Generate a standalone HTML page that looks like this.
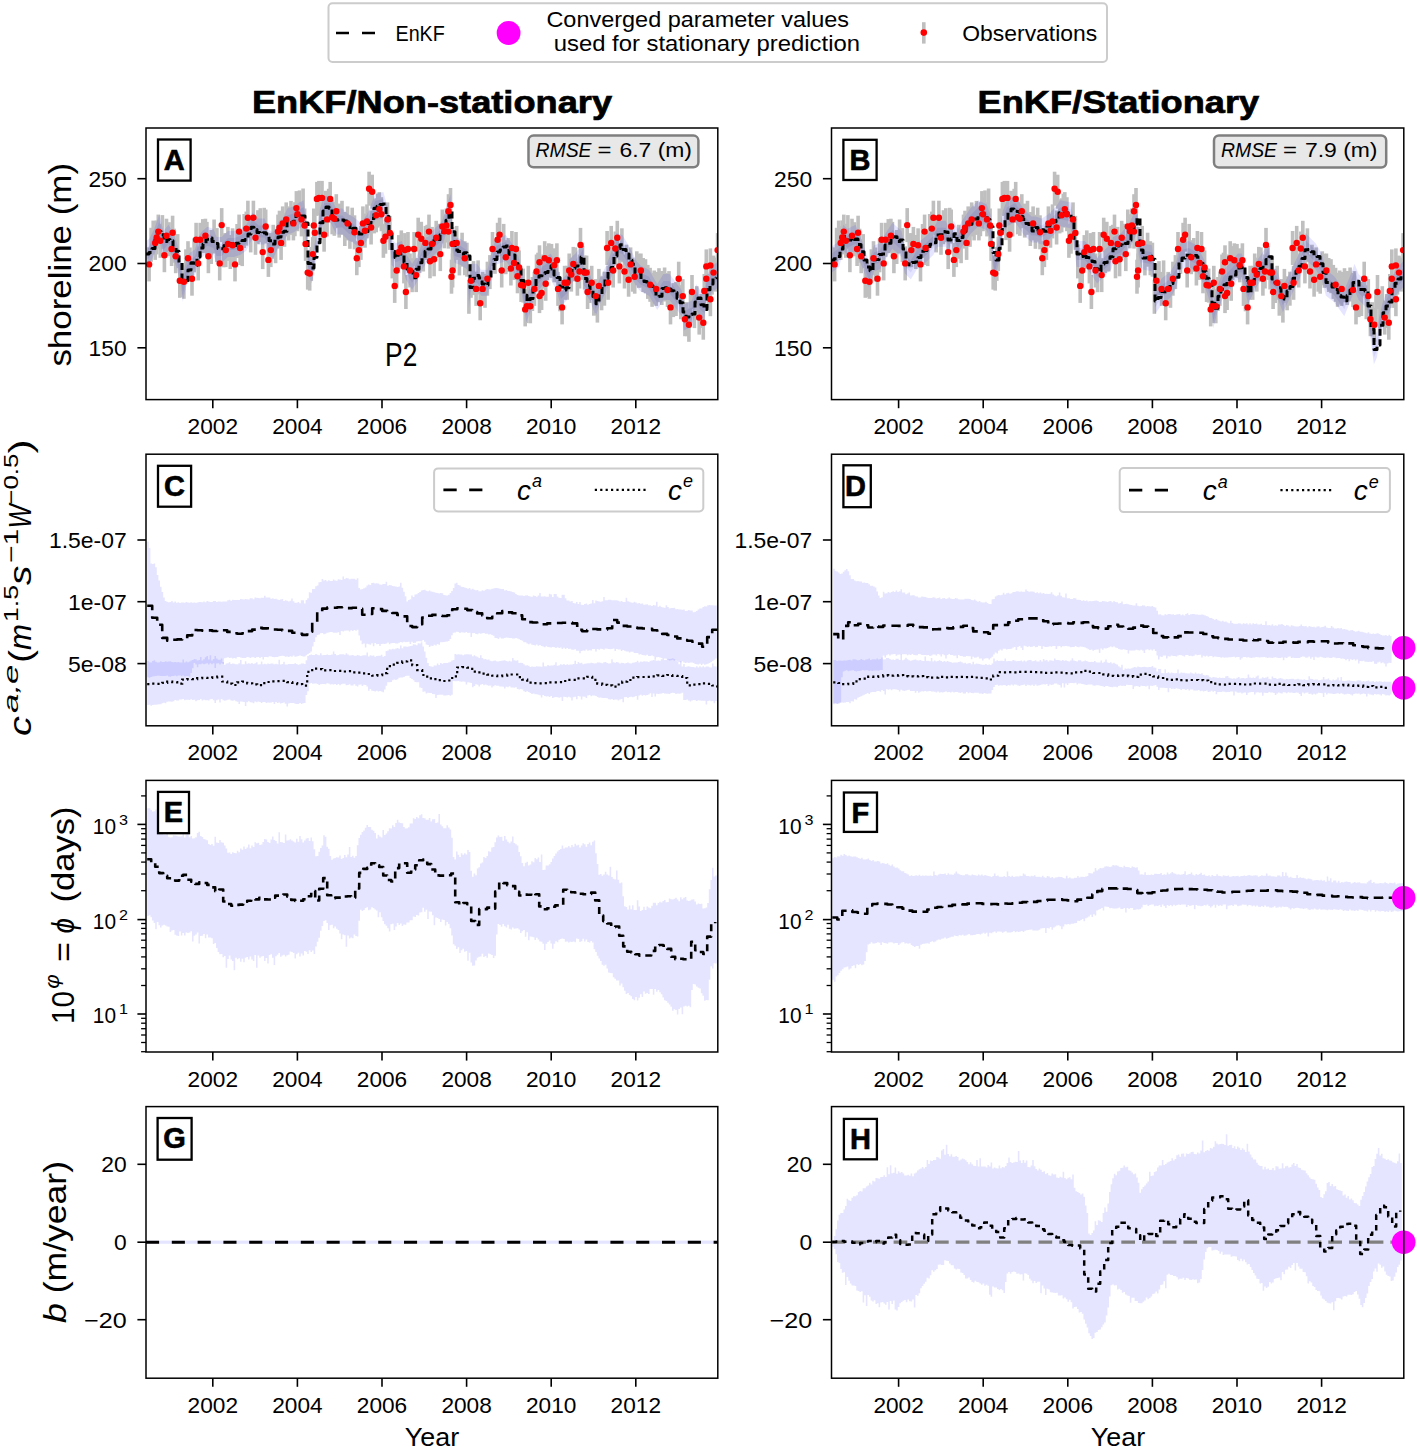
<!DOCTYPE html><html><head><meta charset="utf-8"><style>html,body{margin:0;padding:0;background:#fff;}svg{display:block;}text{font-family:"Liberation Sans", sans-serif;}</style></head><body>
<svg width="1417" height="1447" viewBox="0 0 1417 1447">
<rect x="0" y="0" width="1417" height="1447" fill="#fff"/>
<defs>
<clipPath id="c00"><rect x="146.0" y="128.0" width="571.8" height="271.6"/></clipPath>
<clipPath id="c01"><rect x="146.0" y="454.2" width="571.8" height="271.6"/></clipPath>
<clipPath id="c02"><rect x="146.0" y="780.4" width="571.8" height="271.6"/></clipPath>
<clipPath id="c03"><rect x="146.0" y="1106.6" width="571.8" height="271.6"/></clipPath>
<clipPath id="c10"><rect x="831.5" y="128.0" width="572.3" height="271.6"/></clipPath>
<clipPath id="c11"><rect x="831.5" y="454.2" width="572.3" height="271.6"/></clipPath>
<clipPath id="c12"><rect x="831.5" y="780.4" width="572.3" height="271.6"/></clipPath>
<clipPath id="c13"><rect x="831.5" y="1106.6" width="572.3" height="271.6"/></clipPath>
</defs>
<rect x="328.5" y="3.3" width="778.5" height="58.7" rx="4" ry="4" fill="#fff" stroke="#cccccc" stroke-width="2"/>
<line x1="336" y1="33" x2="376" y2="33" stroke="#000" stroke-width="2.6" stroke-dasharray="13,13"/>
<text x="395.5" y="40.8" font-size="21.3" text-anchor="start" font-weight="normal" font-style="normal" fill="#000" textLength="49.3" lengthAdjust="spacingAndGlyphs" >EnKF</text>
<circle cx="508.6" cy="33" r="11.9" fill="#ff00ff"/>
<text x="546.4" y="26.9" font-size="21.3" text-anchor="start" font-weight="normal" font-style="normal" fill="#000" textLength="302.6" lengthAdjust="spacingAndGlyphs" >Converged parameter values</text>
<text x="553.7" y="50.6" font-size="21.3" text-anchor="start" font-weight="normal" font-style="normal" fill="#000" textLength="306.3" lengthAdjust="spacingAndGlyphs" >used for stationary prediction</text>
<rect x="922" y="22.2" width="3.6" height="21.4" fill="#bfbfbf"/>
<circle cx="923.8" cy="32.6" r="3.3" fill="#ff0000"/>
<text x="962.3" y="40.8" font-size="21.3" text-anchor="start" font-weight="normal" font-style="normal" fill="#000" textLength="134.9" lengthAdjust="spacingAndGlyphs" >Observations</text>
<text x="432.0" y="112.5" font-size="31.8" text-anchor="middle" font-weight="bold" font-style="normal" fill="#000" textLength="360.1" lengthAdjust="spacingAndGlyphs" stroke="#000" stroke-width="0.7">EnKF/Non-stationary</text>
<text x="1118.4" y="112.5" font-size="31.8" text-anchor="middle" font-weight="bold" font-style="normal" fill="#000" textLength="281.6" lengthAdjust="spacingAndGlyphs" stroke="#000" stroke-width="0.7">EnKF/Stationary</text>
<g clip-path="url(#c00)">
<rect x="147.3" y="247.4" width="3.6" height="34" fill="#bfbfbf"/>
<rect x="153.4" y="225.9" width="3.6" height="34" fill="#bfbfbf"/>
<rect x="156.5" y="214.6" width="3.6" height="34" fill="#bfbfbf"/>
<rect x="158.5" y="223.8" width="3.6" height="34" fill="#bfbfbf"/>
<rect x="162.6" y="238.2" width="3.6" height="34" fill="#bfbfbf"/>
<rect x="164.7" y="218.7" width="3.6" height="34" fill="#bfbfbf"/>
<rect x="170.8" y="215.7" width="3.6" height="34" fill="#bfbfbf"/>
<rect x="169.8" y="232.0" width="3.6" height="34" fill="#bfbfbf"/>
<rect x="173.9" y="239.2" width="3.6" height="34" fill="#bfbfbf"/>
<rect x="178.0" y="263.8" width="3.6" height="34" fill="#bfbfbf"/>
<rect x="182.1" y="264.8" width="3.6" height="34" fill="#bfbfbf"/>
<rect x="186.2" y="241.2" width="3.6" height="34" fill="#bfbfbf"/>
<rect x="190.2" y="261.7" width="3.6" height="34" fill="#bfbfbf"/>
<rect x="194.3" y="222.8" width="3.6" height="34" fill="#bfbfbf"/>
<rect x="196.4" y="246.4" width="3.6" height="34" fill="#bfbfbf"/>
<rect x="198.4" y="222.8" width="3.6" height="34" fill="#bfbfbf"/>
<rect x="203.6" y="218.7" width="3.6" height="34" fill="#bfbfbf"/>
<rect x="206.6" y="239.2" width="3.6" height="34" fill="#bfbfbf"/>
<rect x="217.9" y="246.4" width="3.6" height="34" fill="#bfbfbf"/>
<rect x="219.9" y="208.1" width="3.6" height="34" fill="#bfbfbf"/>
<rect x="224.0" y="233.1" width="3.6" height="34" fill="#bfbfbf"/>
<rect x="226.1" y="226.9" width="3.6" height="34" fill="#bfbfbf"/>
<rect x="233.2" y="247.4" width="3.6" height="34" fill="#bfbfbf"/>
<rect x="237.3" y="214.6" width="3.6" height="34" fill="#bfbfbf"/>
<rect x="238.3" y="231.0" width="3.6" height="34" fill="#bfbfbf"/>
<rect x="244.5" y="211.6" width="3.6" height="34" fill="#bfbfbf"/>
<rect x="246.1" y="200.7" width="3.6" height="34" fill="#bfbfbf"/>
<rect x="251.6" y="200.7" width="3.6" height="34" fill="#bfbfbf"/>
<rect x="253.7" y="220.8" width="3.6" height="34" fill="#bfbfbf"/>
<rect x="260.9" y="235.1" width="3.6" height="34" fill="#bfbfbf"/>
<rect x="263.9" y="209.5" width="3.6" height="34" fill="#bfbfbf"/>
<rect x="266.6" y="242.9" width="3.6" height="34" fill="#bfbfbf"/>
<rect x="269.0" y="233.1" width="3.6" height="34" fill="#bfbfbf"/>
<rect x="276.2" y="214.6" width="3.6" height="34" fill="#bfbfbf"/>
<rect x="279.3" y="225.9" width="3.6" height="34" fill="#bfbfbf"/>
<rect x="280.9" y="206.4" width="3.6" height="34" fill="#bfbfbf"/>
<rect x="284.4" y="202.4" width="3.6" height="34" fill="#bfbfbf"/>
<rect x="291.6" y="206.4" width="3.6" height="34" fill="#bfbfbf"/>
<rect x="294.6" y="191.1" width="3.6" height="34" fill="#bfbfbf"/>
<rect x="295.7" y="197.2" width="3.6" height="34" fill="#bfbfbf"/>
<rect x="299.7" y="202.4" width="3.6" height="34" fill="#bfbfbf"/>
<rect x="302.8" y="208.5" width="3.6" height="34" fill="#bfbfbf"/>
<rect x="303.8" y="226.9" width="3.6" height="34" fill="#bfbfbf"/>
<rect x="305.9" y="255.6" width="3.6" height="34" fill="#bfbfbf"/>
<rect x="307.9" y="256.6" width="3.6" height="34" fill="#bfbfbf"/>
<rect x="311.0" y="237.1" width="3.6" height="34" fill="#bfbfbf"/>
<rect x="312.0" y="208.5" width="3.6" height="34" fill="#bfbfbf"/>
<rect x="313.0" y="215.7" width="3.6" height="34" fill="#bfbfbf"/>
<rect x="315.1" y="181.9" width="3.6" height="34" fill="#bfbfbf"/>
<rect x="317.1" y="180.9" width="3.6" height="34" fill="#bfbfbf"/>
<rect x="320.2" y="180.9" width="3.6" height="34" fill="#bfbfbf"/>
<rect x="322.3" y="217.7" width="3.6" height="34" fill="#bfbfbf"/>
<rect x="325.3" y="202.4" width="3.6" height="34" fill="#bfbfbf"/>
<rect x="328.4" y="181.9" width="3.6" height="34" fill="#bfbfbf"/>
<rect x="330.4" y="200.3" width="3.6" height="34" fill="#bfbfbf"/>
<rect x="334.5" y="194.2" width="3.6" height="34" fill="#bfbfbf"/>
<rect x="345.8" y="206.4" width="3.6" height="34" fill="#bfbfbf"/>
<rect x="355.0" y="241.2" width="3.6" height="34" fill="#bfbfbf"/>
<rect x="357.1" y="233.1" width="3.6" height="34" fill="#bfbfbf"/>
<rect x="359.1" y="225.9" width="3.6" height="34" fill="#bfbfbf"/>
<rect x="361.1" y="206.4" width="3.6" height="34" fill="#bfbfbf"/>
<rect x="365.2" y="204.4" width="3.6" height="34" fill="#bfbfbf"/>
<rect x="367.3" y="171.7" width="3.6" height="34" fill="#bfbfbf"/>
<rect x="370.4" y="174.7" width="3.6" height="34" fill="#bfbfbf"/>
<rect x="369.3" y="210.5" width="3.6" height="34" fill="#bfbfbf"/>
<rect x="374.4" y="198.3" width="3.6" height="34" fill="#bfbfbf"/>
<rect x="377.5" y="192.1" width="3.6" height="34" fill="#bfbfbf"/>
<rect x="379.6" y="197.2" width="3.6" height="34" fill="#bfbfbf"/>
<rect x="381.6" y="223.8" width="3.6" height="34" fill="#bfbfbf"/>
<rect x="383.7" y="219.7" width="3.6" height="34" fill="#bfbfbf"/>
<rect x="385.7" y="202.4" width="3.6" height="34" fill="#bfbfbf"/>
<rect x="392.9" y="268.9" width="3.6" height="34" fill="#bfbfbf"/>
<rect x="394.9" y="253.5" width="3.6" height="34" fill="#bfbfbf"/>
<rect x="397.0" y="235.1" width="3.6" height="34" fill="#bfbfbf"/>
<rect x="402.1" y="249.4" width="3.6" height="34" fill="#bfbfbf"/>
<rect x="403.1" y="233.1" width="3.6" height="34" fill="#bfbfbf"/>
<rect x="404.1" y="275.0" width="3.6" height="34" fill="#bfbfbf"/>
<rect x="406.2" y="232.0" width="3.6" height="34" fill="#bfbfbf"/>
<rect x="408.2" y="253.5" width="3.6" height="34" fill="#bfbfbf"/>
<rect x="412.3" y="232.0" width="3.6" height="34" fill="#bfbfbf"/>
<rect x="416.4" y="217.7" width="3.6" height="34" fill="#bfbfbf"/>
<rect x="419.5" y="221.8" width="3.6" height="34" fill="#bfbfbf"/>
<rect x="423.6" y="225.9" width="3.6" height="34" fill="#bfbfbf"/>
<rect x="427.2" y="214.6" width="3.6" height="34" fill="#bfbfbf"/>
<rect x="428.2" y="244.3" width="3.6" height="34" fill="#bfbfbf"/>
<rect x="430.3" y="226.9" width="3.6" height="34" fill="#bfbfbf"/>
<rect x="432.3" y="242.3" width="3.6" height="34" fill="#bfbfbf"/>
<rect x="434.4" y="220.8" width="3.6" height="34" fill="#bfbfbf"/>
<rect x="438.5" y="237.1" width="3.6" height="34" fill="#bfbfbf"/>
<rect x="440.5" y="209.5" width="3.6" height="34" fill="#bfbfbf"/>
<rect x="444.6" y="208.5" width="3.6" height="34" fill="#bfbfbf"/>
<rect x="446.7" y="214.6" width="3.6" height="34" fill="#bfbfbf"/>
<rect x="446.7" y="194.2" width="3.6" height="34" fill="#bfbfbf"/>
<rect x="448.7" y="188.0" width="3.6" height="34" fill="#bfbfbf"/>
<rect x="450.8" y="253.5" width="3.6" height="34" fill="#bfbfbf"/>
<rect x="449.7" y="259.7" width="3.6" height="34" fill="#bfbfbf"/>
<rect x="450.8" y="226.9" width="3.6" height="34" fill="#bfbfbf"/>
<rect x="454.9" y="225.9" width="3.6" height="34" fill="#bfbfbf"/>
<rect x="463.0" y="241.2" width="3.6" height="34" fill="#bfbfbf"/>
<rect x="469.2" y="263.8" width="3.6" height="34" fill="#bfbfbf"/>
<rect x="474.3" y="271.9" width="3.6" height="34" fill="#bfbfbf"/>
<rect x="478.4" y="286.3" width="3.6" height="34" fill="#bfbfbf"/>
<rect x="485.6" y="261.7" width="3.6" height="34" fill="#bfbfbf"/>
<rect x="490.7" y="232.0" width="3.6" height="34" fill="#bfbfbf"/>
<rect x="495.8" y="222.8" width="3.6" height="34" fill="#bfbfbf"/>
<rect x="497.8" y="217.7" width="3.6" height="34" fill="#bfbfbf"/>
<rect x="499.9" y="253.5" width="3.6" height="34" fill="#bfbfbf"/>
<rect x="504.0" y="240.2" width="3.6" height="34" fill="#bfbfbf"/>
<rect x="509.1" y="251.5" width="3.6" height="34" fill="#bfbfbf"/>
<rect x="510.1" y="231.0" width="3.6" height="34" fill="#bfbfbf"/>
<rect x="514.2" y="232.0" width="3.6" height="34" fill="#bfbfbf"/>
<rect x="517.3" y="250.4" width="3.6" height="34" fill="#bfbfbf"/>
<rect x="523.4" y="292.4" width="3.6" height="34" fill="#bfbfbf"/>
<rect x="526.5" y="265.8" width="3.6" height="34" fill="#bfbfbf"/>
<rect x="528.5" y="289.3" width="3.6" height="34" fill="#bfbfbf"/>
<rect x="532.6" y="271.9" width="3.6" height="34" fill="#bfbfbf"/>
<rect x="534.7" y="254.5" width="3.6" height="34" fill="#bfbfbf"/>
<rect x="537.7" y="245.3" width="3.6" height="34" fill="#bfbfbf"/>
<rect x="537.7" y="279.1" width="3.6" height="34" fill="#bfbfbf"/>
<rect x="539.8" y="276.0" width="3.6" height="34" fill="#bfbfbf"/>
<rect x="542.9" y="241.2" width="3.6" height="34" fill="#bfbfbf"/>
<rect x="543.9" y="266.8" width="3.6" height="34" fill="#bfbfbf"/>
<rect x="547.0" y="243.3" width="3.6" height="34" fill="#bfbfbf"/>
<rect x="555.1" y="243.3" width="3.6" height="34" fill="#bfbfbf"/>
<rect x="556.2" y="271.9" width="3.6" height="34" fill="#bfbfbf"/>
<rect x="560.3" y="290.4" width="3.6" height="34" fill="#bfbfbf"/>
<rect x="565.4" y="265.8" width="3.6" height="34" fill="#bfbfbf"/>
<rect x="567.4" y="253.5" width="3.6" height="34" fill="#bfbfbf"/>
<rect x="569.5" y="257.6" width="3.6" height="34" fill="#bfbfbf"/>
<rect x="575.6" y="261.7" width="3.6" height="34" fill="#bfbfbf"/>
<rect x="578.7" y="227.9" width="3.6" height="34" fill="#bfbfbf"/>
<rect x="577.7" y="254.5" width="3.6" height="34" fill="#bfbfbf"/>
<rect x="584.8" y="255.6" width="3.6" height="34" fill="#bfbfbf"/>
<rect x="585.8" y="275.0" width="3.6" height="34" fill="#bfbfbf"/>
<rect x="589.9" y="265.8" width="3.6" height="34" fill="#bfbfbf"/>
<rect x="594.0" y="279.1" width="3.6" height="34" fill="#bfbfbf"/>
<rect x="597.1" y="268.9" width="3.6" height="34" fill="#bfbfbf"/>
<rect x="605.3" y="231.0" width="3.6" height="34" fill="#bfbfbf"/>
<rect x="606.3" y="265.8" width="3.6" height="34" fill="#bfbfbf"/>
<rect x="609.4" y="225.9" width="3.6" height="34" fill="#bfbfbf"/>
<rect x="611.4" y="253.5" width="3.6" height="34" fill="#bfbfbf"/>
<rect x="615.5" y="220.8" width="3.6" height="34" fill="#bfbfbf"/>
<rect x="617.6" y="249.4" width="3.6" height="34" fill="#bfbfbf"/>
<rect x="622.7" y="254.5" width="3.6" height="34" fill="#bfbfbf"/>
<rect x="626.8" y="262.7" width="3.6" height="34" fill="#bfbfbf"/>
<rect x="628.8" y="247.4" width="3.6" height="34" fill="#bfbfbf"/>
<rect x="632.9" y="259.7" width="3.6" height="34" fill="#bfbfbf"/>
<rect x="639.1" y="253.5" width="3.6" height="34" fill="#bfbfbf"/>
<rect x="648.3" y="267.8" width="3.6" height="34" fill="#bfbfbf"/>
<rect x="654.4" y="271.9" width="3.6" height="34" fill="#bfbfbf"/>
<rect x="665.7" y="273.0" width="3.6" height="34" fill="#bfbfbf"/>
<rect x="668.7" y="290.4" width="3.6" height="34" fill="#bfbfbf"/>
<rect x="676.9" y="261.7" width="3.6" height="34" fill="#bfbfbf"/>
<rect x="681.0" y="279.1" width="3.6" height="34" fill="#bfbfbf"/>
<rect x="687.1" y="307.8" width="3.6" height="34" fill="#bfbfbf"/>
<rect x="690.2" y="275.0" width="3.6" height="34" fill="#bfbfbf"/>
<rect x="697.4" y="300.6" width="3.6" height="34" fill="#bfbfbf"/>
<rect x="701.5" y="305.7" width="3.6" height="34" fill="#bfbfbf"/>
<rect x="702.5" y="274.0" width="3.6" height="34" fill="#bfbfbf"/>
<rect x="704.5" y="261.7" width="3.6" height="34" fill="#bfbfbf"/>
<rect x="704.5" y="249.4" width="3.6" height="34" fill="#bfbfbf"/>
<rect x="708.6" y="248.4" width="3.6" height="34" fill="#bfbfbf"/>
<rect x="708.6" y="282.2" width="3.6" height="34" fill="#bfbfbf"/>
<rect x="711.7" y="255.6" width="3.6" height="34" fill="#bfbfbf"/>
<rect x="715.8" y="233.1" width="3.6" height="34" fill="#bfbfbf"/>
<rect x="149.3" y="227.8" width="3.6" height="34" fill="#bfbfbf"/>
<rect x="151.4" y="220.6" width="3.6" height="34" fill="#bfbfbf"/>
<rect x="154.9" y="220.4" width="3.6" height="34" fill="#bfbfbf"/>
<rect x="160.6" y="215.1" width="3.6" height="34" fill="#bfbfbf"/>
<rect x="167.2" y="222.2" width="3.6" height="34" fill="#bfbfbf"/>
<rect x="172.3" y="228.7" width="3.6" height="34" fill="#bfbfbf"/>
<rect x="175.9" y="234.1" width="3.6" height="34" fill="#bfbfbf"/>
<rect x="180.0" y="262.9" width="3.6" height="34" fill="#bfbfbf"/>
<rect x="184.1" y="249.3" width="3.6" height="34" fill="#bfbfbf"/>
<rect x="188.2" y="247.5" width="3.6" height="34" fill="#bfbfbf"/>
<rect x="192.3" y="238.3" width="3.6" height="34" fill="#bfbfbf"/>
<rect x="201.0" y="219.1" width="3.6" height="34" fill="#bfbfbf"/>
<rect x="205.1" y="221.9" width="3.6" height="34" fill="#bfbfbf"/>
<rect x="209.4" y="230.0" width="3.6" height="34" fill="#bfbfbf"/>
<rect x="212.3" y="219.5" width="3.6" height="34" fill="#bfbfbf"/>
<rect x="215.1" y="228.1" width="3.6" height="34" fill="#bfbfbf"/>
<rect x="222.0" y="233.3" width="3.6" height="34" fill="#bfbfbf"/>
<rect x="228.5" y="235.0" width="3.6" height="34" fill="#bfbfbf"/>
<rect x="230.8" y="228.3" width="3.6" height="34" fill="#bfbfbf"/>
<rect x="235.3" y="224.0" width="3.6" height="34" fill="#bfbfbf"/>
<rect x="240.4" y="232.1" width="3.6" height="34" fill="#bfbfbf"/>
<rect x="242.4" y="214.0" width="3.6" height="34" fill="#bfbfbf"/>
<rect x="248.9" y="218.4" width="3.6" height="34" fill="#bfbfbf"/>
<rect x="256.1" y="210.2" width="3.6" height="34" fill="#bfbfbf"/>
<rect x="258.5" y="208.2" width="3.6" height="34" fill="#bfbfbf"/>
<rect x="262.4" y="207.8" width="3.6" height="34" fill="#bfbfbf"/>
<rect x="271.4" y="224.8" width="3.6" height="34" fill="#bfbfbf"/>
<rect x="273.8" y="229.2" width="3.6" height="34" fill="#bfbfbf"/>
<rect x="277.7" y="210.7" width="3.6" height="34" fill="#bfbfbf"/>
<rect x="282.7" y="212.8" width="3.6" height="34" fill="#bfbfbf"/>
<rect x="286.8" y="206.4" width="3.6" height="34" fill="#bfbfbf"/>
<rect x="289.2" y="200.9" width="3.6" height="34" fill="#bfbfbf"/>
<rect x="293.1" y="202.2" width="3.6" height="34" fill="#bfbfbf"/>
<rect x="297.7" y="190.4" width="3.6" height="34" fill="#bfbfbf"/>
<rect x="301.3" y="188.5" width="3.6" height="34" fill="#bfbfbf"/>
<rect x="309.5" y="246.9" width="3.6" height="34" fill="#bfbfbf"/>
<rect x="318.7" y="206.1" width="3.6" height="34" fill="#bfbfbf"/>
<rect x="323.8" y="190.8" width="3.6" height="34" fill="#bfbfbf"/>
<rect x="326.9" y="188.8" width="3.6" height="34" fill="#bfbfbf"/>
<rect x="332.5" y="201.8" width="3.6" height="34" fill="#bfbfbf"/>
<rect x="337.4" y="203.6" width="3.6" height="34" fill="#bfbfbf"/>
<rect x="340.2" y="200.8" width="3.6" height="34" fill="#bfbfbf"/>
<rect x="343.0" y="212.0" width="3.6" height="34" fill="#bfbfbf"/>
<rect x="348.1" y="214.8" width="3.6" height="34" fill="#bfbfbf"/>
<rect x="350.4" y="207.7" width="3.6" height="34" fill="#bfbfbf"/>
<rect x="352.7" y="215.3" width="3.6" height="34" fill="#bfbfbf"/>
<rect x="363.2" y="213.7" width="3.6" height="34" fill="#bfbfbf"/>
<rect x="372.4" y="199.4" width="3.6" height="34" fill="#bfbfbf"/>
<rect x="376.0" y="193.6" width="3.6" height="34" fill="#bfbfbf"/>
<rect x="388.1" y="215.9" width="3.6" height="34" fill="#bfbfbf"/>
<rect x="390.5" y="244.4" width="3.6" height="34" fill="#bfbfbf"/>
<rect x="399.5" y="230.4" width="3.6" height="34" fill="#bfbfbf"/>
<rect x="410.3" y="258.2" width="3.6" height="34" fill="#bfbfbf"/>
<rect x="414.4" y="258.1" width="3.6" height="34" fill="#bfbfbf"/>
<rect x="417.9" y="238.9" width="3.6" height="34" fill="#bfbfbf"/>
<rect x="421.5" y="237.5" width="3.6" height="34" fill="#bfbfbf"/>
<rect x="425.4" y="224.8" width="3.6" height="34" fill="#bfbfbf"/>
<rect x="436.4" y="223.8" width="3.6" height="34" fill="#bfbfbf"/>
<rect x="442.6" y="214.3" width="3.6" height="34" fill="#bfbfbf"/>
<rect x="452.8" y="234.4" width="3.6" height="34" fill="#bfbfbf"/>
<rect x="457.6" y="241.4" width="3.6" height="34" fill="#bfbfbf"/>
<rect x="460.3" y="232.7" width="3.6" height="34" fill="#bfbfbf"/>
<rect x="465.1" y="242.7" width="3.6" height="34" fill="#bfbfbf"/>
<rect x="467.1" y="279.8" width="3.6" height="34" fill="#bfbfbf"/>
<rect x="471.7" y="261.1" width="3.6" height="34" fill="#bfbfbf"/>
<rect x="476.3" y="260.4" width="3.6" height="34" fill="#bfbfbf"/>
<rect x="480.8" y="271.9" width="3.6" height="34" fill="#bfbfbf"/>
<rect x="483.2" y="273.8" width="3.6" height="34" fill="#bfbfbf"/>
<rect x="488.1" y="255.1" width="3.6" height="34" fill="#bfbfbf"/>
<rect x="493.2" y="239.8" width="3.6" height="34" fill="#bfbfbf"/>
<rect x="501.9" y="223.9" width="3.6" height="34" fill="#bfbfbf"/>
<rect x="506.5" y="238.0" width="3.6" height="34" fill="#bfbfbf"/>
<rect x="512.2" y="245.9" width="3.6" height="34" fill="#bfbfbf"/>
<rect x="515.7" y="259.3" width="3.6" height="34" fill="#bfbfbf"/>
<rect x="519.3" y="268.0" width="3.6" height="34" fill="#bfbfbf"/>
<rect x="521.4" y="268.6" width="3.6" height="34" fill="#bfbfbf"/>
<rect x="525.0" y="289.1" width="3.6" height="34" fill="#bfbfbf"/>
<rect x="530.6" y="277.0" width="3.6" height="34" fill="#bfbfbf"/>
<rect x="536.2" y="252.7" width="3.6" height="34" fill="#bfbfbf"/>
<rect x="541.3" y="254.5" width="3.6" height="34" fill="#bfbfbf"/>
<rect x="545.4" y="246.1" width="3.6" height="34" fill="#bfbfbf"/>
<rect x="549.7" y="243.9" width="3.6" height="34" fill="#bfbfbf"/>
<rect x="552.4" y="248.3" width="3.6" height="34" fill="#bfbfbf"/>
<rect x="558.2" y="277.3" width="3.6" height="34" fill="#bfbfbf"/>
<rect x="562.8" y="265.8" width="3.6" height="34" fill="#bfbfbf"/>
<rect x="571.5" y="246.9" width="3.6" height="34" fill="#bfbfbf"/>
<rect x="573.6" y="247.5" width="3.6" height="34" fill="#bfbfbf"/>
<rect x="580.7" y="245.9" width="3.6" height="34" fill="#bfbfbf"/>
<rect x="582.8" y="255.5" width="3.6" height="34" fill="#bfbfbf"/>
<rect x="587.9" y="269.0" width="3.6" height="34" fill="#bfbfbf"/>
<rect x="592.0" y="281.7" width="3.6" height="34" fill="#bfbfbf"/>
<rect x="595.6" y="288.6" width="3.6" height="34" fill="#bfbfbf"/>
<rect x="599.8" y="276.3" width="3.6" height="34" fill="#bfbfbf"/>
<rect x="602.6" y="271.7" width="3.6" height="34" fill="#bfbfbf"/>
<rect x="607.8" y="248.2" width="3.6" height="34" fill="#bfbfbf"/>
<rect x="613.5" y="231.5" width="3.6" height="34" fill="#bfbfbf"/>
<rect x="620.1" y="228.3" width="3.6" height="34" fill="#bfbfbf"/>
<rect x="624.7" y="244.7" width="3.6" height="34" fill="#bfbfbf"/>
<rect x="630.9" y="257.7" width="3.6" height="34" fill="#bfbfbf"/>
<rect x="635.0" y="251.3" width="3.6" height="34" fill="#bfbfbf"/>
<rect x="637.0" y="253.8" width="3.6" height="34" fill="#bfbfbf"/>
<rect x="641.4" y="258.0" width="3.6" height="34" fill="#bfbfbf"/>
<rect x="643.7" y="259.2" width="3.6" height="34" fill="#bfbfbf"/>
<rect x="646.0" y="264.9" width="3.6" height="34" fill="#bfbfbf"/>
<rect x="650.3" y="272.8" width="3.6" height="34" fill="#bfbfbf"/>
<rect x="652.4" y="270.5" width="3.6" height="34" fill="#bfbfbf"/>
<rect x="657.2" y="268.2" width="3.6" height="34" fill="#bfbfbf"/>
<rect x="660.0" y="271.0" width="3.6" height="34" fill="#bfbfbf"/>
<rect x="662.8" y="267.5" width="3.6" height="34" fill="#bfbfbf"/>
<rect x="667.2" y="271.1" width="3.6" height="34" fill="#bfbfbf"/>
<rect x="671.5" y="283.1" width="3.6" height="34" fill="#bfbfbf"/>
<rect x="674.2" y="282.0" width="3.6" height="34" fill="#bfbfbf"/>
<rect x="679.0" y="285.2" width="3.6" height="34" fill="#bfbfbf"/>
<rect x="683.1" y="302.2" width="3.6" height="34" fill="#bfbfbf"/>
<rect x="685.1" y="302.2" width="3.6" height="34" fill="#bfbfbf"/>
<rect x="688.7" y="289.2" width="3.6" height="34" fill="#bfbfbf"/>
<rect x="692.6" y="294.1" width="3.6" height="34" fill="#bfbfbf"/>
<rect x="695.0" y="286.2" width="3.6" height="34" fill="#bfbfbf"/>
<rect x="699.4" y="294.0" width="3.6" height="34" fill="#bfbfbf"/>
<rect x="706.6" y="273.9" width="3.6" height="34" fill="#bfbfbf"/>
<rect x="710.2" y="260.6" width="3.6" height="34" fill="#bfbfbf"/>
<rect x="713.8" y="257.6" width="3.6" height="34" fill="#bfbfbf"/>
<path d="M146.0,241.1 L149.1,239.1 L154.2,228.9 L159.3,214.5 L163.4,230.9 L168.5,224.8 L172.6,230.9 L176.7,242.2 L180.8,257.5 L182.8,275.9 L185.9,261.6 L189.0,253.4 L195.1,249.3 L198.2,237.1 L202.3,230.9 L207.4,226.8 L213.5,228.9 L216.6,237.1 L221.7,237.1 L227.9,230.9 L234.0,230.9 L240.1,228.9 L246.3,224.8 L252.4,212.5 L258.6,218.6 L264.7,218.6 L268.8,228.9 L272.9,233.0 L279.0,220.7 L283.1,218.6 L287.2,208.4 L293.4,206.4 L299.5,202.3 L303.6,200.2 L307.7,228.9 L307.7,247.3 L311.8,257.5 L315.9,237.1 L320.0,208.4 L324.1,196.1 L330.2,196.1 L336.3,208.4 L342.5,208.4 L348.6,214.5 L352.7,216.6 L360.9,222.7 L367.0,214.5 L371.1,204.3 L375.2,194.1 L383.4,192.0 L387.5,206.4 L389.6,220.7 L391.6,239.1 L395.7,243.2 L401.8,241.1 L405.9,253.4 L412.1,263.7 L416.2,257.5 L422.3,243.2 L426.4,237.1 L428.0,237.1 L434.1,228.9 L442.3,220.7 L446.4,206.4 L450.5,194.1 L452.6,224.8 L454.6,237.1 L460.7,239.1 L466.9,243.2 L467.9,257.5 L468.9,282.1 L471.0,263.7 L477.1,263.7 L481.2,269.8 L487.4,269.8 L491.4,253.4 L495.5,239.1 L505.8,235.0 L511.9,243.2 L518.1,255.5 L522.1,269.8 L526.2,296.4 L530.3,286.2 L534.4,269.8 L542.6,259.6 L550.8,253.4 L556.9,265.7 L561.0,280.0 L567.2,273.9 L569.2,259.6 L575.4,253.4 L581.5,245.2 L583.5,241.1 L583.5,265.7 L589.7,273.9 L595.8,290.3 L599.9,278.0 L606.1,265.7 L612.2,249.3 L616.3,233.0 L622.4,235.0 L628.6,245.2 L632.7,253.4 L636.8,261.6 L640.9,265.7 L649.0,269.8 L657.2,284.1 L663.4,273.9 L669.5,273.9 L675.6,282.1 L681.8,290.3 L683.8,304.6 L692.0,300.5 L696.1,284.1 L700.2,290.3 L704.3,294.4 L706.3,275.9 L712.5,265.7 L718.0,261.6 L718.0,287.6 L712.5,291.7 L706.3,301.9 L704.3,320.4 L700.2,316.3 L696.1,310.1 L692.0,326.5 L683.8,330.6 L681.8,316.3 L675.6,308.1 L669.5,299.9 L663.4,299.9 L657.2,310.1 L649.0,295.8 L640.9,291.7 L636.8,287.6 L632.7,279.4 L628.6,271.2 L622.4,261.0 L616.3,259.0 L612.2,275.3 L606.1,291.7 L599.9,304.0 L595.8,316.3 L589.7,299.9 L583.5,291.7 L583.5,267.1 L581.5,271.2 L575.4,279.4 L569.2,285.6 L567.2,299.9 L561.0,306.0 L556.9,291.7 L550.8,279.4 L542.6,285.6 L534.4,295.8 L530.3,312.2 L526.2,322.4 L522.1,295.8 L518.1,281.5 L511.9,269.2 L505.8,261.0 L495.5,265.1 L491.4,279.4 L487.4,295.8 L481.2,295.8 L477.1,289.7 L471.0,289.7 L468.9,308.1 L467.9,283.5 L466.9,269.2 L460.7,265.1 L454.6,263.1 L452.6,250.8 L450.5,220.1 L446.4,232.4 L442.3,246.7 L434.1,254.9 L428.0,263.1 L426.4,263.1 L422.3,269.2 L416.2,283.5 L412.1,289.7 L405.9,279.4 L401.8,267.1 L395.7,269.2 L391.6,265.1 L389.6,246.7 L387.5,232.4 L383.4,218.0 L375.2,220.1 L371.1,230.3 L367.0,240.5 L360.9,248.7 L352.7,242.6 L348.6,240.5 L342.5,234.4 L336.3,234.4 L330.2,222.1 L324.1,222.1 L320.0,234.4 L315.9,263.1 L311.8,283.5 L307.7,273.3 L307.7,254.9 L303.6,226.2 L299.5,228.3 L293.4,232.4 L287.2,234.4 L283.1,244.6 L279.0,246.7 L272.9,259.0 L268.8,254.9 L264.7,244.6 L258.6,244.6 L252.4,238.5 L246.3,250.8 L240.1,254.9 L234.0,256.9 L227.9,256.9 L221.7,263.1 L216.6,263.1 L213.5,254.9 L207.4,252.8 L202.3,256.9 L198.2,263.1 L195.1,275.3 L189.0,279.4 L185.9,287.6 L182.8,301.9 L180.8,283.5 L176.7,268.2 L172.6,256.9 L168.5,250.8 L163.4,256.9 L159.3,240.5 L154.2,254.9 L149.1,265.1 L146.0,267.1 Z" fill="rgba(0,0,255,0.10)" stroke="none"/>
<path d="M146.0,248.1 L149.1,246.1 L154.2,235.9 L159.3,221.5 L163.4,237.9 L168.5,231.8 L172.6,237.9 L176.7,249.2 L180.8,264.5 L182.8,282.9 L185.9,268.6 L189.0,260.4 L195.1,256.3 L198.2,244.1 L202.3,237.9 L207.4,233.8 L213.5,235.9 L216.6,244.1 L221.7,244.1 L227.9,237.9 L234.0,237.9 L240.1,235.9 L246.3,231.8 L252.4,219.5 L258.6,225.6 L264.7,225.6 L268.8,235.9 L272.9,240.0 L279.0,227.7 L283.1,225.6 L287.2,215.4 L293.4,213.4 L299.5,209.3 L303.6,207.2 L307.7,235.9 L307.7,254.3 L311.8,264.5 L315.9,244.1 L320.0,215.4 L324.1,203.1 L330.2,203.1 L336.3,215.4 L342.5,215.4 L348.6,221.5 L352.7,223.6 L360.9,229.7 L367.0,221.5 L371.1,211.3 L375.2,201.1 L383.4,199.0 L387.5,213.4 L389.6,227.7 L391.6,246.1 L395.7,250.2 L401.8,248.1 L405.9,260.4 L412.1,270.7 L416.2,264.5 L422.3,250.2 L426.4,244.1 L428.0,244.1 L434.1,235.9 L442.3,227.7 L446.4,213.4 L450.5,201.1 L452.6,231.8 L454.6,244.1 L460.7,246.1 L466.9,250.2 L467.9,264.5 L468.9,289.1 L471.0,270.7 L477.1,270.7 L481.2,276.8 L487.4,276.8 L491.4,260.4 L495.5,246.1 L505.8,242.0 L511.9,250.2 L518.1,262.5 L522.1,276.8 L526.2,303.4 L530.3,293.2 L534.4,276.8 L542.6,266.6 L550.8,260.4 L556.9,272.7 L561.0,287.0 L567.2,280.9 L569.2,266.6 L575.4,260.4 L581.5,252.2 L583.5,248.1 L583.5,272.7 L589.7,280.9 L595.8,297.3 L599.9,285.0 L606.1,272.7 L612.2,256.3 L616.3,240.0 L622.4,242.0 L628.6,252.2 L632.7,260.4 L636.8,268.6 L640.9,272.7 L649.0,276.8 L657.2,291.1 L663.4,280.9 L669.5,280.9 L675.6,289.1 L681.8,297.3 L683.8,311.6 L692.0,307.5 L696.1,291.1 L700.2,297.3 L704.3,301.4 L706.3,282.9 L712.5,272.7 L718.0,268.6 L718.0,280.6 L712.5,284.7 L706.3,294.9 L704.3,313.4 L700.2,309.3 L696.1,303.1 L692.0,319.5 L683.8,323.6 L681.8,309.3 L675.6,301.1 L669.5,292.9 L663.4,292.9 L657.2,303.1 L649.0,288.8 L640.9,284.7 L636.8,280.6 L632.7,272.4 L628.6,264.2 L622.4,254.0 L616.3,252.0 L612.2,268.3 L606.1,284.7 L599.9,297.0 L595.8,309.3 L589.7,292.9 L583.5,284.7 L583.5,260.1 L581.5,264.2 L575.4,272.4 L569.2,278.6 L567.2,292.9 L561.0,299.0 L556.9,284.7 L550.8,272.4 L542.6,278.6 L534.4,288.8 L530.3,305.2 L526.2,315.4 L522.1,288.8 L518.1,274.5 L511.9,262.2 L505.8,254.0 L495.5,258.1 L491.4,272.4 L487.4,288.8 L481.2,288.8 L477.1,282.7 L471.0,282.7 L468.9,301.1 L467.9,276.5 L466.9,262.2 L460.7,258.1 L454.6,256.1 L452.6,243.8 L450.5,213.1 L446.4,225.4 L442.3,239.7 L434.1,247.9 L428.0,256.1 L426.4,256.1 L422.3,262.2 L416.2,276.5 L412.1,282.7 L405.9,272.4 L401.8,260.1 L395.7,262.2 L391.6,258.1 L389.6,239.7 L387.5,225.4 L383.4,211.0 L375.2,213.1 L371.1,223.3 L367.0,233.5 L360.9,241.7 L352.7,235.6 L348.6,233.5 L342.5,227.4 L336.3,227.4 L330.2,215.1 L324.1,215.1 L320.0,227.4 L315.9,256.1 L311.8,276.5 L307.7,266.3 L307.7,247.9 L303.6,219.2 L299.5,221.3 L293.4,225.4 L287.2,227.4 L283.1,237.6 L279.0,239.7 L272.9,252.0 L268.8,247.9 L264.7,237.6 L258.6,237.6 L252.4,231.5 L246.3,243.8 L240.1,247.9 L234.0,249.9 L227.9,249.9 L221.7,256.1 L216.6,256.1 L213.5,247.9 L207.4,245.8 L202.3,249.9 L198.2,256.1 L195.1,268.3 L189.0,272.4 L185.9,280.6 L182.8,294.9 L180.8,276.5 L176.7,261.2 L172.6,249.9 L168.5,243.8 L163.4,249.9 L159.3,233.5 L154.2,247.9 L149.1,258.1 L146.0,260.1 Z" fill="rgba(0,0,160,0.08)" stroke="none"/>
<path d="M146.0,253.9 L149.0,253.9 L149.0,252.4 L152.0,252.4 L152.0,248.4 L155.0,248.4 L155.0,239.4 L158.0,239.4 L158.0,231.2 L161.0,231.2 L161.0,234.8 L164.0,234.8 L164.0,241.6 L167.0,241.6 L167.0,239.6 L170.0,239.6 L170.0,240.7 L173.0,240.7 L173.0,246.5 L176.0,246.5 L176.0,251.2 L179.0,251.2 L179.0,262.8 L182.0,262.8 L182.0,279.3 L185.0,279.3 L185.0,280.4 L188.0,280.4 L188.0,270.0 L191.0,270.0 L191.0,262.8 L194.0,262.8 L194.0,265.5 L197.0,265.5 L197.0,257.1 L200.0,257.1 L200.0,248.1 L203.0,248.1 L203.0,243.9 L206.0,243.9 L206.0,239.2 L209.0,239.2 L209.0,237.9 L212.0,237.9 L212.0,241.5 L215.0,241.5 L215.0,243.6 L218.0,243.6 L218.0,248.5 L221.0,248.5 L221.0,248.8 L224.0,248.8 L224.0,245.4 L227.0,245.4 L227.0,244.6 L230.0,244.6 L230.0,243.6 L233.0,243.6 L233.0,245.6 L236.0,245.6 L236.0,243.3 L239.0,243.3 L239.0,243.0 L242.0,243.0 L242.0,240.6 L245.0,240.6 L245.0,239.4 L248.0,239.4 L248.0,234.1 L251.0,234.1 L251.0,227.2 L254.0,227.2 L254.0,229.6 L257.0,229.6 L257.0,232.5 L260.0,232.5 L260.0,233.3 L263.0,233.3 L263.0,232.7 L266.0,232.7 L266.0,233.9 L269.0,233.9 L269.0,240.7 L272.0,240.7 L272.0,244.0 L275.0,244.0 L275.0,239.6 L278.0,239.6 L278.0,237.1 L281.0,237.1 L281.0,232.2 L284.0,232.2 L284.0,231.2 L287.0,231.2 L287.0,221.4 L290.0,221.4 L290.0,222.8 L293.0,222.8 L293.0,221.2 L296.0,221.2 L296.0,215.1 L299.0,215.1 L299.0,214.1 L302.0,214.1 L302.0,216.1 L305.0,216.1 L305.0,222.9 L308.0,222.9 L308.0,263.5 L311.0,263.5 L311.0,268.1 L314.0,268.1 L314.0,257.3 L317.0,257.3 L317.0,242.8 L320.0,242.8 L320.0,222.7 L323.0,222.7 L323.0,211.1 L326.0,211.1 L326.0,207.1 L329.0,207.1 L329.0,208.3 L332.0,208.3 L332.0,215.0 L335.0,215.0 L335.0,220.0 L338.0,220.0 L338.0,219.5 L341.0,219.5 L341.0,220.1 L344.0,220.1 L344.0,220.9 L347.0,220.9 L347.0,223.7 L350.0,223.7 L350.0,229.7 L353.0,229.7 L353.0,228.2 L356.0,228.2 L356.0,232.3 L359.0,232.3 L359.0,234.0 L362.0,234.0 L362.0,232.7 L365.0,232.7 L365.0,231.4 L368.0,231.4 L368.0,223.3 L371.0,223.3 L371.0,218.4 L374.0,218.4 L374.0,208.2 L377.0,208.2 L377.0,206.2 L380.0,206.2 L380.0,204.4 L383.0,204.4 L383.0,204.0 L386.0,204.0 L386.0,216.4 L389.0,216.4 L389.0,231.3 L392.0,231.3 L392.0,251.5 L395.0,251.5 L395.0,257.4 L398.0,257.4 L398.0,254.0 L401.0,254.0 L401.0,253.9 L404.0,253.9 L404.0,262.4 L407.0,262.4 L407.0,268.9 L410.0,268.9 L410.0,271.2 L413.0,271.2 L413.0,277.7 L416.0,277.7 L416.0,269.3 L419.0,269.3 L419.0,262.7 L422.0,262.7 L422.0,258.3 L425.0,258.3 L425.0,251.3 L428.0,251.3 L428.0,249.0 L431.0,249.0 L431.0,243.9 L434.0,243.9 L434.0,240.0 L437.0,240.0 L437.0,239.4 L440.0,239.4 L440.0,234.7 L443.0,234.7 L443.0,231.8 L446.0,231.8 L446.0,220.2 L449.0,220.2 L449.0,211.4 L452.0,211.4 L452.0,231.7 L455.0,231.7 L455.0,250.1 L458.0,250.1 L458.0,251.6 L461.0,251.6 L461.0,254.1 L464.0,254.1 L464.0,252.7 L467.0,252.7 L467.0,256.1 L470.0,256.1 L470.0,287.5 L473.0,287.5 L473.0,278.2 L476.0,278.2 L476.0,275.4 L479.0,275.4 L479.0,277.9 L482.0,277.9 L482.0,284.0 L485.0,284.0 L485.0,285.0 L488.0,285.0 L488.0,278.7 L491.0,278.7 L491.0,270.5 L494.0,270.5 L494.0,259.4 L497.0,259.4 L497.0,252.0 L500.0,252.0 L500.0,249.9 L503.0,249.9 L503.0,247.1 L506.0,247.1 L506.0,246.0 L509.0,246.0 L509.0,254.6 L512.0,254.6 L512.0,255.1 L515.0,255.1 L515.0,263.4 L518.0,263.4 L518.0,267.2 L521.0,267.2 L521.0,280.4 L524.0,280.4 L524.0,295.3 L527.0,295.3 L527.0,306.5 L530.0,306.5 L530.0,298.4 L533.0,298.4 L533.0,289.6 L536.0,289.6 L536.0,278.7 L539.0,278.7 L539.0,275.7 L542.0,275.7 L542.0,273.6 L545.0,273.6 L545.0,272.5 L548.0,272.5 L548.0,269.1 L551.0,269.1 L551.0,265.7 L554.0,265.7 L554.0,274.9 L557.0,274.9 L557.0,277.4 L560.0,277.4 L560.0,287.0 L563.0,287.0 L563.0,289.9 L566.0,289.9 L566.0,287.8 L569.0,287.8 L569.0,271.9 L572.0,271.9 L572.0,268.2 L575.0,268.2 L575.0,266.1 L578.0,266.1 L578.0,263.3 L581.0,263.3 L581.0,257.1 L584.0,257.1 L584.0,278.6 L587.0,278.6 L587.0,285.3 L590.0,285.3 L590.0,290.1 L593.0,290.1 L593.0,296.5 L596.0,296.5 L596.0,303.7 L599.0,303.7 L599.0,294.2 L602.0,294.2 L602.0,285.0 L605.0,285.0 L605.0,278.5 L608.0,278.5 L608.0,271.1 L611.0,271.1 L611.0,267.6 L614.0,267.6 L614.0,256.1 L617.0,256.1 L617.0,248.5 L620.0,248.5 L620.0,244.8 L623.0,244.8 L623.0,249.6 L626.0,249.6 L626.0,253.9 L629.0,253.9 L629.0,260.2 L632.0,260.2 L632.0,264.2 L635.0,264.2 L635.0,273.6 L638.0,273.6 L638.0,273.7 L641.0,273.7 L641.0,279.0 L644.0,279.0 L644.0,281.5 L647.0,281.5 L647.0,283.8 L650.0,283.8 L650.0,285.7 L653.0,285.7 L653.0,290.7 L656.0,290.7 L656.0,296.4 L659.0,296.4 L659.0,296.2 L662.0,296.2 L662.0,288.4 L665.0,288.4 L665.0,287.8 L668.0,287.8 L668.0,288.9 L671.0,288.9 L671.0,290.7 L674.0,290.7 L674.0,292.5 L677.0,292.5 L677.0,298.3 L680.0,298.3 L680.0,302.7 L683.0,302.7 L683.0,312.1 L686.0,312.1 L686.0,317.1 L689.0,317.1 L689.0,314.4 L692.0,314.4 L692.0,313.9 L695.0,313.9 L695.0,302.1 L698.0,302.1 L698.0,297.9 L701.0,297.9 L701.0,304.8 L704.0,304.8 L704.0,309.5 L707.0,309.5 L707.0,289.7 L710.0,289.7 L710.0,284.0 L713.0,284.0 L713.0,277.8 L716.0,277.8 L716.0,277.3" fill="none" stroke="#000" stroke-width="3.0" stroke-dasharray="7,3.5" stroke-linejoin="round" />
<circle cx="149.1" cy="264.4" r="3.2" fill="#ff0000"/>
<circle cx="155.2" cy="242.9" r="3.2" fill="#ff0000"/>
<circle cx="158.3" cy="231.6" r="3.2" fill="#ff0000"/>
<circle cx="160.3" cy="240.8" r="3.2" fill="#ff0000"/>
<circle cx="164.4" cy="255.2" r="3.2" fill="#ff0000"/>
<circle cx="166.5" cy="235.7" r="3.2" fill="#ff0000"/>
<circle cx="172.6" cy="232.7" r="3.2" fill="#ff0000"/>
<circle cx="171.6" cy="249.0" r="3.2" fill="#ff0000"/>
<circle cx="175.7" cy="256.2" r="3.2" fill="#ff0000"/>
<circle cx="179.8" cy="280.8" r="3.2" fill="#ff0000"/>
<circle cx="183.9" cy="281.8" r="3.2" fill="#ff0000"/>
<circle cx="188.0" cy="258.2" r="3.2" fill="#ff0000"/>
<circle cx="192.0" cy="278.7" r="3.2" fill="#ff0000"/>
<circle cx="196.1" cy="239.8" r="3.2" fill="#ff0000"/>
<circle cx="198.2" cy="263.4" r="3.2" fill="#ff0000"/>
<circle cx="200.2" cy="239.8" r="3.2" fill="#ff0000"/>
<circle cx="205.4" cy="235.7" r="3.2" fill="#ff0000"/>
<circle cx="208.4" cy="256.2" r="3.2" fill="#ff0000"/>
<circle cx="219.7" cy="263.4" r="3.2" fill="#ff0000"/>
<circle cx="221.7" cy="225.1" r="3.2" fill="#ff0000"/>
<circle cx="225.8" cy="250.1" r="3.2" fill="#ff0000"/>
<circle cx="227.9" cy="243.9" r="3.2" fill="#ff0000"/>
<circle cx="235.0" cy="264.4" r="3.2" fill="#ff0000"/>
<circle cx="239.1" cy="231.6" r="3.2" fill="#ff0000"/>
<circle cx="240.1" cy="248.0" r="3.2" fill="#ff0000"/>
<circle cx="246.3" cy="228.6" r="3.2" fill="#ff0000"/>
<circle cx="247.9" cy="217.7" r="3.2" fill="#ff0000"/>
<circle cx="253.4" cy="217.7" r="3.2" fill="#ff0000"/>
<circle cx="255.5" cy="237.8" r="3.2" fill="#ff0000"/>
<circle cx="262.7" cy="252.1" r="3.2" fill="#ff0000"/>
<circle cx="265.7" cy="226.5" r="3.2" fill="#ff0000"/>
<circle cx="268.4" cy="259.9" r="3.2" fill="#ff0000"/>
<circle cx="270.8" cy="250.1" r="3.2" fill="#ff0000"/>
<circle cx="278.0" cy="231.6" r="3.2" fill="#ff0000"/>
<circle cx="281.1" cy="242.9" r="3.2" fill="#ff0000"/>
<circle cx="282.7" cy="223.4" r="3.2" fill="#ff0000"/>
<circle cx="286.2" cy="219.4" r="3.2" fill="#ff0000"/>
<circle cx="293.4" cy="223.4" r="3.2" fill="#ff0000"/>
<circle cx="296.4" cy="208.1" r="3.2" fill="#ff0000"/>
<circle cx="297.5" cy="214.2" r="3.2" fill="#ff0000"/>
<circle cx="301.5" cy="219.4" r="3.2" fill="#ff0000"/>
<circle cx="304.6" cy="225.5" r="3.2" fill="#ff0000"/>
<circle cx="305.6" cy="243.9" r="3.2" fill="#ff0000"/>
<circle cx="307.7" cy="272.6" r="3.2" fill="#ff0000"/>
<circle cx="309.7" cy="273.6" r="3.2" fill="#ff0000"/>
<circle cx="312.8" cy="254.1" r="3.2" fill="#ff0000"/>
<circle cx="313.8" cy="225.5" r="3.2" fill="#ff0000"/>
<circle cx="314.8" cy="232.7" r="3.2" fill="#ff0000"/>
<circle cx="316.9" cy="198.9" r="3.2" fill="#ff0000"/>
<circle cx="318.9" cy="197.9" r="3.2" fill="#ff0000"/>
<circle cx="322.0" cy="197.9" r="3.2" fill="#ff0000"/>
<circle cx="324.1" cy="234.7" r="3.2" fill="#ff0000"/>
<circle cx="327.1" cy="219.4" r="3.2" fill="#ff0000"/>
<circle cx="330.2" cy="198.9" r="3.2" fill="#ff0000"/>
<circle cx="332.2" cy="217.3" r="3.2" fill="#ff0000"/>
<circle cx="336.3" cy="211.2" r="3.2" fill="#ff0000"/>
<circle cx="347.6" cy="223.4" r="3.2" fill="#ff0000"/>
<circle cx="356.8" cy="258.2" r="3.2" fill="#ff0000"/>
<circle cx="358.9" cy="250.1" r="3.2" fill="#ff0000"/>
<circle cx="360.9" cy="242.9" r="3.2" fill="#ff0000"/>
<circle cx="362.9" cy="223.4" r="3.2" fill="#ff0000"/>
<circle cx="367.0" cy="221.4" r="3.2" fill="#ff0000"/>
<circle cx="369.1" cy="188.7" r="3.2" fill="#ff0000"/>
<circle cx="372.2" cy="191.7" r="3.2" fill="#ff0000"/>
<circle cx="371.1" cy="227.5" r="3.2" fill="#ff0000"/>
<circle cx="376.2" cy="215.3" r="3.2" fill="#ff0000"/>
<circle cx="379.3" cy="209.1" r="3.2" fill="#ff0000"/>
<circle cx="381.4" cy="214.2" r="3.2" fill="#ff0000"/>
<circle cx="383.4" cy="240.8" r="3.2" fill="#ff0000"/>
<circle cx="385.5" cy="236.7" r="3.2" fill="#ff0000"/>
<circle cx="387.5" cy="219.4" r="3.2" fill="#ff0000"/>
<circle cx="394.7" cy="285.9" r="3.2" fill="#ff0000"/>
<circle cx="396.7" cy="270.5" r="3.2" fill="#ff0000"/>
<circle cx="398.8" cy="252.1" r="3.2" fill="#ff0000"/>
<circle cx="403.9" cy="266.4" r="3.2" fill="#ff0000"/>
<circle cx="404.9" cy="250.1" r="3.2" fill="#ff0000"/>
<circle cx="405.9" cy="292.0" r="3.2" fill="#ff0000"/>
<circle cx="408.0" cy="249.0" r="3.2" fill="#ff0000"/>
<circle cx="410.0" cy="270.5" r="3.2" fill="#ff0000"/>
<circle cx="414.1" cy="249.0" r="3.2" fill="#ff0000"/>
<circle cx="418.2" cy="234.7" r="3.2" fill="#ff0000"/>
<circle cx="421.3" cy="238.8" r="3.2" fill="#ff0000"/>
<circle cx="425.4" cy="242.9" r="3.2" fill="#ff0000"/>
<circle cx="429.0" cy="231.6" r="3.2" fill="#ff0000"/>
<circle cx="430.0" cy="261.3" r="3.2" fill="#ff0000"/>
<circle cx="432.1" cy="243.9" r="3.2" fill="#ff0000"/>
<circle cx="434.1" cy="259.3" r="3.2" fill="#ff0000"/>
<circle cx="436.2" cy="237.8" r="3.2" fill="#ff0000"/>
<circle cx="440.3" cy="254.1" r="3.2" fill="#ff0000"/>
<circle cx="442.3" cy="226.5" r="3.2" fill="#ff0000"/>
<circle cx="446.4" cy="225.5" r="3.2" fill="#ff0000"/>
<circle cx="448.5" cy="231.6" r="3.2" fill="#ff0000"/>
<circle cx="448.5" cy="211.2" r="3.2" fill="#ff0000"/>
<circle cx="450.5" cy="205.0" r="3.2" fill="#ff0000"/>
<circle cx="452.6" cy="270.5" r="3.2" fill="#ff0000"/>
<circle cx="451.5" cy="276.7" r="3.2" fill="#ff0000"/>
<circle cx="452.6" cy="243.9" r="3.2" fill="#ff0000"/>
<circle cx="456.7" cy="242.9" r="3.2" fill="#ff0000"/>
<circle cx="464.8" cy="258.2" r="3.2" fill="#ff0000"/>
<circle cx="471.0" cy="280.8" r="3.2" fill="#ff0000"/>
<circle cx="476.1" cy="288.9" r="3.2" fill="#ff0000"/>
<circle cx="480.2" cy="303.3" r="3.2" fill="#ff0000"/>
<circle cx="487.4" cy="278.7" r="3.2" fill="#ff0000"/>
<circle cx="492.5" cy="249.0" r="3.2" fill="#ff0000"/>
<circle cx="497.6" cy="239.8" r="3.2" fill="#ff0000"/>
<circle cx="499.6" cy="234.7" r="3.2" fill="#ff0000"/>
<circle cx="501.7" cy="270.5" r="3.2" fill="#ff0000"/>
<circle cx="505.8" cy="257.2" r="3.2" fill="#ff0000"/>
<circle cx="510.9" cy="268.5" r="3.2" fill="#ff0000"/>
<circle cx="511.9" cy="248.0" r="3.2" fill="#ff0000"/>
<circle cx="516.0" cy="249.0" r="3.2" fill="#ff0000"/>
<circle cx="519.1" cy="267.4" r="3.2" fill="#ff0000"/>
<circle cx="525.2" cy="309.4" r="3.2" fill="#ff0000"/>
<circle cx="528.3" cy="282.8" r="3.2" fill="#ff0000"/>
<circle cx="530.3" cy="306.3" r="3.2" fill="#ff0000"/>
<circle cx="534.4" cy="288.9" r="3.2" fill="#ff0000"/>
<circle cx="536.5" cy="271.5" r="3.2" fill="#ff0000"/>
<circle cx="539.5" cy="262.3" r="3.2" fill="#ff0000"/>
<circle cx="539.5" cy="296.1" r="3.2" fill="#ff0000"/>
<circle cx="541.6" cy="293.0" r="3.2" fill="#ff0000"/>
<circle cx="544.7" cy="258.2" r="3.2" fill="#ff0000"/>
<circle cx="545.7" cy="283.8" r="3.2" fill="#ff0000"/>
<circle cx="548.8" cy="260.3" r="3.2" fill="#ff0000"/>
<circle cx="556.9" cy="260.3" r="3.2" fill="#ff0000"/>
<circle cx="558.0" cy="288.9" r="3.2" fill="#ff0000"/>
<circle cx="562.1" cy="307.4" r="3.2" fill="#ff0000"/>
<circle cx="567.2" cy="282.8" r="3.2" fill="#ff0000"/>
<circle cx="569.2" cy="270.5" r="3.2" fill="#ff0000"/>
<circle cx="571.3" cy="274.6" r="3.2" fill="#ff0000"/>
<circle cx="577.4" cy="278.7" r="3.2" fill="#ff0000"/>
<circle cx="580.5" cy="244.9" r="3.2" fill="#ff0000"/>
<circle cx="579.5" cy="271.5" r="3.2" fill="#ff0000"/>
<circle cx="586.6" cy="272.6" r="3.2" fill="#ff0000"/>
<circle cx="587.6" cy="292.0" r="3.2" fill="#ff0000"/>
<circle cx="591.7" cy="282.8" r="3.2" fill="#ff0000"/>
<circle cx="595.8" cy="296.1" r="3.2" fill="#ff0000"/>
<circle cx="598.9" cy="285.9" r="3.2" fill="#ff0000"/>
<circle cx="607.1" cy="248.0" r="3.2" fill="#ff0000"/>
<circle cx="608.1" cy="282.8" r="3.2" fill="#ff0000"/>
<circle cx="611.2" cy="242.9" r="3.2" fill="#ff0000"/>
<circle cx="613.2" cy="270.5" r="3.2" fill="#ff0000"/>
<circle cx="617.3" cy="237.8" r="3.2" fill="#ff0000"/>
<circle cx="619.4" cy="266.4" r="3.2" fill="#ff0000"/>
<circle cx="624.5" cy="271.5" r="3.2" fill="#ff0000"/>
<circle cx="628.6" cy="279.7" r="3.2" fill="#ff0000"/>
<circle cx="630.6" cy="264.4" r="3.2" fill="#ff0000"/>
<circle cx="634.7" cy="276.7" r="3.2" fill="#ff0000"/>
<circle cx="640.9" cy="270.5" r="3.2" fill="#ff0000"/>
<circle cx="650.1" cy="284.8" r="3.2" fill="#ff0000"/>
<circle cx="656.2" cy="288.9" r="3.2" fill="#ff0000"/>
<circle cx="667.5" cy="290.0" r="3.2" fill="#ff0000"/>
<circle cx="670.5" cy="307.4" r="3.2" fill="#ff0000"/>
<circle cx="678.7" cy="278.7" r="3.2" fill="#ff0000"/>
<circle cx="682.8" cy="296.1" r="3.2" fill="#ff0000"/>
<circle cx="688.9" cy="324.8" r="3.2" fill="#ff0000"/>
<circle cx="692.0" cy="292.0" r="3.2" fill="#ff0000"/>
<circle cx="699.2" cy="317.6" r="3.2" fill="#ff0000"/>
<circle cx="703.3" cy="322.7" r="3.2" fill="#ff0000"/>
<circle cx="704.3" cy="291.0" r="3.2" fill="#ff0000"/>
<circle cx="706.3" cy="278.7" r="3.2" fill="#ff0000"/>
<circle cx="706.3" cy="266.4" r="3.2" fill="#ff0000"/>
<circle cx="710.4" cy="265.4" r="3.2" fill="#ff0000"/>
<circle cx="710.4" cy="299.2" r="3.2" fill="#ff0000"/>
<circle cx="713.5" cy="272.6" r="3.2" fill="#ff0000"/>
<circle cx="717.6" cy="250.1" r="3.2" fill="#ff0000"/>
<circle cx="156.7" cy="237.4" r="3.2" fill="#ff0000"/>
<circle cx="232.6" cy="245.3" r="3.2" fill="#ff0000"/>
<circle cx="279.5" cy="227.7" r="3.2" fill="#ff0000"/>
<circle cx="334.3" cy="218.8" r="3.2" fill="#ff0000"/>
<circle cx="354.5" cy="232.3" r="3.2" fill="#ff0000"/>
<circle cx="365.0" cy="230.7" r="3.2" fill="#ff0000"/>
<circle cx="389.9" cy="232.9" r="3.2" fill="#ff0000"/>
<circle cx="401.3" cy="247.4" r="3.2" fill="#ff0000"/>
<circle cx="416.2" cy="275.1" r="3.2" fill="#ff0000"/>
<circle cx="444.4" cy="231.3" r="3.2" fill="#ff0000"/>
<circle cx="482.6" cy="288.9" r="3.2" fill="#ff0000"/>
<circle cx="514.0" cy="262.9" r="3.2" fill="#ff0000"/>
<circle cx="517.5" cy="276.3" r="3.2" fill="#ff0000"/>
<circle cx="521.1" cy="285.0" r="3.2" fill="#ff0000"/>
<circle cx="523.2" cy="285.6" r="3.2" fill="#ff0000"/>
<circle cx="526.8" cy="306.1" r="3.2" fill="#ff0000"/>
<circle cx="554.2" cy="265.3" r="3.2" fill="#ff0000"/>
<circle cx="564.6" cy="282.8" r="3.2" fill="#ff0000"/>
<circle cx="573.3" cy="263.9" r="3.2" fill="#ff0000"/>
<circle cx="584.6" cy="272.5" r="3.2" fill="#ff0000"/>
<circle cx="615.3" cy="248.5" r="3.2" fill="#ff0000"/>
<circle cx="684.9" cy="319.2" r="3.2" fill="#ff0000"/>
</g>
<g clip-path="url(#c10)">
<rect x="832.8" y="247.4" width="3.6" height="34" fill="#bfbfbf"/>
<rect x="838.9" y="225.9" width="3.6" height="34" fill="#bfbfbf"/>
<rect x="842.0" y="214.6" width="3.6" height="34" fill="#bfbfbf"/>
<rect x="844.0" y="223.8" width="3.6" height="34" fill="#bfbfbf"/>
<rect x="848.1" y="238.2" width="3.6" height="34" fill="#bfbfbf"/>
<rect x="850.2" y="218.7" width="3.6" height="34" fill="#bfbfbf"/>
<rect x="856.3" y="215.7" width="3.6" height="34" fill="#bfbfbf"/>
<rect x="855.3" y="232.0" width="3.6" height="34" fill="#bfbfbf"/>
<rect x="859.4" y="239.2" width="3.6" height="34" fill="#bfbfbf"/>
<rect x="863.5" y="263.8" width="3.6" height="34" fill="#bfbfbf"/>
<rect x="867.6" y="264.8" width="3.6" height="34" fill="#bfbfbf"/>
<rect x="871.7" y="241.2" width="3.6" height="34" fill="#bfbfbf"/>
<rect x="875.7" y="261.7" width="3.6" height="34" fill="#bfbfbf"/>
<rect x="879.8" y="222.8" width="3.6" height="34" fill="#bfbfbf"/>
<rect x="881.9" y="246.4" width="3.6" height="34" fill="#bfbfbf"/>
<rect x="883.9" y="222.8" width="3.6" height="34" fill="#bfbfbf"/>
<rect x="889.1" y="218.7" width="3.6" height="34" fill="#bfbfbf"/>
<rect x="892.1" y="239.2" width="3.6" height="34" fill="#bfbfbf"/>
<rect x="903.4" y="246.4" width="3.6" height="34" fill="#bfbfbf"/>
<rect x="905.4" y="208.1" width="3.6" height="34" fill="#bfbfbf"/>
<rect x="909.5" y="233.1" width="3.6" height="34" fill="#bfbfbf"/>
<rect x="911.6" y="226.9" width="3.6" height="34" fill="#bfbfbf"/>
<rect x="918.7" y="247.4" width="3.6" height="34" fill="#bfbfbf"/>
<rect x="922.8" y="214.6" width="3.6" height="34" fill="#bfbfbf"/>
<rect x="923.8" y="231.0" width="3.6" height="34" fill="#bfbfbf"/>
<rect x="930.0" y="211.6" width="3.6" height="34" fill="#bfbfbf"/>
<rect x="931.6" y="200.7" width="3.6" height="34" fill="#bfbfbf"/>
<rect x="937.1" y="200.7" width="3.6" height="34" fill="#bfbfbf"/>
<rect x="939.2" y="220.8" width="3.6" height="34" fill="#bfbfbf"/>
<rect x="946.4" y="235.1" width="3.6" height="34" fill="#bfbfbf"/>
<rect x="949.4" y="209.5" width="3.6" height="34" fill="#bfbfbf"/>
<rect x="952.1" y="242.9" width="3.6" height="34" fill="#bfbfbf"/>
<rect x="954.5" y="233.1" width="3.6" height="34" fill="#bfbfbf"/>
<rect x="961.7" y="214.6" width="3.6" height="34" fill="#bfbfbf"/>
<rect x="964.8" y="225.9" width="3.6" height="34" fill="#bfbfbf"/>
<rect x="966.4" y="206.4" width="3.6" height="34" fill="#bfbfbf"/>
<rect x="969.9" y="202.4" width="3.6" height="34" fill="#bfbfbf"/>
<rect x="977.1" y="206.4" width="3.6" height="34" fill="#bfbfbf"/>
<rect x="980.1" y="191.1" width="3.6" height="34" fill="#bfbfbf"/>
<rect x="981.2" y="197.2" width="3.6" height="34" fill="#bfbfbf"/>
<rect x="985.2" y="202.4" width="3.6" height="34" fill="#bfbfbf"/>
<rect x="988.3" y="208.5" width="3.6" height="34" fill="#bfbfbf"/>
<rect x="989.3" y="226.9" width="3.6" height="34" fill="#bfbfbf"/>
<rect x="991.4" y="255.6" width="3.6" height="34" fill="#bfbfbf"/>
<rect x="993.4" y="256.6" width="3.6" height="34" fill="#bfbfbf"/>
<rect x="996.5" y="237.1" width="3.6" height="34" fill="#bfbfbf"/>
<rect x="997.5" y="208.5" width="3.6" height="34" fill="#bfbfbf"/>
<rect x="998.5" y="215.7" width="3.6" height="34" fill="#bfbfbf"/>
<rect x="1000.6" y="181.9" width="3.6" height="34" fill="#bfbfbf"/>
<rect x="1002.6" y="180.9" width="3.6" height="34" fill="#bfbfbf"/>
<rect x="1005.7" y="180.9" width="3.6" height="34" fill="#bfbfbf"/>
<rect x="1007.8" y="217.7" width="3.6" height="34" fill="#bfbfbf"/>
<rect x="1010.8" y="202.4" width="3.6" height="34" fill="#bfbfbf"/>
<rect x="1013.9" y="181.9" width="3.6" height="34" fill="#bfbfbf"/>
<rect x="1015.9" y="200.3" width="3.6" height="34" fill="#bfbfbf"/>
<rect x="1020.0" y="194.2" width="3.6" height="34" fill="#bfbfbf"/>
<rect x="1031.3" y="206.4" width="3.6" height="34" fill="#bfbfbf"/>
<rect x="1040.5" y="241.2" width="3.6" height="34" fill="#bfbfbf"/>
<rect x="1042.6" y="233.1" width="3.6" height="34" fill="#bfbfbf"/>
<rect x="1044.6" y="225.9" width="3.6" height="34" fill="#bfbfbf"/>
<rect x="1046.6" y="206.4" width="3.6" height="34" fill="#bfbfbf"/>
<rect x="1050.7" y="204.4" width="3.6" height="34" fill="#bfbfbf"/>
<rect x="1052.8" y="171.7" width="3.6" height="34" fill="#bfbfbf"/>
<rect x="1055.9" y="174.7" width="3.6" height="34" fill="#bfbfbf"/>
<rect x="1054.8" y="210.5" width="3.6" height="34" fill="#bfbfbf"/>
<rect x="1059.9" y="198.3" width="3.6" height="34" fill="#bfbfbf"/>
<rect x="1063.0" y="192.1" width="3.6" height="34" fill="#bfbfbf"/>
<rect x="1065.1" y="197.2" width="3.6" height="34" fill="#bfbfbf"/>
<rect x="1067.1" y="223.8" width="3.6" height="34" fill="#bfbfbf"/>
<rect x="1069.2" y="219.7" width="3.6" height="34" fill="#bfbfbf"/>
<rect x="1071.2" y="202.4" width="3.6" height="34" fill="#bfbfbf"/>
<rect x="1078.4" y="268.9" width="3.6" height="34" fill="#bfbfbf"/>
<rect x="1080.4" y="253.5" width="3.6" height="34" fill="#bfbfbf"/>
<rect x="1082.5" y="235.1" width="3.6" height="34" fill="#bfbfbf"/>
<rect x="1087.6" y="249.4" width="3.6" height="34" fill="#bfbfbf"/>
<rect x="1088.6" y="233.1" width="3.6" height="34" fill="#bfbfbf"/>
<rect x="1089.6" y="275.0" width="3.6" height="34" fill="#bfbfbf"/>
<rect x="1091.7" y="232.0" width="3.6" height="34" fill="#bfbfbf"/>
<rect x="1093.7" y="253.5" width="3.6" height="34" fill="#bfbfbf"/>
<rect x="1097.8" y="232.0" width="3.6" height="34" fill="#bfbfbf"/>
<rect x="1101.9" y="217.7" width="3.6" height="34" fill="#bfbfbf"/>
<rect x="1105.0" y="221.8" width="3.6" height="34" fill="#bfbfbf"/>
<rect x="1109.1" y="225.9" width="3.6" height="34" fill="#bfbfbf"/>
<rect x="1112.7" y="214.6" width="3.6" height="34" fill="#bfbfbf"/>
<rect x="1113.7" y="244.3" width="3.6" height="34" fill="#bfbfbf"/>
<rect x="1115.8" y="226.9" width="3.6" height="34" fill="#bfbfbf"/>
<rect x="1117.8" y="242.3" width="3.6" height="34" fill="#bfbfbf"/>
<rect x="1119.9" y="220.8" width="3.6" height="34" fill="#bfbfbf"/>
<rect x="1124.0" y="237.1" width="3.6" height="34" fill="#bfbfbf"/>
<rect x="1126.0" y="209.5" width="3.6" height="34" fill="#bfbfbf"/>
<rect x="1130.1" y="208.5" width="3.6" height="34" fill="#bfbfbf"/>
<rect x="1132.2" y="214.6" width="3.6" height="34" fill="#bfbfbf"/>
<rect x="1132.2" y="194.2" width="3.6" height="34" fill="#bfbfbf"/>
<rect x="1134.2" y="188.0" width="3.6" height="34" fill="#bfbfbf"/>
<rect x="1136.3" y="253.5" width="3.6" height="34" fill="#bfbfbf"/>
<rect x="1135.2" y="259.7" width="3.6" height="34" fill="#bfbfbf"/>
<rect x="1136.3" y="226.9" width="3.6" height="34" fill="#bfbfbf"/>
<rect x="1140.4" y="225.9" width="3.6" height="34" fill="#bfbfbf"/>
<rect x="1148.5" y="241.2" width="3.6" height="34" fill="#bfbfbf"/>
<rect x="1154.7" y="263.8" width="3.6" height="34" fill="#bfbfbf"/>
<rect x="1159.8" y="271.9" width="3.6" height="34" fill="#bfbfbf"/>
<rect x="1163.9" y="286.3" width="3.6" height="34" fill="#bfbfbf"/>
<rect x="1171.1" y="261.7" width="3.6" height="34" fill="#bfbfbf"/>
<rect x="1176.2" y="232.0" width="3.6" height="34" fill="#bfbfbf"/>
<rect x="1181.3" y="222.8" width="3.6" height="34" fill="#bfbfbf"/>
<rect x="1183.3" y="217.7" width="3.6" height="34" fill="#bfbfbf"/>
<rect x="1185.4" y="253.5" width="3.6" height="34" fill="#bfbfbf"/>
<rect x="1189.5" y="240.2" width="3.6" height="34" fill="#bfbfbf"/>
<rect x="1194.6" y="251.5" width="3.6" height="34" fill="#bfbfbf"/>
<rect x="1195.6" y="231.0" width="3.6" height="34" fill="#bfbfbf"/>
<rect x="1199.7" y="232.0" width="3.6" height="34" fill="#bfbfbf"/>
<rect x="1202.8" y="250.4" width="3.6" height="34" fill="#bfbfbf"/>
<rect x="1208.9" y="292.4" width="3.6" height="34" fill="#bfbfbf"/>
<rect x="1212.0" y="265.8" width="3.6" height="34" fill="#bfbfbf"/>
<rect x="1214.0" y="289.3" width="3.6" height="34" fill="#bfbfbf"/>
<rect x="1218.1" y="271.9" width="3.6" height="34" fill="#bfbfbf"/>
<rect x="1220.2" y="254.5" width="3.6" height="34" fill="#bfbfbf"/>
<rect x="1223.2" y="245.3" width="3.6" height="34" fill="#bfbfbf"/>
<rect x="1223.2" y="279.1" width="3.6" height="34" fill="#bfbfbf"/>
<rect x="1225.3" y="276.0" width="3.6" height="34" fill="#bfbfbf"/>
<rect x="1228.4" y="241.2" width="3.6" height="34" fill="#bfbfbf"/>
<rect x="1229.4" y="266.8" width="3.6" height="34" fill="#bfbfbf"/>
<rect x="1232.5" y="243.3" width="3.6" height="34" fill="#bfbfbf"/>
<rect x="1240.6" y="243.3" width="3.6" height="34" fill="#bfbfbf"/>
<rect x="1241.7" y="271.9" width="3.6" height="34" fill="#bfbfbf"/>
<rect x="1245.8" y="290.4" width="3.6" height="34" fill="#bfbfbf"/>
<rect x="1250.9" y="265.8" width="3.6" height="34" fill="#bfbfbf"/>
<rect x="1252.9" y="253.5" width="3.6" height="34" fill="#bfbfbf"/>
<rect x="1255.0" y="257.6" width="3.6" height="34" fill="#bfbfbf"/>
<rect x="1261.1" y="261.7" width="3.6" height="34" fill="#bfbfbf"/>
<rect x="1264.2" y="227.9" width="3.6" height="34" fill="#bfbfbf"/>
<rect x="1263.2" y="254.5" width="3.6" height="34" fill="#bfbfbf"/>
<rect x="1270.3" y="255.6" width="3.6" height="34" fill="#bfbfbf"/>
<rect x="1271.3" y="275.0" width="3.6" height="34" fill="#bfbfbf"/>
<rect x="1275.4" y="265.8" width="3.6" height="34" fill="#bfbfbf"/>
<rect x="1279.5" y="279.1" width="3.6" height="34" fill="#bfbfbf"/>
<rect x="1282.6" y="268.9" width="3.6" height="34" fill="#bfbfbf"/>
<rect x="1290.8" y="231.0" width="3.6" height="34" fill="#bfbfbf"/>
<rect x="1291.8" y="265.8" width="3.6" height="34" fill="#bfbfbf"/>
<rect x="1294.9" y="225.9" width="3.6" height="34" fill="#bfbfbf"/>
<rect x="1296.9" y="253.5" width="3.6" height="34" fill="#bfbfbf"/>
<rect x="1301.0" y="220.8" width="3.6" height="34" fill="#bfbfbf"/>
<rect x="1303.1" y="249.4" width="3.6" height="34" fill="#bfbfbf"/>
<rect x="1308.2" y="254.5" width="3.6" height="34" fill="#bfbfbf"/>
<rect x="1312.3" y="262.7" width="3.6" height="34" fill="#bfbfbf"/>
<rect x="1314.3" y="247.4" width="3.6" height="34" fill="#bfbfbf"/>
<rect x="1318.4" y="259.7" width="3.6" height="34" fill="#bfbfbf"/>
<rect x="1324.6" y="253.5" width="3.6" height="34" fill="#bfbfbf"/>
<rect x="1333.8" y="267.8" width="3.6" height="34" fill="#bfbfbf"/>
<rect x="1339.9" y="271.9" width="3.6" height="34" fill="#bfbfbf"/>
<rect x="1351.2" y="273.0" width="3.6" height="34" fill="#bfbfbf"/>
<rect x="1354.2" y="290.4" width="3.6" height="34" fill="#bfbfbf"/>
<rect x="1362.4" y="261.7" width="3.6" height="34" fill="#bfbfbf"/>
<rect x="1366.5" y="279.1" width="3.6" height="34" fill="#bfbfbf"/>
<rect x="1372.6" y="307.8" width="3.6" height="34" fill="#bfbfbf"/>
<rect x="1375.7" y="275.0" width="3.6" height="34" fill="#bfbfbf"/>
<rect x="1382.9" y="300.6" width="3.6" height="34" fill="#bfbfbf"/>
<rect x="1387.0" y="305.7" width="3.6" height="34" fill="#bfbfbf"/>
<rect x="1388.0" y="274.0" width="3.6" height="34" fill="#bfbfbf"/>
<rect x="1390.0" y="261.7" width="3.6" height="34" fill="#bfbfbf"/>
<rect x="1390.0" y="249.4" width="3.6" height="34" fill="#bfbfbf"/>
<rect x="1394.1" y="248.4" width="3.6" height="34" fill="#bfbfbf"/>
<rect x="1394.1" y="282.2" width="3.6" height="34" fill="#bfbfbf"/>
<rect x="1397.2" y="255.6" width="3.6" height="34" fill="#bfbfbf"/>
<rect x="1401.3" y="233.1" width="3.6" height="34" fill="#bfbfbf"/>
<rect x="834.8" y="227.8" width="3.6" height="34" fill="#bfbfbf"/>
<rect x="836.9" y="220.6" width="3.6" height="34" fill="#bfbfbf"/>
<rect x="840.4" y="220.4" width="3.6" height="34" fill="#bfbfbf"/>
<rect x="846.1" y="215.1" width="3.6" height="34" fill="#bfbfbf"/>
<rect x="852.7" y="222.2" width="3.6" height="34" fill="#bfbfbf"/>
<rect x="857.8" y="228.7" width="3.6" height="34" fill="#bfbfbf"/>
<rect x="861.4" y="234.1" width="3.6" height="34" fill="#bfbfbf"/>
<rect x="865.5" y="262.9" width="3.6" height="34" fill="#bfbfbf"/>
<rect x="869.6" y="249.3" width="3.6" height="34" fill="#bfbfbf"/>
<rect x="873.7" y="247.5" width="3.6" height="34" fill="#bfbfbf"/>
<rect x="877.8" y="238.3" width="3.6" height="34" fill="#bfbfbf"/>
<rect x="886.5" y="219.1" width="3.6" height="34" fill="#bfbfbf"/>
<rect x="890.6" y="221.9" width="3.6" height="34" fill="#bfbfbf"/>
<rect x="894.9" y="230.0" width="3.6" height="34" fill="#bfbfbf"/>
<rect x="897.8" y="219.5" width="3.6" height="34" fill="#bfbfbf"/>
<rect x="900.6" y="228.1" width="3.6" height="34" fill="#bfbfbf"/>
<rect x="907.5" y="233.3" width="3.6" height="34" fill="#bfbfbf"/>
<rect x="914.0" y="235.0" width="3.6" height="34" fill="#bfbfbf"/>
<rect x="916.3" y="228.3" width="3.6" height="34" fill="#bfbfbf"/>
<rect x="920.8" y="224.0" width="3.6" height="34" fill="#bfbfbf"/>
<rect x="925.9" y="232.1" width="3.6" height="34" fill="#bfbfbf"/>
<rect x="927.9" y="214.0" width="3.6" height="34" fill="#bfbfbf"/>
<rect x="934.4" y="218.4" width="3.6" height="34" fill="#bfbfbf"/>
<rect x="941.6" y="210.2" width="3.6" height="34" fill="#bfbfbf"/>
<rect x="944.0" y="208.2" width="3.6" height="34" fill="#bfbfbf"/>
<rect x="947.9" y="207.8" width="3.6" height="34" fill="#bfbfbf"/>
<rect x="956.9" y="224.8" width="3.6" height="34" fill="#bfbfbf"/>
<rect x="959.3" y="229.2" width="3.6" height="34" fill="#bfbfbf"/>
<rect x="963.2" y="210.7" width="3.6" height="34" fill="#bfbfbf"/>
<rect x="968.2" y="212.8" width="3.6" height="34" fill="#bfbfbf"/>
<rect x="972.3" y="206.4" width="3.6" height="34" fill="#bfbfbf"/>
<rect x="974.7" y="200.9" width="3.6" height="34" fill="#bfbfbf"/>
<rect x="978.6" y="202.2" width="3.6" height="34" fill="#bfbfbf"/>
<rect x="983.2" y="190.4" width="3.6" height="34" fill="#bfbfbf"/>
<rect x="986.8" y="188.5" width="3.6" height="34" fill="#bfbfbf"/>
<rect x="995.0" y="246.9" width="3.6" height="34" fill="#bfbfbf"/>
<rect x="1004.2" y="206.1" width="3.6" height="34" fill="#bfbfbf"/>
<rect x="1009.3" y="190.8" width="3.6" height="34" fill="#bfbfbf"/>
<rect x="1012.4" y="188.8" width="3.6" height="34" fill="#bfbfbf"/>
<rect x="1018.0" y="201.8" width="3.6" height="34" fill="#bfbfbf"/>
<rect x="1022.9" y="203.6" width="3.6" height="34" fill="#bfbfbf"/>
<rect x="1025.7" y="200.8" width="3.6" height="34" fill="#bfbfbf"/>
<rect x="1028.5" y="212.0" width="3.6" height="34" fill="#bfbfbf"/>
<rect x="1033.6" y="214.8" width="3.6" height="34" fill="#bfbfbf"/>
<rect x="1035.9" y="207.7" width="3.6" height="34" fill="#bfbfbf"/>
<rect x="1038.2" y="215.3" width="3.6" height="34" fill="#bfbfbf"/>
<rect x="1048.7" y="213.7" width="3.6" height="34" fill="#bfbfbf"/>
<rect x="1057.9" y="199.4" width="3.6" height="34" fill="#bfbfbf"/>
<rect x="1061.5" y="193.6" width="3.6" height="34" fill="#bfbfbf"/>
<rect x="1073.6" y="215.9" width="3.6" height="34" fill="#bfbfbf"/>
<rect x="1076.0" y="244.4" width="3.6" height="34" fill="#bfbfbf"/>
<rect x="1085.0" y="230.4" width="3.6" height="34" fill="#bfbfbf"/>
<rect x="1095.8" y="258.2" width="3.6" height="34" fill="#bfbfbf"/>
<rect x="1099.9" y="258.1" width="3.6" height="34" fill="#bfbfbf"/>
<rect x="1103.4" y="238.9" width="3.6" height="34" fill="#bfbfbf"/>
<rect x="1107.0" y="237.5" width="3.6" height="34" fill="#bfbfbf"/>
<rect x="1110.9" y="224.8" width="3.6" height="34" fill="#bfbfbf"/>
<rect x="1121.9" y="223.8" width="3.6" height="34" fill="#bfbfbf"/>
<rect x="1128.1" y="214.3" width="3.6" height="34" fill="#bfbfbf"/>
<rect x="1138.3" y="234.4" width="3.6" height="34" fill="#bfbfbf"/>
<rect x="1143.1" y="241.4" width="3.6" height="34" fill="#bfbfbf"/>
<rect x="1145.8" y="232.7" width="3.6" height="34" fill="#bfbfbf"/>
<rect x="1150.6" y="242.7" width="3.6" height="34" fill="#bfbfbf"/>
<rect x="1152.6" y="279.8" width="3.6" height="34" fill="#bfbfbf"/>
<rect x="1157.2" y="261.1" width="3.6" height="34" fill="#bfbfbf"/>
<rect x="1161.8" y="260.4" width="3.6" height="34" fill="#bfbfbf"/>
<rect x="1166.3" y="271.9" width="3.6" height="34" fill="#bfbfbf"/>
<rect x="1168.7" y="273.8" width="3.6" height="34" fill="#bfbfbf"/>
<rect x="1173.6" y="255.1" width="3.6" height="34" fill="#bfbfbf"/>
<rect x="1178.7" y="239.8" width="3.6" height="34" fill="#bfbfbf"/>
<rect x="1187.4" y="223.9" width="3.6" height="34" fill="#bfbfbf"/>
<rect x="1192.0" y="238.0" width="3.6" height="34" fill="#bfbfbf"/>
<rect x="1197.7" y="245.9" width="3.6" height="34" fill="#bfbfbf"/>
<rect x="1201.2" y="259.3" width="3.6" height="34" fill="#bfbfbf"/>
<rect x="1204.8" y="268.0" width="3.6" height="34" fill="#bfbfbf"/>
<rect x="1206.9" y="268.6" width="3.6" height="34" fill="#bfbfbf"/>
<rect x="1210.5" y="289.1" width="3.6" height="34" fill="#bfbfbf"/>
<rect x="1216.1" y="277.0" width="3.6" height="34" fill="#bfbfbf"/>
<rect x="1221.7" y="252.7" width="3.6" height="34" fill="#bfbfbf"/>
<rect x="1226.8" y="254.5" width="3.6" height="34" fill="#bfbfbf"/>
<rect x="1230.9" y="246.1" width="3.6" height="34" fill="#bfbfbf"/>
<rect x="1235.2" y="243.9" width="3.6" height="34" fill="#bfbfbf"/>
<rect x="1237.9" y="248.3" width="3.6" height="34" fill="#bfbfbf"/>
<rect x="1243.7" y="277.3" width="3.6" height="34" fill="#bfbfbf"/>
<rect x="1248.3" y="265.8" width="3.6" height="34" fill="#bfbfbf"/>
<rect x="1257.0" y="246.9" width="3.6" height="34" fill="#bfbfbf"/>
<rect x="1259.1" y="247.5" width="3.6" height="34" fill="#bfbfbf"/>
<rect x="1266.2" y="245.9" width="3.6" height="34" fill="#bfbfbf"/>
<rect x="1268.3" y="255.5" width="3.6" height="34" fill="#bfbfbf"/>
<rect x="1273.4" y="269.0" width="3.6" height="34" fill="#bfbfbf"/>
<rect x="1277.5" y="281.7" width="3.6" height="34" fill="#bfbfbf"/>
<rect x="1281.1" y="288.6" width="3.6" height="34" fill="#bfbfbf"/>
<rect x="1285.3" y="276.3" width="3.6" height="34" fill="#bfbfbf"/>
<rect x="1288.1" y="271.7" width="3.6" height="34" fill="#bfbfbf"/>
<rect x="1293.3" y="248.2" width="3.6" height="34" fill="#bfbfbf"/>
<rect x="1299.0" y="231.5" width="3.6" height="34" fill="#bfbfbf"/>
<rect x="1305.6" y="228.3" width="3.6" height="34" fill="#bfbfbf"/>
<rect x="1310.2" y="244.7" width="3.6" height="34" fill="#bfbfbf"/>
<rect x="1316.4" y="257.7" width="3.6" height="34" fill="#bfbfbf"/>
<rect x="1320.5" y="251.3" width="3.6" height="34" fill="#bfbfbf"/>
<rect x="1322.5" y="253.8" width="3.6" height="34" fill="#bfbfbf"/>
<rect x="1326.9" y="258.0" width="3.6" height="34" fill="#bfbfbf"/>
<rect x="1329.2" y="259.2" width="3.6" height="34" fill="#bfbfbf"/>
<rect x="1331.5" y="264.9" width="3.6" height="34" fill="#bfbfbf"/>
<rect x="1335.8" y="272.8" width="3.6" height="34" fill="#bfbfbf"/>
<rect x="1337.9" y="270.5" width="3.6" height="34" fill="#bfbfbf"/>
<rect x="1342.7" y="268.2" width="3.6" height="34" fill="#bfbfbf"/>
<rect x="1345.5" y="271.0" width="3.6" height="34" fill="#bfbfbf"/>
<rect x="1348.3" y="267.5" width="3.6" height="34" fill="#bfbfbf"/>
<rect x="1352.7" y="271.1" width="3.6" height="34" fill="#bfbfbf"/>
<rect x="1357.0" y="283.1" width="3.6" height="34" fill="#bfbfbf"/>
<rect x="1359.7" y="282.0" width="3.6" height="34" fill="#bfbfbf"/>
<rect x="1364.5" y="285.2" width="3.6" height="34" fill="#bfbfbf"/>
<rect x="1368.6" y="302.2" width="3.6" height="34" fill="#bfbfbf"/>
<rect x="1370.6" y="302.2" width="3.6" height="34" fill="#bfbfbf"/>
<rect x="1374.2" y="289.2" width="3.6" height="34" fill="#bfbfbf"/>
<rect x="1378.1" y="294.1" width="3.6" height="34" fill="#bfbfbf"/>
<rect x="1380.5" y="286.2" width="3.6" height="34" fill="#bfbfbf"/>
<rect x="1384.9" y="294.0" width="3.6" height="34" fill="#bfbfbf"/>
<rect x="1392.1" y="273.9" width="3.6" height="34" fill="#bfbfbf"/>
<rect x="1395.7" y="260.6" width="3.6" height="34" fill="#bfbfbf"/>
<rect x="1399.3" y="257.6" width="3.6" height="34" fill="#bfbfbf"/>
<path d="M831.0,247.3 L839.2,241.1 L843.3,224.8 L847.4,228.9 L851.5,226.8 L855.6,224.8 L859.7,235.0 L863.7,245.2 L868.9,261.6 L874.0,245.2 L880.1,243.2 L883.2,237.1 L888.3,228.9 L892.4,222.7 L901.6,230.9 L904.7,247.3 L910.8,253.4 L917.0,243.2 L925.1,237.1 L933.3,228.9 L937.4,220.7 L945.6,220.7 L949.7,228.9 L953.8,220.7 L957.9,228.9 L962.0,220.7 L970.2,208.4 L978.4,200.2 L986.5,204.3 L990.6,214.5 L992.7,239.1 L994.7,253.4 L998.8,237.1 L1002.9,210.4 L1007.0,200.2 L1015.2,196.1 L1023.4,208.4 L1031.6,216.6 L1035.7,216.6 L1041.8,218.6 L1047.9,214.5 L1056.1,206.4 L1060.2,200.2 L1070.5,202.3 L1072.5,212.5 L1074.6,226.8 L1076.6,241.1 L1084.8,241.1 L1088.9,245.2 L1097.1,257.5 L1105.3,249.3 L1111.4,243.2 L1113.0,237.1 L1121.2,233.0 L1129.4,222.7 L1135.5,210.4 L1137.6,204.3 L1138.6,228.9 L1141.7,243.2 L1151.9,245.2 L1153.9,261.6 L1155.0,288.2 L1162.1,278.0 L1170.3,271.8 L1176.4,261.6 L1180.5,243.2 L1188.7,241.1 L1196.9,245.2 L1205.1,261.6 L1211.2,280.0 L1213.3,302.5 L1217.4,286.2 L1223.5,269.8 L1231.7,261.6 L1237.8,253.4 L1241.9,253.4 L1246.0,267.8 L1248.1,278.0 L1256.3,261.6 L1264.5,249.3 L1268.5,241.1 L1270.6,263.7 L1276.7,269.8 L1282.9,286.2 L1289.0,273.9 L1293.1,265.7 L1301.3,249.3 L1305.4,233.0 L1315.6,243.2 L1321.8,253.4 L1325.9,269.8 L1334.0,275.9 L1344.3,290.3 L1352.5,269.8 L1354.5,263.7 L1358.6,273.9 L1366.8,282.1 L1368.8,300.5 L1373.9,338.4 L1377.0,331.2 L1379.1,316.9 L1383.2,300.5 L1389.3,286.2 L1395.4,269.8 L1403.0,261.6 L1403.0,287.6 L1395.4,295.8 L1389.3,312.2 L1383.2,326.5 L1379.1,342.9 L1377.0,357.2 L1373.9,364.4 L1368.8,326.5 L1366.8,308.1 L1358.6,299.9 L1354.5,289.7 L1352.5,295.8 L1344.3,316.3 L1334.0,301.9 L1325.9,295.8 L1321.8,279.4 L1315.6,269.2 L1305.4,259.0 L1301.3,275.3 L1293.1,291.7 L1289.0,299.9 L1282.9,312.2 L1276.7,295.8 L1270.6,289.7 L1268.5,267.1 L1264.5,275.3 L1256.3,287.6 L1248.1,304.0 L1246.0,293.8 L1241.9,279.4 L1237.8,279.4 L1231.7,287.6 L1223.5,295.8 L1217.4,312.2 L1213.3,328.5 L1211.2,306.0 L1205.1,287.6 L1196.9,271.2 L1188.7,267.1 L1180.5,269.2 L1176.4,287.6 L1170.3,297.8 L1162.1,304.0 L1155.0,314.2 L1153.9,287.6 L1151.9,271.2 L1141.7,269.2 L1138.6,254.9 L1137.6,230.3 L1135.5,236.4 L1129.4,248.7 L1121.2,259.0 L1113.0,263.1 L1111.4,269.2 L1105.3,275.3 L1097.1,283.5 L1088.9,271.2 L1084.8,267.1 L1076.6,267.1 L1074.6,252.8 L1072.5,238.5 L1070.5,228.3 L1060.2,226.2 L1056.1,232.4 L1047.9,240.5 L1041.8,244.6 L1035.7,242.6 L1031.6,242.6 L1023.4,234.4 L1015.2,222.1 L1007.0,226.2 L1002.9,236.4 L998.8,263.1 L994.7,279.4 L992.7,265.1 L990.6,240.5 L986.5,230.3 L978.4,226.2 L970.2,234.4 L962.0,246.7 L957.9,254.9 L953.8,246.7 L949.7,254.9 L945.6,246.7 L937.4,246.7 L933.3,254.9 L925.1,263.1 L917.0,269.2 L910.8,279.4 L904.7,273.3 L901.6,256.9 L892.4,248.7 L888.3,254.9 L883.2,263.1 L880.1,269.2 L874.0,271.2 L868.9,287.6 L863.7,271.2 L859.7,261.0 L855.6,250.8 L851.5,252.8 L847.4,254.9 L843.3,250.8 L839.2,267.1 L831.0,273.3 Z" fill="rgba(0,0,255,0.10)" stroke="none"/>
<path d="M831.0,254.3 L839.2,248.1 L843.3,231.8 L847.4,235.9 L851.5,233.8 L855.6,231.8 L859.7,242.0 L863.7,252.2 L868.9,268.6 L874.0,252.2 L880.1,250.2 L883.2,244.1 L888.3,235.9 L892.4,229.7 L901.6,237.9 L904.7,254.3 L910.8,260.4 L917.0,250.2 L925.1,244.1 L933.3,235.9 L937.4,227.7 L945.6,227.7 L949.7,235.9 L953.8,227.7 L957.9,235.9 L962.0,227.7 L970.2,215.4 L978.4,207.2 L986.5,211.3 L990.6,221.5 L992.7,246.1 L994.7,260.4 L998.8,244.1 L1002.9,217.4 L1007.0,207.2 L1015.2,203.1 L1023.4,215.4 L1031.6,223.6 L1035.7,223.6 L1041.8,225.6 L1047.9,221.5 L1056.1,213.4 L1060.2,207.2 L1070.5,209.3 L1072.5,219.5 L1074.6,233.8 L1076.6,248.1 L1084.8,248.1 L1088.9,252.2 L1097.1,264.5 L1105.3,256.3 L1111.4,250.2 L1113.0,244.1 L1121.2,240.0 L1129.4,229.7 L1135.5,217.4 L1137.6,211.3 L1138.6,235.9 L1141.7,250.2 L1151.9,252.2 L1153.9,268.6 L1155.0,295.2 L1162.1,285.0 L1170.3,278.8 L1176.4,268.6 L1180.5,250.2 L1188.7,248.1 L1196.9,252.2 L1205.1,268.6 L1211.2,287.0 L1213.3,309.5 L1217.4,293.2 L1223.5,276.8 L1231.7,268.6 L1237.8,260.4 L1241.9,260.4 L1246.0,274.8 L1248.1,285.0 L1256.3,268.6 L1264.5,256.3 L1268.5,248.1 L1270.6,270.7 L1276.7,276.8 L1282.9,293.2 L1289.0,280.9 L1293.1,272.7 L1301.3,256.3 L1305.4,240.0 L1315.6,250.2 L1321.8,260.4 L1325.9,276.8 L1334.0,282.9 L1344.3,297.3 L1352.5,276.8 L1354.5,270.7 L1358.6,280.9 L1366.8,289.1 L1368.8,307.5 L1373.9,345.4 L1377.0,338.2 L1379.1,323.9 L1383.2,307.5 L1389.3,293.2 L1395.4,276.8 L1403.0,268.6 L1403.0,280.6 L1395.4,288.8 L1389.3,305.2 L1383.2,319.5 L1379.1,335.9 L1377.0,350.2 L1373.9,357.4 L1368.8,319.5 L1366.8,301.1 L1358.6,292.9 L1354.5,282.7 L1352.5,288.8 L1344.3,309.3 L1334.0,294.9 L1325.9,288.8 L1321.8,272.4 L1315.6,262.2 L1305.4,252.0 L1301.3,268.3 L1293.1,284.7 L1289.0,292.9 L1282.9,305.2 L1276.7,288.8 L1270.6,282.7 L1268.5,260.1 L1264.5,268.3 L1256.3,280.6 L1248.1,297.0 L1246.0,286.8 L1241.9,272.4 L1237.8,272.4 L1231.7,280.6 L1223.5,288.8 L1217.4,305.2 L1213.3,321.5 L1211.2,299.0 L1205.1,280.6 L1196.9,264.2 L1188.7,260.1 L1180.5,262.2 L1176.4,280.6 L1170.3,290.8 L1162.1,297.0 L1155.0,307.2 L1153.9,280.6 L1151.9,264.2 L1141.7,262.2 L1138.6,247.9 L1137.6,223.3 L1135.5,229.4 L1129.4,241.7 L1121.2,252.0 L1113.0,256.1 L1111.4,262.2 L1105.3,268.3 L1097.1,276.5 L1088.9,264.2 L1084.8,260.1 L1076.6,260.1 L1074.6,245.8 L1072.5,231.5 L1070.5,221.3 L1060.2,219.2 L1056.1,225.4 L1047.9,233.5 L1041.8,237.6 L1035.7,235.6 L1031.6,235.6 L1023.4,227.4 L1015.2,215.1 L1007.0,219.2 L1002.9,229.4 L998.8,256.1 L994.7,272.4 L992.7,258.1 L990.6,233.5 L986.5,223.3 L978.4,219.2 L970.2,227.4 L962.0,239.7 L957.9,247.9 L953.8,239.7 L949.7,247.9 L945.6,239.7 L937.4,239.7 L933.3,247.9 L925.1,256.1 L917.0,262.2 L910.8,272.4 L904.7,266.3 L901.6,249.9 L892.4,241.7 L888.3,247.9 L883.2,256.1 L880.1,262.2 L874.0,264.2 L868.9,280.6 L863.7,264.2 L859.7,254.0 L855.6,243.8 L851.5,245.8 L847.4,247.9 L843.3,243.8 L839.2,260.1 L831.0,266.3 Z" fill="rgba(0,0,160,0.08)" stroke="none"/>
<path d="M831.0,260.2 L834.0,260.2 L834.0,258.8 L837.0,258.8 L837.0,256.6 L840.0,256.6 L840.0,249.1 L843.0,249.1 L843.0,236.4 L846.0,236.4 L846.0,239.9 L849.0,239.9 L849.0,239.9 L852.0,239.9 L852.0,241.1 L855.0,241.1 L855.0,239.0 L858.0,239.0 L858.0,244.4 L861.0,244.4 L861.0,251.7 L864.0,251.7 L864.0,259.9 L867.0,259.9 L867.0,266.9 L870.0,266.9 L870.0,270.7 L873.0,270.7 L873.0,259.7 L876.0,259.7 L876.0,259.6 L879.0,259.6 L879.0,254.4 L882.0,254.4 L882.0,254.0 L885.0,254.0 L885.0,245.0 L888.0,245.0 L888.0,243.3 L891.0,243.3 L891.0,237.0 L894.0,237.0 L894.0,236.7 L897.0,236.7 L897.0,241.5 L900.0,241.5 L900.0,240.1 L903.0,240.1 L903.0,249.1 L906.0,249.1 L906.0,263.7 L909.0,263.7 L909.0,264.7 L912.0,264.7 L912.0,262.4 L915.0,262.4 L915.0,261.9 L918.0,261.9 L918.0,257.6 L921.0,257.6 L921.0,251.2 L924.0,251.2 L924.0,250.5 L927.0,250.5 L927.0,246.4 L930.0,246.4 L930.0,244.3 L933.0,244.3 L933.0,242.8 L936.0,242.8 L936.0,234.9 L939.0,234.9 L939.0,234.7 L942.0,234.7 L942.0,231.4 L945.0,231.4 L945.0,232.0 L948.0,232.0 L948.0,240.0 L951.0,240.0 L951.0,238.8 L954.0,238.8 L954.0,233.7 L957.0,233.7 L957.0,240.6 L960.0,240.6 L960.0,237.5 L963.0,237.5 L963.0,231.6 L966.0,231.6 L966.0,225.3 L969.0,225.3 L969.0,224.3 L972.0,224.3 L972.0,221.9 L975.0,221.9 L975.0,219.0 L978.0,219.0 L978.0,214.4 L981.0,214.4 L981.0,213.8 L984.0,213.8 L984.0,215.3 L987.0,215.3 L987.0,219.4 L990.0,219.4 L990.0,226.8 L993.0,226.8 L993.0,252.4 L996.0,252.4 L996.0,260.0 L999.0,260.0 L999.0,248.2 L1002.0,248.2 L1002.0,229.5 L1005.0,229.5 L1005.0,219.8 L1008.0,219.8 L1008.0,212.7 L1011.0,212.7 L1011.0,208.9 L1014.0,208.9 L1014.0,211.3 L1017.0,211.3 L1017.0,211.5 L1020.0,211.5 L1020.0,216.4 L1023.0,216.4 L1023.0,219.4 L1026.0,219.4 L1026.0,223.6 L1029.0,223.6 L1029.0,226.5 L1032.0,226.5 L1032.0,230.9 L1035.0,230.9 L1035.0,227.6 L1038.0,227.6 L1038.0,230.6 L1041.0,230.6 L1041.0,229.8 L1044.0,229.8 L1044.0,231.2 L1047.0,231.2 L1047.0,225.9 L1050.0,225.9 L1050.0,224.4 L1053.0,224.4 L1053.0,221.7 L1056.0,221.7 L1056.0,220.2 L1059.0,220.2 L1059.0,212.8 L1062.0,212.8 L1062.0,213.4 L1065.0,213.4 L1065.0,212.7 L1068.0,212.7 L1068.0,213.7 L1071.0,213.7 L1071.0,217.8 L1074.0,217.8 L1074.0,238.2 L1077.0,238.2 L1077.0,254.1 L1080.0,254.1 L1080.0,256.4 L1083.0,256.4 L1083.0,252.5 L1086.0,252.5 L1086.0,257.5 L1089.0,257.5 L1089.0,257.7 L1092.0,257.7 L1092.0,261.4 L1095.0,261.4 L1095.0,268.7 L1098.0,268.7 L1098.0,271.6 L1101.0,271.6 L1101.0,264.1 L1104.0,264.1 L1104.0,262.4 L1107.0,262.4 L1107.0,261.9 L1110.0,261.9 L1110.0,256.8 L1113.0,256.8 L1113.0,248.8 L1116.0,248.8 L1116.0,246.1 L1119.0,246.1 L1119.0,244.8 L1122.0,244.8 L1122.0,245.5 L1125.0,245.5 L1125.0,243.6 L1128.0,243.6 L1128.0,239.9 L1131.0,239.9 L1131.0,232.5 L1134.0,232.5 L1134.0,224.1 L1137.0,224.1 L1137.0,218.1 L1140.0,218.1 L1140.0,249.9 L1143.0,249.9 L1143.0,258.1 L1146.0,258.1 L1146.0,257.8 L1149.0,257.8 L1149.0,256.3 L1152.0,256.3 L1152.0,259.3 L1155.0,259.3 L1155.0,301.0 L1158.0,301.0 L1158.0,297.5 L1161.0,297.5 L1161.0,291.4 L1164.0,291.4 L1164.0,291.8 L1167.0,291.8 L1167.0,289.3 L1170.0,289.3 L1170.0,283.4 L1173.0,283.4 L1173.0,279.3 L1176.0,279.3 L1176.0,277.2 L1179.0,277.2 L1179.0,262.0 L1182.0,262.0 L1182.0,258.0 L1185.0,258.0 L1185.0,255.2 L1188.0,255.2 L1188.0,255.3 L1191.0,255.3 L1191.0,256.3 L1194.0,256.3 L1194.0,255.4 L1197.0,255.4 L1197.0,257.3 L1200.0,257.3 L1200.0,263.2 L1203.0,263.2 L1203.0,271.3 L1206.0,271.3 L1206.0,278.3 L1209.0,278.3 L1209.0,284.5 L1212.0,284.5 L1212.0,303.3 L1215.0,303.3 L1215.0,308.3 L1218.0,308.3 L1218.0,296.2 L1221.0,296.2 L1221.0,289.2 L1224.0,289.2 L1224.0,284.7 L1227.0,284.7 L1227.0,279.6 L1230.0,279.6 L1230.0,276.9 L1233.0,276.9 L1233.0,275.0 L1236.0,275.0 L1236.0,271.2 L1239.0,271.2 L1239.0,267.7 L1242.0,267.7 L1242.0,266.2 L1245.0,266.2 L1245.0,277.6 L1248.0,277.6 L1248.0,292.6 L1251.0,292.6 L1251.0,286.6 L1254.0,286.6 L1254.0,279.5 L1257.0,279.5 L1257.0,272.8 L1260.0,272.8 L1260.0,268.4 L1263.0,268.4 L1263.0,265.7 L1266.0,265.7 L1266.0,259.6 L1269.0,259.6 L1269.0,256.7 L1272.0,256.7 L1272.0,279.1 L1275.0,279.1 L1275.0,283.1 L1278.0,283.1 L1278.0,287.7 L1281.0,287.7 L1281.0,296.2 L1284.0,296.2 L1284.0,299.0 L1287.0,299.0 L1287.0,291.1 L1290.0,291.1 L1290.0,286.4 L1293.0,286.4 L1293.0,278.3 L1296.0,278.3 L1296.0,270.9 L1299.0,270.9 L1299.0,266.2 L1302.0,266.2 L1302.0,258.6 L1305.0,258.6 L1305.0,249.7 L1308.0,249.7 L1308.0,249.5 L1311.0,249.5 L1311.0,251.8 L1314.0,251.8 L1314.0,255.2 L1317.0,255.2 L1317.0,256.6 L1320.0,256.6 L1320.0,263.7 L1323.0,263.7 L1323.0,272.4 L1326.0,272.4 L1326.0,282.4 L1329.0,282.4 L1329.0,283.9 L1332.0,283.9 L1332.0,286.9 L1335.0,286.9 L1335.0,289.4 L1338.0,289.4 L1338.0,295.4 L1341.0,295.4 L1341.0,296.9 L1344.0,296.9 L1344.0,300.8 L1347.0,300.8 L1347.0,295.5 L1350.0,295.5 L1350.0,289.9 L1353.0,289.9 L1353.0,282.5 L1356.0,282.5 L1356.0,281.2 L1359.0,281.2 L1359.0,289.5 L1362.0,289.5 L1362.0,289.6 L1365.0,289.6 L1365.0,290.9 L1368.0,290.9 L1368.0,305.9 L1371.0,305.9 L1371.0,329.3 L1374.0,329.3 L1374.0,349.6 L1377.0,349.6 L1377.0,345.1 L1380.0,345.1 L1380.0,325.3 L1383.0,325.3 L1383.0,312.8 L1386.0,312.8 L1386.0,306.0 L1389.0,306.0 L1389.0,302.1 L1392.0,302.1 L1392.0,289.5 L1395.0,289.5 L1395.0,283.3 L1398.0,283.3 L1398.0,278.9 L1401.0,278.9 L1401.0,275.3" fill="none" stroke="#000" stroke-width="3.0" stroke-dasharray="7,3.5" stroke-linejoin="round" />
<circle cx="834.6" cy="264.4" r="3.2" fill="#ff0000"/>
<circle cx="840.7" cy="242.9" r="3.2" fill="#ff0000"/>
<circle cx="843.8" cy="231.6" r="3.2" fill="#ff0000"/>
<circle cx="845.8" cy="240.8" r="3.2" fill="#ff0000"/>
<circle cx="849.9" cy="255.2" r="3.2" fill="#ff0000"/>
<circle cx="852.0" cy="235.7" r="3.2" fill="#ff0000"/>
<circle cx="858.1" cy="232.7" r="3.2" fill="#ff0000"/>
<circle cx="857.1" cy="249.0" r="3.2" fill="#ff0000"/>
<circle cx="861.2" cy="256.2" r="3.2" fill="#ff0000"/>
<circle cx="865.3" cy="280.8" r="3.2" fill="#ff0000"/>
<circle cx="869.4" cy="281.8" r="3.2" fill="#ff0000"/>
<circle cx="873.5" cy="258.2" r="3.2" fill="#ff0000"/>
<circle cx="877.5" cy="278.7" r="3.2" fill="#ff0000"/>
<circle cx="881.6" cy="239.8" r="3.2" fill="#ff0000"/>
<circle cx="883.7" cy="263.4" r="3.2" fill="#ff0000"/>
<circle cx="885.7" cy="239.8" r="3.2" fill="#ff0000"/>
<circle cx="890.9" cy="235.7" r="3.2" fill="#ff0000"/>
<circle cx="893.9" cy="256.2" r="3.2" fill="#ff0000"/>
<circle cx="905.2" cy="263.4" r="3.2" fill="#ff0000"/>
<circle cx="907.2" cy="225.1" r="3.2" fill="#ff0000"/>
<circle cx="911.3" cy="250.1" r="3.2" fill="#ff0000"/>
<circle cx="913.4" cy="243.9" r="3.2" fill="#ff0000"/>
<circle cx="920.5" cy="264.4" r="3.2" fill="#ff0000"/>
<circle cx="924.6" cy="231.6" r="3.2" fill="#ff0000"/>
<circle cx="925.6" cy="248.0" r="3.2" fill="#ff0000"/>
<circle cx="931.8" cy="228.6" r="3.2" fill="#ff0000"/>
<circle cx="933.4" cy="217.7" r="3.2" fill="#ff0000"/>
<circle cx="938.9" cy="217.7" r="3.2" fill="#ff0000"/>
<circle cx="941.0" cy="237.8" r="3.2" fill="#ff0000"/>
<circle cx="948.2" cy="252.1" r="3.2" fill="#ff0000"/>
<circle cx="951.2" cy="226.5" r="3.2" fill="#ff0000"/>
<circle cx="953.9" cy="259.9" r="3.2" fill="#ff0000"/>
<circle cx="956.3" cy="250.1" r="3.2" fill="#ff0000"/>
<circle cx="963.5" cy="231.6" r="3.2" fill="#ff0000"/>
<circle cx="966.6" cy="242.9" r="3.2" fill="#ff0000"/>
<circle cx="968.2" cy="223.4" r="3.2" fill="#ff0000"/>
<circle cx="971.7" cy="219.4" r="3.2" fill="#ff0000"/>
<circle cx="978.9" cy="223.4" r="3.2" fill="#ff0000"/>
<circle cx="981.9" cy="208.1" r="3.2" fill="#ff0000"/>
<circle cx="983.0" cy="214.2" r="3.2" fill="#ff0000"/>
<circle cx="987.0" cy="219.4" r="3.2" fill="#ff0000"/>
<circle cx="990.1" cy="225.5" r="3.2" fill="#ff0000"/>
<circle cx="991.1" cy="243.9" r="3.2" fill="#ff0000"/>
<circle cx="993.2" cy="272.6" r="3.2" fill="#ff0000"/>
<circle cx="995.2" cy="273.6" r="3.2" fill="#ff0000"/>
<circle cx="998.3" cy="254.1" r="3.2" fill="#ff0000"/>
<circle cx="999.3" cy="225.5" r="3.2" fill="#ff0000"/>
<circle cx="1000.3" cy="232.7" r="3.2" fill="#ff0000"/>
<circle cx="1002.4" cy="198.9" r="3.2" fill="#ff0000"/>
<circle cx="1004.4" cy="197.9" r="3.2" fill="#ff0000"/>
<circle cx="1007.5" cy="197.9" r="3.2" fill="#ff0000"/>
<circle cx="1009.6" cy="234.7" r="3.2" fill="#ff0000"/>
<circle cx="1012.6" cy="219.4" r="3.2" fill="#ff0000"/>
<circle cx="1015.7" cy="198.9" r="3.2" fill="#ff0000"/>
<circle cx="1017.7" cy="217.3" r="3.2" fill="#ff0000"/>
<circle cx="1021.8" cy="211.2" r="3.2" fill="#ff0000"/>
<circle cx="1033.1" cy="223.4" r="3.2" fill="#ff0000"/>
<circle cx="1042.3" cy="258.2" r="3.2" fill="#ff0000"/>
<circle cx="1044.4" cy="250.1" r="3.2" fill="#ff0000"/>
<circle cx="1046.4" cy="242.9" r="3.2" fill="#ff0000"/>
<circle cx="1048.4" cy="223.4" r="3.2" fill="#ff0000"/>
<circle cx="1052.5" cy="221.4" r="3.2" fill="#ff0000"/>
<circle cx="1054.6" cy="188.7" r="3.2" fill="#ff0000"/>
<circle cx="1057.7" cy="191.7" r="3.2" fill="#ff0000"/>
<circle cx="1056.6" cy="227.5" r="3.2" fill="#ff0000"/>
<circle cx="1061.7" cy="215.3" r="3.2" fill="#ff0000"/>
<circle cx="1064.8" cy="209.1" r="3.2" fill="#ff0000"/>
<circle cx="1066.9" cy="214.2" r="3.2" fill="#ff0000"/>
<circle cx="1068.9" cy="240.8" r="3.2" fill="#ff0000"/>
<circle cx="1071.0" cy="236.7" r="3.2" fill="#ff0000"/>
<circle cx="1073.0" cy="219.4" r="3.2" fill="#ff0000"/>
<circle cx="1080.2" cy="285.9" r="3.2" fill="#ff0000"/>
<circle cx="1082.2" cy="270.5" r="3.2" fill="#ff0000"/>
<circle cx="1084.3" cy="252.1" r="3.2" fill="#ff0000"/>
<circle cx="1089.4" cy="266.4" r="3.2" fill="#ff0000"/>
<circle cx="1090.4" cy="250.1" r="3.2" fill="#ff0000"/>
<circle cx="1091.4" cy="292.0" r="3.2" fill="#ff0000"/>
<circle cx="1093.5" cy="249.0" r="3.2" fill="#ff0000"/>
<circle cx="1095.5" cy="270.5" r="3.2" fill="#ff0000"/>
<circle cx="1099.6" cy="249.0" r="3.2" fill="#ff0000"/>
<circle cx="1103.7" cy="234.7" r="3.2" fill="#ff0000"/>
<circle cx="1106.8" cy="238.8" r="3.2" fill="#ff0000"/>
<circle cx="1110.9" cy="242.9" r="3.2" fill="#ff0000"/>
<circle cx="1114.5" cy="231.6" r="3.2" fill="#ff0000"/>
<circle cx="1115.5" cy="261.3" r="3.2" fill="#ff0000"/>
<circle cx="1117.6" cy="243.9" r="3.2" fill="#ff0000"/>
<circle cx="1119.6" cy="259.3" r="3.2" fill="#ff0000"/>
<circle cx="1121.7" cy="237.8" r="3.2" fill="#ff0000"/>
<circle cx="1125.8" cy="254.1" r="3.2" fill="#ff0000"/>
<circle cx="1127.8" cy="226.5" r="3.2" fill="#ff0000"/>
<circle cx="1131.9" cy="225.5" r="3.2" fill="#ff0000"/>
<circle cx="1134.0" cy="231.6" r="3.2" fill="#ff0000"/>
<circle cx="1134.0" cy="211.2" r="3.2" fill="#ff0000"/>
<circle cx="1136.0" cy="205.0" r="3.2" fill="#ff0000"/>
<circle cx="1138.1" cy="270.5" r="3.2" fill="#ff0000"/>
<circle cx="1137.0" cy="276.7" r="3.2" fill="#ff0000"/>
<circle cx="1138.1" cy="243.9" r="3.2" fill="#ff0000"/>
<circle cx="1142.2" cy="242.9" r="3.2" fill="#ff0000"/>
<circle cx="1150.3" cy="258.2" r="3.2" fill="#ff0000"/>
<circle cx="1156.5" cy="280.8" r="3.2" fill="#ff0000"/>
<circle cx="1161.6" cy="288.9" r="3.2" fill="#ff0000"/>
<circle cx="1165.7" cy="303.3" r="3.2" fill="#ff0000"/>
<circle cx="1172.9" cy="278.7" r="3.2" fill="#ff0000"/>
<circle cx="1178.0" cy="249.0" r="3.2" fill="#ff0000"/>
<circle cx="1183.1" cy="239.8" r="3.2" fill="#ff0000"/>
<circle cx="1185.1" cy="234.7" r="3.2" fill="#ff0000"/>
<circle cx="1187.2" cy="270.5" r="3.2" fill="#ff0000"/>
<circle cx="1191.3" cy="257.2" r="3.2" fill="#ff0000"/>
<circle cx="1196.4" cy="268.5" r="3.2" fill="#ff0000"/>
<circle cx="1197.4" cy="248.0" r="3.2" fill="#ff0000"/>
<circle cx="1201.5" cy="249.0" r="3.2" fill="#ff0000"/>
<circle cx="1204.6" cy="267.4" r="3.2" fill="#ff0000"/>
<circle cx="1210.7" cy="309.4" r="3.2" fill="#ff0000"/>
<circle cx="1213.8" cy="282.8" r="3.2" fill="#ff0000"/>
<circle cx="1215.8" cy="306.3" r="3.2" fill="#ff0000"/>
<circle cx="1219.9" cy="288.9" r="3.2" fill="#ff0000"/>
<circle cx="1222.0" cy="271.5" r="3.2" fill="#ff0000"/>
<circle cx="1225.0" cy="262.3" r="3.2" fill="#ff0000"/>
<circle cx="1225.0" cy="296.1" r="3.2" fill="#ff0000"/>
<circle cx="1227.1" cy="293.0" r="3.2" fill="#ff0000"/>
<circle cx="1230.2" cy="258.2" r="3.2" fill="#ff0000"/>
<circle cx="1231.2" cy="283.8" r="3.2" fill="#ff0000"/>
<circle cx="1234.3" cy="260.3" r="3.2" fill="#ff0000"/>
<circle cx="1242.4" cy="260.3" r="3.2" fill="#ff0000"/>
<circle cx="1243.5" cy="288.9" r="3.2" fill="#ff0000"/>
<circle cx="1247.6" cy="307.4" r="3.2" fill="#ff0000"/>
<circle cx="1252.7" cy="282.8" r="3.2" fill="#ff0000"/>
<circle cx="1254.7" cy="270.5" r="3.2" fill="#ff0000"/>
<circle cx="1256.8" cy="274.6" r="3.2" fill="#ff0000"/>
<circle cx="1262.9" cy="278.7" r="3.2" fill="#ff0000"/>
<circle cx="1266.0" cy="244.9" r="3.2" fill="#ff0000"/>
<circle cx="1265.0" cy="271.5" r="3.2" fill="#ff0000"/>
<circle cx="1272.1" cy="272.6" r="3.2" fill="#ff0000"/>
<circle cx="1273.1" cy="292.0" r="3.2" fill="#ff0000"/>
<circle cx="1277.2" cy="282.8" r="3.2" fill="#ff0000"/>
<circle cx="1281.3" cy="296.1" r="3.2" fill="#ff0000"/>
<circle cx="1284.4" cy="285.9" r="3.2" fill="#ff0000"/>
<circle cx="1292.6" cy="248.0" r="3.2" fill="#ff0000"/>
<circle cx="1293.6" cy="282.8" r="3.2" fill="#ff0000"/>
<circle cx="1296.7" cy="242.9" r="3.2" fill="#ff0000"/>
<circle cx="1298.7" cy="270.5" r="3.2" fill="#ff0000"/>
<circle cx="1302.8" cy="237.8" r="3.2" fill="#ff0000"/>
<circle cx="1304.9" cy="266.4" r="3.2" fill="#ff0000"/>
<circle cx="1310.0" cy="271.5" r="3.2" fill="#ff0000"/>
<circle cx="1314.1" cy="279.7" r="3.2" fill="#ff0000"/>
<circle cx="1316.1" cy="264.4" r="3.2" fill="#ff0000"/>
<circle cx="1320.2" cy="276.7" r="3.2" fill="#ff0000"/>
<circle cx="1326.4" cy="270.5" r="3.2" fill="#ff0000"/>
<circle cx="1335.6" cy="284.8" r="3.2" fill="#ff0000"/>
<circle cx="1341.7" cy="288.9" r="3.2" fill="#ff0000"/>
<circle cx="1353.0" cy="290.0" r="3.2" fill="#ff0000"/>
<circle cx="1356.0" cy="307.4" r="3.2" fill="#ff0000"/>
<circle cx="1364.2" cy="278.7" r="3.2" fill="#ff0000"/>
<circle cx="1368.3" cy="296.1" r="3.2" fill="#ff0000"/>
<circle cx="1374.4" cy="324.8" r="3.2" fill="#ff0000"/>
<circle cx="1377.5" cy="292.0" r="3.2" fill="#ff0000"/>
<circle cx="1384.7" cy="317.6" r="3.2" fill="#ff0000"/>
<circle cx="1388.8" cy="322.7" r="3.2" fill="#ff0000"/>
<circle cx="1389.8" cy="291.0" r="3.2" fill="#ff0000"/>
<circle cx="1391.8" cy="278.7" r="3.2" fill="#ff0000"/>
<circle cx="1391.8" cy="266.4" r="3.2" fill="#ff0000"/>
<circle cx="1395.9" cy="265.4" r="3.2" fill="#ff0000"/>
<circle cx="1395.9" cy="299.2" r="3.2" fill="#ff0000"/>
<circle cx="1399.0" cy="272.6" r="3.2" fill="#ff0000"/>
<circle cx="1403.1" cy="250.1" r="3.2" fill="#ff0000"/>
<circle cx="842.2" cy="237.4" r="3.2" fill="#ff0000"/>
<circle cx="918.1" cy="245.3" r="3.2" fill="#ff0000"/>
<circle cx="965.0" cy="227.7" r="3.2" fill="#ff0000"/>
<circle cx="1019.8" cy="218.8" r="3.2" fill="#ff0000"/>
<circle cx="1040.0" cy="232.3" r="3.2" fill="#ff0000"/>
<circle cx="1050.5" cy="230.7" r="3.2" fill="#ff0000"/>
<circle cx="1075.4" cy="232.9" r="3.2" fill="#ff0000"/>
<circle cx="1086.8" cy="247.4" r="3.2" fill="#ff0000"/>
<circle cx="1101.7" cy="275.1" r="3.2" fill="#ff0000"/>
<circle cx="1129.9" cy="231.3" r="3.2" fill="#ff0000"/>
<circle cx="1168.1" cy="288.9" r="3.2" fill="#ff0000"/>
<circle cx="1199.5" cy="262.9" r="3.2" fill="#ff0000"/>
<circle cx="1203.0" cy="276.3" r="3.2" fill="#ff0000"/>
<circle cx="1206.6" cy="285.0" r="3.2" fill="#ff0000"/>
<circle cx="1208.7" cy="285.6" r="3.2" fill="#ff0000"/>
<circle cx="1212.3" cy="306.1" r="3.2" fill="#ff0000"/>
<circle cx="1239.7" cy="265.3" r="3.2" fill="#ff0000"/>
<circle cx="1250.1" cy="282.8" r="3.2" fill="#ff0000"/>
<circle cx="1258.8" cy="263.9" r="3.2" fill="#ff0000"/>
<circle cx="1270.1" cy="272.5" r="3.2" fill="#ff0000"/>
<circle cx="1300.8" cy="248.5" r="3.2" fill="#ff0000"/>
<circle cx="1370.4" cy="319.2" r="3.2" fill="#ff0000"/>
</g>
<g clip-path="url(#c01)">
<path d="M147.2,541.5 L148.8,541.5 L148.8,548.1 L150.4,548.1 L150.4,563.4 L152.0,563.4 L152.0,564.1 L153.6,564.1 L153.6,563.6 L155.2,563.6 L155.2,567.2 L156.8,567.2 L156.8,575.1 L158.4,575.1 L158.4,580.5 L160.0,580.5 L160.0,586.7 L161.6,586.7 L161.6,592.0 L163.2,592.0 L163.2,597.5 L164.8,597.5 L164.8,601.0 L166.4,601.0 L166.4,601.7 L168.0,601.7 L168.0,602.2 L169.6,602.2 L169.6,602.0 L171.2,602.0 L171.2,601.1 L172.8,601.1 L172.8,602.4 L174.4,602.4 L174.4,601.6 L176.0,601.6 L176.0,602.8 L177.6,602.8 L177.6,602.2 L179.2,602.2 L179.2,603.0 L180.8,603.0 L180.8,602.6 L182.4,602.6 L182.4,602.6 L184.0,602.6 L184.0,602.8 L185.6,602.8 L185.6,602.0 L187.2,602.0 L187.2,602.4 L188.8,602.4 L188.8,602.8 L190.4,602.8 L190.4,602.2 L192.0,602.2 L192.0,602.7 L193.6,602.7 L193.6,602.4 L195.2,602.4 L195.2,602.7 L196.8,602.7 L196.8,602.4 L198.4,602.4 L198.4,602.1 L200.0,602.1 L200.0,602.1 L201.6,602.1 L201.6,602.2 L203.2,602.2 L203.2,601.4 L204.8,601.4 L204.8,602.2 L206.4,602.2 L206.4,601.1 L208.0,601.1 L208.0,601.4 L209.6,601.4 L209.6,602.0 L211.2,602.0 L211.2,602.1 L212.8,602.1 L212.8,601.0 L214.4,601.0 L214.4,601.1 L216.0,601.1 L216.0,602.0 L217.6,602.0 L217.6,601.4 L219.2,601.4 L219.2,601.4 L220.8,601.4 L220.8,601.7 L222.4,601.7 L222.4,601.4 L224.0,601.4 L224.0,601.6 L225.6,601.6 L225.6,601.6 L227.2,601.6 L227.2,600.2 L228.8,600.2 L228.8,599.8 L230.4,599.8 L230.4,600.8 L232.0,600.8 L232.0,599.8 L233.6,599.8 L233.6,600.1 L235.2,600.1 L235.2,600.1 L236.8,600.1 L236.8,599.9 L238.4,599.9 L238.4,599.9 L240.0,599.9 L240.0,599.1 L241.6,599.1 L241.6,599.3 L243.2,599.3 L243.2,599.5 L244.8,599.5 L244.8,599.0 L246.4,599.0 L246.4,599.3 L248.0,599.3 L248.0,599.6 L249.6,599.6 L249.6,598.3 L251.2,598.3 L251.2,598.2 L252.8,598.2 L252.8,599.2 L254.4,599.2 L254.4,597.5 L256.0,597.5 L256.0,597.7 L257.6,597.7 L257.6,598.1 L259.2,598.1 L259.2,598.2 L260.8,598.2 L260.8,597.8 L262.4,597.8 L262.4,597.8 L264.0,597.8 L264.0,595.8 L265.6,595.8 L265.6,597.5 L267.2,597.5 L267.2,597.4 L268.8,597.4 L268.8,597.5 L270.4,597.5 L270.4,598.8 L272.0,598.8 L272.0,598.2 L273.6,598.2 L273.6,598.9 L275.2,598.9 L275.2,598.7 L276.8,598.7 L276.8,599.5 L278.4,599.5 L278.4,599.9 L280.0,599.9 L280.0,599.4 L281.6,599.4 L281.6,599.1 L283.2,599.1 L283.2,601.0 L284.8,601.0 L284.8,600.2 L286.4,600.2 L286.4,600.8 L288.0,600.8 L288.0,601.5 L289.6,601.5 L289.6,600.7 L291.2,600.7 L291.2,598.5 L292.8,598.5 L292.8,601.2 L294.4,601.2 L294.4,602.8 L296.0,602.8 L296.0,602.7 L297.6,602.7 L297.6,602.0 L299.2,602.0 L299.2,603.2 L300.8,603.2 L300.8,600.3 L302.4,600.3 L302.4,600.2 L304.0,600.2 L304.0,603.6 L305.6,603.6 L305.6,600.1 L307.2,600.1 L307.2,598.2 L308.8,598.2 L308.8,592.3 L310.4,592.3 L310.4,592.8 L312.0,592.8 L312.0,589.1 L313.6,589.1 L313.6,588.9 L315.2,588.9 L315.2,586.2 L316.8,586.2 L316.8,585.6 L318.4,585.6 L318.4,582.3 L320.0,582.3 L320.0,581.9 L321.6,581.9 L321.6,578.9 L323.2,578.9 L323.2,580.4 L324.8,580.4 L324.8,579.9 L326.4,579.9 L326.4,581.2 L328.0,581.2 L328.0,580.2 L329.6,580.2 L329.6,581.1 L331.2,581.1 L331.2,581.1 L332.8,581.1 L332.8,579.6 L334.4,579.6 L334.4,580.6 L336.0,580.6 L336.0,580.8 L337.6,580.8 L337.6,579.3 L339.2,579.3 L339.2,579.5 L340.8,579.5 L340.8,580.1 L342.4,580.1 L342.4,576.5 L344.0,576.5 L344.0,579.1 L345.6,579.1 L345.6,578.0 L347.2,578.0 L347.2,578.3 L348.8,578.3 L348.8,579.3 L350.4,579.3 L350.4,578.8 L352.0,578.8 L352.0,578.8 L353.6,578.8 L353.6,578.8 L355.2,578.8 L355.2,579.8 L356.8,579.8 L356.8,578.2 L358.4,578.2 L358.4,588.0 L360.0,588.0 L360.0,589.4 L361.6,589.4 L361.6,589.0 L363.2,589.0 L363.2,588.2 L364.8,588.2 L364.8,587.4 L366.4,587.4 L366.4,585.5 L368.0,585.5 L368.0,584.5 L369.6,584.5 L369.6,585.0 L371.2,585.0 L371.2,582.9 L372.8,582.9 L372.8,582.8 L374.4,582.8 L374.4,583.6 L376.0,583.6 L376.0,583.3 L377.6,583.3 L377.6,583.6 L379.2,583.6 L379.2,584.5 L380.8,584.5 L380.8,584.7 L382.4,584.7 L382.4,584.1 L384.0,584.1 L384.0,584.1 L385.6,584.1 L385.6,581.8 L387.2,581.8 L387.2,585.7 L388.8,585.7 L388.8,584.9 L390.4,584.9 L390.4,585.3 L392.0,585.3 L392.0,585.9 L393.6,585.9 L393.6,586.3 L395.2,586.3 L395.2,586.5 L396.8,586.5 L396.8,587.0 L398.4,587.0 L398.4,586.4 L400.0,586.4 L400.0,582.8 L401.6,582.8 L401.6,587.8 L403.2,587.8 L403.2,591.7 L404.8,591.7 L404.8,596.3 L406.4,596.3 L406.4,601.4 L408.0,601.4 L408.0,600.0 L409.6,600.0 L409.6,599.3 L411.2,599.3 L411.2,595.5 L412.8,595.5 L412.8,597.1 L414.4,597.1 L414.4,594.6 L416.0,594.6 L416.0,594.3 L417.6,594.3 L417.6,592.9 L419.2,592.9 L419.2,592.0 L420.8,592.0 L420.8,590.4 L422.4,590.4 L422.4,590.0 L424.0,590.0 L424.0,589.8 L425.6,589.8 L425.6,590.8 L427.2,590.8 L427.2,591.2 L428.8,591.2 L428.8,590.4 L430.4,590.4 L430.4,591.6 L432.0,591.6 L432.0,591.7 L433.6,591.7 L433.6,592.2 L435.2,592.2 L435.2,592.7 L436.8,592.7 L436.8,592.9 L438.4,592.9 L438.4,593.5 L440.0,593.5 L440.0,592.9 L441.6,592.9 L441.6,593.3 L443.2,593.3 L443.2,594.9 L444.8,594.9 L444.8,595.3 L446.4,595.3 L446.4,595.4 L448.0,595.4 L448.0,594.8 L449.6,594.8 L449.6,593.0 L451.2,593.0 L451.2,590.9 L452.8,590.9 L452.8,588.0 L454.4,588.0 L454.4,583.5 L456.0,583.5 L456.0,582.8 L457.6,582.8 L457.6,585.0 L459.2,585.0 L459.2,585.6 L460.8,585.6 L460.8,586.8 L462.4,586.8 L462.4,586.9 L464.0,586.9 L464.0,587.4 L465.6,587.4 L465.6,588.0 L467.2,588.0 L467.2,588.7 L468.8,588.7 L468.8,588.0 L470.4,588.0 L470.4,589.5 L472.0,589.5 L472.0,588.8 L473.6,588.8 L473.6,589.7 L475.2,589.7 L475.2,590.2 L476.8,590.2 L476.8,590.1 L478.4,590.1 L478.4,591.3 L480.0,591.3 L480.0,591.3 L481.6,591.3 L481.6,590.3 L483.2,590.3 L483.2,590.7 L484.8,590.7 L484.8,589.7 L486.4,589.7 L486.4,589.0 L488.0,589.0 L488.0,589.3 L489.6,589.3 L489.6,589.4 L491.2,589.4 L491.2,588.8 L492.8,588.8 L492.8,588.6 L494.4,588.6 L494.4,588.1 L496.0,588.1 L496.0,588.1 L497.6,588.1 L497.6,588.3 L499.2,588.3 L499.2,588.7 L500.8,588.7 L500.8,588.9 L502.4,588.9 L502.4,589.1 L504.0,589.1 L504.0,590.6 L505.6,590.6 L505.6,589.9 L507.2,589.9 L507.2,590.9 L508.8,590.9 L508.8,591.1 L510.4,591.1 L510.4,591.5 L512.0,591.5 L512.0,592.0 L513.6,592.0 L513.6,592.6 L515.2,592.6 L515.2,593.9 L516.8,593.9 L516.8,595.0 L518.4,595.0 L518.4,595.4 L520.0,595.4 L520.0,595.4 L521.6,595.4 L521.6,595.5 L523.2,595.5 L523.2,595.9 L524.8,595.9 L524.8,595.6 L526.4,595.6 L526.4,595.3 L528.0,595.3 L528.0,596.1 L529.6,596.1 L529.6,596.6 L531.2,596.6 L531.2,596.7 L532.8,596.7 L532.8,595.6 L534.4,595.6 L534.4,595.9 L536.0,595.9 L536.0,596.7 L537.6,596.7 L537.6,595.6 L539.2,595.6 L539.2,592.9 L540.8,592.9 L540.8,596.4 L542.4,596.4 L542.4,596.6 L544.0,596.6 L544.0,596.3 L545.6,596.3 L545.6,596.8 L547.2,596.8 L547.2,596.8 L548.8,596.8 L548.8,593.7 L550.4,593.7 L550.4,594.5 L552.0,594.5 L552.0,597.0 L553.6,597.0 L553.6,594.0 L555.2,594.0 L555.2,594.0 L556.8,594.0 L556.8,596.5 L558.4,596.5 L558.4,597.7 L560.0,597.7 L560.0,597.9 L561.6,597.9 L561.6,594.8 L563.2,594.8 L563.2,594.8 L564.8,594.8 L564.8,598.3 L566.4,598.3 L566.4,600.5 L568.0,600.5 L568.0,600.5 L569.6,600.5 L569.6,601.5 L571.2,601.5 L571.2,601.1 L572.8,601.1 L572.8,602.9 L574.4,602.9 L574.4,603.6 L576.0,603.6 L576.0,602.0 L577.6,602.0 L577.6,604.1 L579.2,604.1 L579.2,602.0 L580.8,602.0 L580.8,604.7 L582.4,604.7 L582.4,605.0 L584.0,605.0 L584.0,603.9 L585.6,603.9 L585.6,603.5 L587.2,603.5 L587.2,604.7 L588.8,604.7 L588.8,603.9 L590.4,603.9 L590.4,603.4 L592.0,603.4 L592.0,599.9 L593.6,599.9 L593.6,603.3 L595.2,603.3 L595.2,600.5 L596.8,600.5 L596.8,601.1 L598.4,601.1 L598.4,601.6 L600.0,601.6 L600.0,601.7 L601.6,601.7 L601.6,601.2 L603.2,601.2 L603.2,597.1 L604.8,597.1 L604.8,600.2 L606.4,600.2 L606.4,600.2 L608.0,600.2 L608.0,599.7 L609.6,599.7 L609.6,599.7 L611.2,599.7 L611.2,600.3 L612.8,600.3 L612.8,600.3 L614.4,600.3 L614.4,600.3 L616.0,600.3 L616.0,600.3 L617.6,600.3 L617.6,600.8 L619.2,600.8 L619.2,601.5 L620.8,601.5 L620.8,601.1 L622.4,601.1 L622.4,601.9 L624.0,601.9 L624.0,601.9 L625.6,601.9 L625.6,597.8 L627.2,597.8 L627.2,601.3 L628.8,601.3 L628.8,601.7 L630.4,601.7 L630.4,602.4 L632.0,602.4 L632.0,602.8 L633.6,602.8 L633.6,601.7 L635.2,601.7 L635.2,602.6 L636.8,602.6 L636.8,603.4 L638.4,603.4 L638.4,603.1 L640.0,603.1 L640.0,603.8 L641.6,603.8 L641.6,603.5 L643.2,603.5 L643.2,604.8 L644.8,604.8 L644.8,604.4 L646.4,604.4 L646.4,604.2 L648.0,604.2 L648.0,605.3 L649.6,605.3 L649.6,605.3 L651.2,605.3 L651.2,605.9 L652.8,605.9 L652.8,605.1 L654.4,605.1 L654.4,605.6 L656.0,605.6 L656.0,601.8 L657.6,601.8 L657.6,606.8 L659.2,606.8 L659.2,605.8 L660.8,605.8 L660.8,607.0 L662.4,607.0 L662.4,607.5 L664.0,607.5 L664.0,607.7 L665.6,607.7 L665.6,605.3 L667.2,605.3 L667.2,607.0 L668.8,607.0 L668.8,608.4 L670.4,608.4 L670.4,608.0 L672.0,608.0 L672.0,608.0 L673.6,608.0 L673.6,607.8 L675.2,607.8 L675.2,609.3 L676.8,609.3 L676.8,608.9 L678.4,608.9 L678.4,609.4 L680.0,609.4 L680.0,609.4 L681.6,609.4 L681.6,609.8 L683.2,609.8 L683.2,609.6 L684.8,609.6 L684.8,610.9 L686.4,610.9 L686.4,610.8 L688.0,610.8 L688.0,610.1 L689.6,610.1 L689.6,610.4 L691.2,610.4 L691.2,610.6 L692.8,610.6 L692.8,612.2 L694.4,612.2 L694.4,611.8 L696.0,611.8 L696.0,611.1 L697.6,611.1 L697.6,609.6 L699.2,609.6 L699.2,608.5 L700.8,608.5 L700.8,608.4 L702.4,608.4 L702.4,607.1 L704.0,607.1 L704.0,606.2 L705.6,606.2 L705.6,606.4 L707.2,606.4 L707.2,605.3 L708.8,605.3 L708.8,605.1 L710.4,605.1 L710.4,605.3 L712.0,605.3 L712.0,605.3 L713.6,605.3 L713.6,605.5 L715.2,605.5 L715.2,605.4 L716.8,605.4 L716.8,604.9 L716.8,657.6 L716.8,658.5 L715.2,658.5 L715.2,659.7 L713.6,659.7 L713.6,661.1 L712.0,661.1 L712.0,662.1 L710.4,662.1 L710.4,663.0 L708.8,663.0 L708.8,663.8 L707.2,663.8 L707.2,664.2 L705.6,664.2 L705.6,664.7 L704.0,664.7 L704.0,663.7 L702.4,663.7 L702.4,665.0 L700.8,665.0 L700.8,663.8 L699.2,663.8 L699.2,664.4 L697.6,664.4 L697.6,664.3 L696.0,664.3 L696.0,664.0 L694.4,664.0 L694.4,663.0 L692.8,663.0 L692.8,662.6 L691.2,662.6 L691.2,662.5 L689.6,662.5 L689.6,663.0 L688.0,663.0 L688.0,662.5 L686.4,662.5 L686.4,662.9 L684.8,662.9 L684.8,662.5 L683.2,662.5 L683.2,661.2 L681.6,661.2 L681.6,662.3 L680.0,662.3 L680.0,661.9 L678.4,661.9 L678.4,661.3 L676.8,661.3 L676.8,660.8 L675.2,660.8 L675.2,660.8 L673.6,660.8 L673.6,659.8 L672.0,659.8 L672.0,660.2 L670.4,660.2 L670.4,660.6 L668.8,660.6 L668.8,659.8 L667.2,659.8 L667.2,658.7 L665.6,658.7 L665.6,658.6 L664.0,658.6 L664.0,659.2 L662.4,659.2 L662.4,658.1 L660.8,658.1 L660.8,657.6 L659.2,657.6 L659.2,657.0 L657.6,657.0 L657.6,657.2 L656.0,657.2 L656.0,659.7 L654.4,659.7 L654.4,656.3 L652.8,656.3 L652.8,655.5 L651.2,655.5 L651.2,656.0 L649.6,656.0 L649.6,656.0 L648.0,656.0 L648.0,654.8 L646.4,654.8 L646.4,655.5 L644.8,655.5 L644.8,655.2 L643.2,655.2 L643.2,654.9 L641.6,654.9 L641.6,654.3 L640.0,654.3 L640.0,654.4 L638.4,654.4 L638.4,653.0 L636.8,653.0 L636.8,653.0 L635.2,653.0 L635.2,653.1 L633.6,653.1 L633.6,651.7 L632.0,651.7 L632.0,651.8 L630.4,651.8 L630.4,652.6 L628.8,652.6 L628.8,651.5 L627.2,651.5 L627.2,651.5 L625.6,651.5 L625.6,650.7 L624.0,650.7 L624.0,650.0 L622.4,650.0 L622.4,650.9 L620.8,650.9 L620.8,649.4 L619.2,649.4 L619.2,649.5 L617.6,649.5 L617.6,648.9 L616.0,648.9 L616.0,650.9 L614.4,650.9 L614.4,648.6 L612.8,648.6 L612.8,649.0 L611.2,649.0 L611.2,649.2 L609.6,649.2 L609.6,649.1 L608.0,649.1 L608.0,648.8 L606.4,648.8 L606.4,648.4 L604.8,648.4 L604.8,649.8 L603.2,649.8 L603.2,649.1 L601.6,649.1 L601.6,648.7 L600.0,648.7 L600.0,649.8 L598.4,649.8 L598.4,649.1 L596.8,649.1 L596.8,651.6 L595.2,651.6 L595.2,649.0 L593.6,649.0 L593.6,649.1 L592.0,649.1 L592.0,650.5 L590.4,650.5 L590.4,650.2 L588.8,650.2 L588.8,650.8 L587.2,650.8 L587.2,649.5 L585.6,649.5 L585.6,650.8 L584.0,650.8 L584.0,650.6 L582.4,650.6 L582.4,651.1 L580.8,651.1 L580.8,653.3 L579.2,653.3 L579.2,650.8 L577.6,650.8 L577.6,650.7 L576.0,650.7 L576.0,649.3 L574.4,649.3 L574.4,649.7 L572.8,649.7 L572.8,649.7 L571.2,649.7 L571.2,648.7 L569.6,648.7 L569.6,648.9 L568.0,648.9 L568.0,648.1 L566.4,648.1 L566.4,649.1 L564.8,649.1 L564.8,647.8 L563.2,647.8 L563.2,649.0 L561.6,649.0 L561.6,647.5 L560.0,647.5 L560.0,647.9 L558.4,647.9 L558.4,647.3 L556.8,647.3 L556.8,648.1 L555.2,648.1 L555.2,647.3 L553.6,647.3 L553.6,647.0 L552.0,647.0 L552.0,647.4 L550.4,647.4 L550.4,647.2 L548.8,647.2 L548.8,647.1 L547.2,647.1 L547.2,646.2 L545.6,646.2 L545.6,647.2 L544.0,647.2 L544.0,646.6 L542.4,646.6 L542.4,646.1 L540.8,646.1 L540.8,645.0 L539.2,645.0 L539.2,645.8 L537.6,645.8 L537.6,644.6 L536.0,644.6 L536.0,645.5 L534.4,645.5 L534.4,645.1 L532.8,645.1 L532.8,644.8 L531.2,644.8 L531.2,643.6 L529.6,643.6 L529.6,644.3 L528.0,644.3 L528.0,643.5 L526.4,643.5 L526.4,642.3 L524.8,642.3 L524.8,642.2 L523.2,642.2 L523.2,640.8 L521.6,640.8 L521.6,640.0 L520.0,640.0 L520.0,639.3 L518.4,639.3 L518.4,638.6 L516.8,638.6 L516.8,638.1 L515.2,638.1 L515.2,638.4 L513.6,638.4 L513.6,638.4 L512.0,638.4 L512.0,638.0 L510.4,638.0 L510.4,638.1 L508.8,638.1 L508.8,637.7 L507.2,637.7 L507.2,637.6 L505.6,637.6 L505.6,638.0 L504.0,638.0 L504.0,638.6 L502.4,638.6 L502.4,638.6 L500.8,638.6 L500.8,637.6 L499.2,637.6 L499.2,639.1 L497.6,639.1 L497.6,638.0 L496.0,638.0 L496.0,638.0 L494.4,638.0 L494.4,635.7 L492.8,635.7 L492.8,634.9 L491.2,634.9 L491.2,634.3 L489.6,634.3 L489.6,634.5 L488.0,634.5 L488.0,633.7 L486.4,633.7 L486.4,633.8 L484.8,633.8 L484.8,633.1 L483.2,633.1 L483.2,633.2 L481.6,633.2 L481.6,633.8 L480.0,633.8 L480.0,633.2 L478.4,633.2 L478.4,634.2 L476.8,634.2 L476.8,634.0 L475.2,634.0 L475.2,633.0 L473.6,633.0 L473.6,633.2 L472.0,633.2 L472.0,637.1 L470.4,637.1 L470.4,632.8 L468.8,632.8 L468.8,632.9 L467.2,632.9 L467.2,632.1 L465.6,632.1 L465.6,632.7 L464.0,632.7 L464.0,632.4 L462.4,632.4 L462.4,632.2 L460.8,632.2 L460.8,632.9 L459.2,632.9 L459.2,631.9 L457.6,631.9 L457.6,631.8 L456.0,631.8 L456.0,632.6 L454.4,632.6 L454.4,632.8 L452.8,632.8 L452.8,635.3 L451.2,635.3 L451.2,639.1 L449.6,639.1 L449.6,641.0 L448.0,641.0 L448.0,641.6 L446.4,641.6 L446.4,641.7 L444.8,641.7 L444.8,642.1 L443.2,642.1 L443.2,642.3 L441.6,642.3 L441.6,642.3 L440.0,642.3 L440.0,644.7 L438.4,644.7 L438.4,644.1 L436.8,644.1 L436.8,645.5 L435.2,645.5 L435.2,644.7 L433.6,644.7 L433.6,645.9 L432.0,645.9 L432.0,645.7 L430.4,645.7 L430.4,647.0 L428.8,647.0 L428.8,645.0 L427.2,645.0 L427.2,644.5 L425.6,644.5 L425.6,641.7 L424.0,641.7 L424.0,640.1 L422.4,640.1 L422.4,641.4 L420.8,641.4 L420.8,641.3 L419.2,641.3 L419.2,641.3 L417.6,641.3 L417.6,641.6 L416.0,641.6 L416.0,642.7 L414.4,642.7 L414.4,643.0 L412.8,643.0 L412.8,641.8 L411.2,641.8 L411.2,643.9 L409.6,643.9 L409.6,641.7 L408.0,641.7 L408.0,641.9 L406.4,641.9 L406.4,642.3 L404.8,642.3 L404.8,641.8 L403.2,641.8 L403.2,642.4 L401.6,642.4 L401.6,641.9 L400.0,641.9 L400.0,642.7 L398.4,642.7 L398.4,643.6 L396.8,643.6 L396.8,643.5 L395.2,643.5 L395.2,642.9 L393.6,642.9 L393.6,643.0 L392.0,643.0 L392.0,643.3 L390.4,643.3 L390.4,644.2 L388.8,644.2 L388.8,642.4 L387.2,642.4 L387.2,643.6 L385.6,643.6 L385.6,644.0 L384.0,644.0 L384.0,643.7 L382.4,643.7 L382.4,644.0 L380.8,644.0 L380.8,646.1 L379.2,646.1 L379.2,644.1 L377.6,644.1 L377.6,644.3 L376.0,644.3 L376.0,643.1 L374.4,643.1 L374.4,646.2 L372.8,646.2 L372.8,643.3 L371.2,643.3 L371.2,644.7 L369.6,644.7 L369.6,644.3 L368.0,644.3 L368.0,643.8 L366.4,643.8 L366.4,647.4 L364.8,647.4 L364.8,643.6 L363.2,643.6 L363.2,644.3 L361.6,644.3 L361.6,640.6 L360.0,640.6 L360.0,635.5 L358.4,635.5 L358.4,629.8 L356.8,629.8 L356.8,630.7 L355.2,630.7 L355.2,630.1 L353.6,630.1 L353.6,631.1 L352.0,631.1 L352.0,630.3 L350.4,630.3 L350.4,631.5 L348.8,631.5 L348.8,630.5 L347.2,630.5 L347.2,630.5 L345.6,630.5 L345.6,630.7 L344.0,630.7 L344.0,631.4 L342.4,631.4 L342.4,631.1 L340.8,631.1 L340.8,635.1 L339.2,635.1 L339.2,632.2 L337.6,632.2 L337.6,632.7 L336.0,632.7 L336.0,632.7 L334.4,632.7 L334.4,632.8 L332.8,632.8 L332.8,632.1 L331.2,632.1 L331.2,632.1 L329.6,632.1 L329.6,632.6 L328.0,632.6 L328.0,632.7 L326.4,632.7 L326.4,633.7 L324.8,633.7 L324.8,634.2 L323.2,634.2 L323.2,633.1 L321.6,633.1 L321.6,633.3 L320.0,633.3 L320.0,634.6 L318.4,634.6 L318.4,635.1 L316.8,635.1 L316.8,637.2 L315.2,637.2 L315.2,642.1 L313.6,642.1 L313.6,646.4 L312.0,646.4 L312.0,651.5 L310.4,651.5 L310.4,652.9 L308.8,652.9 L308.8,654.0 L307.2,654.0 L307.2,655.3 L305.6,655.3 L305.6,656.4 L304.0,656.4 L304.0,656.5 L302.4,656.5 L302.4,656.0 L300.8,656.0 L300.8,655.4 L299.2,655.4 L299.2,656.0 L297.6,656.0 L297.6,656.6 L296.0,656.6 L296.0,656.7 L294.4,656.7 L294.4,655.6 L292.8,655.6 L292.8,656.8 L291.2,656.8 L291.2,656.2 L289.6,656.2 L289.6,656.9 L288.0,656.9 L288.0,656.5 L286.4,656.5 L286.4,656.7 L284.8,656.7 L284.8,655.9 L283.2,655.9 L283.2,655.8 L281.6,655.8 L281.6,656.0 L280.0,656.0 L280.0,656.2 L278.4,656.2 L278.4,656.9 L276.8,656.9 L276.8,657.0 L275.2,657.0 L275.2,657.2 L273.6,657.2 L273.6,657.1 L272.0,657.1 L272.0,656.4 L270.4,656.4 L270.4,656.2 L268.8,656.2 L268.8,657.3 L267.2,657.3 L267.2,657.1 L265.6,657.1 L265.6,656.9 L264.0,656.9 L264.0,659.4 L262.4,659.4 L262.4,657.1 L260.8,657.1 L260.8,657.9 L259.2,657.9 L259.2,656.9 L257.6,656.9 L257.6,657.2 L256.0,657.2 L256.0,658.1 L254.4,658.1 L254.4,657.3 L252.8,657.3 L252.8,657.3 L251.2,657.3 L251.2,657.9 L249.6,657.9 L249.6,657.3 L248.0,657.3 L248.0,657.0 L246.4,657.0 L246.4,657.9 L244.8,657.9 L244.8,658.0 L243.2,658.0 L243.2,658.0 L241.6,658.0 L241.6,657.5 L240.0,657.5 L240.0,657.1 L238.4,657.1 L238.4,657.0 L236.8,657.0 L236.8,658.5 L235.2,658.5 L235.2,658.0 L233.6,658.0 L233.6,658.4 L232.0,658.4 L232.0,657.8 L230.4,657.8 L230.4,658.0 L228.8,658.0 L228.8,657.3 L227.2,657.3 L227.2,657.8 L225.6,657.8 L225.6,658.3 L224.0,658.3 L224.0,664.0 L222.4,664.0 L222.4,663.2 L220.8,663.2 L220.8,664.5 L219.2,664.5 L219.2,663.3 L217.6,663.3 L217.6,663.5 L216.0,663.5 L216.0,668.1 L214.4,668.1 L214.4,663.2 L212.8,663.2 L212.8,664.2 L211.2,664.2 L211.2,663.2 L209.6,663.2 L209.6,664.5 L208.0,664.5 L208.0,663.3 L206.4,663.3 L206.4,663.8 L204.8,663.8 L204.8,664.3 L203.2,664.3 L203.2,663.4 L201.6,663.4 L201.6,664.3 L200.0,664.3 L200.0,664.3 L198.4,664.3 L198.4,667.2 L196.8,667.2 L196.8,664.6 L195.2,664.6 L195.2,663.1 L193.6,663.1 L193.6,668.3 L192.0,668.3 L192.0,673.0 L190.4,673.0 L190.4,676.8 L188.8,676.8 L188.8,676.1 L187.2,676.1 L187.2,675.9 L185.6,675.9 L185.6,676.5 L184.0,676.5 L184.0,675.5 L182.4,675.5 L182.4,676.3 L180.8,676.3 L180.8,675.4 L179.2,675.4 L179.2,675.4 L177.6,675.4 L177.6,676.2 L176.0,676.2 L176.0,675.4 L174.4,675.4 L174.4,676.0 L172.8,676.0 L172.8,676.0 L171.2,676.0 L171.2,676.8 L169.6,676.8 L169.6,676.4 L168.0,676.4 L168.0,675.5 L166.4,675.5 L166.4,676.0 L164.8,676.0 L164.8,676.0 L163.2,676.0 L163.2,675.9 L161.6,675.9 L161.6,676.0 L160.0,676.0 L160.0,675.7 L158.4,675.7 L158.4,675.8 L156.8,675.8 L156.8,676.1 L155.2,676.1 L155.2,676.3 L153.6,676.3 L153.6,676.4 L152.0,676.4 L152.0,676.9 L150.4,676.9 L150.4,677.8 L148.8,677.8 L148.8,677.3 L147.2,677.3 Z" fill="rgba(0,0,255,0.1)" stroke="none"/>
<path d="M147.2,661.1 L148.8,661.1 L148.8,662.2 L150.4,662.2 L150.4,662.4 L152.0,662.4 L152.0,661.0 L153.6,661.0 L153.6,660.2 L155.2,660.2 L155.2,661.8 L156.8,661.8 L156.8,662.4 L158.4,662.4 L158.4,662.2 L160.0,662.2 L160.0,661.2 L161.6,661.2 L161.6,662.1 L163.2,662.1 L163.2,662.1 L164.8,662.1 L164.8,661.3 L166.4,661.3 L166.4,661.8 L168.0,661.8 L168.0,661.6 L169.6,661.6 L169.6,661.2 L171.2,661.2 L171.2,662.1 L172.8,662.1 L172.8,662.3 L174.4,662.3 L174.4,661.9 L176.0,661.9 L176.0,662.2 L177.6,662.2 L177.6,662.1 L179.2,662.1 L179.2,662.6 L180.8,662.6 L180.8,662.6 L182.4,662.6 L182.4,659.6 L184.0,659.6 L184.0,662.5 L185.6,662.5 L185.6,661.6 L187.2,661.6 L187.2,662.3 L188.8,662.3 L188.8,661.6 L190.4,661.6 L190.4,660.4 L192.0,660.4 L192.0,660.1 L193.6,660.1 L193.6,659.0 L195.2,659.0 L195.2,659.2 L196.8,659.2 L196.8,660.5 L198.4,660.5 L198.4,660.0 L200.0,660.0 L200.0,657.0 L201.6,657.0 L201.6,660.6 L203.2,660.6 L203.2,659.3 L204.8,659.3 L204.8,657.3 L206.4,657.3 L206.4,656.0 L208.0,656.0 L208.0,659.4 L209.6,659.4 L209.6,655.3 L211.2,655.3 L211.2,660.5 L212.8,660.5 L212.8,659.1 L214.4,659.1 L214.4,656.0 L216.0,656.0 L216.0,658.6 L217.6,658.6 L217.6,659.7 L219.2,659.7 L219.2,659.8 L220.8,659.8 L220.8,658.5 L222.4,658.5 L222.4,662.1 L224.0,662.1 L224.0,664.7 L225.6,664.7 L225.6,663.4 L227.2,663.4 L227.2,663.2 L228.8,663.2 L228.8,662.2 L230.4,662.2 L230.4,664.1 L232.0,664.1 L232.0,663.5 L233.6,663.5 L233.6,663.7 L235.2,663.7 L235.2,664.2 L236.8,664.2 L236.8,664.2 L238.4,664.2 L238.4,663.3 L240.0,663.3 L240.0,660.1 L241.6,660.1 L241.6,664.3 L243.2,664.3 L243.2,664.3 L244.8,664.3 L244.8,661.2 L246.4,661.2 L246.4,663.8 L248.0,663.8 L248.0,663.3 L249.6,663.3 L249.6,663.7 L251.2,663.7 L251.2,663.1 L252.8,663.1 L252.8,664.0 L254.4,664.0 L254.4,663.2 L256.0,663.2 L256.0,662.2 L257.6,662.2 L257.6,664.6 L259.2,664.6 L259.2,664.2 L260.8,664.2 L260.8,661.6 L262.4,661.6 L262.4,664.2 L264.0,664.2 L264.0,663.7 L265.6,663.7 L265.6,664.3 L267.2,664.3 L267.2,663.5 L268.8,663.5 L268.8,663.9 L270.4,663.9 L270.4,663.6 L272.0,663.6 L272.0,663.6 L273.6,663.6 L273.6,664.3 L275.2,664.3 L275.2,663.7 L276.8,663.7 L276.8,664.2 L278.4,664.2 L278.4,659.8 L280.0,659.8 L280.0,664.6 L281.6,664.6 L281.6,663.9 L283.2,663.9 L283.2,661.7 L284.8,661.7 L284.8,664.4 L286.4,664.4 L286.4,664.4 L288.0,664.4 L288.0,663.9 L289.6,663.9 L289.6,664.0 L291.2,664.0 L291.2,664.1 L292.8,664.1 L292.8,663.9 L294.4,663.9 L294.4,663.3 L296.0,663.3 L296.0,664.0 L297.6,664.0 L297.6,664.7 L299.2,664.7 L299.2,664.3 L300.8,664.3 L300.8,663.5 L302.4,663.5 L302.4,663.6 L304.0,663.6 L304.0,664.1 L305.6,664.1 L305.6,660.3 L307.2,660.3 L307.2,656.1 L308.8,656.1 L308.8,654.9 L310.4,654.9 L310.4,654.6 L312.0,654.6 L312.0,655.0 L313.6,655.0 L313.6,654.9 L315.2,654.9 L315.2,654.1 L316.8,654.1 L316.8,654.8 L318.4,654.8 L318.4,655.3 L320.0,655.3 L320.0,653.3 L321.6,653.3 L321.6,655.3 L323.2,655.3 L323.2,655.1 L324.8,655.1 L324.8,655.0 L326.4,655.0 L326.4,654.5 L328.0,654.5 L328.0,655.0 L329.6,655.0 L329.6,655.1 L331.2,655.1 L331.2,654.6 L332.8,654.6 L332.8,651.5 L334.4,651.5 L334.4,654.1 L336.0,654.1 L336.0,655.3 L337.6,655.3 L337.6,654.9 L339.2,654.9 L339.2,654.3 L340.8,654.3 L340.8,654.3 L342.4,654.3 L342.4,654.2 L344.0,654.2 L344.0,654.8 L345.6,654.8 L345.6,653.2 L347.2,653.2 L347.2,654.6 L348.8,654.6 L348.8,655.6 L350.4,655.6 L350.4,655.3 L352.0,655.3 L352.0,655.0 L353.6,655.0 L353.6,655.8 L355.2,655.8 L355.2,655.7 L356.8,655.7 L356.8,655.0 L358.4,655.0 L358.4,655.4 L360.0,655.4 L360.0,656.1 L361.6,656.1 L361.6,655.4 L363.2,655.4 L363.2,655.2 L364.8,655.2 L364.8,655.2 L366.4,655.2 L366.4,652.6 L368.0,652.6 L368.0,656.6 L369.6,656.6 L369.6,655.2 L371.2,655.2 L371.2,655.8 L372.8,655.8 L372.8,655.4 L374.4,655.4 L374.4,656.7 L376.0,656.7 L376.0,656.1 L377.6,656.1 L377.6,655.7 L379.2,655.7 L379.2,655.7 L380.8,655.7 L380.8,654.7 L382.4,654.7 L382.4,656.8 L384.0,656.8 L384.0,656.0 L385.6,656.0 L385.6,651.0 L387.2,651.0 L387.2,650.6 L388.8,650.6 L388.8,649.2 L390.4,649.2 L390.4,649.6 L392.0,649.6 L392.0,648.7 L393.6,648.7 L393.6,649.3 L395.2,649.3 L395.2,648.5 L396.8,648.5 L396.8,648.1 L398.4,648.1 L398.4,648.8 L400.0,648.8 L400.0,645.5 L401.6,645.5 L401.6,648.2 L403.2,648.2 L403.2,646.6 L404.8,646.6 L404.8,646.5 L406.4,646.5 L406.4,646.7 L408.0,646.7 L408.0,646.6 L409.6,646.6 L409.6,645.9 L411.2,645.9 L411.2,645.7 L412.8,645.7 L412.8,644.3 L414.4,644.3 L414.4,644.5 L416.0,644.5 L416.0,645.2 L417.6,645.2 L417.6,643.2 L419.2,643.2 L419.2,643.5 L420.8,643.5 L420.8,642.3 L422.4,642.3 L422.4,646.4 L424.0,646.4 L424.0,651.4 L425.6,651.4 L425.6,657.7 L427.2,657.7 L427.2,663.1 L428.8,663.1 L428.8,665.9 L430.4,665.9 L430.4,666.4 L432.0,666.4 L432.0,666.8 L433.6,666.8 L433.6,665.4 L435.2,665.4 L435.2,665.4 L436.8,665.4 L436.8,663.5 L438.4,663.5 L438.4,665.0 L440.0,665.0 L440.0,662.9 L441.6,662.9 L441.6,663.8 L443.2,663.8 L443.2,663.1 L444.8,663.1 L444.8,662.9 L446.4,662.9 L446.4,663.1 L448.0,663.1 L448.0,662.6 L449.6,662.6 L449.6,661.8 L451.2,661.8 L451.2,660.5 L452.8,660.5 L452.8,659.9 L454.4,659.9 L454.4,654.0 L456.0,654.0 L456.0,654.5 L457.6,654.5 L457.6,654.3 L459.2,654.3 L459.2,654.5 L460.8,654.5 L460.8,654.5 L462.4,654.5 L462.4,655.2 L464.0,655.2 L464.0,654.5 L465.6,654.5 L465.6,654.3 L467.2,654.3 L467.2,654.3 L468.8,654.3 L468.8,654.6 L470.4,654.6 L470.4,654.4 L472.0,654.4 L472.0,656.2 L473.6,656.2 L473.6,655.3 L475.2,655.3 L475.2,656.2 L476.8,656.2 L476.8,656.7 L478.4,656.7 L478.4,658.0 L480.0,658.0 L480.0,655.2 L481.6,655.2 L481.6,658.1 L483.2,658.1 L483.2,659.2 L484.8,659.2 L484.8,659.1 L486.4,659.1 L486.4,659.8 L488.0,659.8 L488.0,659.6 L489.6,659.6 L489.6,660.8 L491.2,660.8 L491.2,661.2 L492.8,661.2 L492.8,660.8 L494.4,660.8 L494.4,660.6 L496.0,660.6 L496.0,661.3 L497.6,661.3 L497.6,661.5 L499.2,661.5 L499.2,661.1 L500.8,661.1 L500.8,660.8 L502.4,660.8 L502.4,660.4 L504.0,660.4 L504.0,660.2 L505.6,660.2 L505.6,660.9 L507.2,660.9 L507.2,661.4 L508.8,661.4 L508.8,660.7 L510.4,660.7 L510.4,661.6 L512.0,661.6 L512.0,657.9 L513.6,657.9 L513.6,660.3 L515.2,660.3 L515.2,660.8 L516.8,660.8 L516.8,660.3 L518.4,660.3 L518.4,662.9 L520.0,662.9 L520.0,662.8 L521.6,662.8 L521.6,663.1 L523.2,663.1 L523.2,664.2 L524.8,664.2 L524.8,665.5 L526.4,665.5 L526.4,665.3 L528.0,665.3 L528.0,665.8 L529.6,665.8 L529.6,666.9 L531.2,666.9 L531.2,666.6 L532.8,666.6 L532.8,666.7 L534.4,666.7 L534.4,666.7 L536.0,666.7 L536.0,666.3 L537.6,666.3 L537.6,666.6 L539.2,666.6 L539.2,666.6 L540.8,666.6 L540.8,666.7 L542.4,666.7 L542.4,662.4 L544.0,662.4 L544.0,666.3 L545.6,666.3 L545.6,666.3 L547.2,666.3 L547.2,665.1 L548.8,665.1 L548.8,665.7 L550.4,665.7 L550.4,665.4 L552.0,665.4 L552.0,665.4 L553.6,665.4 L553.6,664.7 L555.2,664.7 L555.2,662.2 L556.8,662.2 L556.8,665.8 L558.4,665.8 L558.4,665.2 L560.0,665.2 L560.0,664.3 L561.6,664.3 L561.6,664.7 L563.2,664.7 L563.2,664.1 L564.8,664.1 L564.8,665.1 L566.4,665.1 L566.4,664.3 L568.0,664.3 L568.0,664.7 L569.6,664.7 L569.6,664.5 L571.2,664.5 L571.2,664.6 L572.8,664.6 L572.8,664.0 L574.4,664.0 L574.4,660.8 L576.0,660.8 L576.0,663.9 L577.6,663.9 L577.6,662.0 L579.2,662.0 L579.2,663.2 L580.8,663.2 L580.8,662.8 L582.4,662.8 L582.4,664.2 L584.0,664.2 L584.0,663.8 L585.6,663.8 L585.6,663.6 L587.2,663.6 L587.2,663.3 L588.8,663.3 L588.8,663.3 L590.4,663.3 L590.4,662.7 L592.0,662.7 L592.0,662.9 L593.6,662.9 L593.6,663.6 L595.2,663.6 L595.2,663.3 L596.8,663.3 L596.8,662.4 L598.4,662.4 L598.4,662.5 L600.0,662.5 L600.0,662.8 L601.6,662.8 L601.6,663.2 L603.2,663.2 L603.2,662.3 L604.8,662.3 L604.8,662.1 L606.4,662.1 L606.4,662.9 L608.0,662.9 L608.0,663.5 L609.6,663.5 L609.6,663.2 L611.2,663.2 L611.2,659.2 L612.8,659.2 L612.8,662.2 L614.4,662.2 L614.4,662.7 L616.0,662.7 L616.0,662.1 L617.6,662.1 L617.6,662.4 L619.2,662.4 L619.2,663.5 L620.8,663.5 L620.8,662.8 L622.4,662.8 L622.4,663.1 L624.0,663.1 L624.0,663.5 L625.6,663.5 L625.6,663.1 L627.2,663.1 L627.2,662.4 L628.8,662.4 L628.8,663.3 L630.4,663.3 L630.4,663.5 L632.0,663.5 L632.0,662.7 L633.6,662.7 L633.6,662.4 L635.2,662.4 L635.2,661.9 L636.8,661.9 L636.8,660.8 L638.4,660.8 L638.4,662.5 L640.0,662.5 L640.0,661.5 L641.6,661.5 L641.6,661.7 L643.2,661.7 L643.2,661.3 L644.8,661.3 L644.8,661.5 L646.4,661.5 L646.4,661.5 L648.0,661.5 L648.0,661.9 L649.6,661.9 L649.6,660.7 L651.2,660.7 L651.2,660.4 L652.8,660.4 L652.8,660.1 L654.4,660.1 L654.4,660.3 L656.0,660.3 L656.0,660.8 L657.6,660.8 L657.6,660.5 L659.2,660.5 L659.2,660.8 L660.8,660.8 L660.8,659.3 L662.4,659.3 L662.4,659.3 L664.0,659.3 L664.0,659.9 L665.6,659.9 L665.6,659.7 L667.2,659.7 L667.2,658.8 L668.8,658.8 L668.8,659.0 L670.4,659.0 L670.4,658.7 L672.0,658.7 L672.0,658.2 L673.6,658.2 L673.6,658.9 L675.2,658.9 L675.2,660.9 L676.8,660.9 L676.8,661.6 L678.4,661.6 L678.4,664.3 L680.0,664.3 L680.0,661.2 L681.6,661.2 L681.6,666.6 L683.2,666.6 L683.2,664.0 L684.8,664.0 L684.8,666.9 L686.4,666.9 L686.4,666.6 L688.0,666.6 L688.0,666.2 L689.6,666.2 L689.6,666.8 L691.2,666.8 L691.2,667.0 L692.8,667.0 L692.8,667.1 L694.4,667.1 L694.4,667.4 L696.0,667.4 L696.0,666.2 L697.6,666.2 L697.6,667.6 L699.2,667.6 L699.2,666.3 L700.8,666.3 L700.8,667.3 L702.4,667.3 L702.4,666.3 L704.0,666.3 L704.0,667.3 L705.6,667.3 L705.6,666.6 L707.2,666.6 L707.2,666.4 L708.8,666.4 L708.8,667.3 L710.4,667.3 L710.4,667.5 L712.0,667.5 L712.0,663.6 L713.6,663.6 L713.6,666.2 L715.2,666.2 L715.2,666.6 L716.8,666.6 L716.8,667.1 L716.8,701.9 L716.8,701.0 L715.2,701.0 L715.2,703.3 L713.6,703.3 L713.6,700.9 L712.0,700.9 L712.0,701.2 L710.4,701.2 L710.4,700.5 L708.8,700.5 L708.8,701.0 L707.2,701.0 L707.2,704.6 L705.6,704.6 L705.6,700.7 L704.0,700.7 L704.0,700.7 L702.4,700.7 L702.4,700.7 L700.8,700.7 L700.8,700.6 L699.2,700.6 L699.2,700.3 L697.6,700.3 L697.6,700.9 L696.0,700.9 L696.0,700.3 L694.4,700.3 L694.4,699.9 L692.8,699.9 L692.8,700.4 L691.2,700.4 L691.2,701.6 L689.6,701.6 L689.6,700.4 L688.0,700.4 L688.0,699.4 L686.4,699.4 L686.4,699.9 L684.8,699.9 L684.8,700.0 L683.2,700.0 L683.2,692.8 L681.6,692.8 L681.6,693.5 L680.0,693.5 L680.0,693.8 L678.4,693.8 L678.4,693.5 L676.8,693.5 L676.8,693.9 L675.2,693.9 L675.2,693.0 L673.6,693.0 L673.6,692.8 L672.0,692.8 L672.0,693.1 L670.4,693.1 L670.4,694.1 L668.8,694.1 L668.8,693.7 L667.2,693.7 L667.2,693.8 L665.6,693.8 L665.6,693.6 L664.0,693.6 L664.0,693.0 L662.4,693.0 L662.4,693.4 L660.8,693.4 L660.8,693.8 L659.2,693.8 L659.2,694.1 L657.6,694.1 L657.6,693.8 L656.0,693.8 L656.0,696.5 L654.4,696.5 L654.4,693.6 L652.8,693.6 L652.8,697.1 L651.2,697.1 L651.2,693.3 L649.6,693.3 L649.6,694.4 L648.0,694.4 L648.0,694.9 L646.4,694.9 L646.4,695.4 L644.8,695.4 L644.8,695.1 L643.2,695.1 L643.2,695.7 L641.6,695.7 L641.6,694.8 L640.0,694.8 L640.0,695.4 L638.4,695.4 L638.4,699.8 L636.8,699.8 L636.8,695.9 L635.2,695.9 L635.2,696.8 L633.6,696.8 L633.6,697.2 L632.0,697.2 L632.0,696.8 L630.4,696.8 L630.4,697.1 L628.8,697.1 L628.8,697.9 L627.2,697.9 L627.2,697.0 L625.6,697.0 L625.6,697.2 L624.0,697.2 L624.0,702.2 L622.4,702.2 L622.4,699.0 L620.8,699.0 L620.8,699.4 L619.2,699.4 L619.2,700.4 L617.6,700.4 L617.6,699.5 L616.0,699.5 L616.0,699.5 L614.4,699.5 L614.4,699.9 L612.8,699.9 L612.8,699.1 L611.2,699.1 L611.2,699.4 L609.6,699.4 L609.6,699.2 L608.0,699.2 L608.0,698.2 L606.4,698.2 L606.4,698.0 L604.8,698.0 L604.8,698.1 L603.2,698.1 L603.2,698.0 L601.6,698.0 L601.6,697.4 L600.0,697.4 L600.0,697.7 L598.4,697.7 L598.4,697.1 L596.8,697.1 L596.8,696.1 L595.2,696.1 L595.2,695.4 L593.6,695.4 L593.6,695.4 L592.0,695.4 L592.0,696.2 L590.4,696.2 L590.4,695.1 L588.8,695.1 L588.8,695.4 L587.2,695.4 L587.2,698.1 L585.6,698.1 L585.6,696.8 L584.0,696.8 L584.0,696.4 L582.4,696.4 L582.4,699.6 L580.8,699.6 L580.8,696.4 L579.2,696.4 L579.2,695.9 L577.6,695.9 L577.6,699.2 L576.0,699.2 L576.0,696.7 L574.4,696.7 L574.4,697.2 L572.8,697.2 L572.8,700.4 L571.2,700.4 L571.2,697.6 L569.6,697.6 L569.6,696.8 L568.0,696.8 L568.0,697.5 L566.4,697.5 L566.4,697.0 L564.8,697.0 L564.8,696.7 L563.2,696.7 L563.2,701.0 L561.6,701.0 L561.6,697.3 L560.0,697.3 L560.0,697.8 L558.4,697.8 L558.4,697.2 L556.8,697.2 L556.8,697.0 L555.2,697.0 L555.2,697.2 L553.6,697.2 L553.6,697.9 L552.0,697.9 L552.0,696.1 L550.4,696.1 L550.4,697.0 L548.8,697.0 L548.8,696.2 L547.2,696.2 L547.2,696.4 L545.6,696.4 L545.6,695.9 L544.0,695.9 L544.0,695.1 L542.4,695.1 L542.4,697.4 L540.8,697.4 L540.8,695.3 L539.2,695.3 L539.2,694.7 L537.6,694.7 L537.6,694.3 L536.0,694.3 L536.0,694.2 L534.4,694.2 L534.4,693.5 L532.8,693.5 L532.8,694.0 L531.2,694.0 L531.2,692.9 L529.6,692.9 L529.6,692.1 L528.0,692.1 L528.0,691.3 L526.4,691.3 L526.4,692.0 L524.8,692.0 L524.8,691.2 L523.2,691.2 L523.2,689.6 L521.6,689.6 L521.6,688.9 L520.0,688.9 L520.0,689.6 L518.4,689.6 L518.4,689.0 L516.8,689.0 L516.8,687.2 L515.2,687.2 L515.2,687.8 L513.6,687.8 L513.6,687.4 L512.0,687.4 L512.0,687.6 L510.4,687.6 L510.4,686.2 L508.8,686.2 L508.8,687.3 L507.2,687.3 L507.2,686.8 L505.6,686.8 L505.6,688.4 L504.0,688.4 L504.0,686.8 L502.4,686.8 L502.4,686.6 L500.8,686.6 L500.8,686.4 L499.2,686.4 L499.2,685.7 L497.6,685.7 L497.6,685.7 L496.0,685.7 L496.0,685.2 L494.4,685.2 L494.4,686.3 L492.8,686.3 L492.8,687.5 L491.2,687.5 L491.2,685.5 L489.6,685.5 L489.6,685.8 L488.0,685.8 L488.0,685.2 L486.4,685.2 L486.4,684.6 L484.8,684.6 L484.8,685.3 L483.2,685.3 L483.2,684.1 L481.6,684.1 L481.6,684.7 L480.0,684.7 L480.0,686.6 L478.4,686.6 L478.4,684.7 L476.8,684.7 L476.8,684.3 L475.2,684.3 L475.2,686.1 L473.6,686.1 L473.6,687.2 L472.0,687.2 L472.0,683.1 L470.4,683.1 L470.4,682.4 L468.8,682.4 L468.8,682.3 L467.2,682.3 L467.2,684.4 L465.6,684.4 L465.6,681.8 L464.0,681.8 L464.0,681.6 L462.4,681.6 L462.4,681.8 L460.8,681.8 L460.8,681.6 L459.2,681.6 L459.2,681.1 L457.6,681.1 L457.6,681.2 L456.0,681.2 L456.0,681.3 L454.4,681.3 L454.4,681.0 L452.8,681.0 L452.8,694.8 L451.2,694.8 L451.2,695.8 L449.6,695.8 L449.6,695.0 L448.0,695.0 L448.0,695.2 L446.4,695.2 L446.4,695.4 L444.8,695.4 L444.8,695.6 L443.2,695.6 L443.2,694.8 L441.6,694.8 L441.6,694.7 L440.0,694.7 L440.0,694.8 L438.4,694.8 L438.4,695.1 L436.8,695.1 L436.8,698.1 L435.2,698.1 L435.2,694.3 L433.6,694.3 L433.6,693.9 L432.0,693.9 L432.0,693.1 L430.4,693.1 L430.4,693.1 L428.8,693.1 L428.8,692.7 L427.2,692.7 L427.2,693.4 L425.6,693.4 L425.6,691.5 L424.0,691.5 L424.0,691.8 L422.4,691.8 L422.4,688.1 L420.8,688.1 L420.8,687.6 L419.2,687.6 L419.2,682.2 L417.6,682.2 L417.6,682.3 L416.0,682.3 L416.0,682.0 L414.4,682.0 L414.4,680.3 L412.8,680.3 L412.8,679.1 L411.2,679.1 L411.2,678.1 L409.6,678.1 L409.6,675.8 L408.0,675.8 L408.0,675.8 L406.4,675.8 L406.4,676.0 L404.8,676.0 L404.8,677.1 L403.2,677.1 L403.2,677.6 L401.6,677.6 L401.6,677.6 L400.0,677.6 L400.0,677.8 L398.4,677.8 L398.4,679.3 L396.8,679.3 L396.8,680.1 L395.2,680.1 L395.2,679.6 L393.6,679.6 L393.6,680.3 L392.0,680.3 L392.0,682.1 L390.4,682.1 L390.4,682.3 L388.8,682.3 L388.8,682.3 L387.2,682.3 L387.2,685.8 L385.6,685.8 L385.6,689.5 L384.0,689.5 L384.0,692.3 L382.4,692.3 L382.4,691.6 L380.8,691.6 L380.8,690.9 L379.2,690.9 L379.2,691.5 L377.6,691.5 L377.6,690.8 L376.0,690.8 L376.0,691.4 L374.4,691.4 L374.4,690.9 L372.8,690.9 L372.8,690.7 L371.2,690.7 L371.2,689.0 L369.6,689.0 L369.6,690.7 L368.0,690.7 L368.0,686.6 L366.4,686.6 L366.4,684.9 L364.8,684.9 L364.8,684.8 L363.2,684.8 L363.2,685.9 L361.6,685.9 L361.6,684.5 L360.0,684.5 L360.0,684.7 L358.4,684.7 L358.4,686.4 L356.8,686.4 L356.8,685.8 L355.2,685.8 L355.2,684.2 L353.6,684.2 L353.6,685.5 L352.0,685.5 L352.0,685.4 L350.4,685.4 L350.4,684.2 L348.8,684.2 L348.8,684.9 L347.2,684.9 L347.2,685.2 L345.6,685.2 L345.6,683.8 L344.0,683.8 L344.0,683.8 L342.4,683.8 L342.4,684.2 L340.8,684.2 L340.8,685.2 L339.2,685.2 L339.2,684.0 L337.6,684.0 L337.6,685.1 L336.0,685.1 L336.0,684.1 L334.4,684.1 L334.4,684.5 L332.8,684.5 L332.8,684.3 L331.2,684.3 L331.2,684.5 L329.6,684.5 L329.6,683.6 L328.0,683.6 L328.0,683.3 L326.4,683.3 L326.4,684.3 L324.8,684.3 L324.8,684.1 L323.2,684.1 L323.2,683.9 L321.6,683.9 L321.6,684.3 L320.0,684.3 L320.0,685.0 L318.4,685.0 L318.4,684.0 L316.8,684.0 L316.8,683.6 L315.2,683.6 L315.2,683.4 L313.6,683.4 L313.6,683.7 L312.0,683.7 L312.0,682.9 L310.4,682.9 L310.4,683.7 L308.8,683.7 L308.8,691.2 L307.2,691.2 L307.2,694.9 L305.6,694.9 L305.6,703.0 L304.0,703.0 L304.0,703.3 L302.4,703.3 L302.4,704.1 L300.8,704.1 L300.8,703.0 L299.2,703.0 L299.2,703.9 L297.6,703.9 L297.6,703.9 L296.0,703.9 L296.0,703.8 L294.4,703.8 L294.4,703.1 L292.8,703.1 L292.8,703.1 L291.2,703.1 L291.2,702.9 L289.6,702.9 L289.6,703.6 L288.0,703.6 L288.0,706.5 L286.4,706.5 L286.4,703.8 L284.8,703.8 L284.8,702.5 L283.2,702.5 L283.2,703.0 L281.6,703.0 L281.6,703.5 L280.0,703.5 L280.0,702.4 L278.4,702.4 L278.4,703.0 L276.8,703.0 L276.8,702.1 L275.2,702.1 L275.2,704.0 L273.6,704.0 L273.6,702.0 L272.0,702.0 L272.0,702.4 L270.4,702.4 L270.4,702.7 L268.8,702.7 L268.8,702.5 L267.2,702.5 L267.2,702.9 L265.6,702.9 L265.6,702.1 L264.0,702.1 L264.0,702.0 L262.4,702.0 L262.4,703.0 L260.8,703.0 L260.8,702.0 L259.2,702.0 L259.2,701.5 L257.6,701.5 L257.6,702.3 L256.0,702.3 L256.0,701.4 L254.4,701.4 L254.4,703.2 L252.8,703.2 L252.8,702.5 L251.2,702.5 L251.2,702.3 L249.6,702.3 L249.6,701.3 L248.0,701.3 L248.0,702.2 L246.4,702.2 L246.4,706.1 L244.8,706.1 L244.8,702.1 L243.2,702.1 L243.2,701.7 L241.6,701.7 L241.6,701.6 L240.0,701.6 L240.0,704.0 L238.4,704.0 L238.4,701.7 L236.8,701.7 L236.8,701.2 L235.2,701.2 L235.2,700.3 L233.6,700.3 L233.6,700.8 L232.0,700.8 L232.0,700.6 L230.4,700.6 L230.4,699.6 L228.8,699.6 L228.8,699.8 L227.2,699.8 L227.2,700.2 L225.6,700.2 L225.6,700.7 L224.0,700.7 L224.0,700.2 L222.4,700.2 L222.4,699.1 L220.8,699.1 L220.8,702.4 L219.2,702.4 L219.2,699.4 L217.6,699.4 L217.6,700.3 L216.0,700.3 L216.0,702.9 L214.4,702.9 L214.4,700.3 L212.8,700.3 L212.8,699.1 L211.2,699.1 L211.2,699.2 L209.6,699.2 L209.6,700.4 L208.0,700.4 L208.0,700.2 L206.4,700.2 L206.4,700.3 L204.8,700.3 L204.8,699.7 L203.2,699.7 L203.2,700.6 L201.6,700.6 L201.6,699.0 L200.0,699.0 L200.0,700.1 L198.4,700.1 L198.4,700.3 L196.8,700.3 L196.8,701.2 L195.2,701.2 L195.2,699.8 L193.6,699.8 L193.6,700.1 L192.0,700.1 L192.0,699.2 L190.4,699.2 L190.4,700.0 L188.8,700.0 L188.8,699.8 L187.2,699.8 L187.2,699.7 L185.6,699.7 L185.6,700.2 L184.0,700.2 L184.0,698.9 L182.4,698.9 L182.4,699.6 L180.8,699.6 L180.8,699.6 L179.2,699.6 L179.2,700.6 L177.6,700.6 L177.6,700.4 L176.0,700.4 L176.0,700.0 L174.4,700.0 L174.4,701.3 L172.8,701.3 L172.8,701.8 L171.2,701.8 L171.2,701.6 L169.6,701.6 L169.6,701.4 L168.0,701.4 L168.0,701.7 L166.4,701.7 L166.4,703.2 L164.8,703.2 L164.8,702.8 L163.2,702.8 L163.2,703.2 L161.6,703.2 L161.6,704.2 L160.0,704.2 L160.0,704.2 L158.4,704.2 L158.4,704.5 L156.8,704.5 L156.8,704.8 L155.2,704.8 L155.2,704.8 L153.6,704.8 L153.6,705.0 L152.0,705.0 L152.0,705.7 L150.4,705.7 L150.4,704.8 L148.8,704.8 L148.8,705.1 L147.2,705.1 Z" fill="rgba(0,0,255,0.1)" stroke="none"/>
<path d="M147.2,605.7 L152.2,605.7 L152.2,617.7 L157.2,617.7 L157.2,624.8 L162.2,624.8 L162.2,637.9 L167.2,637.9 L167.2,640.7 L172.2,640.7 L172.2,639.7 L177.2,639.7 L177.2,639.4 L182.2,639.4 L182.2,638.2 L187.2,638.2 L187.2,635.4 L192.2,635.4 L192.2,630.0 L197.2,630.0 L197.2,630.3 L202.2,630.3 L202.2,630.8 L207.2,630.8 L207.2,630.4 L212.2,630.4 L212.2,631.0 L217.2,631.0 L217.2,630.3 L222.2,630.3 L222.2,630.2 L227.2,630.2 L227.2,631.9 L232.2,631.9 L232.2,633.3 L237.2,633.3 L237.2,633.7 L242.2,633.7 L242.2,633.2 L247.2,633.2 L247.2,631.1 L252.2,631.1 L252.2,629.6 L257.2,629.6 L257.2,627.9 L262.2,627.9 L262.2,628.4 L267.2,628.4 L267.2,628.3 L272.2,628.3 L272.2,629.5 L277.2,629.5 L277.2,629.7 L282.2,629.7 L282.2,630.4 L287.2,630.4 L287.2,630.9 L292.2,630.9 L292.2,632.8 L297.2,632.8 L297.2,633.8 L302.2,633.8 L302.2,634.9 L307.2,634.9 L307.2,631.7 L312.2,631.7 L312.2,621.8 L317.2,621.8 L317.2,612.0 L322.2,612.0 L322.2,608.6 L327.2,608.6 L327.2,607.5 L332.2,607.5 L332.2,607.7 L337.2,607.7 L337.2,607.3 L342.2,607.3 L342.2,607.2 L347.2,607.2 L347.2,608.1 L352.2,608.1 L352.2,607.8 L357.2,607.8 L357.2,608.9 L362.2,608.9 L362.2,614.8 L367.2,614.8 L367.2,614.0 L372.2,614.0 L372.2,608.3 L377.2,608.3 L377.2,609.1 L382.2,609.1 L382.2,610.9 L387.2,610.9 L387.2,612.0 L392.2,612.0 L392.2,613.0 L397.2,613.0 L397.2,614.9 L402.2,614.9 L402.2,616.4 L407.2,616.4 L407.2,626.0 L412.2,626.0 L412.2,627.1 L417.2,627.1 L417.2,624.3 L422.2,624.3 L422.2,617.6 L427.2,617.6 L427.2,615.8 L432.2,615.8 L432.2,614.9 L437.2,614.9 L437.2,615.7 L442.2,615.7 L442.2,616.0 L447.2,616.0 L447.2,615.3 L452.2,615.3 L452.2,609.2 L457.2,609.2 L457.2,608.2 L462.2,608.2 L462.2,608.7 L467.2,608.7 L467.2,610.1 L472.2,610.1 L472.2,612.0 L477.2,612.0 L477.2,613.4 L482.2,613.4 L482.2,615.5 L487.2,615.5 L487.2,618.3 L492.2,618.3 L492.2,616.7 L497.2,616.7 L497.2,613.2 L502.2,613.2 L502.2,611.0 L507.2,611.0 L507.2,612.4 L512.2,612.4 L512.2,613.2 L517.2,613.2 L517.2,615.4 L522.2,615.4 L522.2,619.2 L527.2,619.2 L527.2,622.1 L532.2,622.1 L532.2,622.5 L537.2,622.5 L537.2,623.9 L542.2,623.9 L542.2,624.2 L547.2,624.2 L547.2,623.4 L552.2,623.4 L552.2,623.0 L557.2,623.0 L557.2,623.0 L562.2,623.0 L562.2,622.8 L567.2,622.8 L567.2,622.6 L572.2,622.6 L572.2,623.4 L577.2,623.4 L577.2,629.9 L582.2,629.9 L582.2,631.2 L587.2,631.2 L587.2,630.1 L592.2,630.1 L592.2,629.0 L597.2,629.0 L597.2,629.4 L602.2,629.4 L602.2,629.6 L607.2,629.6 L607.2,628.3 L612.2,628.3 L612.2,620.0 L617.2,620.0 L617.2,622.6 L622.2,622.6 L622.2,625.9 L627.2,625.9 L627.2,626.5 L632.2,626.5 L632.2,627.6 L637.2,627.6 L637.2,628.1 L642.2,628.1 L642.2,628.5 L647.2,628.5 L647.2,628.7 L652.2,628.7 L652.2,630.2 L657.2,630.2 L657.2,632.2 L662.2,632.2 L662.2,633.9 L667.2,633.9 L667.2,635.0 L672.2,635.0 L672.2,636.5 L677.2,636.5 L677.2,638.4 L682.2,638.4 L682.2,640.0 L687.2,640.0 L687.2,640.7 L692.2,640.7 L692.2,641.8 L697.2,641.8 L697.2,643.6 L702.2,643.6 L702.2,646.8 L707.2,646.8 L707.2,637.1 L712.2,637.1 L712.2,629.8 L717.2,629.8 L717.2,628.4" fill="none" stroke="#000" stroke-width="2.6" stroke-dasharray="9.5,6" stroke-linejoin="round" />
<path d="M147.2,684.1 L152.2,684.1 L152.2,683.7 L157.2,683.7 L157.2,683.9 L162.2,683.9 L162.2,682.8 L167.2,682.8 L167.2,681.7 L172.2,681.7 L172.2,682.1 L177.2,682.1 L177.2,683.6 L182.2,683.6 L182.2,679.6 L187.2,679.6 L187.2,679.0 L192.2,679.0 L192.2,679.2 L197.2,679.2 L197.2,678.2 L202.2,678.2 L202.2,677.8 L207.2,677.8 L207.2,678.0 L212.2,678.0 L212.2,677.4 L217.2,677.4 L217.2,676.6 L222.2,676.6 L222.2,681.5 L227.2,681.5 L227.2,683.6 L232.2,683.6 L232.2,685.0 L237.2,685.0 L237.2,682.3 L242.2,682.3 L242.2,681.7 L247.2,681.7 L247.2,683.3 L252.2,683.3 L252.2,684.4 L257.2,684.4 L257.2,685.2 L262.2,685.2 L262.2,683.1 L267.2,683.1 L267.2,682.0 L272.2,682.0 L272.2,681.4 L277.2,681.4 L277.2,681.1 L282.2,681.1 L282.2,680.9 L287.2,680.9 L287.2,682.2 L292.2,682.2 L292.2,683.0 L297.2,683.0 L297.2,684.2 L302.2,684.2 L302.2,685.6 L307.2,685.6 L307.2,671.8 L312.2,671.8 L312.2,668.7 L317.2,668.7 L317.2,669.1 L322.2,669.1 L322.2,670.4 L327.2,670.4 L327.2,670.2 L332.2,670.2 L332.2,671.0 L337.2,671.0 L337.2,670.8 L342.2,670.8 L342.2,671.5 L347.2,671.5 L347.2,671.2 L352.2,671.2 L352.2,672.3 L357.2,672.3 L357.2,672.7 L362.2,672.7 L362.2,673.3 L367.2,673.3 L367.2,674.0 L372.2,674.0 L372.2,675.7 L377.2,675.7 L377.2,675.2 L382.2,675.2 L382.2,673.2 L387.2,673.2 L387.2,666.1 L392.2,666.1 L392.2,664.6 L397.2,664.6 L397.2,662.9 L402.2,662.9 L402.2,661.4 L407.2,661.4 L407.2,660.3 L412.2,660.3 L412.2,665.2 L417.2,665.2 L417.2,670.1 L422.2,670.1 L422.2,675.0 L427.2,675.0 L427.2,678.3 L432.2,678.3 L432.2,679.2 L437.2,679.2 L437.2,680.2 L442.2,680.2 L442.2,681.0 L447.2,681.0 L447.2,680.5 L452.2,680.5 L452.2,676.3 L457.2,676.3 L457.2,667.5 L462.2,667.5 L462.2,667.2 L467.2,667.2 L467.2,667.7 L472.2,667.7 L472.2,671.6 L477.2,671.6 L477.2,672.4 L482.2,672.4 L482.2,673.6 L487.2,673.6 L487.2,674.6 L492.2,674.6 L492.2,675.7 L497.2,675.7 L497.2,676.2 L502.2,676.2 L502.2,675.7 L507.2,675.7 L507.2,674.5 L512.2,674.5 L512.2,674.5 L517.2,674.5 L517.2,677.1 L522.2,677.1 L522.2,679.7 L527.2,679.7 L527.2,682.6 L532.2,682.6 L532.2,683.2 L537.2,683.2 L537.2,683.4 L542.2,683.4 L542.2,683.2 L547.2,683.2 L547.2,682.4 L552.2,682.4 L552.2,682.4 L557.2,682.4 L557.2,682.2 L562.2,682.2 L562.2,681.0 L567.2,681.0 L567.2,679.8 L572.2,679.8 L572.2,679.9 L577.2,679.9 L577.2,678.3 L582.2,678.3 L582.2,678.4 L587.2,678.4 L587.2,676.8 L592.2,676.8 L592.2,679.8 L597.2,679.8 L597.2,683.6 L602.2,683.6 L602.2,684.8 L607.2,684.8 L607.2,685.4 L612.2,685.4 L612.2,686.7 L617.2,686.7 L617.2,684.5 L622.2,684.5 L622.2,681.6 L627.2,681.6 L627.2,680.0 L632.2,680.0 L632.2,677.6 L637.2,677.6 L637.2,677.1 L642.2,677.1 L642.2,677.0 L647.2,677.0 L647.2,676.8 L652.2,676.8 L652.2,676.3 L657.2,676.3 L657.2,675.4 L662.2,675.4 L662.2,675.8 L667.2,675.8 L667.2,675.0 L672.2,675.0 L672.2,675.8 L677.2,675.8 L677.2,676.0 L682.2,676.0 L682.2,678.0 L687.2,678.0 L687.2,685.4 L692.2,685.4 L692.2,684.6 L697.2,684.6 L697.2,684.2 L702.2,684.2 L702.2,683.4 L707.2,683.4 L707.2,683.8 L712.2,683.8 L712.2,685.5 L717.2,685.5 L717.2,687.4" fill="none" stroke="#000" stroke-width="2.2" stroke-dasharray="2.2,3.2"/>
</g>
<g clip-path="url(#c11)">
<path d="M833.2,568.8 L834.8,568.8 L834.8,570.8 L836.4,570.8 L836.4,571.4 L838.0,571.4 L838.0,572.4 L839.6,572.4 L839.6,573.9 L841.2,573.9 L841.2,573.5 L842.8,573.5 L842.8,571.7 L844.4,571.7 L844.4,570.2 L846.0,570.2 L846.0,569.0 L847.6,569.0 L847.6,571.2 L849.2,571.2 L849.2,575.3 L850.8,575.3 L850.8,578.9 L852.4,578.9 L852.4,578.9 L854.0,578.9 L854.0,580.4 L855.6,580.4 L855.6,581.2 L857.2,581.2 L857.2,580.9 L858.8,580.9 L858.8,581.5 L860.4,581.5 L860.4,581.4 L862.0,581.4 L862.0,582.8 L863.6,582.8 L863.6,582.5 L865.2,582.5 L865.2,583.0 L866.8,583.0 L866.8,583.1 L868.4,583.1 L868.4,584.2 L870.0,584.2 L870.0,585.7 L871.6,585.7 L871.6,585.7 L873.2,585.7 L873.2,586.4 L874.8,586.4 L874.8,587.6 L876.4,587.6 L876.4,591.4 L878.0,591.4 L878.0,595.6 L879.6,595.6 L879.6,598.1 L881.2,598.1 L881.2,597.2 L882.8,597.2 L882.8,591.8 L884.4,591.8 L884.4,593.5 L886.0,593.5 L886.0,593.3 L887.6,593.3 L887.6,592.0 L889.2,592.0 L889.2,592.7 L890.8,592.7 L890.8,591.9 L892.4,591.9 L892.4,591.2 L894.0,591.2 L894.0,592.1 L895.6,592.1 L895.6,590.5 L897.2,590.5 L897.2,591.9 L898.8,591.9 L898.8,591.3 L900.4,591.3 L900.4,589.2 L902.0,589.2 L902.0,592.4 L903.6,592.4 L903.6,592.6 L905.2,592.6 L905.2,594.3 L906.8,594.3 L906.8,593.4 L908.4,593.4 L908.4,592.5 L910.0,592.5 L910.0,595.4 L911.6,595.4 L911.6,595.3 L913.2,595.3 L913.2,595.2 L914.8,595.2 L914.8,596.3 L916.4,596.3 L916.4,596.5 L918.0,596.5 L918.0,597.5 L919.6,597.5 L919.6,597.5 L921.2,597.5 L921.2,596.4 L922.8,596.4 L922.8,596.8 L924.4,596.8 L924.4,596.9 L926.0,596.9 L926.0,597.4 L927.6,597.4 L927.6,597.9 L929.2,597.9 L929.2,598.0 L930.8,598.0 L930.8,598.1 L932.4,598.1 L932.4,597.3 L934.0,597.3 L934.0,597.6 L935.6,597.6 L935.6,598.4 L937.2,598.4 L937.2,598.0 L938.8,598.0 L938.8,597.6 L940.4,597.6 L940.4,599.0 L942.0,599.0 L942.0,598.2 L943.6,598.2 L943.6,598.0 L945.2,598.0 L945.2,599.1 L946.8,599.1 L946.8,598.4 L948.4,598.4 L948.4,597.6 L950.0,597.6 L950.0,598.5 L951.6,598.5 L951.6,598.9 L953.2,598.9 L953.2,599.1 L954.8,599.1 L954.8,598.1 L956.4,598.1 L956.4,598.5 L958.0,598.5 L958.0,599.2 L959.6,599.2 L959.6,599.5 L961.2,599.5 L961.2,599.4 L962.8,599.4 L962.8,599.5 L964.4,599.5 L964.4,598.8 L966.0,598.8 L966.0,598.8 L967.6,598.8 L967.6,598.7 L969.2,598.7 L969.2,598.9 L970.8,598.9 L970.8,600.1 L972.4,600.1 L972.4,600.3 L974.0,600.3 L974.0,599.5 L975.6,599.5 L975.6,600.7 L977.2,600.7 L977.2,601.7 L978.8,601.7 L978.8,600.9 L980.4,600.9 L980.4,602.3 L982.0,602.3 L982.0,602.6 L983.6,602.6 L983.6,602.4 L985.2,602.4 L985.2,601.8 L986.8,601.8 L986.8,603.1 L988.4,603.1 L988.4,604.0 L990.0,604.0 L990.0,604.0 L991.6,604.0 L991.6,599.3 L993.2,599.3 L993.2,599.0 L994.8,599.0 L994.8,596.5 L996.4,596.5 L996.4,595.6 L998.0,595.6 L998.0,595.1 L999.6,595.1 L999.6,595.3 L1001.2,595.3 L1001.2,594.8 L1002.8,594.8 L1002.8,592.7 L1004.4,592.7 L1004.4,594.5 L1006.0,594.5 L1006.0,593.2 L1007.6,593.2 L1007.6,592.8 L1009.2,592.8 L1009.2,593.8 L1010.8,593.8 L1010.8,593.2 L1012.4,593.2 L1012.4,592.1 L1014.0,592.1 L1014.0,591.9 L1015.6,591.9 L1015.6,591.3 L1017.2,591.3 L1017.2,591.2 L1018.8,591.2 L1018.8,591.8 L1020.4,591.8 L1020.4,591.5 L1022.0,591.5 L1022.0,591.8 L1023.6,591.8 L1023.6,591.7 L1025.2,591.7 L1025.2,589.5 L1026.8,589.5 L1026.8,591.1 L1028.4,591.1 L1028.4,591.7 L1030.0,591.7 L1030.0,591.4 L1031.6,591.4 L1031.6,591.5 L1033.2,591.5 L1033.2,591.8 L1034.8,591.8 L1034.8,593.1 L1036.4,593.1 L1036.4,592.2 L1038.0,592.2 L1038.0,593.3 L1039.6,593.3 L1039.6,592.6 L1041.2,592.6 L1041.2,593.5 L1042.8,593.5 L1042.8,592.9 L1044.4,592.9 L1044.4,593.9 L1046.0,593.9 L1046.0,593.8 L1047.6,593.8 L1047.6,594.0 L1049.2,594.0 L1049.2,593.7 L1050.8,593.7 L1050.8,592.2 L1052.4,592.2 L1052.4,594.6 L1054.0,594.6 L1054.0,595.5 L1055.6,595.5 L1055.6,596.3 L1057.2,596.3 L1057.2,595.3 L1058.8,595.3 L1058.8,592.4 L1060.4,592.4 L1060.4,595.8 L1062.0,595.8 L1062.0,597.3 L1063.6,597.3 L1063.6,597.5 L1065.2,597.5 L1065.2,593.6 L1066.8,593.6 L1066.8,598.2 L1068.4,598.2 L1068.4,598.2 L1070.0,598.2 L1070.0,598.9 L1071.6,598.9 L1071.6,598.9 L1073.2,598.9 L1073.2,598.0 L1074.8,598.0 L1074.8,598.2 L1076.4,598.2 L1076.4,599.7 L1078.0,599.7 L1078.0,599.7 L1079.6,599.7 L1079.6,600.0 L1081.2,600.0 L1081.2,601.0 L1082.8,601.0 L1082.8,600.3 L1084.4,600.3 L1084.4,600.9 L1086.0,600.9 L1086.0,600.5 L1087.6,600.5 L1087.6,601.4 L1089.2,601.4 L1089.2,600.9 L1090.8,600.9 L1090.8,601.3 L1092.4,601.3 L1092.4,600.9 L1094.0,600.9 L1094.0,600.8 L1095.6,600.8 L1095.6,600.4 L1097.2,600.4 L1097.2,600.9 L1098.8,600.9 L1098.8,602.1 L1100.4,602.1 L1100.4,601.8 L1102.0,601.8 L1102.0,601.0 L1103.6,601.0 L1103.6,601.2 L1105.2,601.2 L1105.2,601.6 L1106.8,601.6 L1106.8,602.1 L1108.4,602.1 L1108.4,601.2 L1110.0,601.2 L1110.0,601.1 L1111.6,601.1 L1111.6,602.2 L1113.2,602.2 L1113.2,601.1 L1114.8,601.1 L1114.8,601.9 L1116.4,601.9 L1116.4,602.3 L1118.0,602.3 L1118.0,603.4 L1119.6,603.4 L1119.6,603.1 L1121.2,603.1 L1121.2,601.5 L1122.8,601.5 L1122.8,604.3 L1124.4,604.3 L1124.4,604.0 L1126.0,604.0 L1126.0,603.7 L1127.6,603.7 L1127.6,604.3 L1129.2,604.3 L1129.2,604.8 L1130.8,604.8 L1130.8,605.1 L1132.4,605.1 L1132.4,605.6 L1134.0,605.6 L1134.0,605.6 L1135.6,605.6 L1135.6,603.3 L1137.2,603.3 L1137.2,605.8 L1138.8,605.8 L1138.8,606.2 L1140.4,606.2 L1140.4,606.0 L1142.0,606.0 L1142.0,605.3 L1143.6,605.3 L1143.6,605.5 L1145.2,605.5 L1145.2,606.6 L1146.8,606.6 L1146.8,605.9 L1148.4,605.9 L1148.4,606.2 L1150.0,606.2 L1150.0,606.6 L1151.6,606.6 L1151.6,606.1 L1153.2,606.1 L1153.2,607.0 L1154.8,607.0 L1154.8,607.4 L1156.4,607.4 L1156.4,610.8 L1158.0,610.8 L1158.0,614.6 L1159.6,614.6 L1159.6,614.3 L1161.2,614.3 L1161.2,615.2 L1162.8,615.2 L1162.8,615.4 L1164.4,615.4 L1164.4,614.3 L1166.0,614.3 L1166.0,614.8 L1167.6,614.8 L1167.6,614.1 L1169.2,614.1 L1169.2,613.9 L1170.8,613.9 L1170.8,614.5 L1172.4,614.5 L1172.4,614.3 L1174.0,614.3 L1174.0,615.0 L1175.6,615.0 L1175.6,614.6 L1177.2,614.6 L1177.2,614.2 L1178.8,614.2 L1178.8,613.9 L1180.4,613.9 L1180.4,615.2 L1182.0,615.2 L1182.0,614.4 L1183.6,614.4 L1183.6,615.4 L1185.2,615.4 L1185.2,614.0 L1186.8,614.0 L1186.8,613.2 L1188.4,613.2 L1188.4,615.0 L1190.0,615.0 L1190.0,614.3 L1191.6,614.3 L1191.6,614.0 L1193.2,614.0 L1193.2,614.0 L1194.8,614.0 L1194.8,614.4 L1196.4,614.4 L1196.4,614.4 L1198.0,614.4 L1198.0,614.8 L1199.6,614.8 L1199.6,614.7 L1201.2,614.7 L1201.2,614.4 L1202.8,614.4 L1202.8,614.8 L1204.4,614.8 L1204.4,615.5 L1206.0,615.5 L1206.0,616.0 L1207.6,616.0 L1207.6,616.7 L1209.2,616.7 L1209.2,618.0 L1210.8,618.0 L1210.8,617.9 L1212.4,617.9 L1212.4,619.1 L1214.0,619.1 L1214.0,619.7 L1215.6,619.7 L1215.6,618.9 L1217.2,618.9 L1217.2,620.2 L1218.8,620.2 L1218.8,620.7 L1220.4,620.7 L1220.4,621.4 L1222.0,621.4 L1222.0,620.8 L1223.6,620.8 L1223.6,621.8 L1225.2,621.8 L1225.2,621.4 L1226.8,621.4 L1226.8,622.6 L1228.4,622.6 L1228.4,623.2 L1230.0,623.2 L1230.0,620.8 L1231.6,620.8 L1231.6,623.1 L1233.2,623.1 L1233.2,623.8 L1234.8,623.8 L1234.8,623.8 L1236.4,623.8 L1236.4,623.8 L1238.0,623.8 L1238.0,623.3 L1239.6,623.3 L1239.6,623.5 L1241.2,623.5 L1241.2,624.2 L1242.8,624.2 L1242.8,623.3 L1244.4,623.3 L1244.4,623.7 L1246.0,623.7 L1246.0,623.2 L1247.6,623.2 L1247.6,624.6 L1249.2,624.6 L1249.2,623.3 L1250.8,623.3 L1250.8,624.4 L1252.4,624.4 L1252.4,623.3 L1254.0,623.3 L1254.0,623.9 L1255.6,623.9 L1255.6,623.6 L1257.2,623.6 L1257.2,624.5 L1258.8,624.5 L1258.8,624.4 L1260.4,624.4 L1260.4,623.8 L1262.0,623.8 L1262.0,625.1 L1263.6,625.1 L1263.6,625.0 L1265.2,625.0 L1265.2,621.2 L1266.8,621.2 L1266.8,625.3 L1268.4,625.3 L1268.4,625.0 L1270.0,625.0 L1270.0,625.4 L1271.6,625.4 L1271.6,624.3 L1273.2,624.3 L1273.2,625.8 L1274.8,625.8 L1274.8,625.3 L1276.4,625.3 L1276.4,625.8 L1278.0,625.8 L1278.0,624.5 L1279.6,624.5 L1279.6,624.6 L1281.2,624.6 L1281.2,623.9 L1282.8,623.9 L1282.8,625.1 L1284.4,625.1 L1284.4,626.0 L1286.0,626.0 L1286.0,625.1 L1287.6,625.1 L1287.6,625.6 L1289.2,625.6 L1289.2,626.5 L1290.8,626.5 L1290.8,625.3 L1292.4,625.3 L1292.4,625.8 L1294.0,625.8 L1294.0,626.2 L1295.6,626.2 L1295.6,626.5 L1297.2,626.5 L1297.2,626.6 L1298.8,626.6 L1298.8,626.1 L1300.4,626.1 L1300.4,624.5 L1302.0,624.5 L1302.0,626.0 L1303.6,626.0 L1303.6,626.3 L1305.2,626.3 L1305.2,626.0 L1306.8,626.0 L1306.8,627.2 L1308.4,627.2 L1308.4,626.1 L1310.0,626.1 L1310.0,626.5 L1311.6,626.5 L1311.6,627.1 L1313.2,627.1 L1313.2,626.8 L1314.8,626.8 L1314.8,627.6 L1316.4,627.6 L1316.4,626.6 L1318.0,626.6 L1318.0,626.3 L1319.6,626.3 L1319.6,627.4 L1321.2,627.4 L1321.2,627.0 L1322.8,627.0 L1322.8,626.8 L1324.4,626.8 L1324.4,625.7 L1326.0,625.7 L1326.0,627.6 L1327.6,627.6 L1327.6,627.9 L1329.2,627.9 L1329.2,628.1 L1330.8,628.1 L1330.8,626.0 L1332.4,626.0 L1332.4,627.5 L1334.0,627.5 L1334.0,628.6 L1335.6,628.6 L1335.6,628.5 L1337.2,628.5 L1337.2,627.9 L1338.8,627.9 L1338.8,628.5 L1340.4,628.5 L1340.4,627.9 L1342.0,627.9 L1342.0,629.3 L1343.6,629.3 L1343.6,629.0 L1345.2,629.0 L1345.2,629.4 L1346.8,629.4 L1346.8,629.8 L1348.4,629.8 L1348.4,630.8 L1350.0,630.8 L1350.0,630.2 L1351.6,630.2 L1351.6,630.1 L1353.2,630.1 L1353.2,631.1 L1354.8,631.1 L1354.8,631.8 L1356.4,631.8 L1356.4,631.3 L1358.0,631.3 L1358.0,630.8 L1359.6,630.8 L1359.6,631.7 L1361.2,631.7 L1361.2,631.7 L1362.8,631.7 L1362.8,632.3 L1364.4,632.3 L1364.4,632.8 L1366.0,632.8 L1366.0,633.2 L1367.6,633.2 L1367.6,632.2 L1369.2,632.2 L1369.2,633.5 L1370.8,633.5 L1370.8,633.9 L1372.4,633.9 L1372.4,633.5 L1374.0,633.5 L1374.0,634.0 L1375.6,634.0 L1375.6,633.5 L1377.2,633.5 L1377.2,633.2 L1378.8,633.2 L1378.8,634.1 L1380.4,634.1 L1380.4,635.1 L1382.0,635.1 L1382.0,635.4 L1383.6,635.4 L1383.6,635.5 L1385.2,635.5 L1385.2,634.9 L1386.8,634.9 L1386.8,636.1 L1388.4,636.1 L1388.4,634.8 L1390.0,634.8 L1390.0,635.9 L1391.6,635.9 L1391.6,635.4 L1391.6,663.5 L1391.6,663.0 L1390.0,663.0 L1390.0,662.7 L1388.4,662.7 L1388.4,663.6 L1386.8,663.6 L1386.8,666.5 L1385.2,666.5 L1385.2,663.4 L1383.6,663.4 L1383.6,662.6 L1382.0,662.6 L1382.0,663.2 L1380.4,663.2 L1380.4,661.7 L1378.8,661.7 L1378.8,662.4 L1377.2,662.4 L1377.2,664.0 L1375.6,664.0 L1375.6,663.7 L1374.0,663.7 L1374.0,661.2 L1372.4,661.2 L1372.4,662.0 L1370.8,662.0 L1370.8,661.7 L1369.2,661.7 L1369.2,662.1 L1367.6,662.1 L1367.6,661.8 L1366.0,661.8 L1366.0,661.7 L1364.4,661.7 L1364.4,660.8 L1362.8,660.8 L1362.8,661.3 L1361.2,661.3 L1361.2,661.0 L1359.6,661.0 L1359.6,663.4 L1358.0,663.4 L1358.0,659.5 L1356.4,659.5 L1356.4,660.5 L1354.8,660.5 L1354.8,659.2 L1353.2,659.2 L1353.2,659.9 L1351.6,659.9 L1351.6,659.3 L1350.0,659.3 L1350.0,661.3 L1348.4,661.3 L1348.4,658.9 L1346.8,658.9 L1346.8,660.3 L1345.2,660.3 L1345.2,659.1 L1343.6,659.1 L1343.6,658.5 L1342.0,658.5 L1342.0,658.7 L1340.4,658.7 L1340.4,657.9 L1338.8,657.9 L1338.8,658.1 L1337.2,658.1 L1337.2,658.3 L1335.6,658.3 L1335.6,657.4 L1334.0,657.4 L1334.0,657.3 L1332.4,657.3 L1332.4,657.9 L1330.8,657.9 L1330.8,658.0 L1329.2,658.0 L1329.2,657.6 L1327.6,657.6 L1327.6,657.5 L1326.0,657.5 L1326.0,658.1 L1324.4,658.1 L1324.4,657.8 L1322.8,657.8 L1322.8,657.3 L1321.2,657.3 L1321.2,656.7 L1319.6,656.7 L1319.6,657.4 L1318.0,657.4 L1318.0,657.4 L1316.4,657.4 L1316.4,656.8 L1314.8,656.8 L1314.8,660.0 L1313.2,660.0 L1313.2,657.2 L1311.6,657.2 L1311.6,658.8 L1310.0,658.8 L1310.0,656.6 L1308.4,656.6 L1308.4,657.5 L1306.8,657.5 L1306.8,657.8 L1305.2,657.8 L1305.2,656.8 L1303.6,656.8 L1303.6,656.6 L1302.0,656.6 L1302.0,657.0 L1300.4,657.0 L1300.4,657.9 L1298.8,657.9 L1298.8,658.0 L1297.2,658.0 L1297.2,657.9 L1295.6,657.9 L1295.6,658.1 L1294.0,658.1 L1294.0,657.7 L1292.4,657.7 L1292.4,658.0 L1290.8,658.0 L1290.8,656.6 L1289.2,656.6 L1289.2,656.7 L1287.6,656.7 L1287.6,657.9 L1286.0,657.9 L1286.0,657.6 L1284.4,657.6 L1284.4,660.3 L1282.8,660.3 L1282.8,657.6 L1281.2,657.6 L1281.2,658.1 L1279.6,658.1 L1279.6,658.0 L1278.0,658.0 L1278.0,657.8 L1276.4,657.8 L1276.4,657.2 L1274.8,657.2 L1274.8,657.6 L1273.2,657.6 L1273.2,657.9 L1271.6,657.9 L1271.6,657.8 L1270.0,657.8 L1270.0,657.6 L1268.4,657.6 L1268.4,658.1 L1266.8,658.1 L1266.8,657.4 L1265.2,657.4 L1265.2,657.1 L1263.6,657.1 L1263.6,657.2 L1262.0,657.2 L1262.0,657.3 L1260.4,657.3 L1260.4,657.4 L1258.8,657.4 L1258.8,657.2 L1257.2,657.2 L1257.2,656.9 L1255.6,656.9 L1255.6,657.6 L1254.0,657.6 L1254.0,657.6 L1252.4,657.6 L1252.4,658.0 L1250.8,658.0 L1250.8,657.7 L1249.2,657.7 L1249.2,657.2 L1247.6,657.2 L1247.6,657.5 L1246.0,657.5 L1246.0,657.1 L1244.4,657.1 L1244.4,657.0 L1242.8,657.0 L1242.8,658.2 L1241.2,658.2 L1241.2,659.7 L1239.6,659.7 L1239.6,656.9 L1238.0,656.9 L1238.0,657.0 L1236.4,657.0 L1236.4,657.4 L1234.8,657.4 L1234.8,656.7 L1233.2,656.7 L1233.2,656.9 L1231.6,656.9 L1231.6,657.3 L1230.0,657.3 L1230.0,657.3 L1228.4,657.3 L1228.4,657.5 L1226.8,657.5 L1226.8,657.6 L1225.2,657.6 L1225.2,657.8 L1223.6,657.8 L1223.6,657.2 L1222.0,657.2 L1222.0,657.8 L1220.4,657.8 L1220.4,657.1 L1218.8,657.1 L1218.8,657.1 L1217.2,657.1 L1217.2,656.8 L1215.6,656.8 L1215.6,656.5 L1214.0,656.5 L1214.0,657.3 L1212.4,657.3 L1212.4,655.9 L1210.8,655.9 L1210.8,656.0 L1209.2,656.0 L1209.2,656.8 L1207.6,656.8 L1207.6,655.8 L1206.0,655.8 L1206.0,656.4 L1204.4,656.4 L1204.4,655.7 L1202.8,655.7 L1202.8,657.6 L1201.2,657.6 L1201.2,654.7 L1199.6,654.7 L1199.6,654.9 L1198.0,654.9 L1198.0,655.2 L1196.4,655.2 L1196.4,654.6 L1194.8,654.6 L1194.8,655.7 L1193.2,655.7 L1193.2,656.3 L1191.6,656.3 L1191.6,655.7 L1190.0,655.7 L1190.0,655.9 L1188.4,655.9 L1188.4,655.1 L1186.8,655.1 L1186.8,655.1 L1185.2,655.1 L1185.2,656.4 L1183.6,656.4 L1183.6,655.7 L1182.0,655.7 L1182.0,655.3 L1180.4,655.3 L1180.4,655.0 L1178.8,655.0 L1178.8,655.4 L1177.2,655.4 L1177.2,656.4 L1175.6,656.4 L1175.6,656.1 L1174.0,656.1 L1174.0,656.1 L1172.4,656.1 L1172.4,655.5 L1170.8,655.5 L1170.8,656.4 L1169.2,656.4 L1169.2,656.2 L1167.6,656.2 L1167.6,658.5 L1166.0,658.5 L1166.0,655.5 L1164.4,655.5 L1164.4,655.4 L1162.8,655.4 L1162.8,656.9 L1161.2,656.9 L1161.2,656.4 L1159.6,656.4 L1159.6,659.5 L1158.0,659.5 L1158.0,655.6 L1156.4,655.6 L1156.4,651.0 L1154.8,651.0 L1154.8,649.3 L1153.2,649.3 L1153.2,650.4 L1151.6,650.4 L1151.6,649.4 L1150.0,649.4 L1150.0,650.3 L1148.4,650.3 L1148.4,649.2 L1146.8,649.2 L1146.8,649.8 L1145.2,649.8 L1145.2,653.0 L1143.6,653.0 L1143.6,650.5 L1142.0,650.5 L1142.0,649.8 L1140.4,649.8 L1140.4,650.6 L1138.8,650.6 L1138.8,650.3 L1137.2,650.3 L1137.2,649.7 L1135.6,649.7 L1135.6,650.5 L1134.0,650.5 L1134.0,650.5 L1132.4,650.5 L1132.4,650.6 L1130.8,650.6 L1130.8,650.6 L1129.2,650.6 L1129.2,653.6 L1127.6,653.6 L1127.6,650.0 L1126.0,650.0 L1126.0,649.8 L1124.4,649.8 L1124.4,649.3 L1122.8,649.3 L1122.8,649.8 L1121.2,649.8 L1121.2,649.6 L1119.6,649.6 L1119.6,649.0 L1118.0,649.0 L1118.0,647.9 L1116.4,647.9 L1116.4,647.6 L1114.8,647.6 L1114.8,646.5 L1113.2,646.5 L1113.2,647.2 L1111.6,647.2 L1111.6,646.5 L1110.0,646.5 L1110.0,647.3 L1108.4,647.3 L1108.4,648.0 L1106.8,648.0 L1106.8,648.4 L1105.2,648.4 L1105.2,648.3 L1103.6,648.3 L1103.6,649.7 L1102.0,649.7 L1102.0,648.6 L1100.4,648.6 L1100.4,653.0 L1098.8,653.0 L1098.8,649.6 L1097.2,649.6 L1097.2,649.6 L1095.6,649.6 L1095.6,650.0 L1094.0,650.0 L1094.0,650.8 L1092.4,650.8 L1092.4,649.6 L1090.8,649.6 L1090.8,650.1 L1089.2,650.1 L1089.2,649.3 L1087.6,649.3 L1087.6,648.3 L1086.0,648.3 L1086.0,647.5 L1084.4,647.5 L1084.4,647.0 L1082.8,647.0 L1082.8,646.7 L1081.2,646.7 L1081.2,646.5 L1079.6,646.5 L1079.6,647.3 L1078.0,647.3 L1078.0,646.9 L1076.4,646.9 L1076.4,646.0 L1074.8,646.0 L1074.8,646.9 L1073.2,646.9 L1073.2,646.9 L1071.6,646.9 L1071.6,647.3 L1070.0,647.3 L1070.0,646.6 L1068.4,646.6 L1068.4,646.2 L1066.8,646.2 L1066.8,645.9 L1065.2,645.9 L1065.2,646.3 L1063.6,646.3 L1063.6,646.3 L1062.0,646.3 L1062.0,647.2 L1060.4,647.2 L1060.4,646.1 L1058.8,646.1 L1058.8,646.2 L1057.2,646.2 L1057.2,648.9 L1055.6,648.9 L1055.6,645.9 L1054.0,645.9 L1054.0,646.1 L1052.4,646.1 L1052.4,646.7 L1050.8,646.7 L1050.8,646.3 L1049.2,646.3 L1049.2,646.7 L1047.6,646.7 L1047.6,646.9 L1046.0,646.9 L1046.0,647.0 L1044.4,647.0 L1044.4,646.3 L1042.8,646.3 L1042.8,648.9 L1041.2,648.9 L1041.2,646.1 L1039.6,646.1 L1039.6,645.7 L1038.0,645.7 L1038.0,647.0 L1036.4,647.0 L1036.4,647.2 L1034.8,647.2 L1034.8,646.0 L1033.2,646.0 L1033.2,646.7 L1031.6,646.7 L1031.6,647.0 L1030.0,647.0 L1030.0,646.2 L1028.4,646.2 L1028.4,647.1 L1026.8,647.1 L1026.8,646.3 L1025.2,646.3 L1025.2,645.8 L1023.6,645.8 L1023.6,649.9 L1022.0,649.9 L1022.0,647.8 L1020.4,647.8 L1020.4,646.1 L1018.8,646.1 L1018.8,646.9 L1017.2,646.9 L1017.2,649.9 L1015.6,649.9 L1015.6,647.0 L1014.0,647.0 L1014.0,647.4 L1012.4,647.4 L1012.4,648.8 L1010.8,648.8 L1010.8,649.1 L1009.2,649.1 L1009.2,648.9 L1007.6,648.9 L1007.6,649.4 L1006.0,649.4 L1006.0,648.7 L1004.4,648.7 L1004.4,648.7 L1002.8,648.7 L1002.8,650.4 L1001.2,650.4 L1001.2,649.6 L999.6,649.6 L999.6,650.8 L998.0,650.8 L998.0,653.6 L996.4,653.6 L996.4,652.6 L994.8,652.6 L994.8,654.5 L993.2,654.5 L993.2,656.7 L991.6,656.7 L991.6,658.2 L990.0,658.2 L990.0,659.4 L988.4,659.4 L988.4,658.3 L986.8,658.3 L986.8,658.2 L985.2,658.2 L985.2,658.7 L983.6,658.7 L983.6,660.6 L982.0,660.6 L982.0,658.6 L980.4,658.6 L980.4,658.5 L978.8,658.5 L978.8,656.7 L977.2,656.7 L977.2,657.6 L975.6,657.6 L975.6,657.7 L974.0,657.7 L974.0,656.8 L972.4,656.8 L972.4,659.2 L970.8,659.2 L970.8,656.3 L969.2,656.3 L969.2,656.3 L967.6,656.3 L967.6,656.1 L966.0,656.1 L966.0,656.8 L964.4,656.8 L964.4,656.8 L962.8,656.8 L962.8,656.1 L961.2,656.1 L961.2,656.0 L959.6,656.0 L959.6,655.0 L958.0,655.0 L958.0,658.3 L956.4,658.3 L956.4,655.6 L954.8,655.6 L954.8,655.7 L953.2,655.7 L953.2,654.9 L951.6,654.9 L951.6,654.9 L950.0,654.9 L950.0,653.9 L948.4,653.9 L948.4,655.1 L946.8,655.1 L946.8,658.4 L945.2,658.4 L945.2,655.3 L943.6,655.3 L943.6,654.3 L942.0,654.3 L942.0,656.4 L940.4,656.4 L940.4,654.6 L938.8,654.6 L938.8,654.1 L937.2,654.1 L937.2,655.4 L935.6,655.4 L935.6,654.6 L934.0,654.6 L934.0,654.6 L932.4,654.6 L932.4,655.4 L930.8,655.4 L930.8,656.0 L929.2,656.0 L929.2,655.1 L927.6,655.1 L927.6,655.2 L926.0,655.2 L926.0,654.9 L924.4,654.9 L924.4,655.0 L922.8,655.0 L922.8,655.0 L921.2,655.0 L921.2,654.2 L919.6,654.2 L919.6,653.9 L918.0,653.9 L918.0,655.3 L916.4,655.3 L916.4,655.2 L914.8,655.2 L914.8,655.1 L913.2,655.1 L913.2,654.0 L911.6,654.0 L911.6,654.9 L910.0,654.9 L910.0,654.6 L908.4,654.6 L908.4,655.2 L906.8,655.2 L906.8,654.2 L905.2,654.2 L905.2,654.3 L903.6,654.3 L903.6,654.3 L902.0,654.3 L902.0,655.0 L900.4,655.0 L900.4,654.5 L898.8,654.5 L898.8,654.7 L897.2,654.7 L897.2,655.8 L895.6,655.8 L895.6,654.1 L894.0,654.1 L894.0,654.2 L892.4,654.2 L892.4,654.6 L890.8,654.6 L890.8,655.4 L889.2,655.4 L889.2,654.3 L887.6,654.3 L887.6,655.3 L886.0,655.3 L886.0,657.6 L884.4,657.6 L884.4,655.4 L882.8,655.4 L882.8,670.1 L881.2,670.1 L881.2,670.1 L879.6,670.1 L879.6,670.8 L878.0,670.8 L878.0,670.5 L876.4,670.5 L876.4,670.5 L874.8,670.5 L874.8,670.4 L873.2,670.4 L873.2,671.0 L871.6,671.0 L871.6,670.5 L870.0,670.5 L870.0,671.0 L868.4,671.0 L868.4,670.3 L866.8,670.3 L866.8,670.3 L865.2,670.3 L865.2,670.6 L863.6,670.6 L863.6,670.0 L862.0,670.0 L862.0,670.4 L860.4,670.4 L860.4,671.0 L858.8,671.0 L858.8,670.9 L857.2,670.9 L857.2,671.6 L855.6,671.6 L855.6,670.9 L854.0,670.9 L854.0,670.2 L852.4,670.2 L852.4,670.4 L850.8,670.4 L850.8,670.7 L849.2,670.7 L849.2,671.2 L847.6,671.2 L847.6,670.3 L846.0,670.3 L846.0,670.8 L844.4,670.8 L844.4,671.6 L842.8,671.6 L842.8,677.2 L841.2,677.2 L841.2,703.1 L839.6,703.1 L839.6,704.0 L838.0,704.0 L838.0,704.0 L836.4,704.0 L836.4,703.3 L834.8,703.3 L834.8,703.2 L833.2,703.2 Z" fill="rgba(0,0,255,0.1)" stroke="none"/>
<path d="M833.2,660.1 L834.8,660.1 L834.8,659.9 L836.4,659.9 L836.4,661.1 L838.0,661.1 L838.0,660.6 L839.6,660.6 L839.6,660.5 L841.2,660.5 L841.2,660.7 L842.8,660.7 L842.8,660.5 L844.4,660.5 L844.4,660.4 L846.0,660.4 L846.0,660.6 L847.6,660.6 L847.6,659.9 L849.2,659.9 L849.2,659.8 L850.8,659.8 L850.8,660.5 L852.4,660.5 L852.4,659.3 L854.0,659.3 L854.0,659.3 L855.6,659.3 L855.6,659.7 L857.2,659.7 L857.2,660.2 L858.8,660.2 L858.8,660.1 L860.4,660.1 L860.4,659.0 L862.0,659.0 L862.0,659.7 L863.6,659.7 L863.6,660.2 L865.2,660.2 L865.2,659.4 L866.8,659.4 L866.8,659.3 L868.4,659.3 L868.4,658.6 L870.0,658.6 L870.0,659.9 L871.6,659.9 L871.6,659.2 L873.2,659.2 L873.2,659.3 L874.8,659.3 L874.8,659.4 L876.4,659.4 L876.4,658.6 L878.0,658.6 L878.0,659.4 L879.6,659.4 L879.6,659.1 L881.2,659.1 L881.2,657.4 L882.8,657.4 L882.8,659.4 L884.4,659.4 L884.4,659.3 L886.0,659.3 L886.0,658.1 L887.6,658.1 L887.6,658.1 L889.2,658.1 L889.2,659.0 L890.8,659.0 L890.8,659.7 L892.4,659.7 L892.4,659.6 L894.0,659.6 L894.0,660.0 L895.6,660.0 L895.6,658.8 L897.2,658.8 L897.2,658.8 L898.8,658.8 L898.8,660.1 L900.4,660.1 L900.4,654.8 L902.0,654.8 L902.0,660.2 L903.6,660.2 L903.6,659.4 L905.2,659.4 L905.2,657.7 L906.8,657.7 L906.8,659.3 L908.4,659.3 L908.4,660.3 L910.0,660.3 L910.0,660.8 L911.6,660.8 L911.6,660.2 L913.2,660.2 L913.2,659.7 L914.8,659.7 L914.8,659.5 L916.4,659.5 L916.4,660.3 L918.0,660.3 L918.0,660.4 L919.6,660.4 L919.6,659.9 L921.2,659.9 L921.2,660.7 L922.8,660.7 L922.8,661.0 L924.4,661.0 L924.4,656.5 L926.0,656.5 L926.0,660.8 L927.6,660.8 L927.6,660.8 L929.2,660.8 L929.2,661.2 L930.8,661.2 L930.8,658.1 L932.4,658.1 L932.4,661.4 L934.0,661.4 L934.0,660.5 L935.6,660.5 L935.6,661.6 L937.2,661.6 L937.2,661.0 L938.8,661.0 L938.8,660.3 L940.4,660.3 L940.4,660.9 L942.0,660.9 L942.0,661.8 L943.6,661.8 L943.6,661.0 L945.2,661.0 L945.2,661.7 L946.8,661.7 L946.8,661.1 L948.4,661.1 L948.4,661.8 L950.0,661.8 L950.0,661.9 L951.6,661.9 L951.6,662.8 L953.2,662.8 L953.2,662.4 L954.8,662.4 L954.8,662.6 L956.4,662.6 L956.4,662.4 L958.0,662.4 L958.0,662.1 L959.6,662.1 L959.6,661.4 L961.2,661.4 L961.2,662.3 L962.8,662.3 L962.8,663.2 L964.4,663.2 L964.4,662.7 L966.0,662.7 L966.0,663.8 L967.6,663.8 L967.6,663.3 L969.2,663.3 L969.2,662.9 L970.8,662.9 L970.8,664.3 L972.4,664.3 L972.4,661.7 L974.0,661.7 L974.0,664.2 L975.6,664.2 L975.6,663.5 L977.2,663.5 L977.2,663.8 L978.8,663.8 L978.8,663.9 L980.4,663.9 L980.4,664.6 L982.0,664.6 L982.0,664.7 L983.6,664.7 L983.6,664.8 L985.2,664.8 L985.2,664.0 L986.8,664.0 L986.8,665.1 L988.4,665.1 L988.4,664.4 L990.0,664.4 L990.0,665.0 L991.6,665.0 L991.6,663.4 L993.2,663.4 L993.2,658.4 L994.8,658.4 L994.8,661.2 L996.4,661.2 L996.4,660.3 L998.0,660.3 L998.0,661.0 L999.6,661.0 L999.6,660.7 L1001.2,660.7 L1001.2,660.8 L1002.8,660.8 L1002.8,661.1 L1004.4,661.1 L1004.4,658.4 L1006.0,658.4 L1006.0,661.3 L1007.6,661.3 L1007.6,660.9 L1009.2,660.9 L1009.2,661.0 L1010.8,661.0 L1010.8,661.2 L1012.4,661.2 L1012.4,660.1 L1014.0,660.1 L1014.0,660.4 L1015.6,660.4 L1015.6,661.2 L1017.2,661.2 L1017.2,660.9 L1018.8,660.9 L1018.8,661.1 L1020.4,661.1 L1020.4,660.6 L1022.0,660.6 L1022.0,661.6 L1023.6,661.6 L1023.6,660.4 L1025.2,660.4 L1025.2,661.5 L1026.8,661.5 L1026.8,660.5 L1028.4,660.5 L1028.4,660.1 L1030.0,660.1 L1030.0,660.0 L1031.6,660.0 L1031.6,661.3 L1033.2,661.3 L1033.2,660.9 L1034.8,660.9 L1034.8,660.2 L1036.4,660.2 L1036.4,661.4 L1038.0,661.4 L1038.0,661.4 L1039.6,661.4 L1039.6,660.0 L1041.2,660.0 L1041.2,661.6 L1042.8,661.6 L1042.8,659.0 L1044.4,659.0 L1044.4,660.4 L1046.0,660.4 L1046.0,660.0 L1047.6,660.0 L1047.6,661.5 L1049.2,661.5 L1049.2,660.3 L1050.8,660.3 L1050.8,660.4 L1052.4,660.4 L1052.4,660.8 L1054.0,660.8 L1054.0,658.6 L1055.6,658.6 L1055.6,660.1 L1057.2,660.1 L1057.2,660.1 L1058.8,660.1 L1058.8,660.2 L1060.4,660.2 L1060.4,660.7 L1062.0,660.7 L1062.0,660.1 L1063.6,660.1 L1063.6,660.8 L1065.2,660.8 L1065.2,660.2 L1066.8,660.2 L1066.8,660.9 L1068.4,660.9 L1068.4,661.6 L1070.0,661.6 L1070.0,660.4 L1071.6,660.4 L1071.6,658.3 L1073.2,658.3 L1073.2,660.4 L1074.8,660.4 L1074.8,661.0 L1076.4,661.0 L1076.4,661.5 L1078.0,661.5 L1078.0,660.3 L1079.6,660.3 L1079.6,660.3 L1081.2,660.3 L1081.2,661.4 L1082.8,661.4 L1082.8,661.3 L1084.4,661.3 L1084.4,660.5 L1086.0,660.5 L1086.0,661.1 L1087.6,661.1 L1087.6,661.8 L1089.2,661.8 L1089.2,662.1 L1090.8,662.1 L1090.8,661.7 L1092.4,661.7 L1092.4,662.0 L1094.0,662.0 L1094.0,661.0 L1095.6,661.0 L1095.6,662.3 L1097.2,662.3 L1097.2,662.4 L1098.8,662.4 L1098.8,662.6 L1100.4,662.6 L1100.4,660.4 L1102.0,660.4 L1102.0,662.7 L1103.6,662.7 L1103.6,661.7 L1105.2,661.7 L1105.2,659.4 L1106.8,659.4 L1106.8,662.5 L1108.4,662.5 L1108.4,663.0 L1110.0,663.0 L1110.0,662.2 L1111.6,662.2 L1111.6,663.6 L1113.2,663.6 L1113.2,662.7 L1114.8,662.7 L1114.8,663.7 L1116.4,663.7 L1116.4,664.6 L1118.0,664.6 L1118.0,666.3 L1119.6,666.3 L1119.6,667.5 L1121.2,667.5 L1121.2,664.7 L1122.8,664.7 L1122.8,669.9 L1124.4,669.9 L1124.4,668.4 L1126.0,668.4 L1126.0,668.7 L1127.6,668.7 L1127.6,668.4 L1129.2,668.4 L1129.2,668.8 L1130.8,668.8 L1130.8,668.2 L1132.4,668.2 L1132.4,667.6 L1134.0,667.6 L1134.0,666.9 L1135.6,666.9 L1135.6,667.4 L1137.2,667.4 L1137.2,666.4 L1138.8,666.4 L1138.8,666.9 L1140.4,666.9 L1140.4,667.2 L1142.0,667.2 L1142.0,666.9 L1143.6,666.9 L1143.6,666.8 L1145.2,666.8 L1145.2,667.1 L1146.8,667.1 L1146.8,667.3 L1148.4,667.3 L1148.4,666.9 L1150.0,666.9 L1150.0,667.1 L1151.6,667.1 L1151.6,665.9 L1153.2,665.9 L1153.2,667.4 L1154.8,667.4 L1154.8,667.7 L1156.4,667.7 L1156.4,671.4 L1158.0,671.4 L1158.0,668.9 L1159.6,668.9 L1159.6,669.1 L1161.2,669.1 L1161.2,673.0 L1162.8,673.0 L1162.8,673.3 L1164.4,673.3 L1164.4,669.3 L1166.0,669.3 L1166.0,672.9 L1167.6,672.9 L1167.6,672.3 L1169.2,672.3 L1169.2,673.3 L1170.8,673.3 L1170.8,672.5 L1172.4,672.5 L1172.4,673.0 L1174.0,673.0 L1174.0,673.3 L1175.6,673.3 L1175.6,672.9 L1177.2,672.9 L1177.2,669.5 L1178.8,669.5 L1178.8,673.5 L1180.4,673.5 L1180.4,672.4 L1182.0,672.4 L1182.0,672.7 L1183.6,672.7 L1183.6,672.7 L1185.2,672.7 L1185.2,673.3 L1186.8,673.3 L1186.8,673.4 L1188.4,673.4 L1188.4,673.5 L1190.0,673.5 L1190.0,672.4 L1191.6,672.4 L1191.6,673.3 L1193.2,673.3 L1193.2,673.8 L1194.8,673.8 L1194.8,672.6 L1196.4,672.6 L1196.4,673.8 L1198.0,673.8 L1198.0,673.6 L1199.6,673.6 L1199.6,673.9 L1201.2,673.9 L1201.2,673.3 L1202.8,673.3 L1202.8,675.1 L1204.4,675.1 L1204.4,675.6 L1206.0,675.6 L1206.0,674.9 L1207.6,674.9 L1207.6,675.4 L1209.2,675.4 L1209.2,677.0 L1210.8,677.0 L1210.8,677.7 L1212.4,677.7 L1212.4,676.9 L1214.0,676.9 L1214.0,677.2 L1215.6,677.2 L1215.6,677.4 L1217.2,677.4 L1217.2,678.1 L1218.8,678.1 L1218.8,677.4 L1220.4,677.4 L1220.4,677.9 L1222.0,677.9 L1222.0,677.8 L1223.6,677.8 L1223.6,678.0 L1225.2,678.0 L1225.2,676.3 L1226.8,676.3 L1226.8,676.0 L1228.4,676.0 L1228.4,677.8 L1230.0,677.8 L1230.0,678.3 L1231.6,678.3 L1231.6,678.7 L1233.2,678.7 L1233.2,678.2 L1234.8,678.2 L1234.8,678.8 L1236.4,678.8 L1236.4,677.8 L1238.0,677.8 L1238.0,677.0 L1239.6,677.0 L1239.6,678.5 L1241.2,678.5 L1241.2,678.0 L1242.8,678.0 L1242.8,678.0 L1244.4,678.0 L1244.4,678.4 L1246.0,678.4 L1246.0,677.9 L1247.6,677.9 L1247.6,674.6 L1249.2,674.6 L1249.2,677.6 L1250.8,677.6 L1250.8,678.0 L1252.4,678.0 L1252.4,677.5 L1254.0,677.5 L1254.0,678.1 L1255.6,678.1 L1255.6,676.4 L1257.2,676.4 L1257.2,675.5 L1258.8,675.5 L1258.8,678.8 L1260.4,678.8 L1260.4,678.5 L1262.0,678.5 L1262.0,677.3 L1263.6,677.3 L1263.6,677.9 L1265.2,677.9 L1265.2,677.5 L1266.8,677.5 L1266.8,676.7 L1268.4,676.7 L1268.4,678.7 L1270.0,678.7 L1270.0,679.2 L1271.6,679.2 L1271.6,676.6 L1273.2,676.6 L1273.2,678.1 L1274.8,678.1 L1274.8,677.9 L1276.4,677.9 L1276.4,679.1 L1278.0,679.1 L1278.0,678.5 L1279.6,678.5 L1279.6,678.1 L1281.2,678.1 L1281.2,678.5 L1282.8,678.5 L1282.8,679.2 L1284.4,679.2 L1284.4,679.5 L1286.0,679.5 L1286.0,679.0 L1287.6,679.0 L1287.6,679.3 L1289.2,679.3 L1289.2,679.1 L1290.8,679.1 L1290.8,678.8 L1292.4,678.8 L1292.4,678.7 L1294.0,678.7 L1294.0,679.4 L1295.6,679.4 L1295.6,679.3 L1297.2,679.3 L1297.2,678.8 L1298.8,678.8 L1298.8,679.5 L1300.4,679.5 L1300.4,679.4 L1302.0,679.4 L1302.0,679.7 L1303.6,679.7 L1303.6,679.3 L1305.2,679.3 L1305.2,680.1 L1306.8,680.1 L1306.8,680.1 L1308.4,680.1 L1308.4,676.3 L1310.0,676.3 L1310.0,678.8 L1311.6,678.8 L1311.6,678.9 L1313.2,678.9 L1313.2,679.7 L1314.8,679.7 L1314.8,679.6 L1316.4,679.6 L1316.4,679.6 L1318.0,679.6 L1318.0,680.2 L1319.6,680.2 L1319.6,680.1 L1321.2,680.1 L1321.2,679.6 L1322.8,679.6 L1322.8,676.9 L1324.4,676.9 L1324.4,679.6 L1326.0,679.6 L1326.0,679.3 L1327.6,679.3 L1327.6,678.4 L1329.2,678.4 L1329.2,680.1 L1330.8,680.1 L1330.8,680.7 L1332.4,680.7 L1332.4,679.6 L1334.0,679.6 L1334.0,680.3 L1335.6,680.3 L1335.6,679.6 L1337.2,679.6 L1337.2,677.6 L1338.8,677.6 L1338.8,680.4 L1340.4,680.4 L1340.4,677.0 L1342.0,677.0 L1342.0,680.7 L1343.6,680.7 L1343.6,681.1 L1345.2,681.1 L1345.2,680.8 L1346.8,680.8 L1346.8,680.5 L1348.4,680.5 L1348.4,680.2 L1350.0,680.2 L1350.0,680.8 L1351.6,680.8 L1351.6,681.0 L1353.2,681.0 L1353.2,680.9 L1354.8,680.9 L1354.8,681.4 L1356.4,681.4 L1356.4,680.5 L1358.0,680.5 L1358.0,680.2 L1359.6,680.2 L1359.6,680.5 L1361.2,680.5 L1361.2,681.4 L1362.8,681.4 L1362.8,681.1 L1364.4,681.1 L1364.4,681.4 L1366.0,681.4 L1366.0,681.1 L1367.6,681.1 L1367.6,680.5 L1369.2,680.5 L1369.2,681.6 L1370.8,681.6 L1370.8,681.5 L1372.4,681.5 L1372.4,680.9 L1374.0,680.9 L1374.0,681.9 L1375.6,681.9 L1375.6,681.2 L1377.2,681.2 L1377.2,681.8 L1378.8,681.8 L1378.8,681.2 L1380.4,681.2 L1380.4,681.6 L1382.0,681.6 L1382.0,682.1 L1383.6,682.1 L1383.6,681.5 L1385.2,681.5 L1385.2,681.7 L1386.8,681.7 L1386.8,681.8 L1388.4,681.8 L1388.4,681.7 L1390.0,681.7 L1390.0,681.7 L1391.6,681.7 L1391.6,679.6 L1391.6,695.4 L1391.6,694.6 L1390.0,694.6 L1390.0,695.5 L1388.4,695.5 L1388.4,695.2 L1386.8,695.2 L1386.8,695.4 L1385.2,695.4 L1385.2,694.6 L1383.6,694.6 L1383.6,693.9 L1382.0,693.9 L1382.0,695.4 L1380.4,695.4 L1380.4,694.6 L1378.8,694.6 L1378.8,694.2 L1377.2,694.2 L1377.2,694.6 L1375.6,694.6 L1375.6,693.9 L1374.0,693.9 L1374.0,695.2 L1372.4,695.2 L1372.4,694.8 L1370.8,694.8 L1370.8,694.4 L1369.2,694.4 L1369.2,693.7 L1367.6,693.7 L1367.6,696.5 L1366.0,696.5 L1366.0,693.9 L1364.4,693.9 L1364.4,693.5 L1362.8,693.5 L1362.8,694.1 L1361.2,694.1 L1361.2,694.4 L1359.6,694.4 L1359.6,693.5 L1358.0,693.5 L1358.0,693.7 L1356.4,693.7 L1356.4,693.5 L1354.8,693.5 L1354.8,694.0 L1353.2,694.0 L1353.2,695.6 L1351.6,695.6 L1351.6,694.4 L1350.0,694.4 L1350.0,693.9 L1348.4,693.9 L1348.4,693.7 L1346.8,693.7 L1346.8,694.3 L1345.2,694.3 L1345.2,694.4 L1343.6,694.4 L1343.6,693.7 L1342.0,693.7 L1342.0,693.2 L1340.4,693.2 L1340.4,694.0 L1338.8,694.0 L1338.8,693.2 L1337.2,693.2 L1337.2,693.5 L1335.6,693.5 L1335.6,694.0 L1334.0,694.0 L1334.0,694.1 L1332.4,694.1 L1332.4,693.4 L1330.8,693.4 L1330.8,693.5 L1329.2,693.5 L1329.2,693.2 L1327.6,693.2 L1327.6,694.4 L1326.0,694.4 L1326.0,692.8 L1324.4,692.8 L1324.4,697.1 L1322.8,697.1 L1322.8,693.3 L1321.2,693.3 L1321.2,693.0 L1319.6,693.0 L1319.6,692.8 L1318.0,692.8 L1318.0,693.5 L1316.4,693.5 L1316.4,694.4 L1314.8,694.4 L1314.8,693.8 L1313.2,693.8 L1313.2,694.8 L1311.6,694.8 L1311.6,693.7 L1310.0,693.7 L1310.0,694.1 L1308.4,694.1 L1308.4,692.6 L1306.8,692.6 L1306.8,692.7 L1305.2,692.7 L1305.2,693.4 L1303.6,693.4 L1303.6,692.6 L1302.0,692.6 L1302.0,696.0 L1300.4,696.0 L1300.4,693.9 L1298.8,693.9 L1298.8,692.7 L1297.2,692.7 L1297.2,692.4 L1295.6,692.4 L1295.6,693.0 L1294.0,693.0 L1294.0,693.1 L1292.4,693.1 L1292.4,692.4 L1290.8,692.4 L1290.8,692.7 L1289.2,692.7 L1289.2,692.3 L1287.6,692.3 L1287.6,693.3 L1286.0,693.3 L1286.0,692.6 L1284.4,692.6 L1284.4,692.3 L1282.8,692.3 L1282.8,693.5 L1281.2,693.5 L1281.2,693.3 L1279.6,693.3 L1279.6,692.5 L1278.0,692.5 L1278.0,693.5 L1276.4,693.5 L1276.4,695.0 L1274.8,695.0 L1274.8,692.9 L1273.2,692.9 L1273.2,692.6 L1271.6,692.6 L1271.6,692.5 L1270.0,692.5 L1270.0,691.9 L1268.4,691.9 L1268.4,693.0 L1266.8,693.0 L1266.8,693.1 L1265.2,693.1 L1265.2,692.8 L1263.6,692.8 L1263.6,695.7 L1262.0,695.7 L1262.0,692.6 L1260.4,692.6 L1260.4,692.8 L1258.8,692.8 L1258.8,692.2 L1257.2,692.2 L1257.2,692.4 L1255.6,692.4 L1255.6,694.4 L1254.0,694.4 L1254.0,691.9 L1252.4,691.9 L1252.4,692.1 L1250.8,692.1 L1250.8,692.3 L1249.2,692.3 L1249.2,692.8 L1247.6,692.8 L1247.6,695.1 L1246.0,695.1 L1246.0,692.6 L1244.4,692.6 L1244.4,692.7 L1242.8,692.7 L1242.8,693.4 L1241.2,693.4 L1241.2,692.6 L1239.6,692.6 L1239.6,692.7 L1238.0,692.7 L1238.0,692.5 L1236.4,692.5 L1236.4,691.6 L1234.8,691.6 L1234.8,695.4 L1233.2,695.4 L1233.2,691.5 L1231.6,691.5 L1231.6,691.4 L1230.0,691.4 L1230.0,692.0 L1228.4,692.0 L1228.4,692.1 L1226.8,692.1 L1226.8,692.2 L1225.2,692.2 L1225.2,691.8 L1223.6,691.8 L1223.6,691.5 L1222.0,691.5 L1222.0,692.0 L1220.4,692.0 L1220.4,692.0 L1218.8,692.0 L1218.8,692.1 L1217.2,692.1 L1217.2,694.3 L1215.6,694.3 L1215.6,691.1 L1214.0,691.1 L1214.0,691.7 L1212.4,691.7 L1212.4,690.8 L1210.8,690.8 L1210.8,691.8 L1209.2,691.8 L1209.2,692.0 L1207.6,692.0 L1207.6,690.4 L1206.0,690.4 L1206.0,690.9 L1204.4,690.9 L1204.4,691.6 L1202.8,691.6 L1202.8,690.8 L1201.2,690.8 L1201.2,691.3 L1199.6,691.3 L1199.6,690.1 L1198.0,690.1 L1198.0,690.5 L1196.4,690.5 L1196.4,690.6 L1194.8,690.6 L1194.8,690.6 L1193.2,690.6 L1193.2,689.5 L1191.6,689.5 L1191.6,689.4 L1190.0,689.4 L1190.0,690.4 L1188.4,690.4 L1188.4,689.0 L1186.8,689.0 L1186.8,690.0 L1185.2,690.0 L1185.2,689.2 L1183.6,689.2 L1183.6,689.1 L1182.0,689.1 L1182.0,689.9 L1180.4,689.9 L1180.4,688.9 L1178.8,688.9 L1178.8,688.7 L1177.2,688.7 L1177.2,688.3 L1175.6,688.3 L1175.6,689.0 L1174.0,689.0 L1174.0,688.7 L1172.4,688.7 L1172.4,689.0 L1170.8,689.0 L1170.8,688.1 L1169.2,688.1 L1169.2,692.3 L1167.6,692.3 L1167.6,688.0 L1166.0,688.0 L1166.0,688.0 L1164.4,688.0 L1164.4,687.8 L1162.8,687.8 L1162.8,687.8 L1161.2,687.8 L1161.2,687.8 L1159.6,687.8 L1159.6,690.0 L1158.0,690.0 L1158.0,686.8 L1156.4,686.8 L1156.4,685.0 L1154.8,685.0 L1154.8,685.6 L1153.2,685.6 L1153.2,685.9 L1151.6,685.9 L1151.6,685.8 L1150.0,685.8 L1150.0,689.2 L1148.4,689.2 L1148.4,685.7 L1146.8,685.7 L1146.8,686.4 L1145.2,686.4 L1145.2,686.0 L1143.6,686.0 L1143.6,686.1 L1142.0,686.1 L1142.0,685.8 L1140.4,685.8 L1140.4,687.1 L1138.8,687.1 L1138.8,686.3 L1137.2,686.3 L1137.2,685.9 L1135.6,685.9 L1135.6,686.4 L1134.0,686.4 L1134.0,688.9 L1132.4,688.9 L1132.4,685.1 L1130.8,685.1 L1130.8,685.0 L1129.2,685.0 L1129.2,685.0 L1127.6,685.0 L1127.6,684.7 L1126.0,684.7 L1126.0,685.9 L1124.4,685.9 L1124.4,685.7 L1122.8,685.7 L1122.8,686.1 L1121.2,686.1 L1121.2,685.6 L1119.6,685.6 L1119.6,686.0 L1118.0,686.0 L1118.0,687.3 L1116.4,687.3 L1116.4,686.8 L1114.8,686.8 L1114.8,686.7 L1113.2,686.7 L1113.2,687.3 L1111.6,687.3 L1111.6,687.1 L1110.0,687.1 L1110.0,686.8 L1108.4,686.8 L1108.4,686.1 L1106.8,686.1 L1106.8,686.0 L1105.2,686.0 L1105.2,686.9 L1103.6,686.9 L1103.6,686.3 L1102.0,686.3 L1102.0,686.0 L1100.4,686.0 L1100.4,685.4 L1098.8,685.4 L1098.8,685.3 L1097.2,685.3 L1097.2,685.2 L1095.6,685.2 L1095.6,685.7 L1094.0,685.7 L1094.0,685.6 L1092.4,685.6 L1092.4,684.6 L1090.8,684.6 L1090.8,684.5 L1089.2,684.5 L1089.2,684.4 L1087.6,684.4 L1087.6,684.9 L1086.0,684.9 L1086.0,684.8 L1084.4,684.8 L1084.4,684.2 L1082.8,684.2 L1082.8,684.1 L1081.2,684.1 L1081.2,683.6 L1079.6,683.6 L1079.6,683.5 L1078.0,683.5 L1078.0,684.5 L1076.4,684.5 L1076.4,682.8 L1074.8,682.8 L1074.8,683.3 L1073.2,683.3 L1073.2,682.9 L1071.6,682.9 L1071.6,683.1 L1070.0,683.1 L1070.0,683.3 L1068.4,683.3 L1068.4,685.1 L1066.8,685.1 L1066.8,683.4 L1065.2,683.4 L1065.2,687.5 L1063.6,687.5 L1063.6,683.3 L1062.0,683.3 L1062.0,687.4 L1060.4,687.4 L1060.4,684.9 L1058.8,684.9 L1058.8,684.5 L1057.2,684.5 L1057.2,683.5 L1055.6,683.5 L1055.6,683.6 L1054.0,683.6 L1054.0,684.5 L1052.4,684.5 L1052.4,685.1 L1050.8,685.1 L1050.8,684.6 L1049.2,684.6 L1049.2,685.9 L1047.6,685.9 L1047.6,684.1 L1046.0,684.1 L1046.0,684.5 L1044.4,684.5 L1044.4,684.2 L1042.8,684.2 L1042.8,684.5 L1041.2,684.5 L1041.2,685.1 L1039.6,685.1 L1039.6,685.5 L1038.0,685.5 L1038.0,685.7 L1036.4,685.7 L1036.4,684.6 L1034.8,684.6 L1034.8,686.1 L1033.2,686.1 L1033.2,684.8 L1031.6,684.8 L1031.6,685.4 L1030.0,685.4 L1030.0,685.3 L1028.4,685.3 L1028.4,684.7 L1026.8,684.7 L1026.8,686.0 L1025.2,686.0 L1025.2,684.6 L1023.6,684.6 L1023.6,684.9 L1022.0,684.9 L1022.0,685.2 L1020.4,685.2 L1020.4,685.9 L1018.8,685.9 L1018.8,685.4 L1017.2,685.4 L1017.2,684.7 L1015.6,684.7 L1015.6,684.6 L1014.0,684.6 L1014.0,685.5 L1012.4,685.5 L1012.4,684.6 L1010.8,684.6 L1010.8,685.6 L1009.2,685.6 L1009.2,684.9 L1007.6,684.9 L1007.6,686.1 L1006.0,686.1 L1006.0,685.2 L1004.4,685.2 L1004.4,684.9 L1002.8,684.9 L1002.8,685.5 L1001.2,685.5 L1001.2,685.3 L999.6,685.3 L999.6,685.8 L998.0,685.8 L998.0,684.8 L996.4,684.8 L996.4,684.9 L994.8,684.9 L994.8,686.9 L993.2,686.9 L993.2,689.9 L991.6,689.9 L991.6,693.5 L990.0,693.5 L990.0,693.6 L988.4,693.6 L988.4,693.8 L986.8,693.8 L986.8,693.6 L985.2,693.6 L985.2,693.0 L983.6,693.0 L983.6,694.0 L982.0,694.0 L982.0,693.6 L980.4,693.6 L980.4,693.4 L978.8,693.4 L978.8,692.8 L977.2,692.8 L977.2,692.8 L975.6,692.8 L975.6,692.7 L974.0,692.7 L974.0,693.3 L972.4,693.3 L972.4,693.0 L970.8,693.0 L970.8,692.5 L969.2,692.5 L969.2,693.2 L967.6,693.2 L967.6,692.0 L966.0,692.0 L966.0,693.5 L964.4,693.5 L964.4,693.4 L962.8,693.4 L962.8,692.3 L961.2,692.3 L961.2,692.9 L959.6,692.9 L959.6,692.4 L958.0,692.4 L958.0,692.0 L956.4,692.0 L956.4,691.9 L954.8,691.9 L954.8,692.6 L953.2,692.6 L953.2,691.8 L951.6,691.8 L951.6,692.6 L950.0,692.6 L950.0,691.9 L948.4,691.9 L948.4,692.2 L946.8,692.2 L946.8,691.4 L945.2,691.4 L945.2,691.9 L943.6,691.9 L943.6,692.5 L942.0,692.5 L942.0,692.2 L940.4,692.2 L940.4,692.4 L938.8,692.4 L938.8,691.5 L937.2,691.5 L937.2,692.5 L935.6,692.5 L935.6,691.8 L934.0,691.8 L934.0,691.6 L932.4,691.6 L932.4,691.6 L930.8,691.6 L930.8,691.0 L929.2,691.0 L929.2,691.3 L927.6,691.3 L927.6,691.5 L926.0,691.5 L926.0,691.1 L924.4,691.1 L924.4,691.5 L922.8,691.5 L922.8,691.2 L921.2,691.2 L921.2,691.8 L919.6,691.8 L919.6,692.7 L918.0,692.7 L918.0,691.1 L916.4,691.1 L916.4,692.8 L914.8,692.8 L914.8,691.0 L913.2,691.0 L913.2,691.1 L911.6,691.1 L911.6,691.0 L910.0,691.0 L910.0,689.8 L908.4,689.8 L908.4,690.0 L906.8,690.0 L906.8,690.6 L905.2,690.6 L905.2,691.0 L903.6,691.0 L903.6,690.4 L902.0,690.4 L902.0,689.8 L900.4,689.8 L900.4,691.5 L898.8,691.5 L898.8,689.9 L897.2,689.9 L897.2,689.6 L895.6,689.6 L895.6,689.3 L894.0,689.3 L894.0,689.2 L892.4,689.2 L892.4,690.3 L890.8,690.3 L890.8,689.2 L889.2,689.2 L889.2,689.8 L887.6,689.8 L887.6,689.2 L886.0,689.2 L886.0,694.5 L884.4,694.5 L884.4,691.1 L882.8,691.1 L882.8,689.9 L881.2,689.9 L881.2,691.8 L879.6,691.8 L879.6,691.1 L878.0,691.1 L878.0,691.1 L876.4,691.1 L876.4,692.1 L874.8,692.1 L874.8,692.1 L873.2,692.1 L873.2,691.9 L871.6,691.9 L871.6,692.5 L870.0,692.5 L870.0,693.9 L868.4,693.9 L868.4,693.1 L866.8,693.1 L866.8,694.1 L865.2,694.1 L865.2,694.8 L863.6,694.8 L863.6,695.6 L862.0,695.6 L862.0,696.2 L860.4,696.2 L860.4,697.1 L858.8,697.1 L858.8,697.7 L857.2,697.7 L857.2,699.8 L855.6,699.8 L855.6,699.3 L854.0,699.3 L854.0,701.4 L852.4,701.4 L852.4,701.2 L850.8,701.2 L850.8,703.2 L849.2,703.2 L849.2,702.0 L847.6,702.0 L847.6,702.0 L846.0,702.0 L846.0,702.5 L844.4,702.5 L844.4,702.8 L842.8,702.8 L842.8,702.4 L841.2,702.4 L841.2,702.3 L839.6,702.3 L839.6,703.1 L838.0,703.1 L838.0,703.7 L836.4,703.7 L836.4,703.5 L834.8,703.5 L834.8,704.2 L833.2,704.2 Z" fill="rgba(0,0,255,0.1)" stroke="none"/>
<path d="M833.2,634.1 L838.2,634.1 L838.2,639.6 L843.2,639.6 L843.2,625.9 L848.2,625.9 L848.2,622.2 L853.2,622.2 L853.2,625.3 L858.2,625.3 L858.2,623.7 L863.2,623.7 L863.2,625.2 L868.2,625.2 L868.2,627.5 L873.2,627.5 L873.2,626.3 L878.2,626.3 L878.2,626.9 L883.2,626.9 L883.2,625.5 L888.2,625.5 L888.2,625.7 L893.2,625.7 L893.2,625.7 L898.2,625.7 L898.2,625.9 L903.2,625.9 L903.2,625.6 L908.2,625.6 L908.2,624.8 L913.2,624.8 L913.2,626.0 L918.2,626.0 L918.2,627.1 L923.2,627.1 L923.2,627.4 L928.2,627.4 L928.2,629.4 L933.2,629.4 L933.2,629.2 L938.2,629.2 L938.2,629.1 L943.2,629.1 L943.2,628.0 L948.2,628.0 L948.2,628.4 L953.2,628.4 L953.2,627.2 L958.2,627.2 L958.2,626.9 L963.2,626.9 L963.2,625.7 L968.2,625.7 L968.2,628.1 L973.2,628.1 L973.2,631.4 L978.2,631.4 L978.2,632.3 L983.2,632.3 L983.2,632.3 L988.2,632.3 L988.2,633.6 L993.2,633.6 L993.2,625.1 L998.2,625.1 L998.2,624.9 L1003.2,624.9 L1003.2,625.0 L1008.2,625.0 L1008.2,622.4 L1013.2,622.4 L1013.2,620.8 L1018.2,620.8 L1018.2,619.3 L1023.2,619.3 L1023.2,618.6 L1028.2,618.6 L1028.2,618.4 L1033.2,618.4 L1033.2,618.4 L1038.2,618.4 L1038.2,618.8 L1043.2,618.8 L1043.2,621.3 L1048.2,621.3 L1048.2,624.5 L1053.2,624.5 L1053.2,623.8 L1058.2,623.8 L1058.2,623.5 L1063.2,623.5 L1063.2,623.1 L1068.2,623.1 L1068.2,623.5 L1073.2,623.5 L1073.2,622.3 L1078.2,622.3 L1078.2,622.9 L1083.2,622.9 L1083.2,622.3 L1088.2,622.3 L1088.2,626.1 L1093.2,626.1 L1093.2,627.4 L1098.2,627.4 L1098.2,628.3 L1103.2,628.3 L1103.2,628.6 L1108.2,628.6 L1108.2,626.2 L1113.2,626.2 L1113.2,624.7 L1118.2,624.7 L1118.2,626.5 L1123.2,626.5 L1123.2,628.0 L1128.2,628.0 L1128.2,628.7 L1133.2,628.7 L1133.2,627.6 L1138.2,627.6 L1138.2,625.6 L1143.2,625.6 L1143.2,626.6 L1148.2,626.6 L1148.2,628.0 L1153.2,628.0 L1153.2,633.0 L1158.2,633.0 L1158.2,636.0 L1163.2,636.0 L1163.2,637.4 L1168.2,637.4 L1168.2,638.0 L1173.2,638.0 L1173.2,637.4 L1178.2,637.4 L1178.2,636.1 L1183.2,636.1 L1183.2,632.4 L1188.2,632.4 L1188.2,632.5 L1193.2,632.5 L1193.2,632.5 L1198.2,632.5 L1198.2,632.8 L1203.2,632.8 L1203.2,634.0 L1208.2,634.0 L1208.2,636.3 L1213.2,636.3 L1213.2,637.5 L1218.2,637.5 L1218.2,638.2 L1223.2,638.2 L1223.2,638.9 L1228.2,638.9 L1228.2,639.5 L1233.2,639.5 L1233.2,639.8 L1238.2,639.8 L1238.2,639.8 L1243.2,639.8 L1243.2,640.5 L1248.2,640.5 L1248.2,639.9 L1253.2,639.9 L1253.2,640.2 L1258.2,640.2 L1258.2,639.5 L1263.2,639.5 L1263.2,641.0 L1268.2,641.0 L1268.2,642.6 L1273.2,642.6 L1273.2,641.9 L1278.2,641.9 L1278.2,642.8 L1283.2,642.8 L1283.2,641.9 L1288.2,641.9 L1288.2,642.3 L1293.2,642.3 L1293.2,642.6 L1298.2,642.6 L1298.2,641.9 L1303.2,641.9 L1303.2,642.1 L1308.2,642.1 L1308.2,641.4 L1313.2,641.4 L1313.2,641.7 L1318.2,641.7 L1318.2,641.2 L1323.2,641.2 L1323.2,641.2 L1328.2,641.2 L1328.2,642.7 L1333.2,642.7 L1333.2,643.5 L1338.2,643.5 L1338.2,643.3 L1343.2,643.3 L1343.2,643.8 L1348.2,643.8 L1348.2,643.4 L1353.2,643.4 L1353.2,645.2 L1358.2,645.2 L1358.2,646.2 L1363.2,646.2 L1363.2,646.9 L1368.2,646.9 L1368.2,648.1 L1373.2,648.1 L1373.2,648.1 L1378.2,648.1 L1378.2,648.4 L1383.2,648.4 L1383.2,648.8 L1388.2,648.8 L1388.2,648.2" fill="none" stroke="#000" stroke-width="2.6" stroke-dasharray="9.5,6" stroke-linejoin="round" />
<path d="M833.2,682.3 L838.2,682.3 L838.2,683.0 L843.2,683.0 L843.2,684.2 L848.2,684.2 L848.2,683.8 L853.2,683.8 L853.2,681.3 L858.2,681.3 L858.2,679.2 L863.2,679.2 L863.2,678.7 L868.2,678.7 L868.2,676.7 L873.2,676.7 L873.2,676.9 L878.2,676.9 L878.2,676.3 L883.2,676.3 L883.2,675.2 L888.2,675.2 L888.2,675.7 L893.2,675.7 L893.2,675.6 L898.2,675.6 L898.2,675.2 L903.2,675.2 L903.2,676.2 L908.2,676.2 L908.2,676.4 L913.2,676.4 L913.2,676.5 L918.2,676.5 L918.2,676.1 L923.2,676.1 L923.2,677.1 L928.2,677.1 L928.2,677.7 L933.2,677.7 L933.2,677.7 L938.2,677.7 L938.2,676.9 L943.2,676.9 L943.2,677.4 L948.2,677.4 L948.2,676.8 L953.2,676.8 L953.2,677.2 L958.2,677.2 L958.2,676.9 L963.2,676.9 L963.2,677.2 L968.2,677.2 L968.2,676.8 L973.2,676.8 L973.2,677.5 L978.2,677.5 L978.2,677.9 L983.2,677.9 L983.2,678.3 L988.2,678.3 L988.2,679.5 L993.2,679.5 L993.2,675.7 L998.2,675.7 L998.2,672.2 L1003.2,672.2 L1003.2,672.4 L1008.2,672.4 L1008.2,672.2 L1013.2,672.2 L1013.2,672.4 L1018.2,672.4 L1018.2,671.8 L1023.2,671.8 L1023.2,671.8 L1028.2,671.8 L1028.2,671.8 L1033.2,671.8 L1033.2,672.1 L1038.2,672.1 L1038.2,672.3 L1043.2,672.3 L1043.2,672.9 L1048.2,672.9 L1048.2,672.9 L1053.2,672.9 L1053.2,672.4 L1058.2,672.4 L1058.2,672.6 L1063.2,672.6 L1063.2,673.1 L1068.2,673.1 L1068.2,673.3 L1073.2,673.3 L1073.2,672.3 L1078.2,672.3 L1078.2,672.1 L1083.2,672.1 L1083.2,670.8 L1088.2,670.8 L1088.2,671.7 L1093.2,671.7 L1093.2,673.0 L1098.2,673.0 L1098.2,673.0 L1103.2,673.0 L1103.2,674.4 L1108.2,674.4 L1108.2,675.8 L1113.2,675.8 L1113.2,675.9 L1118.2,675.9 L1118.2,675.3 L1123.2,675.3 L1123.2,675.7 L1128.2,675.7 L1128.2,676.2 L1133.2,676.2 L1133.2,676.8 L1138.2,676.8 L1138.2,674.6 L1143.2,674.6 L1143.2,673.9 L1148.2,673.9 L1148.2,675.0 L1153.2,675.0 L1153.2,676.4 L1158.2,676.4 L1158.2,678.0 L1163.2,678.0 L1163.2,679.3 L1168.2,679.3 L1168.2,679.9 L1173.2,679.9 L1173.2,679.4 L1178.2,679.4 L1178.2,680.2 L1183.2,680.2 L1183.2,680.3 L1188.2,680.3 L1188.2,680.0 L1193.2,680.0 L1193.2,680.0 L1198.2,680.0 L1198.2,680.1 L1203.2,680.1 L1203.2,680.5 L1208.2,680.5 L1208.2,682.2 L1213.2,682.2 L1213.2,683.6 L1218.2,683.6 L1218.2,684.4 L1223.2,684.4 L1223.2,684.6 L1228.2,684.6 L1228.2,683.9 L1233.2,683.9 L1233.2,683.8 L1238.2,683.8 L1238.2,684.1 L1243.2,684.1 L1243.2,684.5 L1248.2,684.5 L1248.2,684.3 L1253.2,684.3 L1253.2,683.5 L1258.2,683.5 L1258.2,683.7 L1263.2,683.7 L1263.2,683.7 L1268.2,683.7 L1268.2,684.7 L1273.2,684.7 L1273.2,684.8 L1278.2,684.8 L1278.2,683.8 L1283.2,683.8 L1283.2,684.7 L1288.2,684.7 L1288.2,685.0 L1293.2,685.0 L1293.2,685.0 L1298.2,685.0 L1298.2,684.3 L1303.2,684.3 L1303.2,685.1 L1308.2,685.1 L1308.2,684.3 L1313.2,684.3 L1313.2,684.1 L1318.2,684.1 L1318.2,684.3 L1323.2,684.3 L1323.2,684.3 L1328.2,684.3 L1328.2,685.5 L1333.2,685.5 L1333.2,685.0 L1338.2,685.0 L1338.2,685.4 L1343.2,685.4 L1343.2,684.9 L1348.2,684.9 L1348.2,685.3 L1353.2,685.3 L1353.2,685.9 L1358.2,685.9 L1358.2,685.6 L1363.2,685.6 L1363.2,686.8 L1368.2,686.8 L1368.2,686.0 L1373.2,686.0 L1373.2,687.4 L1378.2,687.4 L1378.2,686.9 L1383.2,686.9 L1383.2,687.8 L1388.2,687.8 L1388.2,687.9" fill="none" stroke="#000" stroke-width="2.2" stroke-dasharray="2.2,3.2"/>
</g>
<g clip-path="url(#c02)">
<path d="M147.2,808.2 L148.8,808.2 L148.8,808.2 L150.4,808.2 L150.4,810.1 L152.0,810.1 L152.0,811.4 L153.6,811.4 L153.6,811.3 L155.2,811.3 L155.2,809.6 L156.8,809.6 L156.8,814.5 L158.4,814.5 L158.4,821.4 L160.0,821.4 L160.0,831.6 L161.6,831.6 L161.6,833.4 L163.2,833.4 L163.2,834.7 L164.8,834.7 L164.8,834.7 L166.4,834.7 L166.4,833.7 L168.0,833.7 L168.0,836.7 L169.6,836.7 L169.6,837.6 L171.2,837.6 L171.2,837.3 L172.8,837.3 L172.8,835.2 L174.4,835.2 L174.4,835.6 L176.0,835.6 L176.0,835.7 L177.6,835.7 L177.6,836.6 L179.2,836.6 L179.2,836.5 L180.8,836.5 L180.8,836.2 L182.4,836.2 L182.4,833.3 L184.0,833.3 L184.0,837.4 L185.6,837.4 L185.6,834.6 L187.2,834.6 L187.2,826.2 L188.8,826.2 L188.8,837.2 L190.4,837.2 L190.4,836.1 L192.0,836.1 L192.0,838.4 L193.6,838.4 L193.6,838.3 L195.2,838.3 L195.2,837.2 L196.8,837.2 L196.8,832.9 L198.4,832.9 L198.4,831.8 L200.0,831.8 L200.0,836.0 L201.6,836.0 L201.6,837.0 L203.2,837.0 L203.2,839.0 L204.8,839.0 L204.8,839.6 L206.4,839.6 L206.4,840.3 L208.0,840.3 L208.0,843.9 L209.6,843.9 L209.6,845.1 L211.2,845.1 L211.2,844.1 L212.8,844.1 L212.8,845.7 L214.4,845.7 L214.4,836.7 L216.0,836.7 L216.0,842.5 L217.6,842.5 L217.6,843.0 L219.2,843.0 L219.2,840.1 L220.8,840.1 L220.8,842.3 L222.4,842.3 L222.4,842.8 L224.0,842.8 L224.0,845.6 L225.6,845.6 L225.6,848.4 L227.2,848.4 L227.2,852.7 L228.8,852.7 L228.8,852.4 L230.4,852.4 L230.4,854.0 L232.0,854.0 L232.0,852.3 L233.6,852.3 L233.6,853.1 L235.2,853.1 L235.2,853.3 L236.8,853.3 L236.8,850.8 L238.4,850.8 L238.4,852.3 L240.0,852.3 L240.0,848.4 L241.6,848.4 L241.6,849.8 L243.2,849.8 L243.2,846.4 L244.8,846.4 L244.8,849.1 L246.4,849.1 L246.4,847.4 L248.0,847.4 L248.0,844.5 L249.6,844.5 L249.6,848.2 L251.2,848.2 L251.2,845.4 L252.8,845.4 L252.8,846.9 L254.4,846.9 L254.4,842.2 L256.0,842.2 L256.0,843.3 L257.6,843.3 L257.6,842.7 L259.2,842.7 L259.2,845.1 L260.8,845.1 L260.8,844.5 L262.4,844.5 L262.4,842.1 L264.0,842.1 L264.0,839.1 L265.6,839.1 L265.6,839.6 L267.2,839.6 L267.2,841.9 L268.8,841.9 L268.8,843.0 L270.4,843.0 L270.4,839.5 L272.0,839.5 L272.0,836.4 L273.6,836.4 L273.6,840.1 L275.2,840.1 L275.2,841.1 L276.8,841.1 L276.8,843.6 L278.4,843.6 L278.4,832.2 L280.0,832.2 L280.0,842.1 L281.6,842.1 L281.6,842.2 L283.2,842.2 L283.2,843.0 L284.8,843.0 L284.8,834.4 L286.4,834.4 L286.4,840.6 L288.0,840.6 L288.0,840.2 L289.6,840.2 L289.6,839.2 L291.2,839.2 L291.2,840.6 L292.8,840.6 L292.8,841.5 L294.4,841.5 L294.4,842.6 L296.0,842.6 L296.0,838.8 L297.6,838.8 L297.6,841.7 L299.2,841.7 L299.2,836.0 L300.8,836.0 L300.8,839.3 L302.4,839.3 L302.4,842.5 L304.0,842.5 L304.0,840.6 L305.6,840.6 L305.6,838.4 L307.2,838.4 L307.2,838.1 L308.8,838.1 L308.8,841.1 L310.4,841.1 L310.4,837.6 L312.0,837.6 L312.0,841.2 L313.6,841.2 L313.6,849.3 L315.2,849.3 L315.2,856.3 L316.8,856.3 L316.8,856.1 L318.4,856.1 L318.4,851.8 L320.0,851.8 L320.0,848.0 L321.6,848.0 L321.6,845.4 L323.2,845.4 L323.2,835.2 L324.8,835.2 L324.8,836.8 L326.4,836.8 L326.4,846.8 L328.0,846.8 L328.0,848.7 L329.6,848.7 L329.6,856.0 L331.2,856.0 L331.2,859.7 L332.8,859.7 L332.8,858.6 L334.4,858.6 L334.4,858.0 L336.0,858.0 L336.0,857.2 L337.6,857.2 L337.6,857.4 L339.2,857.4 L339.2,855.5 L340.8,855.5 L340.8,858.9 L342.4,858.9 L342.4,858.1 L344.0,858.1 L344.0,855.1 L345.6,855.1 L345.6,857.3 L347.2,857.3 L347.2,854.5 L348.8,854.5 L348.8,847.1 L350.4,847.1 L350.4,856.9 L352.0,856.9 L352.0,855.7 L353.6,855.7 L353.6,857.8 L355.2,857.8 L355.2,856.1 L356.8,856.1 L356.8,845.2 L358.4,845.2 L358.4,837.9 L360.0,837.9 L360.0,834.7 L361.6,834.7 L361.6,832.1 L363.2,832.1 L363.2,830.5 L364.8,830.5 L364.8,827.8 L366.4,827.8 L366.4,824.9 L368.0,824.9 L368.0,827.1 L369.6,827.1 L369.6,827.0 L371.2,827.0 L371.2,829.7 L372.8,829.7 L372.8,830.7 L374.4,830.7 L374.4,833.1 L376.0,833.1 L376.0,838.5 L377.6,838.5 L377.6,834.8 L379.2,834.8 L379.2,836.6 L380.8,836.6 L380.8,837.4 L382.4,837.4 L382.4,829.9 L384.0,829.9 L384.0,834.9 L385.6,834.9 L385.6,833.4 L387.2,833.4 L387.2,831.3 L388.8,831.3 L388.8,828.3 L390.4,828.3 L390.4,828.5 L392.0,828.5 L392.0,825.3 L393.6,825.3 L393.6,827.1 L395.2,827.1 L395.2,823.1 L396.8,823.1 L396.8,819.8 L398.4,819.8 L398.4,822.6 L400.0,822.6 L400.0,823.1 L401.6,823.1 L401.6,823.3 L403.2,823.3 L403.2,826.9 L404.8,826.9 L404.8,828.4 L406.4,828.4 L406.4,828.3 L408.0,828.3 L408.0,827.2 L409.6,827.2 L409.6,823.5 L411.2,823.5 L411.2,823.4 L412.8,823.4 L412.8,818.2 L414.4,818.2 L414.4,819.0 L416.0,819.0 L416.0,817.1 L417.6,817.1 L417.6,818.3 L419.2,818.3 L419.2,815.2 L420.8,815.2 L420.8,814.3 L422.4,814.3 L422.4,818.0 L424.0,818.0 L424.0,818.2 L425.6,818.2 L425.6,819.8 L427.2,819.8 L427.2,819.8 L428.8,819.8 L428.8,818.0 L430.4,818.0 L430.4,821.4 L432.0,821.4 L432.0,819.3 L433.6,819.3 L433.6,819.1 L435.2,819.1 L435.2,823.1 L436.8,823.1 L436.8,822.4 L438.4,822.4 L438.4,814.0 L440.0,814.0 L440.0,824.5 L441.6,824.5 L441.6,826.3 L443.2,826.3 L443.2,828.2 L444.8,828.2 L444.8,828.2 L446.4,828.2 L446.4,825.3 L448.0,825.3 L448.0,827.4 L449.6,827.4 L449.6,829.5 L451.2,829.5 L451.2,837.7 L452.8,837.7 L452.8,856.9 L454.4,856.9 L454.4,859.4 L456.0,859.4 L456.0,851.5 L457.6,851.5 L457.6,854.7 L459.2,854.7 L459.2,856.9 L460.8,856.9 L460.8,853.2 L462.4,853.2 L462.4,854.7 L464.0,854.7 L464.0,853.2 L465.6,853.2 L465.6,854.5 L467.2,854.5 L467.2,850.1 L468.8,850.1 L468.8,852.0 L470.4,852.0 L470.4,870.8 L472.0,870.8 L472.0,876.8 L473.6,876.8 L473.6,873.6 L475.2,873.6 L475.2,875.2 L476.8,875.2 L476.8,868.6 L478.4,868.6 L478.4,867.3 L480.0,867.3 L480.0,863.5 L481.6,863.5 L481.6,862.5 L483.2,862.5 L483.2,857.0 L484.8,857.0 L484.8,858.1 L486.4,858.1 L486.4,856.0 L488.0,856.0 L488.0,851.2 L489.6,851.2 L489.6,851.8 L491.2,851.8 L491.2,847.6 L492.8,847.6 L492.8,847.0 L494.4,847.0 L494.4,842.3 L496.0,842.3 L496.0,837.6 L497.6,837.6 L497.6,835.4 L499.2,835.4 L499.2,836.9 L500.8,836.9 L500.8,836.7 L502.4,836.7 L502.4,840.7 L504.0,840.7 L504.0,836.1 L505.6,836.1 L505.6,839.6 L507.2,839.6 L507.2,841.7 L508.8,841.7 L508.8,843.2 L510.4,843.2 L510.4,841.4 L512.0,841.4 L512.0,836.6 L513.6,836.6 L513.6,842.9 L515.2,842.9 L515.2,844.3 L516.8,844.3 L516.8,845.6 L518.4,845.6 L518.4,852.0 L520.0,852.0 L520.0,856.2 L521.6,856.2 L521.6,863.1 L523.2,863.1 L523.2,866.3 L524.8,866.3 L524.8,862.7 L526.4,862.7 L526.4,861.7 L528.0,861.7 L528.0,865.6 L529.6,865.6 L529.6,864.6 L531.2,864.6 L531.2,861.3 L532.8,861.3 L532.8,862.3 L534.4,862.3 L534.4,858.1 L536.0,858.1 L536.0,859.2 L537.6,859.2 L537.6,857.4 L539.2,857.4 L539.2,862.1 L540.8,862.1 L540.8,854.6 L542.4,854.6 L542.4,869.9 L544.0,869.9 L544.0,869.7 L545.6,869.7 L545.6,865.4 L547.2,865.4 L547.2,865.6 L548.8,865.6 L548.8,864.2 L550.4,864.2 L550.4,861.9 L552.0,861.9 L552.0,858.5 L553.6,858.5 L553.6,856.0 L555.2,856.0 L555.2,853.6 L556.8,853.6 L556.8,851.5 L558.4,851.5 L558.4,849.9 L560.0,849.9 L560.0,849.0 L561.6,849.0 L561.6,845.6 L563.2,845.6 L563.2,848.4 L564.8,848.4 L564.8,847.6 L566.4,847.6 L566.4,847.6 L568.0,847.6 L568.0,846.1 L569.6,846.1 L569.6,847.6 L571.2,847.6 L571.2,844.9 L572.8,844.9 L572.8,846.7 L574.4,846.7 L574.4,843.7 L576.0,843.7 L576.0,845.4 L577.6,845.4 L577.6,844.8 L579.2,844.8 L579.2,847.4 L580.8,847.4 L580.8,845.5 L582.4,845.5 L582.4,843.3 L584.0,843.3 L584.0,844.2 L585.6,844.2 L585.6,846.8 L587.2,846.8 L587.2,843.9 L588.8,843.9 L588.8,842.6 L590.4,842.6 L590.4,845.3 L592.0,845.3 L592.0,841.8 L593.6,841.8 L593.6,840.5 L595.2,840.5 L595.2,853.2 L596.8,853.2 L596.8,863.9 L598.4,863.9 L598.4,874.8 L600.0,874.8 L600.0,874.1 L601.6,874.1 L601.6,875.7 L603.2,875.7 L603.2,874.5 L604.8,874.5 L604.8,871.7 L606.4,871.7 L606.4,874.6 L608.0,874.6 L608.0,875.4 L609.6,875.4 L609.6,866.8 L611.2,866.8 L611.2,877.0 L612.8,877.0 L612.8,878.8 L614.4,878.8 L614.4,879.4 L616.0,879.4 L616.0,870.4 L617.6,870.4 L617.6,879.8 L619.2,879.8 L619.2,883.3 L620.8,883.3 L620.8,882.4 L622.4,882.4 L622.4,896.2 L624.0,896.2 L624.0,906.3 L625.6,906.3 L625.6,907.0 L627.2,907.0 L627.2,909.5 L628.8,909.5 L628.8,905.4 L630.4,905.4 L630.4,909.2 L632.0,909.2 L632.0,905.3 L633.6,905.3 L633.6,909.9 L635.2,909.9 L635.2,909.9 L636.8,909.9 L636.8,900.3 L638.4,900.3 L638.4,906.6 L640.0,906.6 L640.0,911.1 L641.6,911.1 L641.6,909.9 L643.2,909.9 L643.2,906.7 L644.8,906.7 L644.8,909.9 L646.4,909.9 L646.4,906.5 L648.0,906.5 L648.0,907.4 L649.6,907.4 L649.6,908.3 L651.2,908.3 L651.2,905.7 L652.8,905.7 L652.8,902.8 L654.4,902.8 L654.4,902.7 L656.0,902.7 L656.0,905.2 L657.6,905.2 L657.6,903.1 L659.2,903.1 L659.2,901.7 L660.8,901.7 L660.8,902.5 L662.4,902.5 L662.4,901.1 L664.0,901.1 L664.0,900.0 L665.6,900.0 L665.6,902.2 L667.2,902.2 L667.2,902.0 L668.8,902.0 L668.8,898.5 L670.4,898.5 L670.4,899.3 L672.0,899.3 L672.0,899.4 L673.6,899.4 L673.6,898.8 L675.2,898.8 L675.2,897.7 L676.8,897.7 L676.8,899.6 L678.4,899.6 L678.4,901.2 L680.0,901.2 L680.0,897.3 L681.6,897.3 L681.6,899.3 L683.2,899.3 L683.2,897.8 L684.8,897.8 L684.8,896.9 L686.4,896.9 L686.4,900.4 L688.0,900.4 L688.0,901.1 L689.6,901.1 L689.6,900.5 L691.2,900.5 L691.2,899.6 L692.8,899.6 L692.8,899.3 L694.4,899.3 L694.4,901.6 L696.0,901.6 L696.0,904.6 L697.6,904.6 L697.6,903.6 L699.2,903.6 L699.2,903.9 L700.8,903.9 L700.8,903.8 L702.4,903.8 L702.4,908.4 L704.0,908.4 L704.0,908.3 L705.6,908.3 L705.6,907.4 L707.2,907.4 L707.2,902.9 L708.8,902.9 L708.8,889.3 L710.4,889.3 L710.4,880.0 L712.0,880.0 L712.0,867.8 L713.6,867.8 L713.6,876.5 L715.2,876.5 L715.2,875.5 L716.8,875.5 L716.8,871.1 L716.8,962.2 L716.8,963.4 L715.2,963.4 L715.2,963.2 L713.6,963.2 L713.6,968.5 L712.0,968.5 L712.0,966.3 L710.4,966.3 L710.4,979.7 L708.8,979.7 L708.8,1000.2 L707.2,1000.2 L707.2,1000.0 L705.6,1000.0 L705.6,1000.8 L704.0,1000.8 L704.0,995.8 L702.4,995.8 L702.4,993.3 L700.8,993.3 L700.8,988.6 L699.2,988.6 L699.2,987.8 L697.6,987.8 L697.6,986.6 L696.0,986.6 L696.0,984.4 L694.4,984.4 L694.4,984.0 L692.8,984.0 L692.8,990.1 L691.2,990.1 L691.2,1007.3 L689.6,1007.3 L689.6,1005.8 L688.0,1005.8 L688.0,1006.4 L686.4,1006.4 L686.4,1005.7 L684.8,1005.7 L684.8,1006.6 L683.2,1006.6 L683.2,1014.2 L681.6,1014.2 L681.6,1007.5 L680.0,1007.5 L680.0,1008.9 L678.4,1008.9 L678.4,1014.5 L676.8,1014.5 L676.8,1010.0 L675.2,1010.0 L675.2,1009.2 L673.6,1009.2 L673.6,1010.8 L672.0,1010.8 L672.0,1006.7 L670.4,1006.7 L670.4,1004.5 L668.8,1004.5 L668.8,1002.7 L667.2,1002.7 L667.2,1001.1 L665.6,1001.1 L665.6,1000.2 L664.0,1000.2 L664.0,997.4 L662.4,997.4 L662.4,994.2 L660.8,994.2 L660.8,992.2 L659.2,992.2 L659.2,989.9 L657.6,989.9 L657.6,991.7 L656.0,991.7 L656.0,988.9 L654.4,988.9 L654.4,994.7 L652.8,994.7 L652.8,989.1 L651.2,989.1 L651.2,988.9 L649.6,988.9 L649.6,994.1 L648.0,994.1 L648.0,993.0 L646.4,993.0 L646.4,993.7 L644.8,993.7 L644.8,991.5 L643.2,991.5 L643.2,996.9 L641.6,996.9 L641.6,994.3 L640.0,994.3 L640.0,997.8 L638.4,997.8 L638.4,1000.6 L636.8,1000.6 L636.8,996.9 L635.2,996.9 L635.2,1000.3 L633.6,1000.3 L633.6,999.0 L632.0,999.0 L632.0,996.2 L630.4,996.2 L630.4,994.9 L628.8,994.9 L628.8,993.0 L627.2,993.0 L627.2,994.1 L625.6,994.1 L625.6,990.8 L624.0,990.8 L624.0,987.3 L622.4,987.3 L622.4,983.5 L620.8,983.5 L620.8,985.6 L619.2,985.6 L619.2,980.5 L617.6,980.5 L617.6,980.5 L616.0,980.5 L616.0,978.7 L614.4,978.7 L614.4,977.3 L612.8,977.3 L612.8,973.3 L611.2,973.3 L611.2,973.0 L609.6,973.0 L609.6,972.4 L608.0,972.4 L608.0,968.6 L606.4,968.6 L606.4,964.7 L604.8,964.7 L604.8,965.8 L603.2,965.8 L603.2,964.8 L601.6,964.8 L601.6,961.1 L600.0,961.1 L600.0,958.6 L598.4,958.6 L598.4,955.8 L596.8,955.8 L596.8,952.0 L595.2,952.0 L595.2,949.2 L593.6,949.2 L593.6,942.6 L592.0,942.6 L592.0,941.0 L590.4,941.0 L590.4,942.6 L588.8,942.6 L588.8,941.9 L587.2,941.9 L587.2,939.5 L585.6,939.5 L585.6,941.4 L584.0,941.4 L584.0,938.8 L582.4,938.8 L582.4,941.2 L580.8,941.2 L580.8,942.1 L579.2,942.1 L579.2,939.0 L577.6,939.0 L577.6,938.4 L576.0,938.4 L576.0,942.3 L574.4,942.3 L574.4,941.6 L572.8,941.6 L572.8,942.1 L571.2,942.1 L571.2,941.7 L569.6,941.7 L569.6,942.5 L568.0,942.5 L568.0,941.5 L566.4,941.5 L566.4,941.7 L564.8,941.7 L564.8,939.1 L563.2,939.1 L563.2,938.5 L561.6,938.5 L561.6,939.0 L560.0,939.0 L560.0,939.7 L558.4,939.7 L558.4,942.2 L556.8,942.2 L556.8,941.3 L555.2,941.3 L555.2,943.7 L553.6,943.7 L553.6,948.7 L552.0,948.7 L552.0,943.6 L550.4,943.6 L550.4,940.5 L548.8,940.5 L548.8,942.1 L547.2,942.1 L547.2,943.8 L545.6,943.8 L545.6,950.1 L544.0,950.1 L544.0,943.8 L542.4,943.8 L542.4,941.8 L540.8,941.8 L540.8,941.4 L539.2,941.4 L539.2,939.5 L537.6,939.5 L537.6,937.7 L536.0,937.7 L536.0,940.1 L534.4,940.1 L534.4,937.2 L532.8,937.2 L532.8,936.7 L531.2,936.7 L531.2,936.5 L529.6,936.5 L529.6,940.3 L528.0,940.3 L528.0,932.3 L526.4,932.3 L526.4,936.8 L524.8,936.8 L524.8,929.9 L523.2,929.9 L523.2,931.3 L521.6,931.3 L521.6,933.0 L520.0,933.0 L520.0,929.5 L518.4,929.5 L518.4,928.3 L516.8,928.3 L516.8,928.6 L515.2,928.6 L515.2,928.8 L513.6,928.8 L513.6,927.5 L512.0,927.5 L512.0,929.4 L510.4,929.4 L510.4,928.7 L508.8,928.7 L508.8,924.8 L507.2,924.8 L507.2,927.6 L505.6,927.6 L505.6,926.2 L504.0,926.2 L504.0,924.1 L502.4,924.1 L502.4,926.7 L500.8,926.7 L500.8,924.9 L499.2,924.9 L499.2,923.9 L497.6,923.9 L497.6,934.4 L496.0,934.4 L496.0,955.8 L494.4,955.8 L494.4,957.9 L492.8,957.9 L492.8,955.1 L491.2,955.1 L491.2,954.3 L489.6,954.3 L489.6,953.6 L488.0,953.6 L488.0,957.8 L486.4,957.8 L486.4,956.1 L484.8,956.1 L484.8,957.1 L483.2,957.1 L483.2,953.8 L481.6,953.8 L481.6,956.5 L480.0,956.5 L480.0,956.8 L478.4,956.8 L478.4,957.7 L476.8,957.7 L476.8,960.4 L475.2,960.4 L475.2,965.4 L473.6,965.4 L473.6,965.7 L472.0,965.7 L472.0,962.4 L470.4,962.4 L470.4,952.8 L468.8,952.8 L468.8,960.8 L467.2,960.8 L467.2,951.1 L465.6,951.1 L465.6,951.8 L464.0,951.8 L464.0,948.8 L462.4,948.8 L462.4,950.3 L460.8,950.3 L460.8,953.1 L459.2,953.1 L459.2,947.2 L457.6,947.2 L457.6,949.0 L456.0,949.0 L456.0,945.7 L454.4,945.7 L454.4,944.2 L452.8,944.2 L452.8,935.6 L451.2,935.6 L451.2,928.2 L449.6,928.2 L449.6,924.1 L448.0,924.1 L448.0,922.0 L446.4,922.0 L446.4,925.6 L444.8,925.6 L444.8,920.1 L443.2,920.1 L443.2,919.4 L441.6,919.4 L441.6,921.9 L440.0,921.9 L440.0,919.0 L438.4,919.0 L438.4,917.9 L436.8,917.9 L436.8,917.4 L435.2,917.4 L435.2,925.2 L433.6,925.2 L433.6,915.3 L432.0,915.3 L432.0,911.7 L430.4,911.7 L430.4,911.4 L428.8,911.4 L428.8,919.1 L427.2,919.1 L427.2,909.8 L425.6,909.8 L425.6,911.8 L424.0,911.8 L424.0,907.7 L422.4,907.7 L422.4,912.2 L420.8,912.2 L420.8,912.6 L419.2,912.6 L419.2,915.4 L417.6,915.4 L417.6,914.9 L416.0,914.9 L416.0,916.9 L414.4,916.9 L414.4,916.5 L412.8,916.5 L412.8,920.2 L411.2,920.2 L411.2,920.2 L409.6,920.2 L409.6,922.4 L408.0,922.4 L408.0,922.4 L406.4,922.4 L406.4,924.8 L404.8,924.8 L404.8,924.4 L403.2,924.4 L403.2,926.0 L401.6,926.0 L401.6,923.6 L400.0,923.6 L400.0,924.9 L398.4,924.9 L398.4,922.9 L396.8,922.9 L396.8,926.5 L395.2,926.5 L395.2,930.0 L393.6,930.0 L393.6,923.7 L392.0,923.7 L392.0,924.2 L390.4,924.2 L390.4,931.5 L388.8,931.5 L388.8,928.2 L387.2,928.2 L387.2,925.8 L385.6,925.8 L385.6,924.3 L384.0,924.3 L384.0,921.1 L382.4,921.1 L382.4,917.2 L380.8,917.2 L380.8,912.2 L379.2,912.2 L379.2,917.3 L377.6,917.3 L377.6,910.4 L376.0,910.4 L376.0,909.4 L374.4,909.4 L374.4,908.3 L372.8,908.3 L372.8,907.3 L371.2,907.3 L371.2,909.6 L369.6,909.6 L369.6,910.3 L368.0,910.3 L368.0,907.3 L366.4,907.3 L366.4,907.9 L364.8,907.9 L364.8,910.1 L363.2,910.1 L363.2,910.9 L361.6,910.9 L361.6,909.7 L360.0,909.7 L360.0,920.8 L358.4,920.8 L358.4,936.5 L356.8,936.5 L356.8,936.0 L355.2,936.0 L355.2,934.4 L353.6,934.4 L353.6,938.3 L352.0,938.3 L352.0,937.4 L350.4,937.4 L350.4,938.5 L348.8,938.5 L348.8,935.6 L347.2,935.6 L347.2,946.7 L345.6,946.7 L345.6,935.3 L344.0,935.3 L344.0,934.5 L342.4,934.5 L342.4,939.3 L340.8,939.3 L340.8,933.4 L339.2,933.4 L339.2,930.0 L337.6,930.0 L337.6,928.8 L336.0,928.8 L336.0,926.6 L334.4,926.6 L334.4,928.3 L332.8,928.3 L332.8,924.7 L331.2,924.7 L331.2,925.3 L329.6,925.3 L329.6,930.0 L328.0,930.0 L328.0,922.9 L326.4,922.9 L326.4,920.3 L324.8,920.3 L324.8,920.9 L323.2,920.9 L323.2,926.0 L321.6,926.0 L321.6,930.7 L320.0,930.7 L320.0,937.8 L318.4,937.8 L318.4,941.7 L316.8,941.7 L316.8,946.4 L315.2,946.4 L315.2,954.1 L313.6,954.1 L313.6,950.5 L312.0,950.5 L312.0,951.9 L310.4,951.9 L310.4,950.2 L308.8,950.2 L308.8,954.1 L307.2,954.1 L307.2,951.8 L305.6,951.8 L305.6,951.1 L304.0,951.1 L304.0,955.5 L302.4,955.5 L302.4,953.5 L300.8,953.5 L300.8,956.4 L299.2,956.4 L299.2,952.7 L297.6,952.7 L297.6,954.2 L296.0,954.2 L296.0,958.6 L294.4,958.6 L294.4,953.0 L292.8,953.0 L292.8,952.0 L291.2,952.0 L291.2,951.6 L289.6,951.6 L289.6,954.7 L288.0,954.7 L288.0,955.2 L286.4,955.2 L286.4,956.5 L284.8,956.5 L284.8,954.7 L283.2,954.7 L283.2,955.5 L281.6,955.5 L281.6,956.8 L280.0,956.8 L280.0,952.9 L278.4,952.9 L278.4,954.8 L276.8,954.8 L276.8,956.3 L275.2,956.3 L275.2,964.9 L273.6,964.9 L273.6,957.7 L272.0,957.7 L272.0,954.2 L270.4,954.2 L270.4,954.9 L268.8,954.9 L268.8,963.5 L267.2,963.5 L267.2,958.1 L265.6,958.1 L265.6,961.1 L264.0,961.1 L264.0,956.1 L262.4,956.1 L262.4,956.4 L260.8,956.4 L260.8,957.7 L259.2,957.7 L259.2,955.6 L257.6,955.6 L257.6,967.7 L256.0,967.7 L256.0,955.1 L254.4,955.1 L254.4,961.0 L252.8,961.0 L252.8,959.4 L251.2,959.4 L251.2,956.5 L249.6,956.5 L249.6,959.6 L248.0,959.6 L248.0,956.9 L246.4,956.9 L246.4,957.8 L244.8,957.8 L244.8,962.2 L243.2,962.2 L243.2,958.8 L241.6,958.8 L241.6,961.7 L240.0,961.7 L240.0,958.2 L238.4,958.2 L238.4,959.2 L236.8,959.2 L236.8,957.8 L235.2,957.8 L235.2,970.2 L233.6,970.2 L233.6,960.9 L232.0,960.9 L232.0,959.4 L230.4,959.4 L230.4,955.5 L228.8,955.5 L228.8,959.1 L227.2,959.1 L227.2,967.8 L225.6,967.8 L225.6,956.1 L224.0,956.1 L224.0,957.3 L222.4,957.3 L222.4,954.0 L220.8,954.0 L220.8,954.2 L219.2,954.2 L219.2,952.1 L217.6,952.1 L217.6,948.0 L216.0,948.0 L216.0,943.0 L214.4,943.0 L214.4,944.1 L212.8,944.1 L212.8,938.2 L211.2,938.2 L211.2,937.6 L209.6,937.6 L209.6,937.5 L208.0,937.5 L208.0,934.6 L206.4,934.6 L206.4,938.3 L204.8,938.3 L204.8,934.1 L203.2,934.1 L203.2,935.8 L201.6,935.8 L201.6,936.0 L200.0,936.0 L200.0,943.6 L198.4,943.6 L198.4,932.6 L196.8,932.6 L196.8,934.6 L195.2,934.6 L195.2,935.8 L193.6,935.8 L193.6,941.4 L192.0,941.4 L192.0,931.3 L190.4,931.3 L190.4,932.4 L188.8,932.4 L188.8,932.9 L187.2,932.9 L187.2,932.4 L185.6,932.4 L185.6,935.6 L184.0,935.6 L184.0,933.0 L182.4,933.0 L182.4,935.4 L180.8,935.4 L180.8,931.5 L179.2,931.5 L179.2,936.0 L177.6,936.0 L177.6,935.5 L176.0,935.5 L176.0,934.7 L174.4,934.7 L174.4,929.9 L172.8,929.9 L172.8,930.6 L171.2,930.6 L171.2,932.1 L169.6,932.1 L169.6,926.8 L168.0,926.8 L168.0,926.6 L166.4,926.6 L166.4,925.6 L164.8,925.6 L164.8,924.8 L163.2,924.8 L163.2,925.5 L161.6,925.5 L161.6,927.4 L160.0,927.4 L160.0,925.2 L158.4,925.2 L158.4,922.1 L156.8,922.1 L156.8,929.2 L155.2,929.2 L155.2,923.1 L153.6,923.1 L153.6,920.5 L152.0,920.5 L152.0,917.2 L150.4,917.2 L150.4,915.3 L148.8,915.3 L148.8,915.9 L147.2,915.9 Z" fill="rgba(0,0,255,0.1)" stroke="none"/>
<path d="M147.2,859.2 L151.2,859.2 L151.2,863.1 L155.2,863.1 L155.2,866.7 L159.2,866.7 L159.2,873.1 L163.2,873.1 L163.2,875.7 L167.2,875.7 L167.2,878.3 L171.2,878.3 L171.2,880.5 L175.2,880.5 L175.2,880.6 L179.2,880.6 L179.2,875.7 L183.2,875.7 L183.2,874.9 L187.2,874.9 L187.2,879.7 L191.2,879.7 L191.2,881.8 L195.2,881.8 L195.2,883.9 L199.2,883.9 L199.2,882.2 L203.2,882.2 L203.2,883.0 L207.2,883.0 L207.2,884.9 L211.2,884.9 L211.2,887.4 L215.2,887.4 L215.2,891.3 L219.2,891.3 L219.2,889.5 L223.2,889.5 L223.2,901.5 L227.2,901.5 L227.2,904.0 L231.2,904.0 L231.2,905.8 L235.2,905.8 L235.2,904.9 L239.2,904.9 L239.2,904.6 L243.2,904.6 L243.2,901.7 L247.2,901.7 L247.2,900.7 L251.2,900.7 L251.2,899.0 L255.2,899.0 L255.2,899.4 L259.2,899.4 L259.2,897.9 L263.2,897.9 L263.2,899.4 L267.2,899.4 L267.2,899.5 L271.2,899.5 L271.2,897.6 L275.2,897.6 L275.2,895.6 L279.2,895.6 L279.2,895.3 L283.2,895.3 L283.2,894.5 L287.2,894.5 L287.2,896.6 L291.2,896.6 L291.2,899.9 L295.2,899.9 L295.2,901.0 L299.2,901.0 L299.2,900.7 L303.2,900.7 L303.2,899.2 L307.2,899.2 L307.2,896.3 L311.2,896.3 L311.2,891.1 L315.2,891.1 L315.2,900.5 L319.2,900.5 L319.2,888.8 L323.2,888.8 L323.2,878.1 L327.2,878.1 L327.2,895.2 L331.2,895.2 L331.2,898.3 L335.2,898.3 L335.2,897.6 L339.2,897.6 L339.2,897.6 L343.2,897.6 L343.2,896.5 L347.2,896.5 L347.2,896.3 L351.2,896.3 L351.2,897.7 L355.2,897.7 L355.2,888.4 L359.2,888.4 L359.2,872.9 L363.2,872.9 L363.2,868.9 L367.2,868.9 L367.2,867.7 L371.2,867.7 L371.2,863.2 L375.2,863.2 L375.2,865.3 L379.2,865.3 L379.2,867.0 L383.2,867.0 L383.2,875.5 L387.2,875.5 L387.2,880.0 L391.2,880.0 L391.2,881.5 L395.2,881.5 L395.2,868.1 L399.2,868.1 L399.2,863.2 L403.2,863.2 L403.2,863.3 L407.2,863.3 L407.2,872.8 L411.2,872.8 L411.2,869.5 L415.2,869.5 L415.2,865.2 L419.2,865.2 L419.2,860.3 L423.2,860.3 L423.2,859.6 L427.2,859.6 L427.2,864.1 L431.2,864.1 L431.2,869.5 L435.2,869.5 L435.2,875.4 L439.2,875.4 L439.2,875.6 L443.2,875.6 L443.2,875.6 L447.2,875.6 L447.2,875.3 L451.2,875.3 L451.2,873.5 L455.2,873.5 L455.2,902.2 L459.2,902.2 L459.2,904.5 L463.2,904.5 L463.2,903.0 L467.2,903.0 L467.2,904.2 L471.2,904.2 L471.2,921.0 L475.2,921.0 L475.2,924.9 L479.2,924.9 L479.2,909.0 L483.2,909.0 L483.2,909.1 L487.2,909.1 L487.2,907.6 L491.2,907.6 L491.2,908.6 L495.2,908.6 L495.2,891.6 L499.2,891.6 L499.2,882.2 L503.2,882.2 L503.2,883.1 L507.2,883.1 L507.2,885.3 L511.2,885.3 L511.2,886.1 L515.2,886.1 L515.2,891.9 L519.2,891.9 L519.2,895.5 L523.2,895.5 L523.2,894.6 L527.2,894.6 L527.2,894.8 L531.2,894.8 L531.2,893.2 L535.2,893.2 L535.2,894.3 L539.2,894.3 L539.2,906.4 L543.2,906.4 L543.2,909.3 L547.2,909.3 L547.2,908.2 L551.2,908.2 L551.2,906.7 L555.2,906.7 L555.2,905.4 L559.2,905.4 L559.2,904.8 L563.2,904.8 L563.2,889.8 L567.2,889.8 L567.2,892.0 L571.2,892.0 L571.2,892.3 L575.2,892.3 L575.2,894.0 L579.2,894.0 L579.2,893.7 L583.2,893.7 L583.2,894.2 L587.2,894.2 L587.2,893.9 L591.2,893.9 L591.2,892.6 L595.2,892.6 L595.2,900.4 L599.2,900.4 L599.2,915.5 L603.2,915.5 L603.2,921.1 L607.2,921.1 L607.2,923.5 L611.2,923.5 L611.2,927.1 L615.2,927.1 L615.2,926.5 L619.2,926.5 L619.2,935.7 L623.2,935.7 L623.2,946.4 L627.2,946.4 L627.2,951.8 L631.2,951.8 L631.2,952.5 L635.2,952.5 L635.2,954.2 L639.2,954.2 L639.2,955.6 L643.2,955.6 L643.2,955.5 L647.2,955.5 L647.2,955.5 L651.2,955.5 L651.2,950.9 L655.2,950.9 L655.2,945.2 L659.2,945.2 L659.2,945.0 L663.2,945.0 L663.2,945.8 L667.2,945.8 L667.2,948.9 L671.2,948.9 L671.2,956.7 L675.2,956.7 L675.2,959.2 L679.2,959.2 L679.2,958.7 L683.2,958.7 L683.2,959.2 L687.2,959.2 L687.2,958.8 L691.2,958.8 L691.2,941.7 L695.2,941.7 L695.2,950.2 L699.2,950.2 L699.2,952.0 L703.2,952.0 L703.2,953.9 L707.2,953.9 L707.2,936.6 L711.2,936.6 L711.2,923.5 L715.2,923.5 L715.2,922.1" fill="none" stroke="#000" stroke-width="2.6" stroke-dasharray="7,5" stroke-linejoin="round" />
</g>
<g clip-path="url(#c12)">
<path d="M832.3,858.2 L833.9,858.2 L833.9,856.9 L835.5,856.9 L835.5,857.6 L837.1,857.6 L837.1,856.3 L838.7,856.3 L838.7,856.4 L840.3,856.4 L840.3,854.8 L841.9,854.8 L841.9,855.7 L843.5,855.7 L843.5,854.1 L845.1,854.1 L845.1,854.9 L846.7,854.9 L846.7,856.3 L848.3,856.3 L848.3,855.4 L849.9,855.4 L849.9,856.3 L851.5,856.3 L851.5,856.8 L853.1,856.8 L853.1,856.5 L854.7,856.5 L854.7,856.5 L856.3,856.5 L856.3,857.3 L857.9,857.3 L857.9,857.9 L859.5,857.9 L859.5,858.8 L861.1,858.8 L861.1,857.8 L862.7,857.8 L862.7,859.5 L864.3,859.5 L864.3,859.4 L865.9,859.4 L865.9,859.3 L867.5,859.3 L867.5,858.4 L869.1,858.4 L869.1,860.0 L870.7,860.0 L870.7,860.9 L872.3,860.9 L872.3,860.1 L873.9,860.1 L873.9,861.4 L875.5,861.4 L875.5,861.6 L877.1,861.6 L877.1,861.1 L878.7,861.1 L878.7,861.4 L880.3,861.4 L880.3,863.5 L881.9,863.5 L881.9,863.0 L883.5,863.0 L883.5,863.5 L885.1,863.5 L885.1,864.1 L886.7,864.1 L886.7,863.2 L888.3,863.2 L888.3,864.8 L889.9,864.8 L889.9,865.8 L891.5,865.8 L891.5,864.6 L893.1,864.6 L893.1,866.4 L894.7,866.4 L894.7,867.8 L896.3,867.8 L896.3,867.4 L897.9,867.4 L897.9,868.6 L899.5,868.6 L899.5,870.3 L901.1,870.3 L901.1,871.3 L902.7,871.3 L902.7,871.2 L904.3,871.2 L904.3,873.1 L905.9,873.1 L905.9,873.5 L907.5,873.5 L907.5,874.5 L909.1,874.5 L909.1,876.0 L910.7,876.0 L910.7,875.2 L912.3,875.2 L912.3,876.0 L913.9,876.0 L913.9,875.7 L915.5,875.7 L915.5,875.2 L917.1,875.2 L917.1,875.7 L918.7,875.7 L918.7,874.8 L920.3,874.8 L920.3,876.0 L921.9,876.0 L921.9,875.4 L923.5,875.4 L923.5,875.8 L925.1,875.8 L925.1,875.4 L926.7,875.4 L926.7,875.7 L928.3,875.7 L928.3,875.7 L929.9,875.7 L929.9,875.5 L931.5,875.5 L931.5,875.9 L933.1,875.9 L933.1,871.4 L934.7,871.4 L934.7,875.0 L936.3,875.0 L936.3,875.6 L937.9,875.6 L937.9,874.6 L939.5,874.6 L939.5,873.7 L941.1,873.7 L941.1,874.1 L942.7,874.1 L942.7,874.0 L944.3,874.0 L944.3,873.4 L945.9,873.4 L945.9,875.1 L947.5,875.1 L947.5,873.2 L949.1,873.2 L949.1,874.4 L950.7,874.4 L950.7,874.4 L952.3,874.4 L952.3,874.7 L953.9,874.7 L953.9,873.5 L955.5,873.5 L955.5,871.5 L957.1,871.5 L957.1,873.4 L958.7,873.4 L958.7,874.3 L960.3,874.3 L960.3,875.0 L961.9,875.0 L961.9,875.3 L963.5,875.3 L963.5,875.3 L965.1,875.3 L965.1,874.3 L966.7,874.3 L966.7,874.3 L968.3,874.3 L968.3,875.2 L969.9,875.2 L969.9,875.6 L971.5,875.6 L971.5,874.5 L973.1,874.5 L973.1,874.9 L974.7,874.9 L974.7,875.2 L976.3,875.2 L976.3,875.7 L977.9,875.7 L977.9,874.4 L979.5,874.4 L979.5,875.6 L981.1,875.6 L981.1,874.6 L982.7,874.6 L982.7,875.8 L984.3,875.8 L984.3,875.0 L985.9,875.0 L985.9,875.6 L987.5,875.6 L987.5,876.0 L989.1,876.0 L989.1,876.3 L990.7,876.3 L990.7,876.9 L992.3,876.9 L992.3,876.0 L993.9,876.0 L993.9,873.6 L995.5,873.6 L995.5,875.9 L997.1,875.9 L997.1,875.4 L998.7,875.4 L998.7,876.8 L1000.3,876.8 L1000.3,876.8 L1001.9,876.8 L1001.9,876.7 L1003.5,876.7 L1003.5,876.0 L1005.1,876.0 L1005.1,877.0 L1006.7,877.0 L1006.7,871.6 L1008.3,871.6 L1008.3,875.9 L1009.9,875.9 L1009.9,876.8 L1011.5,876.8 L1011.5,875.7 L1013.1,875.7 L1013.1,876.9 L1014.7,876.9 L1014.7,876.5 L1016.3,876.5 L1016.3,876.3 L1017.9,876.3 L1017.9,876.4 L1019.5,876.4 L1019.5,875.7 L1021.1,875.7 L1021.1,875.9 L1022.7,875.9 L1022.7,873.4 L1024.3,873.4 L1024.3,874.5 L1025.9,874.5 L1025.9,876.1 L1027.5,876.1 L1027.5,875.9 L1029.1,875.9 L1029.1,876.6 L1030.7,876.6 L1030.7,875.8 L1032.3,875.8 L1032.3,876.3 L1033.9,876.3 L1033.9,875.2 L1035.5,875.2 L1035.5,876.8 L1037.1,876.8 L1037.1,876.7 L1038.7,876.7 L1038.7,876.7 L1040.3,876.7 L1040.3,877.3 L1041.9,877.3 L1041.9,875.7 L1043.5,875.7 L1043.5,877.2 L1045.1,877.2 L1045.1,877.7 L1046.7,877.7 L1046.7,876.1 L1048.3,876.1 L1048.3,876.5 L1049.9,876.5 L1049.9,877.7 L1051.5,877.7 L1051.5,877.0 L1053.1,877.0 L1053.1,878.2 L1054.7,878.2 L1054.7,877.5 L1056.3,877.5 L1056.3,877.3 L1057.9,877.3 L1057.9,876.8 L1059.5,876.8 L1059.5,876.9 L1061.1,876.9 L1061.1,877.0 L1062.7,877.0 L1062.7,877.9 L1064.3,877.9 L1064.3,878.5 L1065.9,878.5 L1065.9,875.7 L1067.5,875.7 L1067.5,878.3 L1069.1,878.3 L1069.1,877.5 L1070.7,877.5 L1070.7,878.6 L1072.3,878.6 L1072.3,878.5 L1073.9,878.5 L1073.9,877.7 L1075.5,877.7 L1075.5,877.8 L1077.1,877.8 L1077.1,875.9 L1078.7,875.9 L1078.7,877.6 L1080.3,877.6 L1080.3,876.8 L1081.9,876.8 L1081.9,876.8 L1083.5,876.8 L1083.5,877.1 L1085.1,877.1 L1085.1,876.5 L1086.7,876.5 L1086.7,876.0 L1088.3,876.0 L1088.3,872.9 L1089.9,872.9 L1089.9,873.3 L1091.5,873.3 L1091.5,873.4 L1093.1,873.4 L1093.1,871.7 L1094.7,871.7 L1094.7,867.9 L1096.3,867.9 L1096.3,870.5 L1097.9,870.5 L1097.9,869.3 L1099.5,869.3 L1099.5,867.9 L1101.1,867.9 L1101.1,868.3 L1102.7,868.3 L1102.7,867.7 L1104.3,867.7 L1104.3,866.5 L1105.9,866.5 L1105.9,866.2 L1107.5,866.2 L1107.5,866.5 L1109.1,866.5 L1109.1,867.1 L1110.7,867.1 L1110.7,866.5 L1112.3,866.5 L1112.3,865.1 L1113.9,865.1 L1113.9,865.4 L1115.5,865.4 L1115.5,865.3 L1117.1,865.3 L1117.1,865.8 L1118.7,865.8 L1118.7,866.7 L1120.3,866.7 L1120.3,867.1 L1121.9,867.1 L1121.9,867.4 L1123.5,867.4 L1123.5,865.7 L1125.1,865.7 L1125.1,866.9 L1126.7,866.9 L1126.7,867.1 L1128.3,867.1 L1128.3,867.3 L1129.9,867.3 L1129.9,868.0 L1131.5,868.0 L1131.5,866.4 L1133.1,866.4 L1133.1,867.0 L1134.7,867.0 L1134.7,867.7 L1136.3,867.7 L1136.3,867.3 L1137.9,867.3 L1137.9,870.6 L1139.5,870.6 L1139.5,874.6 L1141.1,874.6 L1141.1,874.2 L1142.7,874.2 L1142.7,874.7 L1144.3,874.7 L1144.3,872.2 L1145.9,872.2 L1145.9,875.0 L1147.5,875.0 L1147.5,874.7 L1149.1,874.7 L1149.1,874.9 L1150.7,874.9 L1150.7,874.6 L1152.3,874.6 L1152.3,874.9 L1153.9,874.9 L1153.9,873.8 L1155.5,873.8 L1155.5,873.7 L1157.1,873.7 L1157.1,874.0 L1158.7,874.0 L1158.7,874.1 L1160.3,874.1 L1160.3,873.0 L1161.9,873.0 L1161.9,875.0 L1163.5,875.0 L1163.5,874.2 L1165.1,874.2 L1165.1,874.7 L1166.7,874.7 L1166.7,872.6 L1168.3,872.6 L1168.3,874.2 L1169.9,874.2 L1169.9,873.3 L1171.5,873.3 L1171.5,872.1 L1173.1,872.1 L1173.1,873.2 L1174.7,873.2 L1174.7,873.7 L1176.3,873.7 L1176.3,874.5 L1177.9,874.5 L1177.9,874.3 L1179.5,874.3 L1179.5,874.8 L1181.1,874.8 L1181.1,874.6 L1182.7,874.6 L1182.7,873.9 L1184.3,873.9 L1184.3,871.3 L1185.9,871.3 L1185.9,874.9 L1187.5,874.9 L1187.5,874.2 L1189.1,874.2 L1189.1,874.0 L1190.7,874.0 L1190.7,872.6 L1192.3,872.6 L1192.3,874.7 L1193.9,874.7 L1193.9,875.6 L1195.5,875.6 L1195.5,873.9 L1197.1,873.9 L1197.1,875.1 L1198.7,875.1 L1198.7,874.0 L1200.3,874.0 L1200.3,872.7 L1201.9,872.7 L1201.9,875.0 L1203.5,875.0 L1203.5,874.4 L1205.1,874.4 L1205.1,875.8 L1206.7,875.8 L1206.7,875.9 L1208.3,875.9 L1208.3,875.3 L1209.9,875.3 L1209.9,876.4 L1211.5,876.4 L1211.5,875.0 L1213.1,875.0 L1213.1,875.9 L1214.7,875.9 L1214.7,876.1 L1216.3,876.1 L1216.3,874.2 L1217.9,874.2 L1217.9,875.8 L1219.5,875.8 L1219.5,876.0 L1221.1,876.0 L1221.1,876.6 L1222.7,876.6 L1222.7,875.3 L1224.3,875.3 L1224.3,875.7 L1225.9,875.7 L1225.9,876.0 L1227.5,876.0 L1227.5,875.4 L1229.1,875.4 L1229.1,876.8 L1230.7,876.8 L1230.7,876.6 L1232.3,876.6 L1232.3,876.0 L1233.9,876.0 L1233.9,876.3 L1235.5,876.3 L1235.5,875.9 L1237.1,875.9 L1237.1,875.8 L1238.7,875.8 L1238.7,876.8 L1240.3,876.8 L1240.3,876.0 L1241.9,876.0 L1241.9,875.9 L1243.5,875.9 L1243.5,875.6 L1245.1,875.6 L1245.1,876.0 L1246.7,876.0 L1246.7,875.4 L1248.3,875.4 L1248.3,875.1 L1249.9,875.1 L1249.9,875.4 L1251.5,875.4 L1251.5,875.7 L1253.1,875.7 L1253.1,875.4 L1254.7,875.4 L1254.7,875.3 L1256.3,875.3 L1256.3,875.4 L1257.9,875.4 L1257.9,876.7 L1259.5,876.7 L1259.5,876.1 L1261.1,876.1 L1261.1,875.2 L1262.7,875.2 L1262.7,875.7 L1264.3,875.7 L1264.3,875.8 L1265.9,875.8 L1265.9,873.5 L1267.5,873.5 L1267.5,875.7 L1269.1,875.7 L1269.1,875.6 L1270.7,875.6 L1270.7,876.2 L1272.3,876.2 L1272.3,876.3 L1273.9,876.3 L1273.9,876.5 L1275.5,876.5 L1275.5,876.7 L1277.1,876.7 L1277.1,875.6 L1278.7,875.6 L1278.7,875.5 L1280.3,875.5 L1280.3,876.4 L1281.9,876.4 L1281.9,871.9 L1283.5,871.9 L1283.5,876.1 L1285.1,876.1 L1285.1,872.4 L1286.7,872.4 L1286.7,875.7 L1288.3,875.7 L1288.3,877.5 L1289.9,877.5 L1289.9,876.8 L1291.5,876.8 L1291.5,877.7 L1293.1,877.7 L1293.1,877.9 L1294.7,877.9 L1294.7,878.1 L1296.3,878.1 L1296.3,875.0 L1297.9,875.0 L1297.9,877.9 L1299.5,877.9 L1299.5,877.2 L1301.1,877.2 L1301.1,877.9 L1302.7,877.9 L1302.7,877.7 L1304.3,877.7 L1304.3,878.5 L1305.9,878.5 L1305.9,879.3 L1307.5,879.3 L1307.5,878.5 L1309.1,878.5 L1309.1,878.8 L1310.7,878.8 L1310.7,879.3 L1312.3,879.3 L1312.3,880.4 L1313.9,880.4 L1313.9,880.2 L1315.5,880.2 L1315.5,879.9 L1317.1,879.9 L1317.1,879.9 L1318.7,879.9 L1318.7,880.5 L1320.3,880.5 L1320.3,879.7 L1321.9,879.7 L1321.9,880.7 L1323.5,880.7 L1323.5,880.3 L1325.1,880.3 L1325.1,881.8 L1326.7,881.8 L1326.7,876.6 L1328.3,876.6 L1328.3,880.8 L1329.9,880.8 L1329.9,878.3 L1331.5,878.3 L1331.5,882.2 L1333.1,882.2 L1333.1,880.6 L1334.7,880.6 L1334.7,880.4 L1336.3,880.4 L1336.3,882.6 L1337.9,882.6 L1337.9,880.8 L1339.5,880.8 L1339.5,882.7 L1341.1,882.7 L1341.1,881.9 L1342.7,881.9 L1342.7,882.6 L1344.3,882.6 L1344.3,881.7 L1345.9,881.7 L1345.9,881.4 L1347.5,881.4 L1347.5,882.0 L1349.1,882.0 L1349.1,882.0 L1350.7,882.0 L1350.7,883.4 L1352.3,883.4 L1352.3,882.7 L1353.9,882.7 L1353.9,881.9 L1355.5,881.9 L1355.5,882.8 L1357.1,882.8 L1357.1,882.4 L1358.7,882.4 L1358.7,882.2 L1360.3,882.2 L1360.3,883.2 L1361.9,883.2 L1361.9,883.3 L1363.5,883.3 L1363.5,883.3 L1365.1,883.3 L1365.1,883.5 L1366.7,883.5 L1366.7,882.2 L1368.3,882.2 L1368.3,880.7 L1369.9,880.7 L1369.9,879.7 L1371.5,879.7 L1371.5,883.0 L1373.1,883.0 L1373.1,881.9 L1374.7,881.9 L1374.7,883.4 L1376.3,883.4 L1376.3,883.5 L1377.9,883.5 L1377.9,883.6 L1379.5,883.6 L1379.5,883.1 L1381.1,883.1 L1381.1,883.2 L1382.7,883.2 L1382.7,883.2 L1384.3,883.2 L1384.3,882.3 L1385.9,882.3 L1385.9,882.9 L1387.5,882.9 L1387.5,883.7 L1389.1,883.7 L1389.1,882.7 L1390.7,882.7 L1390.7,883.1 L1392.3,883.1 L1392.3,883.2 L1393.9,883.2 L1393.9,882.6 L1395.5,882.6 L1395.5,884.2 L1397.1,884.2 L1397.1,883.5 L1398.7,883.5 L1398.7,883.2 L1400.3,883.2 L1400.3,883.2 L1401.9,883.2 L1401.9,883.2 L1403.5,883.2 L1403.5,883.3 L1403.5,912.3 L1403.5,911.6 L1401.9,911.6 L1401.9,911.1 L1400.3,911.1 L1400.3,911.2 L1398.7,911.2 L1398.7,911.4 L1397.1,911.4 L1397.1,911.2 L1395.5,911.2 L1395.5,910.6 L1393.9,910.6 L1393.9,911.6 L1392.3,911.6 L1392.3,912.1 L1390.7,912.1 L1390.7,910.6 L1389.1,910.6 L1389.1,911.9 L1387.5,911.9 L1387.5,911.3 L1385.9,911.3 L1385.9,912.0 L1384.3,912.0 L1384.3,910.9 L1382.7,910.9 L1382.7,911.0 L1381.1,911.0 L1381.1,911.6 L1379.5,911.6 L1379.5,911.2 L1377.9,911.2 L1377.9,910.4 L1376.3,910.4 L1376.3,911.7 L1374.7,911.7 L1374.7,909.9 L1373.1,909.9 L1373.1,909.9 L1371.5,909.9 L1371.5,911.6 L1369.9,911.6 L1369.9,909.7 L1368.3,909.7 L1368.3,911.6 L1366.7,911.6 L1366.7,910.8 L1365.1,910.8 L1365.1,910.7 L1363.5,910.7 L1363.5,910.1 L1361.9,910.1 L1361.9,909.8 L1360.3,909.8 L1360.3,909.6 L1358.7,909.6 L1358.7,911.0 L1357.1,911.0 L1357.1,910.2 L1355.5,910.2 L1355.5,911.0 L1353.9,911.0 L1353.9,910.4 L1352.3,910.4 L1352.3,910.6 L1350.7,910.6 L1350.7,909.6 L1349.1,909.6 L1349.1,911.0 L1347.5,911.0 L1347.5,910.7 L1345.9,910.7 L1345.9,910.2 L1344.3,910.2 L1344.3,911.1 L1342.7,911.1 L1342.7,909.7 L1341.1,909.7 L1341.1,909.2 L1339.5,909.2 L1339.5,910.1 L1337.9,910.1 L1337.9,909.7 L1336.3,909.7 L1336.3,909.4 L1334.7,909.4 L1334.7,909.2 L1333.1,909.2 L1333.1,910.1 L1331.5,910.1 L1331.5,909.8 L1329.9,909.8 L1329.9,909.5 L1328.3,909.5 L1328.3,910.3 L1326.7,910.3 L1326.7,909.7 L1325.1,909.7 L1325.1,909.5 L1323.5,909.5 L1323.5,909.5 L1321.9,909.5 L1321.9,909.8 L1320.3,909.8 L1320.3,908.7 L1318.7,908.7 L1318.7,909.8 L1317.1,909.8 L1317.1,909.5 L1315.5,909.5 L1315.5,908.6 L1313.9,908.6 L1313.9,909.5 L1312.3,909.5 L1312.3,909.2 L1310.7,909.2 L1310.7,910.1 L1309.1,910.1 L1309.1,909.5 L1307.5,909.5 L1307.5,908.3 L1305.9,908.3 L1305.9,908.6 L1304.3,908.6 L1304.3,908.9 L1302.7,908.9 L1302.7,908.4 L1301.1,908.4 L1301.1,908.5 L1299.5,908.5 L1299.5,908.0 L1297.9,908.0 L1297.9,907.8 L1296.3,907.8 L1296.3,907.9 L1294.7,907.9 L1294.7,908.7 L1293.1,908.7 L1293.1,908.1 L1291.5,908.1 L1291.5,909.4 L1289.9,909.4 L1289.9,908.2 L1288.3,908.2 L1288.3,906.9 L1286.7,906.9 L1286.7,906.8 L1285.1,906.8 L1285.1,907.1 L1283.5,907.1 L1283.5,906.6 L1281.9,906.6 L1281.9,907.4 L1280.3,907.4 L1280.3,906.7 L1278.7,906.7 L1278.7,907.5 L1277.1,907.5 L1277.1,907.8 L1275.5,907.8 L1275.5,906.3 L1273.9,906.3 L1273.9,907.2 L1272.3,907.2 L1272.3,907.7 L1270.7,907.7 L1270.7,907.5 L1269.1,907.5 L1269.1,906.6 L1267.5,906.6 L1267.5,906.7 L1265.9,906.7 L1265.9,905.6 L1264.3,905.6 L1264.3,906.9 L1262.7,906.9 L1262.7,905.9 L1261.1,905.9 L1261.1,906.9 L1259.5,906.9 L1259.5,906.8 L1257.9,906.8 L1257.9,905.5 L1256.3,905.5 L1256.3,906.5 L1254.7,906.5 L1254.7,905.5 L1253.1,905.5 L1253.1,906.3 L1251.5,906.3 L1251.5,905.2 L1249.9,905.2 L1249.9,904.9 L1248.3,904.9 L1248.3,906.3 L1246.7,906.3 L1246.7,904.7 L1245.1,904.7 L1245.1,904.8 L1243.5,904.8 L1243.5,904.4 L1241.9,904.4 L1241.9,905.6 L1240.3,905.6 L1240.3,905.7 L1238.7,905.7 L1238.7,906.2 L1237.1,906.2 L1237.1,904.7 L1235.5,904.7 L1235.5,904.5 L1233.9,904.5 L1233.9,905.9 L1232.3,905.9 L1232.3,905.1 L1230.7,905.1 L1230.7,905.6 L1229.1,905.6 L1229.1,905.7 L1227.5,905.7 L1227.5,909.2 L1225.9,909.2 L1225.9,904.6 L1224.3,904.6 L1224.3,904.4 L1222.7,904.4 L1222.7,906.1 L1221.1,906.1 L1221.1,905.2 L1219.5,905.2 L1219.5,906.0 L1217.9,906.0 L1217.9,904.7 L1216.3,904.7 L1216.3,907.7 L1214.7,907.7 L1214.7,904.7 L1213.1,904.7 L1213.1,906.2 L1211.5,906.2 L1211.5,907.6 L1209.9,907.6 L1209.9,905.9 L1208.3,905.9 L1208.3,904.4 L1206.7,904.4 L1206.7,905.6 L1205.1,905.6 L1205.1,905.1 L1203.5,905.1 L1203.5,906.0 L1201.9,906.0 L1201.9,906.2 L1200.3,906.2 L1200.3,905.7 L1198.7,905.7 L1198.7,905.7 L1197.1,905.7 L1197.1,905.1 L1195.5,905.1 L1195.5,909.2 L1193.9,909.2 L1193.9,905.0 L1192.3,905.0 L1192.3,905.6 L1190.7,905.6 L1190.7,906.0 L1189.1,906.0 L1189.1,905.0 L1187.5,905.0 L1187.5,906.9 L1185.9,906.9 L1185.9,904.4 L1184.3,904.4 L1184.3,904.6 L1182.7,904.6 L1182.7,904.5 L1181.1,904.5 L1181.1,904.9 L1179.5,904.9 L1179.5,904.5 L1177.9,904.5 L1177.9,905.1 L1176.3,905.1 L1176.3,905.8 L1174.7,905.8 L1174.7,904.8 L1173.1,904.8 L1173.1,906.3 L1171.5,906.3 L1171.5,905.0 L1169.9,905.0 L1169.9,906.0 L1168.3,906.0 L1168.3,905.1 L1166.7,905.1 L1166.7,907.9 L1165.1,907.9 L1165.1,906.1 L1163.5,906.1 L1163.5,904.6 L1161.9,904.6 L1161.9,906.9 L1160.3,906.9 L1160.3,905.1 L1158.7,905.1 L1158.7,906.1 L1157.1,906.1 L1157.1,905.8 L1155.5,905.8 L1155.5,906.2 L1153.9,906.2 L1153.9,904.6 L1152.3,904.6 L1152.3,904.6 L1150.7,904.6 L1150.7,905.1 L1149.1,905.1 L1149.1,906.1 L1147.5,906.1 L1147.5,904.4 L1145.9,904.4 L1145.9,905.0 L1144.3,905.0 L1144.3,904.8 L1142.7,904.8 L1142.7,907.4 L1141.1,907.4 L1141.1,908.9 L1139.5,908.9 L1139.5,909.5 L1137.9,909.5 L1137.9,909.2 L1136.3,909.2 L1136.3,909.8 L1134.7,909.8 L1134.7,910.0 L1133.1,910.0 L1133.1,908.1 L1131.5,908.1 L1131.5,908.1 L1129.9,908.1 L1129.9,908.9 L1128.3,908.9 L1128.3,908.1 L1126.7,908.1 L1126.7,912.6 L1125.1,912.6 L1125.1,908.0 L1123.5,908.0 L1123.5,909.0 L1121.9,909.0 L1121.9,909.0 L1120.3,909.0 L1120.3,907.4 L1118.7,907.4 L1118.7,908.2 L1117.1,908.2 L1117.1,908.6 L1115.5,908.6 L1115.5,908.4 L1113.9,908.4 L1113.9,908.4 L1112.3,908.4 L1112.3,908.1 L1110.7,908.1 L1110.7,908.2 L1109.1,908.2 L1109.1,907.0 L1107.5,907.0 L1107.5,906.8 L1105.9,906.8 L1105.9,906.6 L1104.3,906.6 L1104.3,910.6 L1102.7,910.6 L1102.7,908.1 L1101.1,908.1 L1101.1,909.1 L1099.5,909.1 L1099.5,909.7 L1097.9,909.7 L1097.9,910.6 L1096.3,910.6 L1096.3,915.5 L1094.7,915.5 L1094.7,914.3 L1093.1,914.3 L1093.1,917.0 L1091.5,917.0 L1091.5,914.8 L1089.9,914.8 L1089.9,916.6 L1088.3,916.6 L1088.3,917.4 L1086.7,917.4 L1086.7,918.3 L1085.1,918.3 L1085.1,921.2 L1083.5,921.2 L1083.5,919.0 L1081.9,919.0 L1081.9,920.0 L1080.3,920.0 L1080.3,921.0 L1078.7,921.0 L1078.7,920.8 L1077.1,920.8 L1077.1,923.0 L1075.5,923.0 L1075.5,923.3 L1073.9,923.3 L1073.9,923.7 L1072.3,923.7 L1072.3,923.8 L1070.7,923.8 L1070.7,924.4 L1069.1,924.4 L1069.1,924.1 L1067.5,924.1 L1067.5,924.5 L1065.9,924.5 L1065.9,924.2 L1064.3,924.2 L1064.3,926.5 L1062.7,926.5 L1062.7,929.2 L1061.1,929.2 L1061.1,926.2 L1059.5,926.2 L1059.5,925.2 L1057.9,925.2 L1057.9,925.6 L1056.3,925.6 L1056.3,926.5 L1054.7,926.5 L1054.7,927.6 L1053.1,927.6 L1053.1,929.7 L1051.5,929.7 L1051.5,927.0 L1049.9,927.0 L1049.9,928.5 L1048.3,928.5 L1048.3,928.1 L1046.7,928.1 L1046.7,932.9 L1045.1,932.9 L1045.1,927.9 L1043.5,927.9 L1043.5,928.3 L1041.9,928.3 L1041.9,928.6 L1040.3,928.6 L1040.3,929.8 L1038.7,929.8 L1038.7,930.5 L1037.1,930.5 L1037.1,930.4 L1035.5,930.4 L1035.5,930.5 L1033.9,930.5 L1033.9,930.6 L1032.3,930.6 L1032.3,929.6 L1030.7,929.6 L1030.7,929.8 L1029.1,929.8 L1029.1,929.9 L1027.5,929.9 L1027.5,930.2 L1025.9,930.2 L1025.9,930.8 L1024.3,930.8 L1024.3,932.1 L1022.7,932.1 L1022.7,931.0 L1021.1,931.0 L1021.1,931.6 L1019.5,931.6 L1019.5,932.1 L1017.9,932.1 L1017.9,931.6 L1016.3,931.6 L1016.3,932.2 L1014.7,932.2 L1014.7,931.0 L1013.1,931.0 L1013.1,932.1 L1011.5,932.1 L1011.5,932.5 L1009.9,932.5 L1009.9,932.5 L1008.3,932.5 L1008.3,932.4 L1006.7,932.4 L1006.7,931.3 L1005.1,931.3 L1005.1,931.8 L1003.5,931.8 L1003.5,932.7 L1001.9,932.7 L1001.9,931.7 L1000.3,931.7 L1000.3,931.5 L998.7,931.5 L998.7,931.4 L997.1,931.4 L997.1,932.7 L995.5,932.7 L995.5,931.6 L993.9,931.6 L993.9,932.2 L992.3,932.2 L992.3,933.3 L990.7,933.3 L990.7,932.8 L989.1,932.8 L989.1,936.5 L987.5,936.5 L987.5,932.7 L985.9,932.7 L985.9,933.8 L984.3,933.8 L984.3,932.8 L982.7,932.8 L982.7,933.8 L981.1,933.8 L981.1,934.6 L979.5,934.6 L979.5,934.0 L977.9,934.0 L977.9,933.9 L976.3,933.9 L976.3,934.7 L974.7,934.7 L974.7,935.0 L973.1,935.0 L973.1,935.3 L971.5,935.3 L971.5,935.2 L969.9,935.2 L969.9,933.9 L968.3,933.9 L968.3,934.8 L966.7,934.8 L966.7,935.4 L965.1,935.4 L965.1,935.7 L963.5,935.7 L963.5,934.8 L961.9,934.8 L961.9,935.6 L960.3,935.6 L960.3,935.0 L958.7,935.0 L958.7,936.2 L957.1,936.2 L957.1,936.0 L955.5,936.0 L955.5,935.6 L953.9,935.6 L953.9,936.8 L952.3,936.8 L952.3,936.7 L950.7,936.7 L950.7,937.5 L949.1,937.5 L949.1,938.1 L947.5,938.1 L947.5,938.8 L945.9,938.8 L945.9,937.5 L944.3,937.5 L944.3,938.4 L942.7,938.4 L942.7,938.8 L941.1,938.8 L941.1,939.8 L939.5,939.8 L939.5,939.5 L937.9,939.5 L937.9,940.2 L936.3,940.2 L936.3,941.4 L934.7,941.4 L934.7,942.3 L933.1,942.3 L933.1,941.2 L931.5,941.2 L931.5,942.0 L929.9,942.0 L929.9,943.8 L928.3,943.8 L928.3,943.2 L926.7,943.2 L926.7,943.4 L925.1,943.4 L925.1,943.7 L923.5,943.7 L923.5,944.0 L921.9,944.0 L921.9,944.7 L920.3,944.7 L920.3,948.7 L918.7,948.7 L918.7,945.9 L917.1,945.9 L917.1,945.9 L915.5,945.9 L915.5,947.0 L913.9,947.0 L913.9,946.0 L912.3,946.0 L912.3,944.9 L910.7,944.9 L910.7,943.3 L909.1,943.3 L909.1,943.8 L907.5,943.8 L907.5,943.3 L905.9,943.3 L905.9,943.5 L904.3,943.5 L904.3,941.9 L902.7,941.9 L902.7,942.6 L901.1,942.6 L901.1,943.6 L899.5,943.6 L899.5,945.0 L897.9,945.0 L897.9,943.1 L896.3,943.1 L896.3,943.1 L894.7,943.1 L894.7,943.6 L893.1,943.6 L893.1,942.6 L891.5,942.6 L891.5,942.2 L889.9,942.2 L889.9,942.4 L888.3,942.4 L888.3,943.8 L886.7,943.8 L886.7,943.3 L885.1,943.3 L885.1,942.9 L883.5,942.9 L883.5,942.3 L881.9,942.3 L881.9,945.1 L880.3,945.1 L880.3,942.8 L878.7,942.8 L878.7,942.3 L877.1,942.3 L877.1,942.9 L875.5,942.9 L875.5,943.5 L873.9,943.5 L873.9,943.4 L872.3,943.4 L872.3,942.2 L870.7,942.2 L870.7,943.7 L869.1,943.7 L869.1,944.5 L867.5,944.5 L867.5,952.3 L865.9,952.3 L865.9,961.0 L864.3,961.0 L864.3,964.4 L862.7,964.4 L862.7,965.2 L861.1,965.2 L861.1,963.9 L859.5,963.9 L859.5,965.0 L857.9,965.0 L857.9,964.3 L856.3,964.3 L856.3,968.2 L854.7,968.2 L854.7,965.2 L853.1,965.2 L853.1,965.9 L851.5,965.9 L851.5,968.6 L849.9,968.6 L849.9,969.5 L848.3,969.5 L848.3,966.5 L846.7,966.5 L846.7,967.2 L845.1,967.2 L845.1,967.4 L843.5,967.4 L843.5,969.2 L841.9,969.2 L841.9,970.8 L840.3,970.8 L840.3,973.0 L838.7,973.0 L838.7,975.3 L837.1,975.3 L837.1,976.5 L835.5,976.5 L835.5,981.8 L833.9,981.8 L833.9,979.8 L832.3,979.8 Z" fill="rgba(0,0,255,0.1)" stroke="none"/>
<path d="M832.3,917.5 L837.3,917.5 L837.3,919.5 L842.3,919.5 L842.3,910.8 L847.3,910.8 L847.3,910.2 L852.3,910.2 L852.3,912.0 L857.3,912.0 L857.3,912.6 L862.3,912.6 L862.3,913.8 L867.3,913.8 L867.3,905.4 L872.3,905.4 L872.3,904.0 L877.3,904.0 L877.3,903.5 L882.3,903.5 L882.3,903.9 L887.3,903.9 L887.3,904.5 L892.3,904.5 L892.3,905.4 L897.3,905.4 L897.3,907.2 L902.3,907.2 L902.3,908.6 L907.3,908.6 L907.3,910.6 L912.3,910.6 L912.3,911.6 L917.3,911.6 L917.3,911.4 L922.3,911.4 L922.3,911.7 L927.3,911.7 L927.3,909.5 L932.3,909.5 L932.3,907.8 L937.3,907.8 L937.3,907.0 L942.3,907.0 L942.3,906.0 L947.3,906.0 L947.3,906.0 L952.3,906.0 L952.3,904.9 L957.3,904.9 L957.3,904.2 L962.3,904.2 L962.3,904.4 L967.3,904.4 L967.3,903.6 L972.3,903.6 L972.3,903.2 L977.3,903.2 L977.3,903.2 L982.3,903.2 L982.3,903.9 L987.3,903.9 L987.3,904.1 L992.3,904.1 L992.3,904.0 L997.3,904.0 L997.3,904.4 L1002.3,904.4 L1002.3,903.5 L1007.3,903.5 L1007.3,903.7 L1012.3,903.7 L1012.3,903.4 L1017.3,903.4 L1017.3,902.8 L1022.3,902.8 L1022.3,902.1 L1027.3,902.1 L1027.3,902.3 L1032.3,902.3 L1032.3,901.9 L1037.3,901.9 L1037.3,901.0 L1042.3,901.0 L1042.3,900.6 L1047.3,900.6 L1047.3,899.7 L1052.3,899.7 L1052.3,899.8 L1057.3,899.8 L1057.3,899.2 L1062.3,899.2 L1062.3,900.0 L1067.3,900.0 L1067.3,900.4 L1072.3,900.4 L1072.3,901.3 L1077.3,901.3 L1077.3,899.6 L1082.3,899.6 L1082.3,899.0 L1087.3,899.0 L1087.3,897.8 L1092.3,897.8 L1092.3,894.3 L1097.3,894.3 L1097.3,891.1 L1102.3,891.1 L1102.3,888.8 L1107.3,888.8 L1107.3,888.4 L1112.3,888.4 L1112.3,888.4 L1117.3,888.4 L1117.3,888.1 L1122.3,888.1 L1122.3,888.6 L1127.3,888.6 L1127.3,889.0 L1132.3,889.0 L1132.3,890.0 L1137.3,890.0 L1137.3,893.1 L1142.3,893.1 L1142.3,894.2 L1147.3,894.2 L1147.3,893.1 L1152.3,893.1 L1152.3,892.2 L1157.3,892.2 L1157.3,890.7 L1162.3,890.7 L1162.3,890.5 L1167.3,890.5 L1167.3,889.7 L1172.3,889.7 L1172.3,889.1 L1177.3,889.1 L1177.3,889.0 L1182.3,889.0 L1182.3,888.7 L1187.3,888.7 L1187.3,889.1 L1192.3,889.1 L1192.3,889.3 L1197.3,889.3 L1197.3,889.8 L1202.3,889.8 L1202.3,889.7 L1207.3,889.7 L1207.3,890.2 L1212.3,890.2 L1212.3,891.4 L1217.3,891.4 L1217.3,891.7 L1222.3,891.7 L1222.3,892.5 L1227.3,892.5 L1227.3,892.2 L1232.3,892.2 L1232.3,891.8 L1237.3,891.8 L1237.3,891.7 L1242.3,891.7 L1242.3,891.0 L1247.3,891.0 L1247.3,890.8 L1252.3,890.8 L1252.3,890.3 L1257.3,890.3 L1257.3,890.8 L1262.3,890.8 L1262.3,890.7 L1267.3,890.7 L1267.3,890.4 L1272.3,890.4 L1272.3,890.2 L1277.3,890.2 L1277.3,890.9 L1282.3,890.9 L1282.3,891.1 L1287.3,891.1 L1287.3,891.3 L1292.3,891.3 L1292.3,891.6 L1297.3,891.6 L1297.3,892.2 L1302.3,892.2 L1302.3,892.7 L1307.3,892.7 L1307.3,894.2 L1312.3,894.2 L1312.3,895.0 L1317.3,895.0 L1317.3,894.9 L1322.3,894.9 L1322.3,895.6 L1327.3,895.6 L1327.3,895.9 L1332.3,895.9 L1332.3,896.5 L1337.3,896.5 L1337.3,896.3 L1342.3,896.3 L1342.3,896.9 L1347.3,896.9 L1347.3,897.3 L1352.3,897.3 L1352.3,897.5 L1357.3,897.5 L1357.3,897.1 L1362.3,897.1 L1362.3,897.7 L1367.3,897.7 L1367.3,898.1 L1372.3,898.1 L1372.3,897.8 L1377.3,897.8 L1377.3,897.7 L1382.3,897.7 L1382.3,897.5 L1387.3,897.5 L1387.3,897.7 L1392.3,897.7 L1392.3,897.7 L1397.3,897.7 L1397.3,897.5 L1402.3,897.5 L1402.3,898.2" fill="none" stroke="#000" stroke-width="2.6" stroke-dasharray="9.5,6" stroke-linejoin="round" />
</g>
<g clip-path="url(#c03)">
<rect x="146" y="1240.6" width="572" height="3.2" fill="rgba(0,0,255,0.1)"/>
<line x1="146" y1="1242.2" x2="718" y2="1242.2" stroke="#000" stroke-width="3" stroke-dasharray="13.1,12.7"/>
</g>
<g clip-path="url(#c13)">
<path d="M832.2,1240.2 L833.8,1240.2 L833.8,1236.0 L835.4,1236.0 L835.4,1229.2 L837.0,1229.2 L837.0,1220.4 L838.6,1220.4 L838.6,1214.7 L840.2,1214.7 L840.2,1212.9 L841.8,1212.9 L841.8,1212.9 L843.4,1212.9 L843.4,1209.6 L845.0,1209.6 L845.0,1206.1 L846.6,1206.1 L846.6,1198.7 L848.2,1198.7 L848.2,1200.2 L849.8,1200.2 L849.8,1200.9 L851.4,1200.9 L851.4,1197.8 L853.0,1197.8 L853.0,1196.2 L854.6,1196.2 L854.6,1196.3 L856.2,1196.3 L856.2,1195.3 L857.8,1195.3 L857.8,1192.1 L859.4,1192.1 L859.4,1191.0 L861.0,1191.0 L861.0,1191.5 L862.6,1191.5 L862.6,1188.3 L864.2,1188.3 L864.2,1188.2 L865.8,1188.2 L865.8,1186.4 L867.4,1186.4 L867.4,1185.6 L869.0,1185.6 L869.0,1182.7 L870.6,1182.7 L870.6,1184.6 L872.2,1184.6 L872.2,1180.7 L873.8,1180.7 L873.8,1181.5 L875.4,1181.5 L875.4,1178.1 L877.0,1178.1 L877.0,1178.2 L878.6,1178.2 L878.6,1178.8 L880.2,1178.8 L880.2,1177.1 L881.8,1177.1 L881.8,1177.1 L883.4,1177.1 L883.4,1175.2 L885.0,1175.2 L885.0,1177.0 L886.6,1177.0 L886.6,1167.3 L888.2,1167.3 L888.2,1174.2 L889.8,1174.2 L889.8,1165.2 L891.4,1165.2 L891.4,1173.2 L893.0,1173.2 L893.0,1172.7 L894.6,1172.7 L894.6,1167.5 L896.2,1167.5 L896.2,1173.8 L897.8,1173.8 L897.8,1171.3 L899.4,1171.3 L899.4,1172.8 L901.0,1172.8 L901.0,1172.1 L902.6,1172.1 L902.6,1173.4 L904.2,1173.4 L904.2,1175.5 L905.8,1175.5 L905.8,1175.6 L907.4,1175.6 L907.4,1174.7 L909.0,1174.7 L909.0,1175.8 L910.6,1175.8 L910.6,1173.6 L912.2,1173.6 L912.2,1176.3 L913.8,1176.3 L913.8,1173.6 L915.4,1173.6 L915.4,1172.4 L917.0,1172.4 L917.0,1170.5 L918.6,1170.5 L918.6,1169.2 L920.2,1169.2 L920.2,1168.6 L921.8,1168.6 L921.8,1167.0 L923.4,1167.0 L923.4,1168.6 L925.0,1168.6 L925.0,1166.9 L926.6,1166.9 L926.6,1159.9 L928.2,1159.9 L928.2,1163.9 L929.8,1163.9 L929.8,1160.5 L931.4,1160.5 L931.4,1161.0 L933.0,1161.0 L933.0,1159.9 L934.6,1159.9 L934.6,1159.9 L936.2,1159.9 L936.2,1157.0 L937.8,1157.0 L937.8,1157.6 L939.4,1157.6 L939.4,1158.8 L941.0,1158.8 L941.0,1150.5 L942.6,1150.5 L942.6,1149.1 L944.2,1149.1 L944.2,1154.8 L945.8,1154.8 L945.8,1144.7 L947.4,1144.7 L947.4,1154.0 L949.0,1154.0 L949.0,1156.3 L950.6,1156.3 L950.6,1154.2 L952.2,1154.2 L952.2,1156.8 L953.8,1156.8 L953.8,1156.8 L955.4,1156.8 L955.4,1156.0 L957.0,1156.0 L957.0,1157.0 L958.6,1157.0 L958.6,1160.4 L960.2,1160.4 L960.2,1159.5 L961.8,1159.5 L961.8,1158.6 L963.4,1158.6 L963.4,1159.3 L965.0,1159.3 L965.0,1160.3 L966.6,1160.3 L966.6,1162.0 L968.2,1162.0 L968.2,1164.3 L969.8,1164.3 L969.8,1162.3 L971.4,1162.3 L971.4,1164.2 L973.0,1164.2 L973.0,1165.7 L974.6,1165.7 L974.6,1166.1 L976.2,1166.1 L976.2,1160.1 L977.8,1160.1 L977.8,1166.4 L979.4,1166.4 L979.4,1158.2 L981.0,1158.2 L981.0,1166.5 L982.6,1166.5 L982.6,1166.6 L984.2,1166.6 L984.2,1166.6 L985.8,1166.6 L985.8,1167.5 L987.4,1167.5 L987.4,1165.0 L989.0,1165.0 L989.0,1166.5 L990.6,1166.5 L990.6,1162.4 L992.2,1162.4 L992.2,1168.5 L993.8,1168.5 L993.8,1167.6 L995.4,1167.6 L995.4,1168.2 L997.0,1168.2 L997.0,1168.5 L998.6,1168.5 L998.6,1165.5 L1000.2,1165.5 L1000.2,1168.2 L1001.8,1168.2 L1001.8,1166.9 L1003.4,1166.9 L1003.4,1167.6 L1005.0,1167.6 L1005.0,1165.9 L1006.6,1165.9 L1006.6,1163.1 L1008.2,1163.1 L1008.2,1157.6 L1009.8,1157.6 L1009.8,1162.1 L1011.4,1162.1 L1011.4,1163.0 L1013.0,1163.0 L1013.0,1162.5 L1014.6,1162.5 L1014.6,1161.8 L1016.2,1161.8 L1016.2,1162.0 L1017.8,1162.0 L1017.8,1151.1 L1019.4,1151.1 L1019.4,1160.6 L1021.0,1160.6 L1021.0,1162.9 L1022.6,1162.9 L1022.6,1159.9 L1024.2,1159.9 L1024.2,1162.8 L1025.8,1162.8 L1025.8,1160.4 L1027.4,1160.4 L1027.4,1167.1 L1029.0,1167.1 L1029.0,1167.3 L1030.6,1167.3 L1030.6,1165.6 L1032.2,1165.6 L1032.2,1160.1 L1033.8,1160.1 L1033.8,1166.2 L1035.4,1166.2 L1035.4,1169.0 L1037.0,1169.0 L1037.0,1170.6 L1038.6,1170.6 L1038.6,1168.4 L1040.2,1168.4 L1040.2,1169.7 L1041.8,1169.7 L1041.8,1171.9 L1043.4,1171.9 L1043.4,1171.2 L1045.0,1171.2 L1045.0,1173.9 L1046.6,1173.9 L1046.6,1173.0 L1048.2,1173.0 L1048.2,1175.2 L1049.8,1175.2 L1049.8,1175.7 L1051.4,1175.7 L1051.4,1173.5 L1053.0,1173.5 L1053.0,1174.5 L1054.6,1174.5 L1054.6,1174.3 L1056.2,1174.3 L1056.2,1177.6 L1057.8,1177.6 L1057.8,1177.9 L1059.4,1177.9 L1059.4,1176.7 L1061.0,1176.7 L1061.0,1177.6 L1062.6,1177.6 L1062.6,1171.7 L1064.2,1171.7 L1064.2,1178.0 L1065.8,1178.0 L1065.8,1179.3 L1067.4,1179.3 L1067.4,1177.7 L1069.0,1177.7 L1069.0,1177.3 L1070.6,1177.3 L1070.6,1179.2 L1072.2,1179.2 L1072.2,1174.4 L1073.8,1174.4 L1073.8,1187.7 L1075.4,1187.7 L1075.4,1191.3 L1077.0,1191.3 L1077.0,1192.1 L1078.6,1192.1 L1078.6,1192.9 L1080.2,1192.9 L1080.2,1194.5 L1081.8,1194.5 L1081.8,1193.6 L1083.4,1193.6 L1083.4,1196.7 L1085.0,1196.7 L1085.0,1205.5 L1086.6,1205.5 L1086.6,1213.1 L1088.2,1213.1 L1088.2,1233.5 L1089.8,1233.5 L1089.8,1235.1 L1091.4,1235.1 L1091.4,1233.1 L1093.0,1233.1 L1093.0,1230.5 L1094.6,1230.5 L1094.6,1221.2 L1096.2,1221.2 L1096.2,1225.1 L1097.8,1225.1 L1097.8,1220.3 L1099.4,1220.3 L1099.4,1220.8 L1101.0,1220.8 L1101.0,1222.1 L1102.6,1222.1 L1102.6,1212.9 L1104.2,1212.9 L1104.2,1207.5 L1105.8,1207.5 L1105.8,1211.7 L1107.4,1211.7 L1107.4,1203.5 L1109.0,1203.5 L1109.0,1192.1 L1110.6,1192.1 L1110.6,1184.3 L1112.2,1184.3 L1112.2,1178.2 L1113.8,1178.2 L1113.8,1173.8 L1115.4,1173.8 L1115.4,1175.2 L1117.0,1175.2 L1117.0,1171.6 L1118.6,1171.6 L1118.6,1170.8 L1120.2,1170.8 L1120.2,1167.9 L1121.8,1167.9 L1121.8,1167.7 L1123.4,1167.7 L1123.4,1165.5 L1125.0,1165.5 L1125.0,1167.2 L1126.6,1167.2 L1126.6,1166.7 L1128.2,1166.7 L1128.2,1170.3 L1129.8,1170.3 L1129.8,1170.7 L1131.4,1170.7 L1131.4,1172.6 L1133.0,1172.6 L1133.0,1174.3 L1134.6,1174.3 L1134.6,1173.5 L1136.2,1173.5 L1136.2,1177.4 L1137.8,1177.4 L1137.8,1182.7 L1139.4,1182.7 L1139.4,1192.7 L1141.0,1192.7 L1141.0,1189.3 L1142.6,1189.3 L1142.6,1187.1 L1144.2,1187.1 L1144.2,1185.6 L1145.8,1185.6 L1145.8,1183.5 L1147.4,1183.5 L1147.4,1181.5 L1149.0,1181.5 L1149.0,1171.7 L1150.6,1171.7 L1150.6,1175.9 L1152.2,1175.9 L1152.2,1175.4 L1153.8,1175.4 L1153.8,1172.1 L1155.4,1172.1 L1155.4,1171.3 L1157.0,1171.3 L1157.0,1167.5 L1158.6,1167.5 L1158.6,1165.5 L1160.2,1165.5 L1160.2,1165.5 L1161.8,1165.5 L1161.8,1160.0 L1163.4,1160.0 L1163.4,1165.0 L1165.0,1165.0 L1165.0,1164.1 L1166.6,1164.1 L1166.6,1162.6 L1168.2,1162.6 L1168.2,1161.8 L1169.8,1161.8 L1169.8,1161.1 L1171.4,1161.1 L1171.4,1158.3 L1173.0,1158.3 L1173.0,1160.6 L1174.6,1160.6 L1174.6,1159.0 L1176.2,1159.0 L1176.2,1155.3 L1177.8,1155.3 L1177.8,1154.5 L1179.4,1154.5 L1179.4,1156.8 L1181.0,1156.8 L1181.0,1153.7 L1182.6,1153.7 L1182.6,1153.6 L1184.2,1153.6 L1184.2,1156.4 L1185.8,1156.4 L1185.8,1153.5 L1187.4,1153.5 L1187.4,1154.0 L1189.0,1154.0 L1189.0,1153.4 L1190.6,1153.4 L1190.6,1152.0 L1192.2,1152.0 L1192.2,1151.7 L1193.8,1151.7 L1193.8,1153.9 L1195.4,1153.9 L1195.4,1154.2 L1197.0,1154.2 L1197.0,1152.5 L1198.6,1152.5 L1198.6,1153.5 L1200.2,1153.5 L1200.2,1150.5 L1201.8,1150.5 L1201.8,1140.6 L1203.4,1140.6 L1203.4,1152.3 L1205.0,1152.3 L1205.0,1151.1 L1206.6,1151.1 L1206.6,1150.1 L1208.2,1150.1 L1208.2,1150.7 L1209.8,1150.7 L1209.8,1148.0 L1211.4,1148.0 L1211.4,1148.5 L1213.0,1148.5 L1213.0,1146.7 L1214.6,1146.7 L1214.6,1141.2 L1216.2,1141.2 L1216.2,1143.4 L1217.8,1143.4 L1217.8,1144.6 L1219.4,1144.6 L1219.4,1144.1 L1221.0,1144.1 L1221.0,1143.7 L1222.6,1143.7 L1222.6,1143.9 L1224.2,1143.9 L1224.2,1145.0 L1225.8,1145.0 L1225.8,1134.3 L1227.4,1134.3 L1227.4,1145.7 L1229.0,1145.7 L1229.0,1144.9 L1230.6,1144.9 L1230.6,1144.8 L1232.2,1144.8 L1232.2,1148.1 L1233.8,1148.1 L1233.8,1146.3 L1235.4,1146.3 L1235.4,1148.9 L1237.0,1148.9 L1237.0,1146.6 L1238.6,1146.6 L1238.6,1147.8 L1240.2,1147.8 L1240.2,1150.0 L1241.8,1150.0 L1241.8,1148.3 L1243.4,1148.3 L1243.4,1149.7 L1245.0,1149.7 L1245.0,1152.0 L1246.6,1152.0 L1246.6,1143.8 L1248.2,1143.8 L1248.2,1151.5 L1249.8,1151.5 L1249.8,1154.6 L1251.4,1154.6 L1251.4,1157.5 L1253.0,1157.5 L1253.0,1159.5 L1254.6,1159.5 L1254.6,1159.4 L1256.2,1159.4 L1256.2,1162.7 L1257.8,1162.7 L1257.8,1164.7 L1259.4,1164.7 L1259.4,1166.0 L1261.0,1166.0 L1261.0,1166.0 L1262.6,1166.0 L1262.6,1169.6 L1264.2,1169.6 L1264.2,1166.8 L1265.8,1166.8 L1265.8,1169.2 L1267.4,1169.2 L1267.4,1168.6 L1269.0,1168.6 L1269.0,1169.9 L1270.6,1169.9 L1270.6,1169.7 L1272.2,1169.7 L1272.2,1168.0 L1273.8,1168.0 L1273.8,1170.2 L1275.4,1170.2 L1275.4,1166.3 L1277.0,1166.3 L1277.0,1166.4 L1278.6,1166.4 L1278.6,1168.8 L1280.2,1168.8 L1280.2,1168.5 L1281.8,1168.5 L1281.8,1163.2 L1283.4,1163.2 L1283.4,1168.2 L1285.0,1168.2 L1285.0,1166.3 L1286.6,1166.3 L1286.6,1165.7 L1288.2,1165.7 L1288.2,1167.4 L1289.8,1167.4 L1289.8,1166.9 L1291.4,1166.9 L1291.4,1164.5 L1293.0,1164.5 L1293.0,1163.0 L1294.6,1163.0 L1294.6,1166.0 L1296.2,1166.0 L1296.2,1164.0 L1297.8,1164.0 L1297.8,1167.6 L1299.4,1167.6 L1299.4,1167.9 L1301.0,1167.9 L1301.0,1169.7 L1302.6,1169.7 L1302.6,1170.2 L1304.2,1170.2 L1304.2,1170.6 L1305.8,1170.6 L1305.8,1173.2 L1307.4,1173.2 L1307.4,1175.2 L1309.0,1175.2 L1309.0,1177.4 L1310.6,1177.4 L1310.6,1179.0 L1312.2,1179.0 L1312.2,1179.3 L1313.8,1179.3 L1313.8,1179.8 L1315.4,1179.8 L1315.4,1183.8 L1317.0,1183.8 L1317.0,1187.5 L1318.6,1187.5 L1318.6,1190.0 L1320.2,1190.0 L1320.2,1196.9 L1321.8,1196.9 L1321.8,1198.1 L1323.4,1198.1 L1323.4,1194.3 L1325.0,1194.3 L1325.0,1191.2 L1326.6,1191.2 L1326.6,1183.1 L1328.2,1183.1 L1328.2,1182.0 L1329.8,1182.0 L1329.8,1186.1 L1331.4,1186.1 L1331.4,1184.0 L1333.0,1184.0 L1333.0,1186.5 L1334.6,1186.5 L1334.6,1186.1 L1336.2,1186.1 L1336.2,1189.2 L1337.8,1189.2 L1337.8,1190.0 L1339.4,1190.0 L1339.4,1190.6 L1341.0,1190.6 L1341.0,1191.0 L1342.6,1191.0 L1342.6,1195.6 L1344.2,1195.6 L1344.2,1194.4 L1345.8,1194.4 L1345.8,1197.8 L1347.4,1197.8 L1347.4,1196.0 L1349.0,1196.0 L1349.0,1199.4 L1350.6,1199.4 L1350.6,1198.4 L1352.2,1198.4 L1352.2,1200.3 L1353.8,1200.3 L1353.8,1202.9 L1355.4,1202.9 L1355.4,1203.2 L1357.0,1203.2 L1357.0,1204.4 L1358.6,1204.4 L1358.6,1205.9 L1360.2,1205.9 L1360.2,1199.8 L1361.8,1199.8 L1361.8,1195.9 L1363.4,1195.9 L1363.4,1192.1 L1365.0,1192.1 L1365.0,1186.5 L1366.6,1186.5 L1366.6,1181.5 L1368.2,1181.5 L1368.2,1177.2 L1369.8,1177.2 L1369.8,1173.9 L1371.4,1173.9 L1371.4,1166.9 L1373.0,1166.9 L1373.0,1166.1 L1374.6,1166.1 L1374.6,1159.1 L1376.2,1159.1 L1376.2,1153.7 L1377.8,1153.7 L1377.8,1148.0 L1379.4,1148.0 L1379.4,1155.6 L1381.0,1155.6 L1381.0,1153.8 L1382.6,1153.8 L1382.6,1158.3 L1384.2,1158.3 L1384.2,1158.7 L1385.8,1158.7 L1385.8,1160.1 L1387.4,1160.1 L1387.4,1159.2 L1389.0,1159.2 L1389.0,1160.6 L1390.6,1160.6 L1390.6,1160.8 L1392.2,1160.8 L1392.2,1162.3 L1393.8,1162.3 L1393.8,1162.8 L1395.4,1162.8 L1395.4,1163.6 L1397.0,1163.6 L1397.0,1161.2 L1398.6,1161.2 L1398.6,1153.6 L1400.2,1153.6 L1400.2,1162.9 L1401.8,1162.9 L1401.8,1161.1 L1401.8,1256.4 L1401.8,1260.4 L1400.2,1260.4 L1400.2,1264.8 L1398.6,1264.8 L1398.6,1266.9 L1397.0,1266.9 L1397.0,1272.6 L1395.4,1272.6 L1395.4,1276.8 L1393.8,1276.8 L1393.8,1280.4 L1392.2,1280.4 L1392.2,1281.1 L1390.6,1281.1 L1390.6,1276.5 L1389.0,1276.5 L1389.0,1276.0 L1387.4,1276.0 L1387.4,1274.8 L1385.8,1274.8 L1385.8,1271.6 L1384.2,1271.6 L1384.2,1266.5 L1382.6,1266.5 L1382.6,1267.8 L1381.0,1267.8 L1381.0,1264.8 L1379.4,1264.8 L1379.4,1263.5 L1377.8,1263.5 L1377.8,1271.8 L1376.2,1271.8 L1376.2,1268.4 L1374.6,1268.4 L1374.6,1271.6 L1373.0,1271.6 L1373.0,1279.1 L1371.4,1279.1 L1371.4,1281.9 L1369.8,1281.9 L1369.8,1286.1 L1368.2,1286.1 L1368.2,1293.5 L1366.6,1293.5 L1366.6,1298.1 L1365.0,1298.1 L1365.0,1303.1 L1363.4,1303.1 L1363.4,1307.3 L1361.8,1307.3 L1361.8,1304.9 L1360.2,1304.9 L1360.2,1298.8 L1358.6,1298.8 L1358.6,1294.6 L1357.0,1294.6 L1357.0,1291.0 L1355.4,1291.0 L1355.4,1291.9 L1353.8,1291.9 L1353.8,1294.2 L1352.2,1294.2 L1352.2,1294.9 L1350.6,1294.9 L1350.6,1294.8 L1349.0,1294.8 L1349.0,1294.7 L1347.4,1294.7 L1347.4,1296.6 L1345.8,1296.6 L1345.8,1295.9 L1344.2,1295.9 L1344.2,1296.5 L1342.6,1296.5 L1342.6,1299.5 L1341.0,1299.5 L1341.0,1298.5 L1339.4,1298.5 L1339.4,1298.0 L1337.8,1298.0 L1337.8,1298.0 L1336.2,1298.0 L1336.2,1301.3 L1334.6,1301.3 L1334.6,1310.2 L1333.0,1310.2 L1333.0,1302.3 L1331.4,1302.3 L1331.4,1303.4 L1329.8,1303.4 L1329.8,1303.2 L1328.2,1303.2 L1328.2,1302.8 L1326.6,1302.8 L1326.6,1300.9 L1325.0,1300.9 L1325.0,1299.6 L1323.4,1299.6 L1323.4,1298.4 L1321.8,1298.4 L1321.8,1295.6 L1320.2,1295.6 L1320.2,1291.3 L1318.6,1291.3 L1318.6,1291.0 L1317.0,1291.0 L1317.0,1289.9 L1315.4,1289.9 L1315.4,1287.0 L1313.8,1287.0 L1313.8,1285.9 L1312.2,1285.9 L1312.2,1282.5 L1310.6,1282.5 L1310.6,1281.2 L1309.0,1281.2 L1309.0,1283.4 L1307.4,1283.4 L1307.4,1276.2 L1305.8,1276.2 L1305.8,1272.2 L1304.2,1272.2 L1304.2,1271.9 L1302.6,1271.9 L1302.6,1268.7 L1301.0,1268.7 L1301.0,1268.7 L1299.4,1268.7 L1299.4,1266.4 L1297.8,1266.4 L1297.8,1263.1 L1296.2,1263.1 L1296.2,1270.5 L1294.6,1270.5 L1294.6,1263.1 L1293.0,1263.1 L1293.0,1265.0 L1291.4,1265.0 L1291.4,1268.1 L1289.8,1268.1 L1289.8,1266.7 L1288.2,1266.7 L1288.2,1269.4 L1286.6,1269.4 L1286.6,1269.8 L1285.0,1269.8 L1285.0,1274.2 L1283.4,1274.2 L1283.4,1272.0 L1281.8,1272.0 L1281.8,1280.3 L1280.2,1280.3 L1280.2,1277.4 L1278.6,1277.4 L1278.6,1278.1 L1277.0,1278.1 L1277.0,1278.3 L1275.4,1278.3 L1275.4,1279.1 L1273.8,1279.1 L1273.8,1282.5 L1272.2,1282.5 L1272.2,1283.5 L1270.6,1283.5 L1270.6,1281.9 L1269.0,1281.9 L1269.0,1286.8 L1267.4,1286.8 L1267.4,1288.0 L1265.8,1288.0 L1265.8,1286.5 L1264.2,1286.5 L1264.2,1290.8 L1262.6,1290.8 L1262.6,1283.0 L1261.0,1283.0 L1261.0,1283.4 L1259.4,1283.4 L1259.4,1278.9 L1257.8,1278.9 L1257.8,1278.8 L1256.2,1278.8 L1256.2,1275.4 L1254.6,1275.4 L1254.6,1272.9 L1253.0,1272.9 L1253.0,1270.0 L1251.4,1270.0 L1251.4,1266.9 L1249.8,1266.9 L1249.8,1263.9 L1248.2,1263.9 L1248.2,1264.4 L1246.6,1264.4 L1246.6,1262.3 L1245.0,1262.3 L1245.0,1259.6 L1243.4,1259.6 L1243.4,1261.2 L1241.8,1261.2 L1241.8,1258.7 L1240.2,1258.7 L1240.2,1261.3 L1238.6,1261.3 L1238.6,1260.0 L1237.0,1260.0 L1237.0,1256.5 L1235.4,1256.5 L1235.4,1256.3 L1233.8,1256.3 L1233.8,1256.3 L1232.2,1256.3 L1232.2,1256.7 L1230.6,1256.7 L1230.6,1254.6 L1229.0,1254.6 L1229.0,1254.4 L1227.4,1254.4 L1227.4,1254.6 L1225.8,1254.6 L1225.8,1254.4 L1224.2,1254.4 L1224.2,1255.1 L1222.6,1255.1 L1222.6,1251.8 L1221.0,1251.8 L1221.0,1253.7 L1219.4,1253.7 L1219.4,1250.9 L1217.8,1250.9 L1217.8,1250.0 L1216.2,1250.0 L1216.2,1249.8 L1214.6,1249.8 L1214.6,1250.2 L1213.0,1250.2 L1213.0,1250.4 L1211.4,1250.4 L1211.4,1246.9 L1209.8,1246.9 L1209.8,1247.1 L1208.2,1247.1 L1208.2,1248.3 L1206.6,1248.3 L1206.6,1251.9 L1205.0,1251.9 L1205.0,1259.4 L1203.4,1259.4 L1203.4,1269.9 L1201.8,1269.9 L1201.8,1279.1 L1200.2,1279.1 L1200.2,1282.5 L1198.6,1282.5 L1198.6,1283.2 L1197.0,1283.2 L1197.0,1279.5 L1195.4,1279.5 L1195.4,1279.7 L1193.8,1279.7 L1193.8,1279.2 L1192.2,1279.2 L1192.2,1280.0 L1190.6,1280.0 L1190.6,1279.8 L1189.0,1279.8 L1189.0,1278.6 L1187.4,1278.6 L1187.4,1278.1 L1185.8,1278.1 L1185.8,1279.9 L1184.2,1279.9 L1184.2,1277.7 L1182.6,1277.7 L1182.6,1278.8 L1181.0,1278.8 L1181.0,1278.7 L1179.4,1278.7 L1179.4,1279.4 L1177.8,1279.4 L1177.8,1277.2 L1176.2,1277.2 L1176.2,1275.9 L1174.6,1275.9 L1174.6,1275.9 L1173.0,1275.9 L1173.0,1274.9 L1171.4,1274.9 L1171.4,1275.1 L1169.8,1275.1 L1169.8,1273.8 L1168.2,1273.8 L1168.2,1274.7 L1166.6,1274.7 L1166.6,1288.3 L1165.0,1288.3 L1165.0,1281.3 L1163.4,1281.3 L1163.4,1284.6 L1161.8,1284.6 L1161.8,1285.1 L1160.2,1285.1 L1160.2,1289.5 L1158.6,1289.5 L1158.6,1293.4 L1157.0,1293.4 L1157.0,1291.5 L1155.4,1291.5 L1155.4,1293.6 L1153.8,1293.6 L1153.8,1294.0 L1152.2,1294.0 L1152.2,1296.6 L1150.6,1296.6 L1150.6,1297.9 L1149.0,1297.9 L1149.0,1299.3 L1147.4,1299.3 L1147.4,1297.6 L1145.8,1297.6 L1145.8,1300.4 L1144.2,1300.4 L1144.2,1301.8 L1142.6,1301.8 L1142.6,1303.2 L1141.0,1303.2 L1141.0,1303.2 L1139.4,1303.2 L1139.4,1303.0 L1137.8,1303.0 L1137.8,1301.0 L1136.2,1301.0 L1136.2,1301.1 L1134.6,1301.1 L1134.6,1297.8 L1133.0,1297.8 L1133.0,1297.7 L1131.4,1297.7 L1131.4,1302.7 L1129.8,1302.7 L1129.8,1295.9 L1128.2,1295.9 L1128.2,1295.5 L1126.6,1295.5 L1126.6,1294.4 L1125.0,1294.4 L1125.0,1291.9 L1123.4,1291.9 L1123.4,1292.7 L1121.8,1292.7 L1121.8,1290.1 L1120.2,1290.1 L1120.2,1288.8 L1118.6,1288.8 L1118.6,1289.5 L1117.0,1289.5 L1117.0,1285.2 L1115.4,1285.2 L1115.4,1285.5 L1113.8,1285.5 L1113.8,1284.4 L1112.2,1284.4 L1112.2,1285.3 L1110.6,1285.3 L1110.6,1296.5 L1109.0,1296.5 L1109.0,1307.6 L1107.4,1307.6 L1107.4,1315.4 L1105.8,1315.4 L1105.8,1322.4 L1104.2,1322.4 L1104.2,1324.5 L1102.6,1324.5 L1102.6,1327.3 L1101.0,1327.3 L1101.0,1329.4 L1099.4,1329.4 L1099.4,1330.0 L1097.8,1330.0 L1097.8,1332.0 L1096.2,1332.0 L1096.2,1332.8 L1094.6,1332.8 L1094.6,1337.9 L1093.0,1337.9 L1093.0,1339.1 L1091.4,1339.1 L1091.4,1335.9 L1089.8,1335.9 L1089.8,1333.2 L1088.2,1333.2 L1088.2,1327.5 L1086.6,1327.5 L1086.6,1323.7 L1085.0,1323.7 L1085.0,1319.4 L1083.4,1319.4 L1083.4,1313.8 L1081.8,1313.8 L1081.8,1312.1 L1080.2,1312.1 L1080.2,1312.6 L1078.6,1312.6 L1078.6,1309.0 L1077.0,1309.0 L1077.0,1306.8 L1075.4,1306.8 L1075.4,1307.0 L1073.8,1307.0 L1073.8,1308.6 L1072.2,1308.6 L1072.2,1302.2 L1070.6,1302.2 L1070.6,1299.7 L1069.0,1299.7 L1069.0,1301.8 L1067.4,1301.8 L1067.4,1299.2 L1065.8,1299.2 L1065.8,1297.4 L1064.2,1297.4 L1064.2,1298.4 L1062.6,1298.4 L1062.6,1295.2 L1061.0,1295.2 L1061.0,1295.4 L1059.4,1295.4 L1059.4,1295.5 L1057.8,1295.5 L1057.8,1292.7 L1056.2,1292.7 L1056.2,1293.1 L1054.6,1293.1 L1054.6,1292.7 L1053.0,1292.7 L1053.0,1292.4 L1051.4,1292.4 L1051.4,1292.2 L1049.8,1292.2 L1049.8,1289.5 L1048.2,1289.5 L1048.2,1288.8 L1046.6,1288.8 L1046.6,1294.9 L1045.0,1294.9 L1045.0,1288.4 L1043.4,1288.4 L1043.4,1285.5 L1041.8,1285.5 L1041.8,1293.3 L1040.2,1293.3 L1040.2,1281.7 L1038.6,1281.7 L1038.6,1281.7 L1037.0,1281.7 L1037.0,1282.9 L1035.4,1282.9 L1035.4,1281.1 L1033.8,1281.1 L1033.8,1283.3 L1032.2,1283.3 L1032.2,1280.4 L1030.6,1280.4 L1030.6,1278.8 L1029.0,1278.8 L1029.0,1274.9 L1027.4,1274.9 L1027.4,1273.8 L1025.8,1273.8 L1025.8,1273.3 L1024.2,1273.3 L1024.2,1280.6 L1022.6,1280.6 L1022.6,1274.2 L1021.0,1274.2 L1021.0,1274.4 L1019.4,1274.4 L1019.4,1273.6 L1017.8,1273.6 L1017.8,1273.7 L1016.2,1273.7 L1016.2,1272.1 L1014.6,1272.1 L1014.6,1271.6 L1013.0,1271.6 L1013.0,1271.9 L1011.4,1271.9 L1011.4,1273.8 L1009.8,1273.8 L1009.8,1272.0 L1008.2,1272.0 L1008.2,1273.5 L1006.6,1273.5 L1006.6,1281.9 L1005.0,1281.9 L1005.0,1293.1 L1003.4,1293.1 L1003.4,1290.3 L1001.8,1290.3 L1001.8,1288.9 L1000.2,1288.9 L1000.2,1289.9 L998.6,1289.9 L998.6,1288.9 L997.0,1288.9 L997.0,1287.6 L995.4,1287.6 L995.4,1287.5 L993.8,1287.5 L993.8,1286.6 L992.2,1286.6 L992.2,1296.8 L990.6,1296.8 L990.6,1294.7 L989.0,1294.7 L989.0,1285.7 L987.4,1285.7 L987.4,1284.8 L985.8,1284.8 L985.8,1285.7 L984.2,1285.7 L984.2,1283.5 L982.6,1283.5 L982.6,1284.8 L981.0,1284.8 L981.0,1283.6 L979.4,1283.6 L979.4,1282.2 L977.8,1282.2 L977.8,1282.0 L976.2,1282.0 L976.2,1280.7 L974.6,1280.7 L974.6,1282.5 L973.0,1282.5 L973.0,1281.9 L971.4,1281.9 L971.4,1279.9 L969.8,1279.9 L969.8,1277.5 L968.2,1277.5 L968.2,1278.5 L966.6,1278.5 L966.6,1278.6 L965.0,1278.6 L965.0,1275.1 L963.4,1275.1 L963.4,1273.1 L961.8,1273.1 L961.8,1272.6 L960.2,1272.6 L960.2,1269.0 L958.6,1269.0 L958.6,1268.7 L957.0,1268.7 L957.0,1269.6 L955.4,1269.6 L955.4,1268.5 L953.8,1268.5 L953.8,1265.3 L952.2,1265.3 L952.2,1265.3 L950.6,1265.3 L950.6,1263.4 L949.0,1263.4 L949.0,1261.1 L947.4,1261.1 L947.4,1260.8 L945.8,1260.8 L945.8,1260.3 L944.2,1260.3 L944.2,1265.1 L942.6,1265.1 L942.6,1265.0 L941.0,1265.0 L941.0,1264.4 L939.4,1264.4 L939.4,1264.8 L937.8,1264.8 L937.8,1268.9 L936.2,1268.9 L936.2,1270.2 L934.6,1270.2 L934.6,1271.8 L933.0,1271.8 L933.0,1270.2 L931.4,1270.2 L931.4,1275.2 L929.8,1275.2 L929.8,1278.6 L928.2,1278.6 L928.2,1277.8 L926.6,1277.8 L926.6,1281.8 L925.0,1281.8 L925.0,1283.8 L923.4,1283.8 L923.4,1285.9 L921.8,1285.9 L921.8,1288.3 L920.2,1288.3 L920.2,1293.2 L918.6,1293.2 L918.6,1295.7 L917.0,1295.7 L917.0,1295.1 L915.4,1295.1 L915.4,1307.5 L913.8,1307.5 L913.8,1299.6 L912.2,1299.6 L912.2,1301.4 L910.6,1301.4 L910.6,1301.2 L909.0,1301.2 L909.0,1299.4 L907.4,1299.4 L907.4,1302.2 L905.8,1302.2 L905.8,1299.9 L904.2,1299.9 L904.2,1300.8 L902.6,1300.8 L902.6,1302.1 L901.0,1302.1 L901.0,1303.3 L899.4,1303.3 L899.4,1307.0 L897.8,1307.0 L897.8,1310.6 L896.2,1310.6 L896.2,1309.5 L894.6,1309.5 L894.6,1300.4 L893.0,1300.4 L893.0,1304.0 L891.4,1304.0 L891.4,1300.9 L889.8,1300.9 L889.8,1309.6 L888.2,1309.6 L888.2,1302.0 L886.6,1302.0 L886.6,1304.8 L885.0,1304.8 L885.0,1303.6 L883.4,1303.6 L883.4,1302.0 L881.8,1302.0 L881.8,1302.5 L880.2,1302.5 L880.2,1307.3 L878.6,1307.3 L878.6,1303.3 L877.0,1303.3 L877.0,1304.1 L875.4,1304.1 L875.4,1300.2 L873.8,1300.2 L873.8,1301.5 L872.2,1301.5 L872.2,1300.5 L870.6,1300.5 L870.6,1296.8 L869.0,1296.8 L869.0,1295.0 L867.4,1295.0 L867.4,1306.0 L865.8,1306.0 L865.8,1295.2 L864.2,1295.2 L864.2,1302.4 L862.6,1302.4 L862.6,1291.2 L861.0,1291.2 L861.0,1292.1 L859.4,1292.1 L859.4,1291.0 L857.8,1291.0 L857.8,1290.6 L856.2,1290.6 L856.2,1285.9 L854.6,1285.9 L854.6,1285.5 L853.0,1285.5 L853.0,1285.4 L851.4,1285.4 L851.4,1283.6 L849.8,1283.6 L849.8,1280.8 L848.2,1280.8 L848.2,1277.1 L846.6,1277.1 L846.6,1284.9 L845.0,1284.9 L845.0,1272.2 L843.4,1272.2 L843.4,1272.8 L841.8,1272.8 L841.8,1269.0 L840.2,1269.0 L840.2,1262.9 L838.6,1262.9 L838.6,1262.1 L837.0,1262.1 L837.0,1254.3 L835.4,1254.3 L835.4,1249.0 L833.8,1249.0 L833.8,1246.7 L832.2,1246.7 Z" fill="rgba(0,0,255,0.1)" stroke="none"/>
<line x1="831.5" y1="1242.2" x2="1403.8" y2="1242.2" stroke="#808080" stroke-width="3.2" stroke-dasharray="13.7,7"/>
<path d="M832.2,1242.0 L836.2,1242.0 L836.2,1241.6 L840.2,1241.6 L840.2,1241.0 L844.2,1241.0 L844.2,1241.7 L848.2,1241.7 L848.2,1241.5 L852.2,1241.5 L852.2,1242.7 L856.2,1242.7 L856.2,1244.3 L860.2,1244.3 L860.2,1243.1 L864.2,1243.1 L864.2,1241.5 L868.2,1241.5 L868.2,1241.1 L872.2,1241.1 L872.2,1242.2 L876.2,1242.2 L876.2,1241.0 L880.2,1241.0 L880.2,1243.6 L884.2,1243.6 L884.2,1242.3 L888.2,1242.3 L888.2,1237.4 L892.2,1237.4 L892.2,1234.7 L896.2,1234.7 L896.2,1240.2 L900.2,1240.2 L900.2,1244.0 L904.2,1244.0 L904.2,1244.7 L908.2,1244.7 L908.2,1244.6 L912.2,1244.6 L912.2,1232.9 L916.2,1232.9 L916.2,1233.3 L920.2,1233.3 L920.2,1234.4 L924.2,1234.4 L924.2,1241.0 L928.2,1241.0 L928.2,1234.4 L932.2,1234.4 L932.2,1214.3 L936.2,1214.3 L936.2,1210.9 L940.2,1210.9 L940.2,1207.3 L944.2,1207.3 L944.2,1208.6 L948.2,1208.6 L948.2,1210.6 L952.2,1210.6 L952.2,1212.3 L956.2,1212.3 L956.2,1215.4 L960.2,1215.4 L960.2,1217.8 L964.2,1217.8 L964.2,1220.4 L968.2,1220.4 L968.2,1222.8 L972.2,1222.8 L972.2,1225.6 L976.2,1225.6 L976.2,1228.3 L980.2,1228.3 L980.2,1227.3 L984.2,1227.3 L984.2,1222.4 L988.2,1222.4 L988.2,1225.8 L992.2,1225.8 L992.2,1228.8 L996.2,1228.8 L996.2,1232.1 L1000.2,1232.1 L1000.2,1237.4 L1004.2,1237.4 L1004.2,1228.3 L1008.2,1228.3 L1008.2,1219.0 L1012.2,1219.0 L1012.2,1218.9 L1016.2,1218.9 L1016.2,1218.1 L1020.2,1218.1 L1020.2,1219.4 L1024.2,1219.4 L1024.2,1219.3 L1028.2,1219.3 L1028.2,1222.6 L1032.2,1222.6 L1032.2,1223.6 L1036.2,1223.6 L1036.2,1226.1 L1040.2,1226.1 L1040.2,1229.2 L1044.2,1229.2 L1044.2,1230.7 L1048.2,1230.7 L1048.2,1234.0 L1052.2,1234.0 L1052.2,1236.5 L1056.2,1236.5 L1056.2,1237.5 L1060.2,1237.5 L1060.2,1240.3 L1064.2,1240.3 L1064.2,1241.9 L1068.2,1241.9 L1068.2,1245.1 L1072.2,1245.1 L1072.2,1245.7 L1076.2,1245.7 L1076.2,1245.6 L1080.2,1245.6 L1080.2,1248.5 L1084.2,1248.5 L1084.2,1274.4 L1088.2,1274.4 L1088.2,1288.8 L1092.2,1288.8 L1092.2,1291.6 L1096.2,1291.6 L1096.2,1283.7 L1100.2,1283.7 L1100.2,1271.6 L1104.2,1271.6 L1104.2,1259.9 L1108.2,1259.9 L1108.2,1243.0 L1112.2,1243.0 L1112.2,1229.3 L1116.2,1229.3 L1116.2,1226.7 L1120.2,1226.7 L1120.2,1222.7 L1124.2,1222.7 L1124.2,1222.7 L1128.2,1222.7 L1128.2,1228.3 L1132.2,1228.3 L1132.2,1228.9 L1136.2,1228.9 L1136.2,1235.3 L1140.2,1235.3 L1140.2,1240.8 L1144.2,1240.8 L1144.2,1234.9 L1148.2,1234.9 L1148.2,1234.1 L1152.2,1234.1 L1152.2,1232.3 L1156.2,1232.3 L1156.2,1235.9 L1160.2,1235.9 L1160.2,1220.7 L1164.2,1220.7 L1164.2,1220.1 L1168.2,1220.1 L1168.2,1224.2 L1172.2,1224.2 L1172.2,1227.2 L1176.2,1227.2 L1176.2,1225.4 L1180.2,1225.4 L1180.2,1219.1 L1184.2,1219.1 L1184.2,1214.2 L1188.2,1214.2 L1188.2,1218.7 L1192.2,1218.7 L1192.2,1221.8 L1196.2,1221.8 L1196.2,1223.1 L1200.2,1223.1 L1200.2,1223.0 L1204.2,1223.0 L1204.2,1209.0 L1208.2,1209.0 L1208.2,1200.8 L1212.2,1200.8 L1212.2,1197.5 L1216.2,1197.5 L1216.2,1197.3 L1220.2,1197.3 L1220.2,1196.3 L1224.2,1196.3 L1224.2,1199.2 L1228.2,1199.2 L1228.2,1208.7 L1232.2,1208.7 L1232.2,1209.7 L1236.2,1209.7 L1236.2,1209.6 L1240.2,1209.6 L1240.2,1206.6 L1244.2,1206.6 L1244.2,1200.3 L1248.2,1200.3 L1248.2,1215.4 L1252.2,1215.4 L1252.2,1220.1 L1256.2,1220.1 L1256.2,1222.8 L1260.2,1222.8 L1260.2,1227.5 L1264.2,1227.5 L1264.2,1239.1 L1268.2,1239.1 L1268.2,1234.4 L1272.2,1234.4 L1272.2,1232.9 L1276.2,1232.9 L1276.2,1230.2 L1280.2,1230.2 L1280.2,1226.0 L1284.2,1226.0 L1284.2,1223.3 L1288.2,1223.3 L1288.2,1218.0 L1292.2,1218.0 L1292.2,1214.3 L1296.2,1214.3 L1296.2,1212.1 L1300.2,1212.1 L1300.2,1214.4 L1304.2,1214.4 L1304.2,1216.8 L1308.2,1216.8 L1308.2,1219.7 L1312.2,1219.7 L1312.2,1223.0 L1316.2,1223.0 L1316.2,1236.1 L1320.2,1236.1 L1320.2,1248.0 L1324.2,1248.0 L1324.2,1251.5 L1328.2,1251.5 L1328.2,1247.9 L1332.2,1247.9 L1332.2,1234.3 L1336.2,1234.3 L1336.2,1230.5 L1340.2,1230.5 L1340.2,1226.7 L1344.2,1226.7 L1344.2,1224.1 L1348.2,1224.1 L1348.2,1223.7 L1352.2,1223.7 L1352.2,1225.8 L1356.2,1225.8 L1356.2,1242.0 L1360.2,1242.0 L1360.2,1253.9 L1364.2,1253.9 L1364.2,1249.5 L1368.2,1249.5 L1368.2,1234.7 L1372.2,1234.7 L1372.2,1230.8 L1376.2,1230.8 L1376.2,1215.0 L1380.2,1215.0 L1380.2,1205.8 L1384.2,1205.8 L1384.2,1207.2 L1388.2,1207.2 L1388.2,1216.4 L1392.2,1216.4 L1392.2,1226.4 L1396.2,1226.4 L1396.2,1211.9 L1400.2,1211.9 L1400.2,1210.4" fill="none" stroke="#000" stroke-width="2.5" stroke-dasharray="5.5,5" stroke-linejoin="round" />
</g>
<circle cx="1403.7" cy="647.8" r="11.8" fill="#ff00ff"/>
<circle cx="1403.7" cy="687.8" r="11.8" fill="#ff00ff"/>
<circle cx="1403.7" cy="897.8" r="11.8" fill="#ff00ff"/>
<circle cx="1403.7" cy="1242.2" r="11.8" fill="#ff00ff"/>
<rect x="146.0" y="128.0" width="571.8" height="271.6" fill="none" stroke="#000" stroke-width="1.5"/>
<line x1="212.8" y1="399.6" x2="212.8" y2="408.2" stroke="#000" stroke-width="1.6"/>
<text x="212.8" y="434.2" font-size="21.2" text-anchor="middle" font-weight="normal" font-style="normal" fill="#000" textLength="50.4" lengthAdjust="spacingAndGlyphs" >2002</text>
<line x1="297.4" y1="399.6" x2="297.4" y2="408.2" stroke="#000" stroke-width="1.6"/>
<text x="297.4" y="434.2" font-size="21.2" text-anchor="middle" font-weight="normal" font-style="normal" fill="#000" textLength="50.4" lengthAdjust="spacingAndGlyphs" >2004</text>
<line x1="382.0" y1="399.6" x2="382.0" y2="408.2" stroke="#000" stroke-width="1.6"/>
<text x="382.0" y="434.2" font-size="21.2" text-anchor="middle" font-weight="normal" font-style="normal" fill="#000" textLength="50.4" lengthAdjust="spacingAndGlyphs" >2006</text>
<line x1="466.6" y1="399.6" x2="466.6" y2="408.2" stroke="#000" stroke-width="1.6"/>
<text x="466.6" y="434.2" font-size="21.2" text-anchor="middle" font-weight="normal" font-style="normal" fill="#000" textLength="50.4" lengthAdjust="spacingAndGlyphs" >2008</text>
<line x1="551.2" y1="399.6" x2="551.2" y2="408.2" stroke="#000" stroke-width="1.6"/>
<text x="551.2" y="434.2" font-size="21.2" text-anchor="middle" font-weight="normal" font-style="normal" fill="#000" textLength="50.4" lengthAdjust="spacingAndGlyphs" >2010</text>
<line x1="635.8" y1="399.6" x2="635.8" y2="408.2" stroke="#000" stroke-width="1.6"/>
<text x="635.8" y="434.2" font-size="21.2" text-anchor="middle" font-weight="normal" font-style="normal" fill="#000" textLength="50.4" lengthAdjust="spacingAndGlyphs" >2012</text>
<line x1="137.4" y1="178.7" x2="146.0" y2="178.7" stroke="#000" stroke-width="1.6"/>
<text x="126.7" y="186.6" font-size="21.2" text-anchor="end" font-weight="normal" font-style="normal" fill="#000" textLength="38.1" lengthAdjust="spacingAndGlyphs" >250</text>
<line x1="137.4" y1="263.5" x2="146.0" y2="263.5" stroke="#000" stroke-width="1.6"/>
<text x="126.7" y="271.4" font-size="21.2" text-anchor="end" font-weight="normal" font-style="normal" fill="#000" textLength="38.1" lengthAdjust="spacingAndGlyphs" >200</text>
<line x1="137.4" y1="347.8" x2="146.0" y2="347.8" stroke="#000" stroke-width="1.6"/>
<text x="126.7" y="355.7" font-size="21.2" text-anchor="end" font-weight="normal" font-style="normal" fill="#000" textLength="38.1" lengthAdjust="spacingAndGlyphs" >150</text>
<rect x="146.0" y="454.2" width="571.8" height="271.6" fill="none" stroke="#000" stroke-width="1.5"/>
<line x1="212.8" y1="725.8" x2="212.8" y2="734.4" stroke="#000" stroke-width="1.6"/>
<text x="212.8" y="760.4" font-size="21.2" text-anchor="middle" font-weight="normal" font-style="normal" fill="#000" textLength="50.4" lengthAdjust="spacingAndGlyphs" >2002</text>
<line x1="297.4" y1="725.8" x2="297.4" y2="734.4" stroke="#000" stroke-width="1.6"/>
<text x="297.4" y="760.4" font-size="21.2" text-anchor="middle" font-weight="normal" font-style="normal" fill="#000" textLength="50.4" lengthAdjust="spacingAndGlyphs" >2004</text>
<line x1="382.0" y1="725.8" x2="382.0" y2="734.4" stroke="#000" stroke-width="1.6"/>
<text x="382.0" y="760.4" font-size="21.2" text-anchor="middle" font-weight="normal" font-style="normal" fill="#000" textLength="50.4" lengthAdjust="spacingAndGlyphs" >2006</text>
<line x1="466.6" y1="725.8" x2="466.6" y2="734.4" stroke="#000" stroke-width="1.6"/>
<text x="466.6" y="760.4" font-size="21.2" text-anchor="middle" font-weight="normal" font-style="normal" fill="#000" textLength="50.4" lengthAdjust="spacingAndGlyphs" >2008</text>
<line x1="551.2" y1="725.8" x2="551.2" y2="734.4" stroke="#000" stroke-width="1.6"/>
<text x="551.2" y="760.4" font-size="21.2" text-anchor="middle" font-weight="normal" font-style="normal" fill="#000" textLength="50.4" lengthAdjust="spacingAndGlyphs" >2010</text>
<line x1="635.8" y1="725.8" x2="635.8" y2="734.4" stroke="#000" stroke-width="1.6"/>
<text x="635.8" y="760.4" font-size="21.2" text-anchor="middle" font-weight="normal" font-style="normal" fill="#000" textLength="50.4" lengthAdjust="spacingAndGlyphs" >2012</text>
<line x1="137.4" y1="540.0" x2="146.0" y2="540.0" stroke="#000" stroke-width="1.6"/>
<text x="126.7" y="547.9" font-size="21.2" text-anchor="end" font-weight="normal" font-style="normal" fill="#000" textLength="77.7" lengthAdjust="spacingAndGlyphs" >1.5e-07</text>
<line x1="137.4" y1="601.7" x2="146.0" y2="601.7" stroke="#000" stroke-width="1.6"/>
<text x="126.7" y="609.6" font-size="21.2" text-anchor="end" font-weight="normal" font-style="normal" fill="#000" textLength="58.7" lengthAdjust="spacingAndGlyphs" >1e-07</text>
<line x1="137.4" y1="663.6" x2="146.0" y2="663.6" stroke="#000" stroke-width="1.6"/>
<text x="126.7" y="671.5" font-size="21.2" text-anchor="end" font-weight="normal" font-style="normal" fill="#000" textLength="58.7" lengthAdjust="spacingAndGlyphs" >5e-08</text>
<rect x="146.0" y="780.4" width="571.8" height="271.6" fill="none" stroke="#000" stroke-width="1.5"/>
<line x1="212.8" y1="1052.0" x2="212.8" y2="1060.6" stroke="#000" stroke-width="1.6"/>
<text x="212.8" y="1086.6" font-size="21.2" text-anchor="middle" font-weight="normal" font-style="normal" fill="#000" textLength="50.4" lengthAdjust="spacingAndGlyphs" >2002</text>
<line x1="297.4" y1="1052.0" x2="297.4" y2="1060.6" stroke="#000" stroke-width="1.6"/>
<text x="297.4" y="1086.6" font-size="21.2" text-anchor="middle" font-weight="normal" font-style="normal" fill="#000" textLength="50.4" lengthAdjust="spacingAndGlyphs" >2004</text>
<line x1="382.0" y1="1052.0" x2="382.0" y2="1060.6" stroke="#000" stroke-width="1.6"/>
<text x="382.0" y="1086.6" font-size="21.2" text-anchor="middle" font-weight="normal" font-style="normal" fill="#000" textLength="50.4" lengthAdjust="spacingAndGlyphs" >2006</text>
<line x1="466.6" y1="1052.0" x2="466.6" y2="1060.6" stroke="#000" stroke-width="1.6"/>
<text x="466.6" y="1086.6" font-size="21.2" text-anchor="middle" font-weight="normal" font-style="normal" fill="#000" textLength="50.4" lengthAdjust="spacingAndGlyphs" >2008</text>
<line x1="551.2" y1="1052.0" x2="551.2" y2="1060.6" stroke="#000" stroke-width="1.6"/>
<text x="551.2" y="1086.6" font-size="21.2" text-anchor="middle" font-weight="normal" font-style="normal" fill="#000" textLength="50.4" lengthAdjust="spacingAndGlyphs" >2010</text>
<line x1="635.8" y1="1052.0" x2="635.8" y2="1060.6" stroke="#000" stroke-width="1.6"/>
<text x="635.8" y="1086.6" font-size="21.2" text-anchor="middle" font-weight="normal" font-style="normal" fill="#000" textLength="50.4" lengthAdjust="spacingAndGlyphs" >2012</text>
<line x1="137.4" y1="824.4" x2="146.0" y2="824.4" stroke="#000" stroke-width="1.6"/>
<text x="116.0" y="833.7" font-size="21.2" text-anchor="end" font-weight="normal" font-style="normal" fill="#000" textLength="23.2" lengthAdjust="spacingAndGlyphs" >10</text>
<text x="119.0" y="824.8" font-size="14.5" text-anchor="start" font-weight="normal" font-style="normal" fill="#000" textLength="9.0" lengthAdjust="spacingAndGlyphs" >3</text>
<line x1="137.4" y1="919.6" x2="146.0" y2="919.6" stroke="#000" stroke-width="1.6"/>
<text x="116.0" y="928.9" font-size="21.2" text-anchor="end" font-weight="normal" font-style="normal" fill="#000" textLength="23.2" lengthAdjust="spacingAndGlyphs" >10</text>
<text x="119.0" y="920.0" font-size="14.5" text-anchor="start" font-weight="normal" font-style="normal" fill="#000" textLength="9.0" lengthAdjust="spacingAndGlyphs" >2</text>
<line x1="137.4" y1="1014.0" x2="146.0" y2="1014.0" stroke="#000" stroke-width="1.6"/>
<text x="116.0" y="1023.3" font-size="21.2" text-anchor="end" font-weight="normal" font-style="normal" fill="#000" textLength="23.2" lengthAdjust="spacingAndGlyphs" >10</text>
<text x="119.0" y="1014.4" font-size="14.5" text-anchor="start" font-weight="normal" font-style="normal" fill="#000" textLength="9.0" lengthAdjust="spacingAndGlyphs" >1</text>
<line x1="141.1" y1="1051.7" x2="146.0" y2="1051.7" stroke="#000" stroke-width="1.3"/>
<line x1="141.1" y1="1042.5" x2="146.0" y2="1042.5" stroke="#000" stroke-width="1.3"/>
<line x1="141.1" y1="1035.0" x2="146.0" y2="1035.0" stroke="#000" stroke-width="1.3"/>
<line x1="141.1" y1="1028.7" x2="146.0" y2="1028.7" stroke="#000" stroke-width="1.3"/>
<line x1="141.1" y1="1023.2" x2="146.0" y2="1023.2" stroke="#000" stroke-width="1.3"/>
<line x1="141.1" y1="1018.3" x2="146.0" y2="1018.3" stroke="#000" stroke-width="1.3"/>
<line x1="141.1" y1="985.5" x2="146.0" y2="985.5" stroke="#000" stroke-width="1.3"/>
<line x1="141.1" y1="968.8" x2="146.0" y2="968.8" stroke="#000" stroke-width="1.3"/>
<line x1="141.1" y1="956.9" x2="146.0" y2="956.9" stroke="#000" stroke-width="1.3"/>
<line x1="141.1" y1="947.7" x2="146.0" y2="947.7" stroke="#000" stroke-width="1.3"/>
<line x1="141.1" y1="940.2" x2="146.0" y2="940.2" stroke="#000" stroke-width="1.3"/>
<line x1="141.1" y1="933.9" x2="146.0" y2="933.9" stroke="#000" stroke-width="1.3"/>
<line x1="141.1" y1="928.4" x2="146.0" y2="928.4" stroke="#000" stroke-width="1.3"/>
<line x1="141.1" y1="923.5" x2="146.0" y2="923.5" stroke="#000" stroke-width="1.3"/>
<line x1="141.1" y1="890.7" x2="146.0" y2="890.7" stroke="#000" stroke-width="1.3"/>
<line x1="141.1" y1="874.0" x2="146.0" y2="874.0" stroke="#000" stroke-width="1.3"/>
<line x1="141.1" y1="862.1" x2="146.0" y2="862.1" stroke="#000" stroke-width="1.3"/>
<line x1="141.1" y1="852.9" x2="146.0" y2="852.9" stroke="#000" stroke-width="1.3"/>
<line x1="141.1" y1="845.4" x2="146.0" y2="845.4" stroke="#000" stroke-width="1.3"/>
<line x1="141.1" y1="839.1" x2="146.0" y2="839.1" stroke="#000" stroke-width="1.3"/>
<line x1="141.1" y1="833.6" x2="146.0" y2="833.6" stroke="#000" stroke-width="1.3"/>
<line x1="141.1" y1="828.7" x2="146.0" y2="828.7" stroke="#000" stroke-width="1.3"/>
<line x1="141.1" y1="795.9" x2="146.0" y2="795.9" stroke="#000" stroke-width="1.3"/>
<rect x="146.0" y="1106.6" width="571.8" height="271.6" fill="none" stroke="#000" stroke-width="1.5"/>
<line x1="212.8" y1="1378.2" x2="212.8" y2="1386.8" stroke="#000" stroke-width="1.6"/>
<text x="212.8" y="1412.8" font-size="21.2" text-anchor="middle" font-weight="normal" font-style="normal" fill="#000" textLength="50.4" lengthAdjust="spacingAndGlyphs" >2002</text>
<line x1="297.4" y1="1378.2" x2="297.4" y2="1386.8" stroke="#000" stroke-width="1.6"/>
<text x="297.4" y="1412.8" font-size="21.2" text-anchor="middle" font-weight="normal" font-style="normal" fill="#000" textLength="50.4" lengthAdjust="spacingAndGlyphs" >2004</text>
<line x1="382.0" y1="1378.2" x2="382.0" y2="1386.8" stroke="#000" stroke-width="1.6"/>
<text x="382.0" y="1412.8" font-size="21.2" text-anchor="middle" font-weight="normal" font-style="normal" fill="#000" textLength="50.4" lengthAdjust="spacingAndGlyphs" >2006</text>
<line x1="466.6" y1="1378.2" x2="466.6" y2="1386.8" stroke="#000" stroke-width="1.6"/>
<text x="466.6" y="1412.8" font-size="21.2" text-anchor="middle" font-weight="normal" font-style="normal" fill="#000" textLength="50.4" lengthAdjust="spacingAndGlyphs" >2008</text>
<line x1="551.2" y1="1378.2" x2="551.2" y2="1386.8" stroke="#000" stroke-width="1.6"/>
<text x="551.2" y="1412.8" font-size="21.2" text-anchor="middle" font-weight="normal" font-style="normal" fill="#000" textLength="50.4" lengthAdjust="spacingAndGlyphs" >2010</text>
<line x1="635.8" y1="1378.2" x2="635.8" y2="1386.8" stroke="#000" stroke-width="1.6"/>
<text x="635.8" y="1412.8" font-size="21.2" text-anchor="middle" font-weight="normal" font-style="normal" fill="#000" textLength="50.4" lengthAdjust="spacingAndGlyphs" >2012</text>
<line x1="137.4" y1="1164.3" x2="146.0" y2="1164.3" stroke="#000" stroke-width="1.6"/>
<text x="126.7" y="1172.2" font-size="21.2" text-anchor="end" font-weight="normal" font-style="normal" fill="#000" textLength="25.4" lengthAdjust="spacingAndGlyphs" >20</text>
<line x1="137.4" y1="1242.2" x2="146.0" y2="1242.2" stroke="#000" stroke-width="1.6"/>
<text x="126.7" y="1250.1" font-size="21.2" text-anchor="end" font-weight="normal" font-style="normal" fill="#000" textLength="12.7" lengthAdjust="spacingAndGlyphs" >0</text>
<line x1="137.4" y1="1319.7" x2="146.0" y2="1319.7" stroke="#000" stroke-width="1.6"/>
<text x="126.7" y="1327.6" font-size="21.2" text-anchor="end" font-weight="normal" font-style="normal" fill="#000" textLength="42.6" lengthAdjust="spacingAndGlyphs" >−20</text>
<rect x="831.5" y="128.0" width="572.3" height="271.6" fill="none" stroke="#000" stroke-width="1.5"/>
<line x1="898.6" y1="399.6" x2="898.6" y2="408.2" stroke="#000" stroke-width="1.6"/>
<text x="898.6" y="434.2" font-size="21.2" text-anchor="middle" font-weight="normal" font-style="normal" fill="#000" textLength="50.4" lengthAdjust="spacingAndGlyphs" >2002</text>
<line x1="983.2" y1="399.6" x2="983.2" y2="408.2" stroke="#000" stroke-width="1.6"/>
<text x="983.2" y="434.2" font-size="21.2" text-anchor="middle" font-weight="normal" font-style="normal" fill="#000" textLength="50.4" lengthAdjust="spacingAndGlyphs" >2004</text>
<line x1="1067.8" y1="399.6" x2="1067.8" y2="408.2" stroke="#000" stroke-width="1.6"/>
<text x="1067.8" y="434.2" font-size="21.2" text-anchor="middle" font-weight="normal" font-style="normal" fill="#000" textLength="50.4" lengthAdjust="spacingAndGlyphs" >2006</text>
<line x1="1152.4" y1="399.6" x2="1152.4" y2="408.2" stroke="#000" stroke-width="1.6"/>
<text x="1152.4" y="434.2" font-size="21.2" text-anchor="middle" font-weight="normal" font-style="normal" fill="#000" textLength="50.4" lengthAdjust="spacingAndGlyphs" >2008</text>
<line x1="1237.0" y1="399.6" x2="1237.0" y2="408.2" stroke="#000" stroke-width="1.6"/>
<text x="1237.0" y="434.2" font-size="21.2" text-anchor="middle" font-weight="normal" font-style="normal" fill="#000" textLength="50.4" lengthAdjust="spacingAndGlyphs" >2010</text>
<line x1="1321.6" y1="399.6" x2="1321.6" y2="408.2" stroke="#000" stroke-width="1.6"/>
<text x="1321.6" y="434.2" font-size="21.2" text-anchor="middle" font-weight="normal" font-style="normal" fill="#000" textLength="50.4" lengthAdjust="spacingAndGlyphs" >2012</text>
<line x1="822.9" y1="178.7" x2="831.5" y2="178.7" stroke="#000" stroke-width="1.6"/>
<text x="812.2" y="186.6" font-size="21.2" text-anchor="end" font-weight="normal" font-style="normal" fill="#000" textLength="38.1" lengthAdjust="spacingAndGlyphs" >250</text>
<line x1="822.9" y1="263.5" x2="831.5" y2="263.5" stroke="#000" stroke-width="1.6"/>
<text x="812.2" y="271.4" font-size="21.2" text-anchor="end" font-weight="normal" font-style="normal" fill="#000" textLength="38.1" lengthAdjust="spacingAndGlyphs" >200</text>
<line x1="822.9" y1="347.8" x2="831.5" y2="347.8" stroke="#000" stroke-width="1.6"/>
<text x="812.2" y="355.7" font-size="21.2" text-anchor="end" font-weight="normal" font-style="normal" fill="#000" textLength="38.1" lengthAdjust="spacingAndGlyphs" >150</text>
<rect x="831.5" y="454.2" width="572.3" height="271.6" fill="none" stroke="#000" stroke-width="1.5"/>
<line x1="898.6" y1="725.8" x2="898.6" y2="734.4" stroke="#000" stroke-width="1.6"/>
<text x="898.6" y="760.4" font-size="21.2" text-anchor="middle" font-weight="normal" font-style="normal" fill="#000" textLength="50.4" lengthAdjust="spacingAndGlyphs" >2002</text>
<line x1="983.2" y1="725.8" x2="983.2" y2="734.4" stroke="#000" stroke-width="1.6"/>
<text x="983.2" y="760.4" font-size="21.2" text-anchor="middle" font-weight="normal" font-style="normal" fill="#000" textLength="50.4" lengthAdjust="spacingAndGlyphs" >2004</text>
<line x1="1067.8" y1="725.8" x2="1067.8" y2="734.4" stroke="#000" stroke-width="1.6"/>
<text x="1067.8" y="760.4" font-size="21.2" text-anchor="middle" font-weight="normal" font-style="normal" fill="#000" textLength="50.4" lengthAdjust="spacingAndGlyphs" >2006</text>
<line x1="1152.4" y1="725.8" x2="1152.4" y2="734.4" stroke="#000" stroke-width="1.6"/>
<text x="1152.4" y="760.4" font-size="21.2" text-anchor="middle" font-weight="normal" font-style="normal" fill="#000" textLength="50.4" lengthAdjust="spacingAndGlyphs" >2008</text>
<line x1="1237.0" y1="725.8" x2="1237.0" y2="734.4" stroke="#000" stroke-width="1.6"/>
<text x="1237.0" y="760.4" font-size="21.2" text-anchor="middle" font-weight="normal" font-style="normal" fill="#000" textLength="50.4" lengthAdjust="spacingAndGlyphs" >2010</text>
<line x1="1321.6" y1="725.8" x2="1321.6" y2="734.4" stroke="#000" stroke-width="1.6"/>
<text x="1321.6" y="760.4" font-size="21.2" text-anchor="middle" font-weight="normal" font-style="normal" fill="#000" textLength="50.4" lengthAdjust="spacingAndGlyphs" >2012</text>
<line x1="822.9" y1="540.0" x2="831.5" y2="540.0" stroke="#000" stroke-width="1.6"/>
<text x="812.2" y="547.9" font-size="21.2" text-anchor="end" font-weight="normal" font-style="normal" fill="#000" textLength="77.7" lengthAdjust="spacingAndGlyphs" >1.5e-07</text>
<line x1="822.9" y1="601.7" x2="831.5" y2="601.7" stroke="#000" stroke-width="1.6"/>
<text x="812.2" y="609.6" font-size="21.2" text-anchor="end" font-weight="normal" font-style="normal" fill="#000" textLength="58.7" lengthAdjust="spacingAndGlyphs" >1e-07</text>
<line x1="822.9" y1="663.6" x2="831.5" y2="663.6" stroke="#000" stroke-width="1.6"/>
<text x="812.2" y="671.5" font-size="21.2" text-anchor="end" font-weight="normal" font-style="normal" fill="#000" textLength="58.7" lengthAdjust="spacingAndGlyphs" >5e-08</text>
<rect x="831.5" y="780.4" width="572.3" height="271.6" fill="none" stroke="#000" stroke-width="1.5"/>
<line x1="898.6" y1="1052.0" x2="898.6" y2="1060.6" stroke="#000" stroke-width="1.6"/>
<text x="898.6" y="1086.6" font-size="21.2" text-anchor="middle" font-weight="normal" font-style="normal" fill="#000" textLength="50.4" lengthAdjust="spacingAndGlyphs" >2002</text>
<line x1="983.2" y1="1052.0" x2="983.2" y2="1060.6" stroke="#000" stroke-width="1.6"/>
<text x="983.2" y="1086.6" font-size="21.2" text-anchor="middle" font-weight="normal" font-style="normal" fill="#000" textLength="50.4" lengthAdjust="spacingAndGlyphs" >2004</text>
<line x1="1067.8" y1="1052.0" x2="1067.8" y2="1060.6" stroke="#000" stroke-width="1.6"/>
<text x="1067.8" y="1086.6" font-size="21.2" text-anchor="middle" font-weight="normal" font-style="normal" fill="#000" textLength="50.4" lengthAdjust="spacingAndGlyphs" >2006</text>
<line x1="1152.4" y1="1052.0" x2="1152.4" y2="1060.6" stroke="#000" stroke-width="1.6"/>
<text x="1152.4" y="1086.6" font-size="21.2" text-anchor="middle" font-weight="normal" font-style="normal" fill="#000" textLength="50.4" lengthAdjust="spacingAndGlyphs" >2008</text>
<line x1="1237.0" y1="1052.0" x2="1237.0" y2="1060.6" stroke="#000" stroke-width="1.6"/>
<text x="1237.0" y="1086.6" font-size="21.2" text-anchor="middle" font-weight="normal" font-style="normal" fill="#000" textLength="50.4" lengthAdjust="spacingAndGlyphs" >2010</text>
<line x1="1321.6" y1="1052.0" x2="1321.6" y2="1060.6" stroke="#000" stroke-width="1.6"/>
<text x="1321.6" y="1086.6" font-size="21.2" text-anchor="middle" font-weight="normal" font-style="normal" fill="#000" textLength="50.4" lengthAdjust="spacingAndGlyphs" >2012</text>
<line x1="822.9" y1="824.4" x2="831.5" y2="824.4" stroke="#000" stroke-width="1.6"/>
<text x="801.5" y="833.7" font-size="21.2" text-anchor="end" font-weight="normal" font-style="normal" fill="#000" textLength="23.2" lengthAdjust="spacingAndGlyphs" >10</text>
<text x="804.5" y="824.8" font-size="14.5" text-anchor="start" font-weight="normal" font-style="normal" fill="#000" textLength="9.0" lengthAdjust="spacingAndGlyphs" >3</text>
<line x1="822.9" y1="919.6" x2="831.5" y2="919.6" stroke="#000" stroke-width="1.6"/>
<text x="801.5" y="928.9" font-size="21.2" text-anchor="end" font-weight="normal" font-style="normal" fill="#000" textLength="23.2" lengthAdjust="spacingAndGlyphs" >10</text>
<text x="804.5" y="920.0" font-size="14.5" text-anchor="start" font-weight="normal" font-style="normal" fill="#000" textLength="9.0" lengthAdjust="spacingAndGlyphs" >2</text>
<line x1="822.9" y1="1014.0" x2="831.5" y2="1014.0" stroke="#000" stroke-width="1.6"/>
<text x="801.5" y="1023.3" font-size="21.2" text-anchor="end" font-weight="normal" font-style="normal" fill="#000" textLength="23.2" lengthAdjust="spacingAndGlyphs" >10</text>
<text x="804.5" y="1014.4" font-size="14.5" text-anchor="start" font-weight="normal" font-style="normal" fill="#000" textLength="9.0" lengthAdjust="spacingAndGlyphs" >1</text>
<line x1="826.6" y1="1051.7" x2="831.5" y2="1051.7" stroke="#000" stroke-width="1.3"/>
<line x1="826.6" y1="1042.5" x2="831.5" y2="1042.5" stroke="#000" stroke-width="1.3"/>
<line x1="826.6" y1="1035.0" x2="831.5" y2="1035.0" stroke="#000" stroke-width="1.3"/>
<line x1="826.6" y1="1028.7" x2="831.5" y2="1028.7" stroke="#000" stroke-width="1.3"/>
<line x1="826.6" y1="1023.2" x2="831.5" y2="1023.2" stroke="#000" stroke-width="1.3"/>
<line x1="826.6" y1="1018.3" x2="831.5" y2="1018.3" stroke="#000" stroke-width="1.3"/>
<line x1="826.6" y1="985.5" x2="831.5" y2="985.5" stroke="#000" stroke-width="1.3"/>
<line x1="826.6" y1="968.8" x2="831.5" y2="968.8" stroke="#000" stroke-width="1.3"/>
<line x1="826.6" y1="956.9" x2="831.5" y2="956.9" stroke="#000" stroke-width="1.3"/>
<line x1="826.6" y1="947.7" x2="831.5" y2="947.7" stroke="#000" stroke-width="1.3"/>
<line x1="826.6" y1="940.2" x2="831.5" y2="940.2" stroke="#000" stroke-width="1.3"/>
<line x1="826.6" y1="933.9" x2="831.5" y2="933.9" stroke="#000" stroke-width="1.3"/>
<line x1="826.6" y1="928.4" x2="831.5" y2="928.4" stroke="#000" stroke-width="1.3"/>
<line x1="826.6" y1="923.5" x2="831.5" y2="923.5" stroke="#000" stroke-width="1.3"/>
<line x1="826.6" y1="890.7" x2="831.5" y2="890.7" stroke="#000" stroke-width="1.3"/>
<line x1="826.6" y1="874.0" x2="831.5" y2="874.0" stroke="#000" stroke-width="1.3"/>
<line x1="826.6" y1="862.1" x2="831.5" y2="862.1" stroke="#000" stroke-width="1.3"/>
<line x1="826.6" y1="852.9" x2="831.5" y2="852.9" stroke="#000" stroke-width="1.3"/>
<line x1="826.6" y1="845.4" x2="831.5" y2="845.4" stroke="#000" stroke-width="1.3"/>
<line x1="826.6" y1="839.1" x2="831.5" y2="839.1" stroke="#000" stroke-width="1.3"/>
<line x1="826.6" y1="833.6" x2="831.5" y2="833.6" stroke="#000" stroke-width="1.3"/>
<line x1="826.6" y1="828.7" x2="831.5" y2="828.7" stroke="#000" stroke-width="1.3"/>
<line x1="826.6" y1="795.9" x2="831.5" y2="795.9" stroke="#000" stroke-width="1.3"/>
<rect x="831.5" y="1106.6" width="572.3" height="271.6" fill="none" stroke="#000" stroke-width="1.5"/>
<line x1="898.6" y1="1378.2" x2="898.6" y2="1386.8" stroke="#000" stroke-width="1.6"/>
<text x="898.6" y="1412.8" font-size="21.2" text-anchor="middle" font-weight="normal" font-style="normal" fill="#000" textLength="50.4" lengthAdjust="spacingAndGlyphs" >2002</text>
<line x1="983.2" y1="1378.2" x2="983.2" y2="1386.8" stroke="#000" stroke-width="1.6"/>
<text x="983.2" y="1412.8" font-size="21.2" text-anchor="middle" font-weight="normal" font-style="normal" fill="#000" textLength="50.4" lengthAdjust="spacingAndGlyphs" >2004</text>
<line x1="1067.8" y1="1378.2" x2="1067.8" y2="1386.8" stroke="#000" stroke-width="1.6"/>
<text x="1067.8" y="1412.8" font-size="21.2" text-anchor="middle" font-weight="normal" font-style="normal" fill="#000" textLength="50.4" lengthAdjust="spacingAndGlyphs" >2006</text>
<line x1="1152.4" y1="1378.2" x2="1152.4" y2="1386.8" stroke="#000" stroke-width="1.6"/>
<text x="1152.4" y="1412.8" font-size="21.2" text-anchor="middle" font-weight="normal" font-style="normal" fill="#000" textLength="50.4" lengthAdjust="spacingAndGlyphs" >2008</text>
<line x1="1237.0" y1="1378.2" x2="1237.0" y2="1386.8" stroke="#000" stroke-width="1.6"/>
<text x="1237.0" y="1412.8" font-size="21.2" text-anchor="middle" font-weight="normal" font-style="normal" fill="#000" textLength="50.4" lengthAdjust="spacingAndGlyphs" >2010</text>
<line x1="1321.6" y1="1378.2" x2="1321.6" y2="1386.8" stroke="#000" stroke-width="1.6"/>
<text x="1321.6" y="1412.8" font-size="21.2" text-anchor="middle" font-weight="normal" font-style="normal" fill="#000" textLength="50.4" lengthAdjust="spacingAndGlyphs" >2012</text>
<line x1="822.9" y1="1164.3" x2="831.5" y2="1164.3" stroke="#000" stroke-width="1.6"/>
<text x="812.2" y="1172.2" font-size="21.2" text-anchor="end" font-weight="normal" font-style="normal" fill="#000" textLength="25.4" lengthAdjust="spacingAndGlyphs" >20</text>
<line x1="822.9" y1="1242.2" x2="831.5" y2="1242.2" stroke="#000" stroke-width="1.6"/>
<text x="812.2" y="1250.1" font-size="21.2" text-anchor="end" font-weight="normal" font-style="normal" fill="#000" textLength="12.7" lengthAdjust="spacingAndGlyphs" >0</text>
<line x1="822.9" y1="1319.7" x2="831.5" y2="1319.7" stroke="#000" stroke-width="1.6"/>
<text x="812.2" y="1327.6" font-size="21.2" text-anchor="end" font-weight="normal" font-style="normal" fill="#000" textLength="42.6" lengthAdjust="spacingAndGlyphs" >−20</text>
<rect x="158.0" y="139.5" width="32.6" height="41.1" fill="#fff" stroke="#000" stroke-width="2.3"/>
<text x="174.2" y="169.8" font-size="29.0" text-anchor="middle" font-weight="bold" font-style="normal" fill="#000" stroke="#000" stroke-width="0.6">A</text>
<rect x="843.4" y="139.8" width="33.2" height="40.2" fill="#fff" stroke="#000" stroke-width="2.3"/>
<text x="860.0" y="170.1" font-size="29.0" text-anchor="middle" font-weight="bold" font-style="normal" fill="#000" stroke="#000" stroke-width="0.6">B</text>
<rect x="158.0" y="465.8" width="33.1" height="40.9" fill="#fff" stroke="#000" stroke-width="2.3"/>
<text x="174.5" y="496.2" font-size="29.0" text-anchor="middle" font-weight="bold" font-style="normal" fill="#000" stroke="#000" stroke-width="0.6">C</text>
<rect x="843.4" y="465.3" width="27.4" height="41.9" fill="#fff" stroke="#000" stroke-width="2.3"/>
<text x="855.5" y="495.7" font-size="29.0" text-anchor="middle" font-weight="bold" font-style="normal" fill="#000" stroke="#000" stroke-width="0.6">D</text>
<rect x="158.0" y="791.9" width="31.0" height="41.3" fill="#fff" stroke="#000" stroke-width="2.3"/>
<text x="173.4" y="822.2" font-size="29.0" text-anchor="middle" font-weight="bold" font-style="normal" fill="#000" stroke="#000" stroke-width="0.6">E</text>
<rect x="843.9" y="792.5" width="33.1" height="39.4" fill="#fff" stroke="#000" stroke-width="2.3"/>
<text x="860.4" y="822.9" font-size="29.0" text-anchor="middle" font-weight="bold" font-style="normal" fill="#000" stroke="#000" stroke-width="0.6">F</text>
<rect x="157.6" y="1118.0" width="34.0" height="41.7" fill="#fff" stroke="#000" stroke-width="2.3"/>
<text x="174.6" y="1148.3" font-size="29.0" text-anchor="middle" font-weight="bold" font-style="normal" fill="#000" stroke="#000" stroke-width="0.6">G</text>
<rect x="843.9" y="1118.9" width="33.0" height="40.4" fill="#fff" stroke="#000" stroke-width="2.3"/>
<text x="860.4" y="1149.2" font-size="29.0" text-anchor="middle" font-weight="bold" font-style="normal" fill="#000" stroke="#000" stroke-width="0.6">H</text>
<rect x="528.5" y="135.6" width="169.9" height="31.7" rx="5" ry="5" fill="#e8e8e8" stroke="#7f7f7f" stroke-width="2.5"/>
<text x="535.5" y="157.2" font-size="20.0" text-anchor="start" font-weight="normal" font-style="italic" fill="#000" textLength="56.0" lengthAdjust="spacingAndGlyphs" >RMSE</text>
<text x="597.5" y="157.2" font-size="20.0" text-anchor="start" font-weight="normal" font-style="normal" fill="#000" textLength="14.0" lengthAdjust="spacingAndGlyphs" >=</text>
<text x="619.5" y="157.2" font-size="20.0" text-anchor="start" font-weight="normal" font-style="normal" fill="#000" textLength="72.5" lengthAdjust="spacingAndGlyphs" >6.7 (m)</text>
<rect x="1214.0" y="135.4" width="172.2" height="32.1" rx="5" ry="5" fill="#e8e8e8" stroke="#7f7f7f" stroke-width="2.5"/>
<text x="1221.0" y="157.2" font-size="20.0" text-anchor="start" font-weight="normal" font-style="italic" fill="#000" textLength="56.0" lengthAdjust="spacingAndGlyphs" >RMSE</text>
<text x="1283.0" y="157.2" font-size="20.0" text-anchor="start" font-weight="normal" font-style="normal" fill="#000" textLength="14.0" lengthAdjust="spacingAndGlyphs" >=</text>
<text x="1305.0" y="157.2" font-size="20.0" text-anchor="start" font-weight="normal" font-style="normal" fill="#000" textLength="72.5" lengthAdjust="spacingAndGlyphs" >7.9 (m)</text>
<text x="401.2" y="365.8" font-size="33.5" text-anchor="middle" font-weight="normal" font-style="normal" fill="#000" textLength="32.2" lengthAdjust="spacingAndGlyphs" >P2</text>
<rect x="434.1" y="468.4" width="269.2" height="43.0" rx="4" ry="4" fill="#fff" fill-opacity="0.8" stroke="#cccccc" stroke-width="2"/>
<line x1="443.4" y1="489.9" x2="482.4" y2="489.9" stroke="#000" stroke-width="2.6" stroke-dasharray="13.3,12.5"/>
<text x="517.1" y="499.9" font-size="28.0" text-anchor="start" font-weight="normal" font-style="italic" fill="#000" textLength="14.0" lengthAdjust="spacingAndGlyphs" >c</text>
<text x="532.1" y="487.4" font-size="19.0" text-anchor="start" font-weight="normal" font-style="italic" fill="#000" textLength="10.0" lengthAdjust="spacingAndGlyphs" >a</text>
<line x1="594.8" y1="489.9" x2="646.1" y2="489.9" stroke="#000" stroke-width="2.2" stroke-dasharray="2.2,3.2"/>
<text x="668.1" y="499.9" font-size="28.0" text-anchor="start" font-weight="normal" font-style="italic" fill="#000" textLength="14.0" lengthAdjust="spacingAndGlyphs" >c</text>
<text x="683.1" y="487.4" font-size="19.0" text-anchor="start" font-weight="normal" font-style="italic" fill="#000" textLength="10.0" lengthAdjust="spacingAndGlyphs" >e</text>
<rect x="1119.7" y="468.1" width="270.2" height="44.0" rx="4" ry="4" fill="#fff" fill-opacity="0.8" stroke="#cccccc" stroke-width="2"/>
<line x1="1129.0" y1="490.1" x2="1168.0" y2="490.1" stroke="#000" stroke-width="2.6" stroke-dasharray="13.3,12.5"/>
<text x="1202.7" y="500.1" font-size="28.0" text-anchor="start" font-weight="normal" font-style="italic" fill="#000" textLength="14.0" lengthAdjust="spacingAndGlyphs" >c</text>
<text x="1217.7" y="487.6" font-size="19.0" text-anchor="start" font-weight="normal" font-style="italic" fill="#000" textLength="10.0" lengthAdjust="spacingAndGlyphs" >a</text>
<line x1="1280.4" y1="490.1" x2="1331.7" y2="490.1" stroke="#000" stroke-width="2.2" stroke-dasharray="2.2,3.2"/>
<text x="1353.7" y="500.1" font-size="28.0" text-anchor="start" font-weight="normal" font-style="italic" fill="#000" textLength="14.0" lengthAdjust="spacingAndGlyphs" >c</text>
<text x="1368.7" y="487.6" font-size="19.0" text-anchor="start" font-weight="normal" font-style="italic" fill="#000" textLength="10.0" lengthAdjust="spacingAndGlyphs" >e</text>
<text transform="translate(71.0,264.8) rotate(-90)" x="0" y="0" font-size="31.0" text-anchor="middle" font-style="normal" textLength="203.6" lengthAdjust="spacingAndGlyphs">shoreline (m)</text>
<text transform="translate(66.0,1242.0) rotate(-90)" x="0" y="0" font-size="31.0" text-anchor="middle" font-style="normal" textLength="162.0" lengthAdjust="spacingAndGlyphs"><tspan font-style="italic">b</tspan> (m/year)</text>
<text transform="translate(30.6,736.0) rotate(-90)" x="0" y="0" font-size="31.0" text-anchor="start" font-style="italic" textLength="20.0" lengthAdjust="spacingAndGlyphs">c</text>
<text transform="translate(17.6,713.0) rotate(-90)" x="0" y="0" font-size="21.0" text-anchor="start" font-style="italic" textLength="48.5" lengthAdjust="spacingAndGlyphs">a,e</text>
<text transform="translate(30.6,663.0) rotate(-90)" x="0" y="0" font-size="31.0" text-anchor="start" font-style="normal" textLength="13.0" lengthAdjust="spacingAndGlyphs">(</text>
<text transform="translate(30.6,650.0) rotate(-90)" x="0" y="0" font-size="31.0" text-anchor="start" font-style="italic" textLength="26.0" lengthAdjust="spacingAndGlyphs">m</text>
<text transform="translate(17.6,622.0) rotate(-90)" x="0" y="0" font-size="21.0" text-anchor="start" font-style="normal" textLength="37.0" lengthAdjust="spacingAndGlyphs">1.5</text>
<text transform="translate(30.6,585.0) rotate(-90)" x="0" y="0" font-size="31.0" text-anchor="start" font-style="italic" textLength="19.4" lengthAdjust="spacingAndGlyphs">s</text>
<text transform="translate(17.6,563.0) rotate(-90)" x="0" y="0" font-size="21.0" text-anchor="start" font-style="normal" textLength="34.4" lengthAdjust="spacingAndGlyphs">−1</text>
<text transform="translate(30.6,528.6) rotate(-90)" x="0" y="0" font-size="31.0" text-anchor="start" font-style="italic" textLength="24.0" lengthAdjust="spacingAndGlyphs">W</text>
<text transform="translate(17.6,504.7) rotate(-90)" x="0" y="0" font-size="21.0" text-anchor="start" font-style="normal" textLength="51.1" lengthAdjust="spacingAndGlyphs">−0.5</text>
<text transform="translate(30.6,453.6) rotate(-90)" x="0" y="0" font-size="31.0" text-anchor="start" font-style="normal" textLength="14.1" lengthAdjust="spacingAndGlyphs">)</text>
<text transform="translate(74.2,1024.0) rotate(-90)" x="0" y="0" font-size="31.0" text-anchor="start" font-style="normal" textLength="33.0" lengthAdjust="spacingAndGlyphs">10</text>
<text transform="translate(59.3,988.8) rotate(-90)" x="0" y="0" font-size="21.0" text-anchor="start" font-style="italic" textLength="14.4" lengthAdjust="spacingAndGlyphs">φ</text>
<text transform="translate(74.2,962.0) rotate(-90)" x="0" y="0" font-size="31.0" text-anchor="start" font-style="normal" textLength="20.0" lengthAdjust="spacingAndGlyphs">=</text>
<text transform="translate(74.2,933.5) rotate(-90)" x="0" y="0" font-size="31.0" text-anchor="start" font-style="italic" textLength="15.5" lengthAdjust="spacingAndGlyphs">ϕ</text>
<text transform="translate(74.2,902.6) rotate(-90)" x="0" y="0" font-size="31.0" text-anchor="start" font-style="normal" textLength="96.1" lengthAdjust="spacingAndGlyphs">(days)</text>
<text x="432.0" y="1446.2" font-size="26.0" text-anchor="middle" font-weight="normal" font-style="normal" fill="#000" textLength="54.3" lengthAdjust="spacingAndGlyphs" >Year</text>
<text x="1118.0" y="1446.2" font-size="26.0" text-anchor="middle" font-weight="normal" font-style="normal" fill="#000" textLength="54.3" lengthAdjust="spacingAndGlyphs" >Year</text>
</svg></body></html>
